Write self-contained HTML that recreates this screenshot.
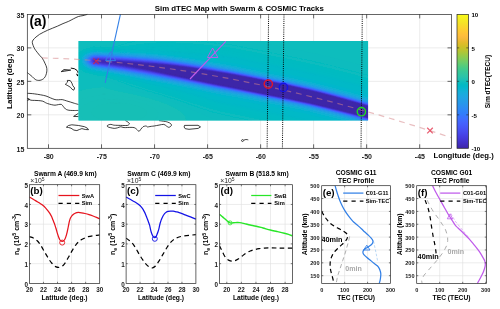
<!DOCTYPE html>
<html><head><meta charset="utf-8"><title>Sim dTEC Map with Swarm &amp; COSMIC Tracks</title>
<style>
html,body{margin:0;padding:0;background:#fff;}
body{width:500px;height:309px;overflow:hidden;}
svg{display:block;will-change:transform;}
text{font-family:"Liberation Sans",sans-serif;fill:#262626;}
.b{font-weight:bold;fill:#000;}
.t{font-weight:bold;fill:#1a1a1a;}
</style></head><body>
<svg width="500" height="309" viewBox="0 0 500 309">
<rect x="0" y="0" width="500" height="309" fill="#fff"/>
<defs><clipPath id="cm"><rect x="27.30" y="14.40" width="424.20" height="133.90"/></clipPath>
<clipPath id="ci"><rect x="78.50" y="40.90" width="289.60" height="79.70"/></clipPath></defs>
<path d="M48.51 14.40V148.30M101.53 14.40V148.30M154.56 14.40V148.30M207.59 14.40V148.30M260.61 14.40V148.30M313.63 14.40V148.30M366.66 14.40V148.30M419.69 14.40V148.30M27.30 114.83H451.50M27.30 81.35H451.50M27.30 47.88H451.50" stroke="#dfdfdf" stroke-width="0.6" fill="none"/>
<path d="M87.30 14.40C86.58 14.60 84.48 15.25 83.00 15.60C81.52 15.95 79.98 15.97 78.40 16.50C76.82 17.03 75.12 18.00 73.50 18.80C71.88 19.60 70.45 20.50 68.70 21.30C66.95 22.10 64.88 22.78 63.00 23.60C61.12 24.42 59.15 25.43 57.40 26.20C55.65 26.97 54.12 27.53 52.50 28.20C50.88 28.87 49.20 29.53 47.70 30.20C46.20 30.87 44.85 31.52 43.50 32.20C42.15 32.88 40.85 33.50 39.60 34.30C38.35 35.10 37.08 36.05 36.00 37.00C34.92 37.95 33.72 39.10 33.10 40.00C32.48 40.90 32.28 41.47 32.30 42.40C32.32 43.33 32.80 44.52 33.20 45.60C33.60 46.68 34.05 47.80 34.70 48.90C35.35 50.00 36.28 51.13 37.10 52.20C37.92 53.27 38.78 54.37 39.60 55.30C40.42 56.23 41.30 56.88 42.00 57.80C42.70 58.72 43.27 59.80 43.80 60.80C44.33 61.80 44.75 62.77 45.20 63.80C45.65 64.83 46.22 65.93 46.50 67.00C46.78 68.07 46.92 69.10 46.90 70.20C46.88 71.30 46.68 72.52 46.40 73.60C46.12 74.68 45.70 75.83 45.20 76.70C44.70 77.57 44.07 78.25 43.40 78.80C42.73 79.35 41.97 79.73 41.20 80.00C40.43 80.27 39.62 80.40 38.80 80.40C37.98 80.40 37.07 80.30 36.30 80.00C35.53 79.70 34.87 79.15 34.20 78.60C33.53 78.05 33.03 77.37 32.30 76.70C31.57 76.03 30.63 75.28 29.80 74.60C28.97 73.92 27.72 72.93 27.30 72.60" stroke="#000" stroke-width="0.75" fill="none" stroke-linejoin="round"/>
<path d="M27.30 93.30C27.92 93.33 29.77 93.40 31.00 93.50C32.23 93.60 33.12 93.68 34.70 93.90C36.28 94.12 38.62 94.45 40.50 94.80C42.38 95.15 44.33 95.48 46.00 96.00C47.67 96.52 49.00 97.30 50.50 97.90C52.00 98.50 53.67 99.28 55.00 99.60C56.33 99.92 57.30 99.80 58.50 99.80C59.70 99.80 60.90 99.43 62.20 99.60C63.50 99.77 64.95 100.40 66.30 100.80C67.65 101.20 68.95 101.58 70.30 102.00C71.65 102.42 73.03 102.88 74.40 103.30C75.77 103.72 77.82 104.30 78.50 104.50" stroke="#000" stroke-width="0.75" fill="none" stroke-linejoin="round"/>
<path d="M27.30 100.60C27.67 100.37 29.47 99.53 29.50 99.20C29.53 98.87 27.25 98.43 27.50 98.60C27.75 98.77 29.80 99.90 31.00 100.20C32.20 100.50 33.40 100.33 34.70 100.40C36.00 100.47 37.45 100.47 38.80 100.60C40.15 100.73 41.70 100.87 42.80 101.20C43.90 101.53 44.58 102.20 45.40 102.60C46.22 103.00 46.72 103.27 47.70 103.60C48.68 103.93 50.08 104.33 51.30 104.60C52.52 104.87 53.82 105.20 55.00 105.20C56.18 105.20 57.33 104.73 58.40 104.60C59.47 104.47 60.57 104.07 61.40 104.40C62.23 104.73 62.72 105.83 63.40 106.60C64.08 107.37 64.77 108.43 65.50 109.00C66.23 109.57 67.00 109.77 67.80 110.00C68.60 110.23 69.20 110.32 70.30 110.40C71.40 110.48 73.03 110.50 74.40 110.50C75.77 110.50 77.82 110.42 78.50 110.40" stroke="#000" stroke-width="0.75" fill="none" stroke-linejoin="round"/>
<path d="M125.40 120.60C125.80 120.83 127.13 121.50 127.80 122.00C128.47 122.50 129.27 123.13 129.40 123.60C129.53 124.07 129.00 124.48 128.60 124.80C128.20 125.12 128.33 125.40 127.00 125.50C125.67 125.60 122.73 125.45 120.60 125.40C118.47 125.35 115.63 125.33 114.20 125.20C112.77 125.07 112.67 124.73 112.00 124.60C111.33 124.47 110.83 124.33 110.20 124.40C109.57 124.47 108.73 124.73 108.20 125.00C107.67 125.27 107.00 125.67 107.00 126.00C107.00 126.33 107.67 126.73 108.20 127.00C108.73 127.27 109.20 127.37 110.20 127.60C111.20 127.83 112.98 128.37 114.20 128.40C115.42 128.43 116.43 128.07 117.50 127.80C118.57 127.53 119.68 126.87 120.60 126.80C121.52 126.73 122.20 127.27 123.00 127.40C123.80 127.53 124.27 127.60 125.40 127.60C126.53 127.60 128.33 127.40 129.80 127.40C131.27 127.40 133.03 127.27 134.20 127.60C135.37 127.93 136.00 128.78 136.80 129.40C137.60 130.02 138.30 131.37 139.00 131.30C139.70 131.23 140.33 129.75 141.00 129.00C141.67 128.25 142.40 127.27 143.00 126.80C143.60 126.33 144.07 126.33 144.60 126.20C145.13 126.07 145.73 125.88 146.20 126.00C146.67 126.12 147.00 126.77 147.40 126.90C147.80 127.03 147.93 126.90 148.60 126.80C149.27 126.70 150.47 126.43 151.40 126.30C152.33 126.17 152.93 126.20 154.20 126.00C155.47 125.80 157.40 125.37 159.00 125.10C160.60 124.83 162.57 124.25 163.80 124.40C165.03 124.55 165.60 125.52 166.40 126.00C167.20 126.48 167.93 127.20 168.60 127.30C169.27 127.40 169.92 126.95 170.40 126.60C170.88 126.25 171.43 125.67 171.50 125.20C171.57 124.73 171.15 124.20 170.80 123.80C170.45 123.40 169.97 123.10 169.40 122.80C168.83 122.50 168.07 122.22 167.40 122.00C166.73 121.78 166.30 121.67 165.40 121.50C164.50 121.33 163.07 121.15 162.00 121.00C160.93 120.85 159.50 120.67 159.00 120.60" stroke="#000" stroke-width="0.75" fill="none" stroke-linejoin="round"/>
<path d="M66.4 127.2L68.5 125.5L71.8 124.8L78.6 125.5L84.5 126.7L87.4 128.2L88.5 129.7L85.3 129.5L81.9 128.6L79.4 129.5L76.9 130.6L73.9 130.1L71 128.2L68.5 127.5ZM78.6 113.2L73.6 116.4L78.6 116.6" stroke="#000" stroke-width="0.75" fill="none" stroke-linejoin="round"/>
<path d="M67.3 80.4L70.2 80.5L71.9 83.1L72.8 85.7L74.7 88L73.7 90.2L72.1 89.3L70.5 87.3L67.9 85.7L65.3 84.3L67.6 82.1Z" stroke="#000" stroke-width="0.75" fill="none" stroke-linejoin="round"/>
<path d="M61.1 71.7L64 69.5L70.8 70.1L64.7 71.2Z" stroke="#000" stroke-width="0.7" fill="#000" fill-opacity="0.35" stroke-linejoin="round"/>
<path d="M71.2 68.1Q75 68.2 77 70.4T78 72.8" stroke="#000" stroke-width="0.95" fill="none" stroke-linecap="round"/>
<path d="M76.9 74.2L77.6 75.5" stroke="#000" stroke-width="1.2" fill="none" stroke-linecap="round"/>
<path d="M184.5 125.4L198 125.3L200.5 126.9L198.2 128.4L189 129.3L185.2 128.7L184.1 127Z" stroke="#000" stroke-width="0.75" fill="none" stroke-linejoin="round"/>
<path d="M241.5 140.6c0-1.2 2-1.4 2.2-0.2c0.2 1.2-2.2 1.6-2.2 0.2zM243.7 140.2c1.5-0.9 3-0.8 4.6-0.3" stroke="#000" stroke-width="0.7" fill="none"/>
<defs><filter id="bl" filterUnits="userSpaceOnUse" x="68.5" y="30.9" width="309.6" height="99.7"><feGaussianBlur stdDeviation="0.55"/></filter></defs>
<g clip-path="url(#ci)">
<rect x="78.50" y="40.90" width="289.60" height="79.70" fill="#12beb9"/>
<g filter="url(#bl)">
<rect x="70.50" y="32.90" width="305.60" height="95.70" fill="#14bfb8"/>
<path d="M101.8 94.4L102.5 94.3L103.5 94.3L104.5 94.3L105.5 94.3L106.5 94.4L107.5 94.4L108.0 94.5L109.0 94.5L110.0 94.5L111.0 94.6L112.0 94.7L113.0 94.8L114.0 94.8L114.5 94.9L115.5 95.0L116.5 95.1L117.5 95.2L118.5 95.3L119.4 95.4L120.0 95.5L121.0 95.6L122.0 95.7L123.0 95.8L123.5 95.9L124.5 96.1L125.5 96.3L126.5 96.4L127.0 96.5L128.0 96.6L129.0 96.8L129.5 96.9L130.5 97.1L131.5 97.2L132.2 97.4L133.0 97.5L134.0 97.7L134.8 97.9L135.5 98.0L136.5 98.3L137.2 98.4L138.0 98.6L139.0 98.8L139.5 98.9L140.5 99.2L141.5 99.4L142.0 99.6L143.0 99.8L143.5 100.0L144.5 100.2L145.2 100.4L146.0 100.6L147.0 100.9L147.5 101.1L148.5 101.4L149.0 101.5L150.0 101.8L150.5 102.0L151.5 102.3L152.0 102.5L153.0 102.9L153.5 103.0L154.4 103.4L155.0 103.6L155.7 103.9L156.5 104.3L157.0 104.4L158.0 104.9L158.5 105.1L159.1 105.4L160.0 105.8L160.5 106.1L161.1 106.4L162.0 106.9L162.5 107.2L163.0 107.4L163.7 107.9L164.5 108.4L165.0 108.7L165.5 109.1L166.0 109.5L166.5 109.9L167.0 110.4L167.5 110.9L168.0 111.4L168.5 112.1L169.0 112.9L169.3 113.4L169.5 114.1L169.7 114.9L169.7 115.9L169.5 116.7L169.2 117.4L169.0 117.9L168.5 118.6L168.0 119.2L167.5 119.8L167.0 120.2L166.5 120.6L166.0 121.0L165.5 121.4L164.7 121.9L164.0 122.3L163.5 122.6L163.0 122.9L162.0 123.4L161.5 123.6L160.9 123.9L160.0 124.3L159.5 124.4L158.5 124.4L157.5 124.4L156.5 124.4L155.5 124.4L154.5 124.4L153.5 124.4L152.5 124.4L151.5 124.4L150.5 124.4L149.5 124.4L148.5 124.4L147.5 124.4L146.5 124.4L145.5 124.4L144.5 124.4L143.5 124.4L142.5 124.4L141.5 124.4L140.5 124.4L139.5 124.4L138.5 124.4L137.5 124.4L136.5 124.4L135.5 124.4L134.5 124.4L133.5 124.4L132.5 124.4L131.5 124.4L130.5 124.4L129.5 124.4L128.5 124.4L127.5 124.4L126.5 124.4L125.5 124.4L124.5 124.4L123.5 124.4L122.5 124.4L121.5 124.4L120.5 124.4L119.5 124.4L118.5 124.4L117.5 124.4L116.5 124.4L115.5 124.4L114.5 124.4L113.5 124.4L112.5 124.4L111.5 124.4L110.5 124.4L109.5 124.4L108.5 124.4L107.5 124.4L106.5 124.4L105.5 124.4L104.5 124.4L103.5 124.4L102.5 124.4L101.5 124.4L100.5 124.4L99.5 124.4L98.5 124.4L97.5 124.4L96.5 124.4L95.5 124.4L94.5 124.4L93.5 124.4L92.5 124.4L91.5 124.4L90.5 124.4L89.5 124.4L88.5 124.4L87.5 124.4L86.5 124.4L85.5 124.4L84.5 124.4L83.5 124.4L82.5 124.4L81.5 124.4L80.5 124.4L79.9 124.4L79.0 124.0L78.5 123.8L77.6 123.4L77.0 123.1L76.5 122.9L75.5 122.4L75.0 122.1L74.5 121.8L74.5 120.9L74.5 119.9L74.5 118.9L74.5 117.9L74.5 116.9L74.5 115.9L74.5 114.9L74.5 113.9L74.5 112.9L74.5 111.9L74.5 110.9L74.5 109.9L74.5 108.9L74.5 107.9L74.5 106.9L74.5 105.9L74.5 104.9L74.5 103.9L74.5 102.9L74.5 102.2L75.0 101.9L75.9 101.4L76.5 101.1L77.0 100.9L78.0 100.4L78.5 100.2L79.2 99.9L80.0 99.6L80.5 99.4L81.5 99.0L82.0 98.8L83.0 98.5L83.5 98.3L84.5 98.0L85.0 97.8L86.0 97.6L86.5 97.4L87.5 97.1L88.4 96.9L89.0 96.7L90.0 96.5L90.5 96.4L91.5 96.2L92.5 95.9L93.0 95.8L94.0 95.6L95.0 95.5L95.5 95.4L96.5 95.2L97.5 95.0L98.2 94.9L99.0 94.8L100.0 94.6L101.0 94.5L101.8 94.4Z" fill="#14bfb8" fill-rule="evenodd" stroke="#14bfb8" stroke-width="0.3"/>
<path d="M103.7 98.9L104.5 98.8L105.5 98.8L106.5 98.7L107.5 98.6L108.5 98.6L109.5 98.6L110.5 98.6L111.5 98.5L112.5 98.6L113.5 98.6L114.5 98.6L115.5 98.6L116.5 98.7L117.5 98.7L118.5 98.8L119.5 98.9L120.0 98.9L121.0 99.0L122.0 99.1L123.0 99.2L124.0 99.3L125.0 99.4L125.5 99.5L126.5 99.6L127.5 99.8L128.5 99.9L129.0 100.0L130.0 100.1L131.0 100.3L131.5 100.4L132.5 100.6L133.5 100.8L134.1 100.9L135.0 101.1L136.0 101.3L136.5 101.4L137.5 101.6L138.5 101.9L139.0 102.0L140.0 102.3L140.5 102.4L141.5 102.7L142.2 102.9L143.0 103.1L143.8 103.4L144.5 103.6L145.3 103.9L146.0 104.1L146.7 104.4L147.5 104.7L148.0 104.9L149.0 105.3L149.5 105.5L150.3 105.9L151.0 106.2L151.5 106.5L152.3 106.9L153.0 107.3L153.5 107.6L154.0 107.9L154.7 108.4L155.4 108.9L156.0 109.4L156.5 109.9L157.0 110.4L157.4 110.9L157.8 111.4L158.1 111.9L158.4 112.9L158.5 113.4L158.5 114.4L158.5 114.9L158.1 115.9L157.8 116.4L157.4 116.9L157.0 117.4L156.5 117.9L155.9 118.4L155.3 118.9L154.5 119.4L154.0 119.7L153.5 120.0L152.8 120.4L152.0 120.8L151.5 121.0L150.7 121.4L150.0 121.7L149.4 121.9L148.5 122.2L148.0 122.4L147.0 122.7L146.5 122.9L145.5 123.2L144.7 123.4L144.0 123.6L143.0 123.8L142.5 124.0L141.5 124.2L140.5 124.4L140.0 124.4L139.0 124.4L138.0 124.4L137.0 124.4L136.0 124.4L135.0 124.4L134.0 124.4L133.0 124.4L132.0 124.4L131.0 124.4L130.0 124.4L129.0 124.4L128.0 124.4L127.0 124.4L126.0 124.4L125.0 124.4L124.0 124.4L123.0 124.4L122.0 124.4L121.0 124.4L120.0 124.4L119.0 124.4L118.0 124.4L117.0 124.4L116.0 124.4L115.0 124.4L114.0 124.4L113.0 124.4L112.0 124.4L111.0 124.4L110.0 124.4L109.0 124.4L108.0 124.4L107.0 124.4L106.0 124.4L105.0 124.4L104.0 124.4L103.0 124.4L102.0 124.4L101.0 124.4L100.0 124.4L99.3 124.4L98.5 124.2L97.5 124.0L97.0 123.9L96.0 123.6L95.0 123.4L94.5 123.2L93.5 123.0L93.0 122.8L92.0 122.5L91.5 122.3L90.5 122.0L90.0 121.8L89.0 121.4L88.5 121.2L87.8 120.9L87.0 120.5L86.5 120.3L85.7 119.9L85.0 119.5L84.5 119.2L84.0 118.9L83.3 118.4L82.6 117.9L82.0 117.4L81.5 117.0L81.0 116.5L80.5 115.9L80.1 115.4L79.8 114.9L79.5 114.3L79.2 113.4L79.0 112.5L79.0 111.9L79.0 111.4L79.2 110.4L79.5 109.7L79.9 108.9L80.3 108.4L80.7 107.9L81.1 107.4L81.6 106.9L82.2 106.4L82.9 105.9L83.5 105.4L84.0 105.1L84.5 104.8L85.2 104.4L86.0 104.0L86.5 103.7L87.1 103.4L88.0 103.0L88.5 102.8L89.5 102.4L90.0 102.2L90.8 101.9L91.5 101.7L92.3 101.4L93.0 101.2L94.0 100.9L94.5 100.8L95.5 100.5L96.0 100.4L97.0 100.1L97.9 99.9L98.5 99.8L99.5 99.6L100.3 99.4L101.0 99.3L102.0 99.1L103.0 99.0L103.7 98.9Z" fill="#16bfb7" fill-rule="evenodd" stroke="#16bfb7" stroke-width="0.3"/>
<path d="M109.7 102.9L110.5 102.8L111.5 102.8L112.5 102.7L113.5 102.7L114.5 102.6L115.5 102.6L116.5 102.6L117.5 102.6L118.5 102.7L119.5 102.7L120.5 102.7L121.5 102.8L122.5 102.9L123.0 102.9L124.0 103.0L125.0 103.1L126.0 103.3L126.9 103.4L127.5 103.5L128.5 103.6L129.5 103.8L130.1 103.9L131.0 104.1L132.0 104.3L132.5 104.4L133.5 104.7L134.5 104.9L135.0 105.0L136.0 105.3L136.5 105.5L137.5 105.8L138.0 106.0L139.0 106.3L139.5 106.5L140.4 106.9L141.0 107.2L141.6 107.4L142.5 107.9L143.0 108.2L143.5 108.5L144.1 108.9L144.8 109.4L145.4 109.9L145.9 110.4L146.3 110.9L146.6 111.4L146.9 112.4L147.0 112.9L147.0 113.4L146.7 114.4L146.4 114.9L146.0 115.5L145.5 116.0L145.0 116.4L144.4 116.9L143.6 117.4L143.0 117.7L142.5 118.0L141.7 118.4L141.0 118.7L140.5 118.9L139.5 119.2L139.0 119.4L138.0 119.7L137.4 119.9L136.5 120.1L135.5 120.4L135.0 120.5L134.0 120.7L133.1 120.9L132.5 121.0L131.5 121.2L130.5 121.3L129.9 121.4L129.0 121.5L128.0 121.6L127.0 121.7L126.0 121.8L125.0 121.9L124.5 121.9L123.5 122.0L122.5 122.0L121.5 122.0L120.5 122.0L119.5 122.0L118.5 122.0L117.5 122.0L116.5 122.0L115.5 121.9L115.0 121.9L114.0 121.8L113.0 121.7L112.0 121.6L111.0 121.5L110.0 121.4L109.5 121.4L108.5 121.2L107.5 121.0L106.7 120.9L106.0 120.8L105.0 120.6L104.2 120.4L103.5 120.2L102.5 120.0L102.0 119.8L101.0 119.5L100.5 119.4L99.5 119.0L99.0 118.9L98.0 118.5L97.5 118.2L96.7 117.9L96.0 117.5L95.5 117.2L94.9 116.9L94.2 116.4L93.5 115.9L93.0 115.4L92.5 114.9L92.1 114.4L91.8 113.9L91.5 113.2L91.3 112.4L91.3 111.4L91.5 110.8L91.9 109.9L92.3 109.4L92.7 108.9L93.2 108.4L93.8 107.9L94.5 107.4L95.0 107.1L95.5 106.8L96.1 106.4L97.0 106.0L97.5 105.8L98.3 105.4L99.0 105.1L99.7 104.9L100.5 104.6L101.2 104.4L102.0 104.2L103.0 103.9L103.5 103.8L104.5 103.6L105.5 103.4L106.0 103.3L107.0 103.2L108.0 103.1L109.0 103.0L109.7 102.9Z" fill="#18bfb6" fill-rule="evenodd" stroke="#18bfb6" stroke-width="0.3"/>
<path d="M74.5 36.9L75.5 36.9L76.5 36.9L77.5 36.9L78.5 36.9L79.5 36.9L80.5 36.9L81.5 36.9L82.5 36.9L83.5 36.9L84.5 36.9L85.5 36.9L86.5 36.9L87.5 36.9L88.5 36.9L89.5 36.9L90.5 36.9L91.5 36.9L92.5 36.9L93.5 36.9L94.5 36.9L95.5 36.9L96.5 36.9L97.5 36.9L98.5 36.9L99.5 36.9L100.5 36.9L101.5 36.9L102.5 36.9L103.5 36.9L104.5 36.9L105.5 36.9L106.5 36.9L107.5 36.9L108.5 36.9L109.5 36.9L110.5 36.9L111.5 36.9L112.5 36.9L113.5 36.9L114.5 36.9L115.5 36.9L116.5 36.9L117.5 36.9L118.5 36.9L119.5 36.9L120.5 36.9L121.5 36.9L122.5 36.9L123.5 36.9L124.5 36.9L125.5 36.9L126.5 36.9L127.5 36.9L128.5 36.9L129.5 36.9L130.5 36.9L131.5 36.9L132.5 36.9L133.5 36.9L134.5 36.9L135.5 36.9L136.5 36.9L137.5 36.9L138.5 36.9L139.5 36.9L140.5 36.9L141.5 36.9L142.5 36.9L143.5 36.9L144.5 36.9L145.5 36.9L146.5 36.9L147.5 36.9L148.5 36.9L149.5 36.9L150.5 36.9L151.5 36.9L152.5 36.9L153.5 36.9L154.5 36.9L155.5 36.9L156.5 36.9L157.5 36.9L158.5 36.9L159.5 36.9L160.5 36.9L161.5 36.9L162.5 36.9L163.5 36.9L164.5 36.9L165.5 36.9L166.5 36.9L167.5 36.9L168.5 36.9L169.5 36.9L170.5 36.9L171.5 36.9L172.5 36.9L173.5 36.9L174.5 36.9L175.5 36.9L176.5 36.9L177.5 36.9L178.5 36.9L179.5 36.9L180.5 36.9L181.5 36.9L182.5 36.9L183.5 36.9L184.5 36.9L185.5 36.9L186.5 36.9L187.5 36.9L188.5 36.9L189.5 36.9L190.5 36.9L191.5 36.9L192.5 36.9L193.5 36.9L194.5 36.9L195.5 36.9L196.5 36.9L197.5 36.9L198.5 36.9L199.5 36.9L200.5 36.9L201.5 36.9L202.5 36.9L203.5 36.9L204.5 36.9L205.5 36.9L206.5 36.9L207.5 36.9L208.5 36.9L209.5 36.9L210.5 36.9L211.5 36.9L212.5 36.9L213.5 36.9L214.5 36.9L215.5 36.9L216.5 36.9L217.5 36.9L218.5 36.9L219.5 36.9L220.5 36.9L221.5 36.9L222.5 36.9L223.5 36.9L224.5 36.9L225.5 36.9L226.5 36.9L227.5 36.9L228.5 36.9L229.5 36.9L230.5 36.9L231.5 36.9L232.5 36.9L233.5 36.9L234.5 36.9L235.5 36.9L236.5 36.9L237.5 36.9L238.5 36.9L239.5 36.9L240.5 36.9L241.5 36.9L242.5 36.9L243.5 36.9L244.5 36.9L245.5 36.9L246.5 36.9L247.5 36.9L248.5 36.9L249.5 36.9L250.5 36.9L251.5 36.9L252.5 36.9L253.5 36.9L254.5 36.9L255.5 36.9L256.5 36.9L257.5 36.9L258.5 36.9L259.5 36.9L260.5 36.9L261.5 36.9L262.5 36.9L263.5 36.9L264.5 36.9L265.5 36.9L266.5 36.9L267.5 36.9L268.5 36.9L269.5 36.9L270.5 36.9L271.5 36.9L272.5 36.9L273.5 36.9L274.5 36.9L275.5 36.9L276.5 36.9L277.5 36.9L278.5 36.9L279.5 36.9L280.5 36.9L281.5 36.9L282.5 36.9L283.5 36.9L284.5 36.9L285.5 36.9L286.5 36.9L287.5 36.9L288.5 36.9L289.5 36.9L290.5 36.9L291.5 36.9L292.5 36.9L293.5 36.9L294.5 36.9L295.5 36.9L296.5 36.9L297.5 36.9L298.5 36.9L299.5 36.9L300.5 36.9L301.5 36.9L302.5 36.9L303.5 36.9L304.5 36.9L305.5 36.9L306.5 36.9L307.5 36.9L308.5 36.9L309.5 36.9L310.5 36.9L311.5 36.9L312.5 36.9L313.5 36.9L314.5 36.9L315.5 36.9L316.5 36.9L317.5 36.9L318.5 36.9L319.5 36.9L320.5 36.9L321.5 36.9L322.5 36.9L323.5 36.9L324.5 36.9L325.5 36.9L326.5 36.9L327.5 36.9L328.5 36.9L329.5 36.9L330.5 36.9L331.5 36.9L332.5 36.9L333.5 36.9L334.5 36.9L335.5 36.9L336.5 36.9L337.5 36.9L338.5 36.9L339.5 36.9L340.5 36.9L341.5 36.9L342.5 36.9L343.5 36.9L344.5 36.9L345.5 36.9L346.5 36.9L347.5 36.9L348.5 36.9L349.5 36.9L350.5 36.9L351.5 36.9L352.5 36.9L353.5 36.9L354.5 36.9L355.5 36.9L356.5 36.9L357.5 36.9L358.5 36.9L359.5 36.9L360.5 36.9L361.5 36.9L362.5 36.9L363.5 36.9L364.5 36.9L365.5 36.9L366.5 36.9L367.5 36.9L368.5 36.9L369.5 36.9L370.5 36.9L371.5 36.9L372.0 37.4L372.0 38.4L372.0 39.4L372.0 40.4L372.0 41.4L372.0 42.4L372.0 43.4L372.0 44.4L372.0 45.4L372.0 46.4L372.0 47.4L372.0 48.4L372.0 49.4L372.0 50.4L372.0 51.4L372.0 52.4L372.0 53.4L372.0 54.4L372.0 55.4L372.0 56.4L372.0 57.4L372.0 58.4L372.0 59.4L372.0 60.4L372.0 61.4L372.0 62.4L372.0 63.4L372.0 64.4L372.0 65.4L372.0 66.4L372.0 67.4L372.0 68.4L372.0 69.4L372.0 70.4L372.0 71.4L372.0 72.4L372.0 73.4L372.0 74.4L372.0 75.4L372.0 76.4L372.0 77.4L372.0 78.4L372.0 79.4L372.0 80.4L372.0 81.4L372.0 82.4L372.0 83.4L372.0 84.4L372.0 85.4L372.0 86.4L372.0 87.4L372.0 88.4L372.0 89.4L372.0 90.4L372.0 91.4L372.0 92.4L372.0 93.4L372.0 94.4L372.0 95.4L372.0 96.4L372.0 97.4L372.0 98.4L372.0 99.4L372.0 100.4L372.0 101.4L372.0 102.4L372.0 103.4L372.0 104.4L372.0 105.4L372.0 106.4L372.0 107.4L372.0 108.4L372.0 109.4L372.0 110.4L372.0 111.4L372.0 112.4L372.0 113.4L372.0 114.4L372.0 115.4L372.0 116.4L372.0 117.4L372.0 118.4L372.0 119.4L372.0 120.4L372.0 121.4L372.0 122.4L372.0 123.4L372.0 124.4L371.0 124.4L370.0 124.4L369.0 124.4L368.0 124.4L367.0 124.4L366.0 124.4L365.0 124.4L364.0 124.4L363.0 124.4L362.0 124.4L361.0 124.4L360.0 124.4L359.0 124.4L358.0 124.4L357.0 124.4L356.0 124.4L355.0 124.4L354.0 124.4L353.0 124.4L352.0 124.4L351.0 124.4L350.0 124.4L349.0 124.4L348.0 124.4L347.0 124.4L346.0 124.4L345.0 124.4L344.0 124.4L343.0 124.4L342.0 124.4L341.0 124.4L340.0 124.4L339.0 124.4L338.0 124.4L337.0 124.4L336.0 124.4L335.0 124.4L334.0 124.4L333.0 124.4L332.0 124.4L331.0 124.4L330.0 124.4L329.0 124.4L328.0 124.4L327.0 124.4L326.0 124.4L325.0 124.4L324.0 124.4L323.0 124.4L322.0 124.4L321.0 124.4L320.0 124.4L319.0 124.4L318.0 124.4L317.0 124.4L316.0 124.4L315.0 124.4L314.0 124.4L313.0 124.4L312.0 124.4L311.0 124.4L310.0 124.4L309.0 124.4L308.0 124.4L307.0 124.4L306.0 124.4L305.0 124.4L304.0 124.4L303.0 124.4L302.0 124.4L301.0 124.4L300.0 124.4L299.0 124.4L298.0 124.4L297.0 124.4L296.0 124.4L295.0 124.4L294.0 124.4L293.0 124.4L292.0 124.4L291.0 124.4L290.0 124.4L289.0 124.4L288.0 124.4L287.0 124.4L286.0 124.4L285.0 124.4L284.0 124.4L283.0 124.4L282.0 124.4L281.0 124.4L280.0 124.4L279.0 124.4L278.0 124.4L277.0 124.4L276.0 124.4L275.0 124.4L274.0 124.4L273.0 124.4L272.0 124.4L271.0 124.4L270.0 124.4L269.0 124.4L268.0 124.4L267.0 124.4L266.0 124.4L265.0 124.4L264.0 124.4L263.0 124.4L262.0 124.4L261.0 124.4L260.0 124.4L259.0 124.4L258.0 124.4L257.0 124.4L256.0 124.4L255.0 124.4L254.0 124.4L253.0 124.4L252.0 124.4L251.0 124.4L250.0 124.4L249.0 124.4L248.0 124.4L247.0 124.4L246.0 124.4L245.0 124.4L244.0 124.4L243.0 124.4L242.0 124.4L241.0 124.4L240.0 124.4L239.0 124.4L238.0 124.4L237.0 124.4L236.0 124.4L235.0 124.4L234.0 124.4L233.0 124.4L232.0 124.4L231.0 124.4L230.0 124.4L229.0 124.4L228.0 124.4L227.0 124.4L226.0 124.4L225.0 124.4L224.0 124.4L223.0 124.4L222.0 124.4L221.0 124.4L220.0 124.4L219.0 124.4L218.0 124.4L217.0 124.4L216.0 124.4L215.0 124.4L214.0 124.4L213.0 124.4L212.0 124.4L211.0 124.4L210.0 124.4L209.0 124.4L208.0 124.4L207.0 124.4L206.0 124.4L205.0 124.4L204.0 124.4L203.0 124.4L202.0 124.4L201.0 124.4L200.0 124.4L199.0 124.4L198.0 124.4L197.0 124.4L196.0 124.4L195.0 124.4L194.0 124.4L193.0 124.4L192.0 124.4L191.0 124.4L190.0 124.4L189.0 124.4L188.0 124.4L187.0 124.4L186.0 124.4L185.0 124.4L184.0 124.4L183.2 124.4L183.8 123.9L184.3 123.4L184.7 122.9L185.1 122.4L185.5 121.8L185.9 120.9L186.1 120.4L186.2 119.4L186.2 118.4L186.0 117.7L185.7 116.9L185.5 116.4L185.0 115.6L184.5 114.9L184.0 114.4L183.6 113.9L183.1 113.4L182.6 112.9L182.0 112.4L181.5 112.0L181.0 111.6L180.5 111.3L180.0 110.9L179.3 110.4L178.5 109.9L178.0 109.6L177.5 109.3L176.9 108.9L176.1 108.4L175.5 108.1L175.0 107.8L174.2 107.4L173.5 107.0L173.0 106.8L172.2 106.4L171.5 106.1L171.0 105.8L170.1 105.4L169.5 105.2L169.0 104.9L168.0 104.5L167.5 104.3L166.6 103.9L166.0 103.7L165.3 103.4L164.5 103.1L164.0 102.9L163.0 102.5L162.5 102.3L161.5 101.9L161.0 101.8L160.0 101.4L159.5 101.2L158.6 100.9L158.0 100.7L157.0 100.4L156.5 100.2L155.5 99.9L155.0 99.8L154.0 99.4L153.5 99.3L152.5 99.0L152.0 98.8L151.0 98.6L150.5 98.4L149.5 98.1L148.8 97.9L148.0 97.7L147.1 97.4L146.5 97.3L145.5 97.0L145.0 96.9L144.0 96.6L143.2 96.4L142.5 96.3L141.5 96.0L141.0 95.9L140.0 95.6L139.1 95.4L138.5 95.3L137.5 95.0L136.9 94.9L136.0 94.6L135.0 94.4L134.5 94.4L133.5 94.1L132.5 93.9L132.0 93.8L131.0 93.6L130.3 93.4L129.5 93.2L128.5 93.0L128.0 92.9L127.0 92.7L126.0 92.5L125.5 92.4L124.5 92.2L123.5 92.0L123.0 91.9L122.0 91.7L121.0 91.4L120.5 91.4L119.5 91.1L118.5 90.9L118.0 90.9L117.0 90.6L116.0 90.4L115.5 90.2L114.5 90.0L114.0 89.9L113.0 89.7L112.0 89.5L111.5 89.3L110.5 89.1L110.0 88.9L109.0 88.7L108.0 88.4L107.5 88.2L106.5 88.0L106.0 87.7L105.0 87.4L104.5 87.0L103.7 86.9L103.0 86.8L102.3 86.9L101.5 87.0L100.5 87.1L99.5 87.2L98.5 87.3L97.5 87.4L97.0 87.4L96.0 87.5L95.0 87.7L94.0 87.8L93.3 87.9L92.5 88.0L91.5 88.1L90.5 88.3L89.9 88.4L89.0 88.5L88.0 88.7L87.0 88.9L86.5 89.0L85.5 89.1L84.5 89.3L84.0 89.4L83.0 89.6L82.0 89.8L81.5 89.9L80.5 90.2L79.5 90.4L79.0 90.5L78.0 90.7L77.3 90.9L76.5 91.1L75.5 91.4L75.0 91.5L74.5 91.4L74.5 90.4L74.5 89.4L74.5 88.4L74.5 87.4L74.5 86.4L74.5 85.4L74.5 84.4L74.5 83.4L74.5 82.4L74.5 81.4L74.5 80.4L74.5 79.4L74.5 78.4L74.5 77.4L74.5 76.4L74.5 75.4L74.5 74.4L74.5 73.4L74.5 72.4L74.5 71.4L74.5 70.4L74.5 69.4L74.5 68.4L74.5 67.4L74.5 66.4L74.5 65.4L74.5 64.4L74.5 63.4L74.5 62.4L74.5 61.4L74.5 60.4L74.5 59.4L74.5 58.4L74.5 57.4L74.5 56.4L74.5 55.4L74.5 54.4L74.5 53.4L74.5 52.4L74.5 51.4L74.5 50.4L74.5 49.4L74.5 48.4L74.5 47.4L74.5 46.4L74.5 45.4L74.5 44.4L74.5 43.4L74.5 42.4L74.5 41.4L74.5 40.4L74.5 39.4L74.5 38.4L74.5 37.4Z" fill="#0bbdbd" fill-rule="evenodd" stroke="#0bbdbd" stroke-width="0.3"/>
<path d="M116.3 37.4L117.0 37.1L117.5 36.9L118.5 36.9L119.5 36.9L120.5 36.9L121.5 36.9L122.5 36.9L123.5 36.9L124.5 36.9L125.5 36.9L126.5 36.9L127.5 36.9L128.5 36.9L129.5 36.9L130.5 36.9L131.5 36.9L132.5 36.9L133.5 36.9L134.5 36.9L135.5 36.9L136.5 36.9L137.5 36.9L138.5 36.9L139.5 36.9L140.5 36.9L141.5 36.9L142.5 36.9L143.5 36.9L144.5 36.9L145.5 36.9L146.5 36.9L147.5 36.9L148.5 36.9L149.5 36.9L150.5 36.9L151.5 36.9L152.5 36.9L153.5 36.9L154.5 36.9L155.5 36.9L156.5 36.9L157.5 36.9L158.5 36.9L159.5 36.9L160.5 36.9L161.5 36.9L162.5 36.9L163.5 36.9L164.5 36.9L165.5 36.9L166.5 36.9L167.5 36.9L168.5 36.9L169.5 36.9L170.5 36.9L171.5 36.9L172.5 36.9L173.5 36.9L174.5 36.9L175.5 36.9L176.5 36.9L177.5 36.9L178.5 36.9L179.5 36.9L180.5 36.9L181.5 36.9L182.5 36.9L183.5 36.9L184.5 36.9L185.5 36.9L186.5 36.9L187.5 36.9L188.5 36.9L189.5 36.9L190.5 36.9L191.5 36.9L192.5 36.9L193.5 36.9L194.5 36.9L195.5 36.9L196.5 36.9L197.5 36.9L198.5 36.9L199.5 36.9L200.5 36.9L201.5 36.9L202.5 36.9L203.5 36.9L204.5 36.9L205.5 36.9L206.5 36.9L207.5 36.9L208.5 36.9L209.5 36.9L210.5 36.9L211.5 36.9L212.5 36.9L213.5 36.9L214.5 36.9L215.5 36.9L216.5 36.9L217.5 36.9L218.5 36.9L219.5 36.9L220.5 36.9L221.5 36.9L222.5 36.9L223.5 36.9L224.5 36.9L225.5 36.9L226.5 36.9L227.5 36.9L228.5 36.9L229.5 36.9L230.5 36.9L231.5 36.9L232.0 36.9L233.0 37.1L234.0 37.2L234.9 37.4L235.5 37.5L236.5 37.7L237.5 37.9L238.0 38.0L239.0 38.2L240.0 38.3L240.5 38.4L241.5 38.6L242.5 38.8L243.0 38.9L244.0 39.1L245.0 39.3L245.6 39.4L246.5 39.6L247.5 39.8L248.2 39.9L249.0 40.0L250.0 40.2L250.8 40.4L251.5 40.5L252.5 40.7L253.4 40.9L254.0 41.0L255.0 41.2L255.9 41.4L256.5 41.5L257.5 41.7L258.4 41.9L259.0 42.0L260.0 42.2L260.9 42.4L261.5 42.5L262.5 42.7L263.4 42.9L264.0 43.0L265.0 43.2L265.8 43.4L266.5 43.5L267.5 43.7L268.3 43.9L269.0 44.0L270.0 44.3L270.7 44.4L271.5 44.6L272.5 44.8L273.1 44.9L274.0 45.1L275.0 45.3L275.6 45.4L276.5 45.6L277.5 45.8L278.2 45.9L279.0 46.0L280.0 46.2L280.8 46.4L281.5 46.5L282.5 46.7L283.3 46.9L284.0 47.0L285.0 47.2L285.9 47.4L286.5 47.5L287.5 47.7L288.4 47.9L289.0 48.0L290.0 48.2L290.8 48.4L291.5 48.5L292.5 48.7L293.3 48.9L294.0 49.0L295.0 49.2L295.7 49.4L296.5 49.6L297.5 49.8L298.2 49.9L299.0 50.1L300.0 50.3L300.6 50.4L301.5 50.6L302.5 50.8L303.0 50.9L304.0 51.1L305.0 51.3L305.5 51.4L306.5 51.7L307.5 51.9L308.0 52.0L309.0 52.2L310.0 52.4L310.5 52.5L311.5 52.7L312.3 52.9L313.0 53.1L314.0 53.3L314.6 53.4L315.5 53.6L316.5 53.8L317.0 53.9L318.0 54.1L319.0 54.4L319.5 54.5L320.5 54.7L321.2 54.9L322.0 55.1L323.0 55.3L323.5 55.4L324.5 55.7L325.3 55.9L326.0 56.1L327.0 56.3L327.5 56.4L328.5 56.7L329.4 56.9L330.0 57.0L331.0 57.3L331.5 57.4L332.5 57.7L333.4 57.9L334.0 58.0L335.0 58.3L335.5 58.4L336.5 58.7L337.4 58.9L338.0 59.0L339.0 59.3L339.5 59.4L340.5 59.7L341.3 59.9L342.0 60.1L343.0 60.3L343.5 60.4L344.5 60.7L345.2 60.9L346.0 61.1L347.0 61.4L347.5 61.5L348.5 61.7L349.1 61.9L350.0 62.1L351.0 62.4L351.5 62.5L352.5 62.8L353.0 62.9L354.0 63.2L354.8 63.4L355.5 63.6L356.5 63.8L357.0 64.0L358.0 64.2L358.6 64.4L359.5 64.6L360.5 64.9L361.0 65.0L362.0 65.3L362.5 65.4L363.5 65.7L364.2 65.9L365.0 66.1L366.0 66.4L366.5 66.5L367.5 66.8L368.0 66.9L369.0 67.2L369.7 67.4L370.5 67.6L371.5 67.9L372.0 68.0L372.0 68.9L372.0 69.9L372.0 70.9L372.0 71.9L372.0 72.9L372.0 73.9L372.0 74.9L372.0 75.9L372.0 76.9L372.0 77.9L372.0 78.9L372.0 79.9L372.0 80.9L372.0 81.9L372.0 82.9L372.0 83.9L372.0 84.9L372.0 85.9L372.0 86.9L372.0 87.9L372.0 88.9L372.0 89.9L372.0 90.9L372.0 91.9L372.0 92.9L372.0 93.9L372.0 94.9L372.0 95.9L372.0 96.9L372.0 97.9L372.0 98.9L372.0 99.9L372.0 100.9L372.0 101.9L372.0 102.9L372.0 103.9L372.0 104.9L372.0 105.9L372.0 106.9L372.0 107.9L372.0 108.9L372.0 109.9L372.0 110.9L372.0 111.9L372.0 112.9L372.0 113.9L372.0 114.9L372.0 115.9L372.0 116.9L372.0 117.9L372.0 118.9L372.0 119.9L372.0 120.9L372.0 121.9L372.0 122.9L372.0 123.9L371.5 124.4L370.5 124.4L369.5 124.4L368.5 124.4L367.5 124.4L366.5 124.4L365.5 124.4L364.5 124.4L363.5 124.4L362.5 124.4L361.5 124.4L360.5 124.4L359.5 124.4L358.5 124.4L357.5 124.4L356.5 124.4L355.5 124.4L354.5 124.4L353.5 124.4L352.5 124.4L351.5 124.4L350.5 124.4L349.5 124.4L348.5 124.4L347.5 124.4L346.5 124.4L345.5 124.4L344.5 124.4L343.5 124.4L342.5 124.4L341.5 124.4L340.5 124.4L339.5 124.4L338.5 124.4L337.5 124.4L336.5 124.4L335.5 124.4L334.5 124.4L333.5 124.4L332.5 124.4L331.5 124.4L330.5 124.4L329.5 124.4L328.5 124.4L327.5 124.4L326.5 124.4L325.5 124.4L324.5 124.4L323.5 124.4L322.5 124.4L321.5 124.4L320.5 124.4L319.5 124.4L318.5 124.4L317.5 124.4L316.5 124.4L315.5 124.4L314.5 124.4L313.5 124.4L312.5 124.4L311.5 124.4L310.5 124.4L309.5 124.4L308.5 124.4L307.5 124.4L306.5 124.4L305.5 124.4L304.5 124.4L303.5 124.4L302.5 124.4L301.5 124.4L300.5 124.4L299.5 124.4L298.5 124.4L297.5 124.4L296.5 124.4L295.5 124.4L294.5 124.4L293.5 124.4L292.5 124.4L291.5 124.4L290.5 124.4L289.5 124.4L288.5 124.4L287.5 124.4L286.5 124.4L285.5 124.4L284.5 124.4L283.5 124.4L282.5 124.4L281.5 124.4L280.5 124.4L279.5 124.4L278.5 124.4L277.5 124.4L276.5 124.4L275.5 124.4L274.5 124.4L273.5 124.4L272.5 124.4L271.5 124.4L270.5 124.4L269.5 124.4L268.5 124.4L267.5 124.4L266.5 124.4L265.5 124.4L264.5 124.4L263.5 124.4L262.5 124.4L261.5 124.4L260.5 124.4L259.5 124.4L258.5 124.4L257.5 124.4L256.5 124.4L255.5 124.4L254.5 124.4L253.5 124.4L252.5 124.4L251.5 124.4L250.5 124.4L249.5 124.4L248.5 124.4L247.5 124.4L246.5 124.4L245.5 124.4L244.5 124.4L243.5 124.4L242.5 124.4L241.5 124.4L240.5 124.4L239.5 124.4L238.5 124.4L237.5 124.4L236.5 124.4L235.5 124.4L234.5 124.4L233.5 124.4L232.5 124.4L232.0 124.3L231.0 124.1L230.4 123.9L229.5 123.7L228.5 123.4L228.0 123.3L227.0 123.0L226.5 122.9L225.5 122.6L224.8 122.4L224.0 122.2L223.0 121.9L222.5 121.8L221.5 121.5L221.0 121.3L220.0 121.0L219.5 120.9L218.5 120.6L218.0 120.4L217.0 120.1L216.5 119.9L215.5 119.5L215.0 119.3L214.0 118.9L213.5 118.8L212.6 118.4L212.0 118.2L211.3 117.9L210.5 117.6L210.0 117.4L209.0 117.0L208.5 116.8L207.6 116.4L207.0 116.2L206.4 115.9L205.5 115.5L205.0 115.3L204.1 114.9L203.5 114.6L203.0 114.4L202.0 113.9L201.5 113.7L200.8 113.4L200.0 113.1L199.5 112.8L198.5 112.4L198.0 112.2L197.4 111.9L196.5 111.5L196.0 111.3L195.2 110.9L194.5 110.6L194.0 110.4L193.0 110.0L192.5 109.7L191.7 109.4L191.0 109.1L190.5 108.9L189.5 108.5L189.0 108.2L188.2 107.9L187.5 107.6L187.0 107.4L186.0 107.0L185.5 106.8L184.6 106.4L184.0 106.2L183.3 105.9L182.5 105.6L182.0 105.4L181.0 105.0L180.5 104.8L179.5 104.4L179.0 104.2L178.2 103.9L177.5 103.6L176.8 103.4L176.0 103.1L175.5 102.9L174.5 102.5L174.0 102.4L173.0 102.0L172.5 101.8L171.5 101.5L171.0 101.3L170.0 101.0L169.5 100.8L168.5 100.4L168.0 100.3L167.0 99.9L166.5 99.7L165.5 99.4L165.0 99.2L164.0 98.9L163.5 98.8L162.5 98.5L162.0 98.3L161.0 98.0L160.5 97.8L159.5 97.5L159.0 97.3L158.0 97.0L157.4 96.9L156.5 96.6L155.8 96.4L155.0 96.1L154.2 95.9L153.5 95.7L152.5 95.4L152.0 95.3L151.0 95.0L150.5 94.8L149.5 94.6L149.0 94.4L148.0 94.1L147.1 93.9L146.5 93.7L145.5 93.5L145.0 93.3L144.0 93.1L143.5 92.9L142.5 92.6L141.6 92.4L141.0 92.2L140.0 92.0L139.5 91.8L138.5 91.6L138.0 91.4L137.0 91.1L136.0 90.9L135.5 90.7L134.5 90.5L134.0 90.3L133.0 90.1L132.5 89.9L131.5 89.6L130.7 89.4L130.0 89.2L129.0 88.9L128.5 88.7L127.5 88.5L127.0 88.3L126.0 88.0L125.5 87.8L124.5 87.5L123.9 87.4L123.0 87.0L122.4 86.9L121.5 86.4L121.0 86.4L120.1 85.9L119.5 85.8L118.8 85.4L118.0 85.2L117.5 84.8L116.5 84.5L116.0 84.1L115.3 83.9L114.6 83.4L114.0 83.3L113.5 82.8L113.0 82.4L112.0 81.9L111.5 81.4L111.0 81.4L110.5 80.9L109.5 80.4L109.0 80.0L108.5 79.5L107.9 79.4L107.3 78.9L106.5 78.7L106.0 78.3L105.3 77.9L104.5 77.6L103.5 77.5L103.0 77.3L102.0 77.2L101.0 77.0L100.2 76.9L99.5 76.8L98.5 76.6L97.5 76.4L97.0 76.4L96.0 76.2L95.0 76.0L94.3 75.9L93.5 75.8L92.5 75.7L91.5 75.5L91.0 75.4L90.0 75.2L89.0 75.0L88.5 74.8L87.5 74.5L87.0 74.3L86.0 74.0L85.5 73.8L84.5 73.4L84.0 73.1L83.2 72.9L82.6 72.4L82.0 72.3L81.5 71.9L80.5 71.5L80.0 71.0L79.4 70.9L78.9 70.4L78.0 69.9L77.6 69.4L77.2 68.9L76.5 68.6L76.0 67.9L75.7 67.4L75.0 67.0L74.6 66.4L74.5 65.9L74.5 64.9L74.5 63.9L74.5 62.9L74.5 61.9L74.5 60.9L74.5 59.9L74.5 58.9L74.5 57.9L74.5 56.9L74.5 55.9L74.5 54.9L74.5 54.0L74.7 53.4L75.5 52.9L75.8 52.4L76.5 52.1L76.9 51.4L77.3 50.9L78.0 50.6L78.5 50.0L79.1 49.9L79.6 49.4L80.5 49.0L81.0 48.6L81.8 48.4L82.5 48.2L83.0 47.9L84.0 47.5L84.5 47.2L85.5 47.0L86.0 46.7L87.0 46.5L87.8 46.4L88.5 46.2L89.5 46.0L90.4 45.9L91.0 45.8L92.0 45.7L93.0 45.6L94.0 45.6L95.0 45.5L96.0 45.5L97.0 45.5L98.0 45.5L99.0 45.5L100.0 45.6L101.0 45.6L102.0 45.6L103.0 45.5L104.0 45.5L105.0 45.6L106.0 45.6L107.0 45.6L107.8 45.4L108.5 45.3L109.0 44.9L109.5 44.9L110.0 44.4L110.5 44.1L111.0 43.7L111.4 42.9L112.0 42.7L112.3 41.9L113.0 41.5L113.2 40.9L113.5 40.1L114.1 39.9L114.5 38.9L115.0 38.9L115.5 37.9L116.0 37.9Z" fill="#09bcbe" fill-rule="evenodd" stroke="#09bcbe" stroke-width="0.3"/>
<path d="M152.2 38.9L152.9 38.9L153.1 38.9L154.0 38.9L155.0 38.9L156.0 38.7L157.0 38.7L158.0 38.7L159.0 38.7L160.0 38.8L161.0 38.7L162.0 38.7L163.0 38.7L164.0 38.7L165.0 38.8L166.0 38.8L167.0 38.8L168.0 38.8L169.0 38.8L170.0 38.9L170.5 38.9L171.5 38.9L172.5 39.0L173.5 39.0L174.5 39.1L175.5 39.1L176.5 39.2L177.5 39.2L178.5 39.3L179.5 39.3L180.4 39.4L181.0 39.4L182.0 39.5L183.0 39.6L184.0 39.7L185.0 39.7L186.0 39.8L187.0 39.9L187.5 39.9L188.5 40.0L189.5 40.0L190.5 40.1L191.5 40.2L192.5 40.3L193.2 40.4L194.0 40.5L195.0 40.6L196.0 40.7L197.0 40.7L198.0 40.8L198.5 40.9L199.5 41.0L200.5 41.1L201.5 41.2L202.5 41.3L203.3 41.4L204.0 41.5L205.0 41.6L206.0 41.7L207.0 41.8L207.9 41.9L208.5 42.0L209.5 42.1L210.5 42.2L211.5 42.3L212.0 42.4L213.0 42.5L214.0 42.6L215.0 42.8L215.8 42.9L216.5 43.0L217.5 43.1L218.5 43.2L219.5 43.4L220.0 43.4L221.0 43.6L222.0 43.6L223.0 43.8L224.0 43.9L224.5 43.9L225.5 44.1L226.5 44.2L227.5 44.3L228.3 44.4L229.0 44.5L230.0 44.6L231.0 44.7L231.8 44.9L232.5 45.0L233.5 45.2L234.5 45.4L235.0 45.5L236.0 45.7L237.0 45.8L237.5 45.9L238.5 46.1L239.5 46.3L240.0 46.4L241.0 46.6L242.0 46.8L242.6 46.9L243.5 47.1L244.5 47.3L245.3 47.4L246.0 47.5L247.0 47.7L247.9 47.9L248.5 48.0L249.5 48.2L250.4 48.4L251.0 48.5L252.0 48.7L253.0 48.9L253.5 49.0L254.5 49.2L255.5 49.4L256.0 49.5L257.0 49.7L258.0 49.9L258.5 50.0L259.5 50.2L260.5 50.4L261.0 50.5L262.0 50.7L263.0 50.9L263.5 51.0L264.5 51.2L265.4 51.4L266.0 51.5L267.0 51.7L267.8 51.9L268.5 52.0L269.5 52.2L270.2 52.4L271.0 52.6L272.0 52.8L272.7 52.9L273.5 53.1L274.5 53.2L275.3 53.4L276.0 53.5L277.0 53.7L277.9 53.9L278.5 54.0L279.5 54.2L280.4 54.4L281.0 54.5L282.0 54.7L283.0 54.9L283.5 55.0L284.5 55.2L285.5 55.4L286.0 55.5L287.0 55.7L288.0 55.9L288.5 56.0L289.5 56.2L290.4 56.4L291.0 56.5L292.0 56.7L292.9 56.9L293.5 57.0L294.5 57.2L295.3 57.4L296.0 57.5L297.0 57.7L297.7 57.9L298.5 58.1L299.5 58.3L300.1 58.4L301.0 58.6L302.0 58.8L302.5 58.9L303.5 59.1L304.5 59.3L305.0 59.4L306.0 59.6L307.0 59.9L307.5 60.0L308.5 60.2L309.5 60.4L310.0 60.5L311.0 60.7L311.8 60.9L312.5 61.0L313.5 61.3L314.1 61.4L315.0 61.6L316.0 61.8L316.5 61.9L317.5 62.1L318.5 62.4L319.0 62.5L320.0 62.7L320.6 62.9L321.5 63.1L322.5 63.4L323.0 63.5L324.0 63.7L324.7 63.9L325.5 64.1L326.5 64.3L327.0 64.5L328.0 64.7L328.8 64.9L329.5 65.1L330.5 65.3L331.0 65.5L332.0 65.7L332.8 65.9L333.5 66.1L334.5 66.3L335.0 66.5L336.0 66.7L336.7 66.9L337.5 67.1L338.5 67.3L339.0 67.5L340.0 67.7L340.7 67.9L341.5 68.1L342.5 68.4L343.0 68.5L344.0 68.8L344.5 68.9L345.5 69.1L346.5 69.4L347.0 69.5L348.0 69.8L348.5 69.9L349.5 70.2L350.3 70.4L351.0 70.6L352.0 70.8L352.5 71.0L353.5 71.2L354.1 71.4L355.0 71.6L356.0 71.9L356.5 72.0L357.5 72.3L358.0 72.4L359.0 72.7L359.7 72.9L360.5 73.1L361.5 73.4L362.0 73.5L363.0 73.8L363.5 73.9L364.5 74.2L365.3 74.4L366.0 74.6L367.0 74.9L367.5 75.0L368.5 75.3L369.0 75.4L370.0 75.7L370.8 75.9L371.5 76.1L372.0 76.4L372.0 77.4L372.0 78.4L372.0 79.4L372.0 80.4L372.0 81.4L372.0 82.4L372.0 83.4L372.0 84.4L372.0 85.4L372.0 86.4L372.0 87.4L372.0 88.4L372.0 89.4L372.0 90.4L372.0 91.4L372.0 92.4L372.0 93.4L372.0 94.4L372.0 95.4L372.0 96.4L372.0 97.4L372.0 98.4L372.0 99.4L372.0 100.4L372.0 101.4L372.0 102.4L372.0 103.4L372.0 104.4L372.0 105.4L372.0 106.4L372.0 107.4L372.0 108.4L372.0 109.4L372.0 110.4L372.0 111.4L372.0 112.4L372.0 113.4L372.0 114.4L372.0 115.4L372.0 116.4L372.0 117.4L372.0 118.4L372.0 119.4L372.0 120.4L372.0 121.4L372.0 122.4L372.0 123.4L372.0 124.4L371.0 124.4L370.0 124.4L369.0 124.4L368.0 124.4L367.0 124.4L366.0 124.4L365.0 124.4L364.0 124.4L363.0 124.4L362.0 124.4L361.0 124.4L360.0 124.4L359.0 124.4L358.0 124.4L357.0 124.4L356.0 124.4L355.0 124.4L354.0 124.4L353.0 124.4L352.0 124.4L351.0 124.4L350.0 124.4L349.0 124.4L348.0 124.4L347.0 124.4L346.0 124.4L345.0 124.4L344.0 124.4L343.0 124.4L342.0 124.4L341.0 124.4L340.0 124.4L339.0 124.4L338.0 124.4L337.0 124.4L336.0 124.4L335.0 124.4L334.0 124.4L333.0 124.4L332.0 124.4L331.0 124.4L330.0 124.4L329.0 124.4L328.0 124.4L327.0 124.4L326.0 124.4L325.0 124.4L324.0 124.4L323.0 124.4L322.0 124.4L321.0 124.4L320.0 124.4L319.0 124.4L318.0 124.4L317.0 124.4L316.0 124.4L315.0 124.4L314.0 124.4L313.0 124.4L312.0 124.4L311.0 124.4L310.0 124.4L309.0 124.4L308.0 124.4L307.0 124.4L306.0 124.4L305.0 124.4L304.0 124.4L303.0 124.4L302.0 124.4L301.0 124.4L300.0 124.4L299.0 124.4L298.0 124.4L297.0 124.4L296.0 124.4L295.0 124.4L294.0 124.4L293.0 124.4L292.0 124.4L291.0 124.4L290.0 124.4L289.0 124.4L288.0 124.4L287.0 124.4L286.0 124.4L285.0 124.4L284.0 124.4L283.0 124.4L282.0 124.4L281.0 124.4L280.0 124.4L279.0 124.4L278.0 124.4L277.0 124.4L276.0 124.4L275.0 124.4L274.0 124.4L273.0 124.4L272.0 124.4L271.0 124.4L270.0 124.4L269.3 124.4L268.5 124.2L267.5 124.0L266.8 123.9L266.0 123.7L265.0 123.6L264.2 123.4L263.5 123.3L262.5 123.1L261.7 122.9L261.0 122.8L260.0 122.6L259.1 122.4L258.5 122.3L257.5 122.1L256.7 121.9L256.0 121.8L255.0 121.5L254.3 121.4L253.5 121.2L252.5 121.0L252.0 120.9L251.0 120.7L250.0 120.5L249.5 120.4L248.5 120.2L247.5 120.0L247.0 119.8L246.0 119.6L245.0 119.4L244.5 119.3L243.5 119.1L242.5 118.9L242.0 118.8L241.0 118.6L240.2 118.4L239.5 118.3L238.5 118.1L237.8 117.9L237.0 117.7L236.0 117.5L235.4 117.4L234.5 117.2L233.5 117.0L233.0 116.9L232.0 116.7L231.0 116.4L230.5 116.3L229.5 116.1L228.5 115.9L228.0 115.8L227.0 115.6L226.2 115.4L225.5 115.2L224.5 115.0L223.9 114.9L223.0 114.7L222.0 114.5L221.5 114.4L220.5 114.1L219.5 113.9L219.0 113.8L218.0 113.5L217.5 113.4L216.5 113.1L215.9 112.9L215.0 112.7L214.2 112.4L213.5 112.2L212.5 111.9L212.0 111.7L211.0 111.5L210.5 111.3L209.5 111.0L209.0 110.9L208.0 110.6L207.5 110.4L206.5 110.1L206.0 109.9L205.0 109.6L204.5 109.4L203.5 109.0L203.0 108.9L202.0 108.5L201.5 108.4L200.5 108.0L200.0 107.9L199.0 107.5L198.5 107.4L197.5 107.0L197.0 106.8L196.0 106.5L195.5 106.3L194.5 106.0L194.0 105.8L193.0 105.5L192.5 105.3L191.5 104.9L191.0 104.7L190.0 104.4L189.5 104.2L188.5 103.9L188.0 103.7L187.1 103.4L186.5 103.2L185.6 102.9L185.0 102.7L184.1 102.4L183.5 102.2L182.7 101.9L182.0 101.6L181.2 101.4L180.5 101.2L179.7 100.9L179.0 100.7L178.2 100.4L177.5 100.2L176.7 99.9L176.0 99.7L175.2 99.4L174.5 99.2L173.7 98.9L173.0 98.7L172.0 98.4L171.5 98.2L170.5 97.9L170.0 97.7L169.0 97.4L168.5 97.3L167.5 97.0L167.0 96.8L166.0 96.5L165.5 96.3L164.5 96.0L164.0 95.8L163.0 95.5L162.5 95.4L161.5 95.1L161.0 94.9L160.0 94.6L159.4 94.4L158.5 94.2L157.6 93.9L157.0 93.7L156.0 93.4L155.5 93.2L154.5 93.0L154.0 92.8L153.0 92.5L152.5 92.3L151.5 92.1L151.0 91.9L150.0 91.6L149.1 91.4L148.5 91.2L147.5 90.9L147.0 90.7L146.0 90.5L145.5 90.3L144.5 90.0L143.9 89.9L143.0 89.5L142.3 89.4L141.5 89.1L140.7 88.9L140.0 88.6L139.2 88.4L138.5 88.2L137.6 87.9L137.0 87.8L136.1 87.4L135.5 87.3L134.7 86.9L134.0 86.8L133.2 86.4L132.5 86.3L131.5 86.0L131.0 85.7L130.0 85.4L129.5 85.2L128.9 84.9L128.0 84.6L127.5 84.3L126.5 84.0L126.0 83.7L125.0 83.4L124.5 83.3L123.7 82.9L123.0 82.8L122.4 82.4L121.5 82.2L121.0 81.9L120.0 81.5L119.5 81.3L118.5 80.9L118.0 80.7L117.1 80.4L116.5 80.1L115.8 79.9L115.0 79.5L114.5 79.4L113.5 78.9L113.0 78.8L112.0 78.5L111.5 78.3L110.5 78.0L110.0 77.8L109.0 77.5L108.5 77.3L107.5 77.0L107.0 76.8L106.0 76.5L105.5 76.3L104.5 76.1L103.6 75.9L103.0 75.8L102.0 75.6L101.0 75.5L100.5 75.4L99.5 75.2L98.5 75.0L97.8 74.9L97.0 74.8L96.0 74.6L95.0 74.4L94.5 74.3L93.5 74.2L92.5 74.1L91.7 73.9L91.0 73.8L90.0 73.5L89.5 73.3L88.5 73.1L88.0 72.8L87.0 72.6L86.5 72.3L85.5 71.9L85.0 71.6L84.3 71.4L83.7 70.9L83.0 70.7L82.5 70.3L81.6 69.9L81.1 69.4L80.5 69.2L80.0 68.6L79.5 68.0L79.0 67.9L78.5 67.2L78.0 66.4L77.5 66.4L77.0 65.4L76.8 64.9L76.5 64.2L75.9 63.9L75.6 62.9L75.5 62.4L75.3 61.4L75.2 60.4L75.2 59.4L75.2 58.4L75.3 57.4L75.5 56.7L76.1 56.4L76.4 55.4L77.0 55.1L77.3 54.4L78.0 54.0L78.3 53.4L78.6 52.9L79.0 52.3L79.8 51.9L80.5 51.7L81.0 51.1L81.7 50.9L82.2 50.4L83.0 50.2L83.5 49.7L84.5 49.4L85.0 49.0L85.8 48.9L86.5 48.8L87.5 48.5L88.0 48.3L89.0 48.1L90.0 47.9L90.5 47.8L91.5 47.7L92.5 47.6L93.5 47.4L94.3 47.4L94.8 47.4L95.2 47.4L96.0 47.4L97.0 47.4L97.5 47.4L98.5 47.4L99.5 47.4L100.5 47.4L101.5 47.4L102.5 47.5L103.5 47.5L104.5 47.4L105.5 47.5L106.5 47.5L107.5 47.5L108.5 47.5L109.0 47.4L110.0 47.3L111.0 47.2L111.9 46.9L112.2 46.9L112.6 46.9L113.5 46.8L114.5 46.5L115.3 46.4L116.0 46.4L117.0 46.1L117.7 45.9L118.5 45.8L119.5 45.6L120.0 45.4L121.0 45.1L121.5 44.8L122.0 44.9L122.5 44.6L123.4 44.4L124.0 44.0L124.8 43.9L125.5 43.8L126.5 43.5L127.0 43.2L127.5 42.8L128.0 42.9L128.5 42.6L129.4 42.4L130.0 42.4L130.8 41.9L131.5 41.9L132.5 41.6L133.0 41.4L133.5 41.4L134.0 41.2L135.0 41.0L135.5 40.8L136.5 40.6L137.5 40.5L138.0 40.3L139.0 40.2L140.0 40.0L140.5 39.9L141.0 39.9L141.5 39.8L142.5 39.7L143.5 39.6L144.5 39.5L145.0 39.4L145.5 39.5L146.0 39.3L147.0 39.3L148.0 39.2L149.0 39.2L150.0 39.0L151.0 39.0L152.0 38.9Z" fill="#07bcbf" fill-rule="evenodd" stroke="#07bcbf" stroke-width="0.3"/>
<path d="M156.5 43.4L157.0 43.3L158.0 43.3L159.0 43.3L160.0 43.3L161.0 43.3L162.0 43.3L163.0 43.2L164.0 43.2L165.0 43.2L166.0 43.2L167.0 43.2L168.0 43.3L169.0 43.3L170.0 43.2L171.0 43.3L172.0 43.3L173.0 43.3L174.0 43.4L175.0 43.4L175.5 43.4L176.0 43.4L176.5 43.5L177.5 43.5L178.5 43.5L179.5 43.6L180.5 43.6L181.5 43.7L182.5 43.8L183.5 43.8L184.5 43.8L185.0 43.9L185.5 43.9L186.0 44.0L187.0 44.0L188.0 44.1L189.0 44.1L190.0 44.2L191.0 44.3L192.0 44.3L192.5 44.4L193.5 44.5L194.5 44.6L195.5 44.6L196.5 44.7L197.5 44.8L198.3 44.9L199.0 44.9L200.0 45.1L201.0 45.2L202.0 45.3L203.0 45.3L203.5 45.4L204.5 45.5L205.5 45.6L206.5 45.7L207.5 45.8L208.0 45.9L209.0 46.0L210.0 46.1L211.0 46.2L212.0 46.3L212.7 46.4L213.5 46.5L214.5 46.6L215.5 46.7L216.5 46.9L217.0 46.9L218.0 47.1L219.0 47.2L220.0 47.3L221.0 47.4L221.5 47.4L222.5 47.6L223.5 47.6L224.5 47.7L225.5 47.9L226.0 48.0L227.0 48.0L228.0 48.2L229.0 48.3L229.9 48.4L230.5 48.5L231.5 48.7L232.5 48.8L233.0 48.9L234.0 49.1L235.0 49.3L235.6 49.4L236.5 49.6L237.5 49.8L238.3 49.9L239.0 50.0L240.0 50.2L240.9 50.4L241.5 50.5L242.5 50.7L243.5 50.9L244.0 51.0L245.0 51.2L246.0 51.4L246.5 51.5L247.5 51.6L248.5 51.8L249.0 51.9L250.0 52.1L251.0 52.3L251.5 52.4L252.5 52.6L253.5 52.8L254.0 52.9L255.0 53.1L256.0 53.3L256.5 53.4L257.5 53.6L258.5 53.8L259.0 53.9L260.0 54.1L261.0 54.3L261.5 54.4L262.5 54.6L263.5 54.8L264.0 54.9L265.0 55.1L266.0 55.4L266.5 55.5L267.5 55.7L268.5 55.9L269.0 56.0L270.0 56.2L271.0 56.4L271.5 56.5L272.5 56.7L273.5 56.9L274.0 57.0L275.0 57.2L276.0 57.4L276.5 57.5L277.5 57.6L278.5 57.8L279.0 57.9L280.0 58.1L281.0 58.3L281.5 58.4L282.5 58.6L283.5 58.8L284.0 58.9L285.0 59.1L286.0 59.3L286.5 59.4L287.5 59.6L288.5 59.8L289.0 59.9L290.0 60.1L291.0 60.3L291.5 60.4L292.5 60.6L293.5 60.9L294.0 61.0L295.0 61.2L296.0 61.4L296.5 61.5L297.5 61.7L298.5 61.9L299.0 62.0L300.0 62.2L300.9 62.4L301.5 62.5L302.5 62.7L303.2 62.9L304.0 63.1L305.0 63.3L305.6 63.4L306.5 63.6L307.5 63.8L308.0 63.9L309.0 64.1L310.0 64.3L310.5 64.5L311.5 64.7L312.5 64.9L313.0 65.0L314.0 65.2L314.8 65.4L315.5 65.6L316.5 65.8L317.1 65.9L318.0 66.1L319.0 66.4L319.5 66.5L320.5 66.7L321.2 66.9L322.0 67.1L323.0 67.3L323.5 67.5L324.5 67.7L325.3 67.9L326.0 68.1L327.0 68.3L327.5 68.5L328.5 68.7L329.3 68.9L330.0 69.1L331.0 69.3L331.5 69.4L332.5 69.7L333.3 69.9L334.0 70.1L335.0 70.3L335.5 70.5L336.5 70.7L337.2 70.9L338.0 71.1L339.0 71.3L339.5 71.5L340.5 71.7L341.1 71.9L342.0 72.1L343.0 72.4L343.5 72.5L344.5 72.8L345.0 72.9L346.0 73.2L346.9 73.4L347.5 73.5L348.5 73.8L349.0 73.9L350.0 74.2L350.8 74.4L351.5 74.6L352.5 74.9L353.0 75.0L354.0 75.3L354.5 75.4L355.5 75.6L356.4 75.9L357.0 76.0L358.0 76.3L358.5 76.5L359.5 76.7L360.2 76.9L361.0 77.1L362.0 77.4L362.5 77.5L363.5 77.8L364.0 77.9L365.0 78.2L365.7 78.4L366.5 78.6L367.5 78.9L368.0 79.0L369.0 79.3L369.5 79.4L370.5 79.7L371.2 79.9L372.0 80.1L372.0 80.9L372.0 81.9L372.0 82.9L372.0 83.9L372.0 84.9L372.0 85.9L372.0 86.9L372.0 87.9L372.0 88.9L372.0 89.9L372.0 90.9L372.0 91.9L372.0 92.9L372.0 93.9L372.0 94.9L372.0 95.9L372.0 96.9L372.0 97.9L372.0 98.9L372.0 99.9L372.0 100.9L372.0 101.9L372.0 102.9L372.0 103.9L372.0 104.9L372.0 105.9L372.0 106.9L372.0 107.9L372.0 108.9L372.0 109.9L372.0 110.9L372.0 111.9L372.0 112.9L372.0 113.9L372.0 114.9L372.0 115.9L372.0 116.9L372.0 117.9L372.0 118.9L372.0 119.9L372.0 120.9L372.0 121.9L372.0 122.9L372.0 123.9L371.5 124.4L370.5 124.4L369.5 124.4L368.5 124.4L367.5 124.4L366.5 124.4L365.5 124.4L364.5 124.4L363.5 124.4L362.5 124.4L361.5 124.4L360.5 124.4L359.5 124.4L358.5 124.4L357.5 124.4L356.5 124.4L355.5 124.4L354.5 124.4L353.5 124.4L352.5 124.4L351.5 124.4L350.5 124.4L349.5 124.4L348.5 124.4L347.5 124.4L346.5 124.4L345.5 124.4L344.5 124.4L343.5 124.4L342.5 124.4L341.5 124.4L340.5 124.4L339.5 124.4L338.5 124.4L337.5 124.4L336.5 124.4L335.5 124.4L334.5 124.4L333.5 124.4L332.5 124.4L331.5 124.4L330.5 124.4L329.5 124.4L328.5 124.4L327.5 124.4L326.5 124.4L325.5 124.4L324.5 124.4L323.5 124.4L322.5 124.4L321.5 124.4L320.5 124.4L319.5 124.4L318.5 124.4L317.5 124.4L316.5 124.4L315.5 124.4L314.5 124.4L313.5 124.4L312.5 124.4L311.5 124.4L310.5 124.4L309.5 124.4L308.5 124.4L307.5 124.4L306.5 124.4L305.5 124.4L304.5 124.4L303.5 124.4L302.5 124.4L301.5 124.4L300.5 124.4L299.5 124.4L298.5 124.4L297.5 124.4L296.5 124.4L295.5 124.4L294.5 124.4L293.5 124.4L292.5 124.4L291.5 124.4L290.5 124.4L289.5 124.4L288.5 124.4L288.0 124.4L287.0 124.2L286.0 124.0L285.5 123.9L284.5 123.7L283.5 123.5L283.0 123.4L282.0 123.2L281.0 122.9L280.5 122.8L279.5 122.6L278.5 122.4L278.0 122.3L277.0 122.1L276.0 121.9L275.5 121.8L274.5 121.6L273.5 121.4L273.0 121.3L272.0 121.1L271.0 120.9L270.5 120.8L269.5 120.6L268.5 120.4L268.0 120.3L267.0 120.1L266.0 119.9L265.5 119.8L264.5 119.6L263.5 119.4L263.0 119.3L262.0 119.1L261.0 118.9L260.5 118.9L259.5 118.7L258.5 118.5L258.0 118.4L257.0 118.1L256.0 117.9L255.5 117.8L254.5 117.6L253.5 117.4L253.0 117.3L252.0 117.1L251.1 116.9L250.5 116.8L249.5 116.6L248.7 116.4L248.0 116.3L247.0 116.0L246.3 115.9L245.5 115.7L244.5 115.5L243.9 115.4L243.0 115.2L242.0 115.0L241.5 114.9L240.5 114.7L239.5 114.5L239.0 114.4L238.0 114.2L237.0 114.0L236.5 113.9L235.5 113.7L234.5 113.5L234.0 113.4L233.0 113.2L232.0 112.9L231.5 112.8L230.5 112.6L229.5 112.4L229.0 112.3L228.0 112.1L227.0 111.9L226.5 111.8L225.5 111.6L224.5 111.4L224.0 111.3L223.0 111.1L222.1 110.9L221.5 110.8L220.5 110.6L219.7 110.4L219.0 110.2L218.0 110.0L217.5 109.8L216.5 109.5L215.9 109.4L215.0 109.1L214.2 108.9L213.5 108.7L212.5 108.4L212.0 108.3L211.0 108.0L210.5 107.9L209.5 107.6L208.9 107.4L208.0 107.1L207.2 106.9L206.5 106.7L205.6 106.4L205.0 106.2L204.0 105.9L203.5 105.7L202.5 105.4L202.0 105.3L201.0 104.9L200.5 104.8L199.5 104.5L199.0 104.3L198.0 104.0L197.5 103.9L196.5 103.5L196.0 103.4L195.0 103.0L194.5 102.9L193.5 102.6L193.0 102.4L192.0 102.1L191.5 101.9L190.5 101.6L189.9 101.4L189.0 101.1L188.3 100.9L187.5 100.6L186.8 100.4L186.0 100.2L185.2 99.9L184.5 99.7L183.6 99.4L183.0 99.2L182.1 98.9L181.5 98.7L180.5 98.4L180.0 98.2L179.0 97.9L178.5 97.7L177.5 97.4L177.0 97.3L176.0 97.0L175.5 96.8L174.5 96.5L174.0 96.4L173.0 96.0L172.5 95.9L171.5 95.5L170.9 95.4L170.0 95.1L169.4 94.9L168.5 94.6L167.8 94.4L167.0 94.2L166.2 93.9L165.5 93.7L164.6 93.4L164.0 93.3L163.1 92.9L162.5 92.8L161.5 92.5L161.0 92.3L160.0 92.1L159.5 91.9L158.5 91.6L158.0 91.4L157.0 91.1L156.4 90.9L155.5 90.7L154.8 90.4L154.0 90.2L153.0 89.9L152.5 89.8L151.5 89.5L151.0 89.3L150.0 89.0L149.5 88.9L148.5 88.6L148.0 88.4L147.0 88.1L146.3 87.9L145.5 87.7L144.6 87.4L144.0 87.2L143.0 86.9L142.5 86.7L141.5 86.4L141.0 86.2L140.0 85.9L139.5 85.7L138.5 85.4L138.0 85.2L137.0 84.9L136.5 84.9L135.5 84.4L135.0 84.4L134.0 83.9L133.5 83.9L132.5 83.4L132.0 83.4L131.0 82.9L130.5 82.9L129.5 82.6L129.0 82.4L128.0 82.1L127.5 81.9L126.5 81.6L126.0 81.4L125.0 81.1L124.5 80.9L123.5 80.6L123.0 80.4L122.0 80.2L121.2 79.9L120.5 79.7L119.5 79.4L119.0 79.2L118.0 79.0L117.5 78.8L116.5 78.5L116.0 78.3L115.0 78.1L114.3 77.9L113.5 77.6L112.6 77.4L112.0 77.2L111.0 76.9L110.5 76.7L109.5 76.5L108.9 76.4L108.0 76.1L107.1 75.9L106.5 75.7L105.5 75.5L105.0 75.4L104.0 75.2L103.0 75.0L102.5 74.9L101.5 74.7L100.5 74.6L99.5 74.4L99.0 74.3L98.0 74.2L97.0 74.0L96.5 73.9L95.5 73.7L94.5 73.6L93.5 73.4L93.0 73.3L92.0 73.1L91.0 72.9L90.5 72.8L89.5 72.5L89.0 72.3L88.0 72.0L87.5 71.7L86.5 71.4L86.0 71.3L85.3 70.9L84.5 70.6L84.0 70.2L83.5 69.8L82.6 69.4L82.2 68.9L81.5 68.7L81.0 68.1L80.4 67.9L80.0 67.4L79.5 66.7L78.8 66.4L78.5 65.8L78.1 64.9L77.5 64.7L77.2 63.9L77.5 63.4L77.0 63.3L76.7 62.4L76.6 61.4L76.5 60.7L76.4 59.9L76.5 58.9L76.5 58.4L77.1 57.9L77.3 56.9L77.5 56.0L77.7 55.4L78.4 54.9L78.7 54.4L79.0 53.8L79.7 53.4L80.5 53.0L80.9 52.4L81.3 51.9L82.0 51.7L82.5 51.2L83.4 50.9L84.0 50.8L84.5 50.4L85.5 50.0L86.0 49.7L87.0 49.4L87.5 49.2L88.5 49.0L89.3 48.9L90.0 48.6L91.0 48.5L92.0 48.4L92.5 48.3L93.5 48.2L94.5 48.2L95.5 48.2L96.5 48.2L97.5 48.3L98.5 48.2L99.5 48.2L100.5 48.3L101.5 48.3L102.5 48.3L103.5 48.3L104.5 48.3L105.5 48.3L106.5 48.4L107.4 48.4L107.6 48.4L108.5 48.2L109.5 48.2L110.5 48.2L111.5 48.1L112.5 48.1L113.5 47.9L114.3 47.9L114.8 47.9L115.1 47.9L116.0 47.7L117.0 47.6L118.0 47.6L119.0 47.5L120.0 47.5L120.5 47.4L121.0 47.4L121.5 47.3L122.5 47.2L123.5 47.2L124.5 46.9L125.3 46.9L126.0 46.9L126.0 46.9L127.0 46.7L128.0 46.5L129.0 46.5L129.9 46.4L130.5 46.2L131.5 46.1L132.5 46.0L133.0 45.9L133.5 45.9L134.0 45.7L135.0 45.6L136.0 45.5L136.5 45.4L137.0 45.4L137.5 45.2L138.5 45.1L139.5 45.0L140.0 44.9L140.5 44.9L141.0 44.8L142.0 44.7L143.0 44.6L144.0 44.5L144.5 44.3L145.5 44.3L146.5 44.2L147.5 44.1L148.4 43.9L148.8 43.9L149.1 43.9L150.0 43.9L151.0 43.7L152.0 43.6L153.0 43.6L154.0 43.5L155.0 43.5L156.0 43.5Z" fill="#05bbc1" fill-rule="evenodd" stroke="#05bbc1" stroke-width="0.3"/>
<path d="M159.8 46.4L160.2 46.4L160.9 46.4L161.1 46.4L161.9 46.4L162.5 46.3L163.5 46.3L164.0 46.4L164.5 46.4L165.0 46.4L165.5 46.4L166.5 46.4L167.4 46.4L167.7 46.4L168.2 46.4L168.9 46.4L169.5 46.3L170.0 46.4L170.5 46.4L171.0 46.5L171.6 46.4L172.2 46.4L173.0 46.4L174.0 46.4L175.0 46.5L176.0 46.5L177.0 46.5L178.0 46.5L179.0 46.6L180.0 46.6L181.0 46.7L182.0 46.8L183.0 46.7L184.0 46.8L185.0 46.8L185.5 46.9L186.5 46.9L187.5 47.0L188.5 47.1L189.5 47.1L190.5 47.2L191.5 47.2L192.5 47.3L193.5 47.4L194.0 47.5L195.0 47.5L196.0 47.6L197.0 47.7L198.0 47.8L199.0 47.9L200.0 47.9L200.5 48.0L201.5 48.1L202.5 48.1L203.5 48.2L204.5 48.3L205.0 48.4L206.0 48.4L207.0 48.6L208.0 48.7L209.0 48.8L210.0 48.9L210.5 48.9L211.5 49.0L212.5 49.2L213.5 49.2L214.5 49.3L215.0 49.4L216.0 49.5L217.0 49.6L218.0 49.8L219.0 49.9L219.5 49.9L220.5 50.0L221.5 50.1L222.5 50.2L223.5 50.3L224.2 50.4L225.0 50.5L226.0 50.6L227.0 50.7L228.0 50.9L228.6 50.9L229.5 51.0L230.5 51.2L231.5 51.3L232.0 51.4L233.0 51.6L234.0 51.8L234.5 51.9L235.5 52.1L236.5 52.3L237.2 52.4L238.0 52.5L239.0 52.7L239.9 52.9L240.5 53.0L241.5 53.2L242.5 53.4L243.0 53.5L244.0 53.7L245.0 53.9L245.5 54.0L246.5 54.2L247.5 54.3L248.0 54.4L249.0 54.6L250.0 54.8L250.5 54.9L251.5 55.1L252.5 55.3L253.0 55.4L254.0 55.6L255.0 55.8L255.5 55.9L256.5 56.1L257.5 56.3L258.0 56.4L259.0 56.6L260.0 56.8L260.5 56.9L261.5 57.1L262.5 57.3L263.0 57.4L264.0 57.6L265.0 57.8L265.5 58.0L266.5 58.2L267.5 58.4L268.0 58.5L269.0 58.7L270.0 58.9L270.5 59.0L271.5 59.2L272.5 59.4L273.0 59.5L274.0 59.7L275.0 59.9L275.5 60.0L276.5 60.2L277.5 60.3L278.0 60.4L279.0 60.6L280.0 60.8L280.5 60.9L281.5 61.1L282.5 61.3L283.0 61.4L284.0 61.6L285.0 61.8L285.5 61.9L286.5 62.1L287.5 62.3L288.0 62.4L289.0 62.6L290.0 62.8L290.5 62.9L291.5 63.1L292.5 63.4L293.0 63.5L294.0 63.7L295.0 63.9L295.5 64.0L296.5 64.2L297.5 64.4L298.0 64.5L299.0 64.7L299.9 64.9L300.5 65.0L301.5 65.2L302.3 65.4L303.0 65.5L304.0 65.8L304.6 65.9L305.5 66.1L306.5 66.3L307.0 66.4L308.0 66.6L309.0 66.8L309.5 66.9L310.5 67.2L311.5 67.4L312.0 67.5L313.0 67.7L313.9 67.9L314.5 68.0L315.5 68.3L316.1 68.4L317.0 68.6L318.0 68.8L318.5 69.0L319.5 69.2L320.3 69.4L321.0 69.6L322.0 69.8L322.5 69.9L323.5 70.2L324.4 70.4L325.0 70.6L326.0 70.8L326.5 70.9L327.5 71.2L328.4 71.4L329.0 71.5L330.0 71.8L330.5 71.9L331.5 72.2L332.4 72.4L333.0 72.6L334.0 72.8L334.5 72.9L335.5 73.2L336.3 73.4L337.0 73.6L338.0 73.8L338.5 74.0L339.5 74.2L340.3 74.4L341.0 74.6L342.0 74.9L342.5 75.0L343.5 75.2L344.1 75.4L345.0 75.6L346.0 75.9L346.5 76.0L347.5 76.3L348.0 76.4L349.0 76.7L349.9 76.9L350.5 77.1L351.5 77.3L352.0 77.5L353.0 77.7L353.7 77.9L354.5 78.1L355.5 78.4L356.0 78.5L357.0 78.8L357.5 78.9L358.5 79.2L359.3 79.4L360.0 79.6L361.0 79.9L361.5 80.0L362.5 80.3L363.0 80.4L364.0 80.7L364.8 80.9L365.5 81.1L366.5 81.4L367.0 81.5L368.0 81.8L368.5 81.9L369.5 82.2L370.3 82.4L371.0 82.6L372.0 82.9L372.0 83.4L372.0 84.4L372.0 85.4L372.0 86.4L372.0 87.4L372.0 88.4L372.0 89.4L372.0 90.4L372.0 91.4L372.0 92.4L372.0 93.4L372.0 94.4L372.0 95.4L372.0 96.4L372.0 97.4L372.0 98.4L372.0 99.4L372.0 100.4L372.0 101.4L372.0 102.4L372.0 103.4L372.0 104.4L372.0 105.4L372.0 106.4L372.0 107.4L372.0 108.4L372.0 109.4L372.0 110.4L372.0 111.4L372.0 112.4L372.0 113.4L372.0 114.4L372.0 115.4L372.0 116.4L372.0 117.4L372.0 118.4L372.0 119.4L372.0 120.4L372.0 121.4L372.0 122.4L372.0 123.4L372.0 124.4L371.0 124.4L370.0 124.4L369.0 124.4L368.0 124.4L367.0 124.4L366.0 124.4L365.0 124.4L364.0 124.4L363.0 124.4L362.0 124.4L361.0 124.4L360.0 124.4L359.0 124.4L358.0 124.4L357.0 124.4L356.0 124.4L355.0 124.4L354.0 124.4L353.0 124.4L352.0 124.4L351.0 124.4L350.0 124.4L349.0 124.4L348.0 124.4L347.0 124.4L346.0 124.4L345.0 124.4L344.0 124.4L343.0 124.4L342.0 124.4L341.0 124.4L340.0 124.4L339.0 124.4L338.0 124.4L337.0 124.4L336.0 124.4L335.0 124.4L334.0 124.4L333.0 124.4L332.0 124.4L331.0 124.4L330.0 124.4L329.0 124.4L328.0 124.4L327.0 124.4L326.0 124.4L325.0 124.4L324.0 124.4L323.0 124.4L322.0 124.4L321.0 124.4L320.0 124.4L319.0 124.4L318.0 124.4L317.0 124.4L316.0 124.4L315.0 124.4L314.0 124.4L313.0 124.4L312.0 124.4L311.0 124.4L310.0 124.4L309.0 124.4L308.0 124.4L307.0 124.4L306.0 124.4L305.0 124.4L304.0 124.4L303.0 124.4L302.0 124.4L301.0 124.4L300.5 124.4L299.5 124.2L298.5 124.0L298.0 123.8L297.0 123.6L296.0 123.4L295.5 123.3L294.5 123.1L293.6 122.9L293.0 122.8L292.0 122.6L291.3 122.4L290.5 122.2L289.5 122.0L288.9 121.9L288.0 121.7L287.0 121.5L286.5 121.4L285.5 121.2L284.5 121.0L284.0 120.9L283.0 120.7L282.0 120.5L281.5 120.3L280.5 120.1L279.5 119.9L279.0 119.8L278.0 119.6L277.0 119.4L276.5 119.3L275.5 119.1L274.5 118.9L274.0 118.8L273.0 118.6L272.0 118.4L271.5 118.3L270.5 118.1L269.5 117.9L269.0 117.8L268.0 117.6L267.0 117.4L266.5 117.3L265.5 117.1L264.5 116.9L264.0 116.8L263.0 116.6L262.0 116.5L261.5 116.4L260.5 116.2L259.5 116.0L259.0 115.9L258.0 115.7L257.0 115.4L256.5 115.3L255.5 115.1L254.5 114.9L254.0 114.8L253.0 114.6L252.0 114.4L251.5 114.3L250.5 114.1L249.6 113.9L249.0 113.8L248.0 113.6L247.2 113.4L246.5 113.3L245.5 113.1L244.8 112.9L244.0 112.7L243.0 112.5L242.3 112.4L241.5 112.2L240.5 112.0L239.9 111.9L239.0 111.7L238.0 111.5L237.4 111.4L236.5 111.2L235.5 111.0L234.9 110.9L234.0 110.7L233.0 110.5L232.5 110.4L231.5 110.2L230.5 110.0L230.0 109.9L229.0 109.7L228.0 109.5L227.5 109.4L226.5 109.2L225.5 109.0L225.0 108.9L224.0 108.7L223.0 108.5L222.5 108.4L221.5 108.2L220.5 108.0L220.0 107.9L219.0 107.7L218.0 107.4L217.5 107.2L216.5 107.0L216.0 106.8L215.0 106.6L214.5 106.4L213.5 106.2L212.5 105.9L212.0 105.7L211.0 105.5L210.5 105.3L209.5 105.0L208.9 104.9L208.0 104.6L207.3 104.4L206.5 104.2L205.7 103.9L205.0 103.7L204.1 103.4L203.5 103.3L202.5 103.0L202.0 102.8L201.0 102.5L200.5 102.3L199.5 102.0L199.0 101.8L198.0 101.6L197.5 101.4L196.5 101.1L196.0 100.9L195.0 100.6L194.4 100.4L193.5 100.1L192.7 99.9L192.0 99.7L191.1 99.4L190.5 99.2L189.5 98.9L189.0 98.7L188.0 98.4L187.5 98.2L186.5 97.9L186.0 97.8L185.0 97.5L184.5 97.4L183.5 97.0L183.0 96.9L182.0 96.5L181.5 96.4L180.5 96.0L179.9 95.9L179.0 95.6L178.3 95.4L177.5 95.2L176.7 94.9L176.0 94.7L175.2 94.4L174.5 94.2L173.6 93.9L173.0 93.8L172.0 93.5L171.5 93.3L170.5 93.0L170.0 92.8L169.0 92.5L168.5 92.4L167.5 92.1L167.0 91.9L166.0 91.6L165.3 91.4L164.5 91.2L163.6 90.9L163.0 90.7L162.0 90.4L161.5 90.2L160.5 90.0L160.0 89.8L159.0 89.5L158.5 89.3L157.5 89.1L157.0 88.9L156.0 88.6L155.1 88.4L154.5 88.2L153.5 88.0L153.0 87.8L152.0 87.5L151.5 87.4L150.5 87.1L149.7 86.9L149.0 86.7L148.0 86.5L147.5 86.3L146.5 86.0L146.0 85.8L145.0 85.6L144.5 85.4L143.5 85.1L143.0 84.9L142.0 84.6L141.1 84.4L140.5 84.2L139.5 83.9L139.0 83.7L138.0 83.5L137.5 83.4L136.5 83.0L135.8 82.9L135.0 82.6L134.2 82.4L133.5 82.1L132.5 81.9L132.0 81.8L131.0 81.5L130.5 81.4L129.5 81.0L128.8 80.9L128.0 80.6L127.1 80.4L126.5 80.3L125.5 79.9L125.0 79.9L124.0 79.5L123.3 79.4L122.5 79.2L121.6 78.9L121.0 78.8L120.0 78.5L119.4 78.4L118.5 78.1L117.7 77.9L117.0 77.8L116.0 77.4L115.5 77.4L114.5 77.0L113.7 76.9L113.0 76.7L112.0 76.4L111.5 76.4L110.5 76.1L109.7 75.9L109.0 75.7L108.0 75.5L107.5 75.4L106.5 75.1L105.6 74.9L105.0 74.7L104.0 74.6L103.0 74.4L102.5 74.3L101.5 74.2L100.5 74.0L99.9 73.9L99.0 73.8L98.0 73.6L97.1 73.4L96.5 73.3L95.5 73.2L94.5 73.0L93.6 72.9L93.0 72.8L92.0 72.6L91.2 72.4L90.5 72.2L89.5 72.0L89.0 71.7L88.0 71.4L87.5 71.1L86.7 70.9L86.0 70.4L85.5 70.4L84.5 70.0L84.0 69.6L83.5 69.1L82.8 68.9L82.4 68.4L81.5 67.9L81.1 67.4L80.7 66.9L80.0 66.5L79.6 65.9L79.4 65.4L79.0 64.6L78.4 64.4L78.1 63.4L77.9 62.9L77.7 61.9L77.5 60.9L77.2 60.4L77.0 59.9L77.0 59.0L77.5 58.9L77.6 57.9L77.8 56.9L78.0 56.2L78.6 55.9L79.0 54.9L79.5 54.9L80.0 54.0L80.6 53.9L81.0 53.2L81.5 52.6L82.1 52.4L83.0 52.0L83.5 51.5L84.0 51.2L84.7 50.9L85.5 50.7L86.0 50.4L86.5 50.4L87.0 50.1L87.5 49.8L88.5 49.6L89.5 49.4L90.0 49.2L91.0 49.1L92.0 49.0L92.5 48.8L93.5 48.8L94.5 48.7L95.5 48.7L96.5 48.8L97.5 48.8L98.5 48.8L99.5 48.8L100.5 48.8L101.5 48.9L102.5 48.9L103.5 48.9L104.0 48.9L104.5 48.9L105.0 48.9L106.0 48.9L107.0 48.9L108.0 48.9L108.5 48.9L109.0 48.9L109.5 48.9L110.0 48.9L110.5 48.8L111.5 48.8L112.5 48.8L113.5 48.7L114.5 48.6L115.5 48.6L116.5 48.6L117.5 48.6L118.5 48.4L119.5 48.4L120.5 48.4L121.0 48.3L122.0 48.3L123.0 48.3L124.0 48.3L125.0 48.2L126.0 48.2L127.0 48.1L128.0 48.0L129.0 48.0L130.0 48.0L131.0 48.0L131.5 47.9L132.5 47.9L133.5 47.8L134.5 47.7L135.5 47.6L136.5 47.6L137.5 47.6L138.5 47.5L139.5 47.5L140.0 47.4L141.0 47.4L142.0 47.3L143.0 47.1L144.0 47.1L145.0 47.1L146.0 47.0L147.0 47.0L147.5 46.9L148.0 46.9L148.5 46.9L149.5 46.8L150.5 46.8L151.5 46.6L152.5 46.6L153.5 46.6L154.5 46.6L155.5 46.6L156.5 46.5L157.5 46.4L158.5 46.4L159.5 46.4Z" fill="#04bbc2" fill-rule="evenodd" stroke="#04bbc2" stroke-width="0.3"/>
<path d="M152.9 48.4L153.1 48.4L154.0 48.4L155.0 48.5L156.0 48.5L157.0 48.5L158.0 48.5L159.0 48.5L160.0 48.5L161.0 48.6L162.0 48.6L163.0 48.7L164.0 48.6L165.0 48.6L166.0 48.7L167.0 48.7L168.0 48.7L169.0 48.8L170.0 48.7L171.0 48.8L172.0 48.8L173.0 48.8L174.0 48.9L175.0 48.8L175.5 48.9L176.0 48.9L176.5 49.0L177.5 49.0L178.5 49.0L179.5 49.0L180.5 49.1L181.5 49.1L182.5 49.2L183.5 49.1L184.5 49.2L185.5 49.3L186.5 49.3L187.5 49.4L187.6 49.4L188.1 49.4L189.0 49.5L190.0 49.5L191.0 49.6L192.0 49.6L193.0 49.7L194.0 49.8L195.0 49.8L195.8 49.9L196.5 49.9L197.5 50.0L198.5 50.1L199.5 50.2L200.5 50.2L201.5 50.3L202.0 50.4L203.0 50.4L204.0 50.5L205.0 50.6L206.0 50.7L207.0 50.8L208.0 50.9L208.5 51.0L209.5 51.1L210.5 51.1L211.5 51.2L212.5 51.3L213.0 51.4L214.0 51.5L215.0 51.6L216.0 51.7L217.0 51.9L217.6 51.9L218.5 52.0L219.5 52.1L220.5 52.2L221.5 52.3L222.5 52.4L223.0 52.4L224.0 52.5L225.0 52.7L226.0 52.7L227.0 52.8L227.5 52.9L228.5 53.0L229.5 53.1L230.5 53.3L231.0 53.4L232.0 53.6L233.0 53.8L233.7 53.9L234.5 54.0L235.5 54.2L236.5 54.4L237.0 54.5L238.0 54.7L239.0 54.9L239.5 55.0L240.5 55.2L241.5 55.3L242.0 55.4L243.0 55.6L244.0 55.8L244.5 55.9L245.5 56.1L246.5 56.3L247.0 56.4L248.0 56.6L249.0 56.8L249.6 56.9L250.5 57.1L251.5 57.3L252.1 57.4L253.0 57.6L254.0 57.8L254.6 57.9L255.5 58.1L256.5 58.3L257.1 58.4L258.0 58.6L259.0 58.8L259.6 58.9L260.5 59.1L261.5 59.3L262.1 59.4L263.0 59.6L264.0 59.8L264.5 59.9L265.5 60.1L266.5 60.3L267.0 60.4L268.0 60.6L269.0 60.8L269.5 60.9L270.5 61.1L271.5 61.3L272.0 61.4L273.0 61.6L274.0 61.8L274.5 61.9L275.5 62.1L276.5 62.3L277.0 62.4L278.0 62.6L279.0 62.8L279.5 62.9L280.5 63.1L281.5 63.3L282.1 63.4L283.0 63.6L284.0 63.8L284.6 63.9L285.5 64.1L286.5 64.3L287.1 64.4L288.0 64.6L289.0 64.8L289.5 64.9L290.5 65.1L291.5 65.3L292.0 65.4L293.0 65.6L294.0 65.8L294.5 65.9L295.5 66.1L296.5 66.3L297.0 66.4L298.0 66.6L299.0 66.9L299.5 67.0L300.5 67.2L301.5 67.4L302.0 67.5L303.0 67.7L303.9 67.9L304.5 68.0L305.5 68.2L306.2 68.4L307.0 68.6L308.0 68.8L308.5 68.9L309.5 69.1L310.5 69.3L311.0 69.4L312.0 69.7L313.0 69.9L313.5 70.0L314.5 70.2L315.4 70.4L316.0 70.5L317.0 70.8L317.5 70.9L318.5 71.1L319.5 71.4L320.0 71.5L321.0 71.7L321.6 71.9L322.5 72.1L323.5 72.4L324.0 72.5L325.0 72.7L325.7 72.9L326.5 73.1L327.5 73.4L328.0 73.5L329.0 73.7L329.7 73.9L330.5 74.1L331.5 74.4L332.0 74.5L333.0 74.7L333.7 74.9L334.5 75.1L335.5 75.4L336.0 75.5L337.0 75.7L337.6 75.9L338.5 76.1L339.5 76.4L340.0 76.5L341.0 76.8L341.5 76.9L342.5 77.2L343.4 77.4L344.0 77.5L345.0 77.8L345.5 77.9L346.5 78.2L347.3 78.4L348.0 78.6L349.0 78.9L349.5 79.0L350.5 79.2L351.1 79.4L352.0 79.6L353.0 79.9L353.5 80.0L354.5 80.3L355.0 80.4L356.0 80.7L356.7 80.9L357.5 81.1L358.5 81.4L359.0 81.5L360.0 81.8L360.5 81.9L361.5 82.2L362.3 82.4L363.0 82.6L364.0 82.9L364.5 83.0L365.5 83.3L366.0 83.4L367.0 83.7L367.8 83.9L368.5 84.1L369.5 84.4L370.0 84.5L371.0 84.8L371.5 84.9L372.0 85.4L372.0 86.4L372.0 87.4L372.0 88.4L372.0 89.4L372.0 90.4L372.0 91.4L372.0 92.4L372.0 93.4L372.0 94.4L372.0 95.4L372.0 96.4L372.0 97.4L372.0 98.4L372.0 99.4L372.0 100.4L372.0 101.4L372.0 102.4L372.0 103.4L372.0 104.4L372.0 105.4L372.0 106.4L372.0 107.4L372.0 108.4L372.0 109.4L372.0 110.4L372.0 111.4L372.0 112.4L372.0 113.4L372.0 114.4L372.0 115.4L372.0 116.4L372.0 117.4L372.0 118.4L372.0 119.4L372.0 120.4L372.0 121.4L372.0 122.4L372.0 123.4L372.0 124.4L371.0 124.4L370.0 124.4L369.0 124.4L368.0 124.4L367.0 124.4L366.0 124.4L365.0 124.4L364.0 124.4L363.0 124.4L362.0 124.4L361.0 124.4L360.0 124.4L359.0 124.4L358.0 124.4L357.0 124.4L356.0 124.4L355.0 124.4L354.0 124.4L353.0 124.4L352.0 124.4L351.0 124.4L350.0 124.4L349.0 124.4L348.0 124.4L347.0 124.4L346.0 124.4L345.0 124.4L344.0 124.4L343.0 124.4L342.0 124.4L341.0 124.4L340.0 124.4L339.0 124.4L338.0 124.4L337.0 124.4L336.0 124.4L335.0 124.4L334.0 124.4L333.0 124.4L332.0 124.4L331.0 124.4L330.0 124.4L329.0 124.4L328.0 124.4L327.0 124.4L326.0 124.4L325.0 124.4L324.0 124.4L323.0 124.4L322.0 124.4L321.0 124.4L320.0 124.4L319.0 124.4L318.0 124.4L317.0 124.4L316.0 124.4L315.0 124.4L314.0 124.4L313.0 124.4L312.0 124.4L311.0 124.4L310.0 124.4L309.5 124.3L308.5 124.1L307.7 123.9L307.0 123.7L306.0 123.5L305.5 123.4L304.5 123.1L303.5 122.9L303.0 122.8L302.0 122.6L301.3 122.4L300.5 122.2L299.5 122.0L299.0 121.9L298.0 121.7L297.0 121.5L296.5 121.4L295.5 121.1L294.5 120.9L294.0 120.8L293.0 120.6L292.0 120.4L291.5 120.3L290.5 120.1L289.7 119.9L289.0 119.8L288.0 119.5L287.3 119.4L286.5 119.2L285.5 119.0L284.9 118.9L284.0 118.7L283.0 118.5L282.5 118.4L281.5 118.2L280.5 118.0L280.0 117.9L279.0 117.7L278.0 117.5L277.5 117.4L276.5 117.2L275.5 117.0L275.0 116.9L274.0 116.7L273.0 116.5L272.5 116.4L271.5 116.2L270.5 116.0L270.0 115.9L269.0 115.7L268.0 115.5L267.5 115.4L266.5 115.2L265.5 115.0L265.0 114.9L264.0 114.7L263.0 114.5L262.5 114.4L261.5 114.2L260.5 114.0L259.9 113.9L259.0 113.7L258.0 113.5L257.5 113.4L256.5 113.2L255.5 113.0L255.0 112.9L254.0 112.7L253.0 112.5L252.5 112.4L251.5 112.1L250.5 111.9L250.0 111.8L249.0 111.6L248.0 111.4L247.5 111.3L246.5 111.1L245.5 110.9L245.0 110.8L244.0 110.6L243.0 110.4L242.5 110.3L241.5 110.1L240.5 109.9L240.0 109.8L239.0 109.6L238.1 109.4L237.5 109.3L236.5 109.1L235.6 108.9L235.0 108.8L234.0 108.6L233.1 108.4L232.5 108.3L231.5 108.1L230.5 107.9L230.0 107.8L229.0 107.6L228.0 107.4L227.5 107.3L226.5 107.1L225.5 106.9L225.0 106.8L224.0 106.6L223.0 106.4L222.5 106.3L221.5 106.1L220.5 105.9L220.0 105.8L219.0 105.5L218.4 105.4L217.5 105.1L216.6 104.9L216.0 104.7L215.0 104.4L214.5 104.3L213.5 104.0L212.9 103.9L212.0 103.6L211.2 103.4L210.5 103.2L209.5 103.0L209.0 102.8L208.0 102.5L207.5 102.3L206.5 102.1L205.9 101.9L205.0 101.6L204.3 101.4L203.5 101.1L202.7 100.9L202.0 100.7L201.1 100.4L200.5 100.3L199.5 99.9L199.0 99.8L198.0 99.4L197.5 99.3L196.5 99.0L196.0 98.9L195.0 98.5L194.5 98.4L193.5 98.1L192.9 97.9L192.0 97.7L191.3 97.4L190.5 97.2L189.7 96.9L189.0 96.7L188.0 96.4L187.5 96.2L186.5 96.0L186.0 95.8L185.0 95.5L184.5 95.3L183.5 95.0L183.0 94.8L182.0 94.6L181.5 94.4L180.5 94.1L180.0 93.9L179.0 93.6L178.3 93.4L177.5 93.2L176.6 92.9L176.0 92.7L175.0 92.4L174.5 92.2L173.5 92.0L173.0 91.8L172.0 91.5L171.5 91.4L170.5 91.1L169.8 90.9L169.0 90.6L168.2 90.4L167.5 90.2L166.5 89.9L166.0 89.8L165.0 89.5L164.5 89.4L163.5 89.0L162.9 88.9L162.0 88.7L161.1 88.4L160.5 88.3L159.5 87.9L159.0 87.9L158.0 87.5L157.3 87.4L156.5 87.1L155.5 86.9L155.0 86.8L154.0 86.5L153.3 86.4L152.5 86.2L151.5 85.9L151.0 85.8L150.0 85.6L149.2 85.4L148.5 85.2L147.5 84.9L147.0 84.8L146.0 84.5L145.5 84.3L144.5 84.1L143.6 83.9L143.0 83.7L142.0 83.4L141.5 83.3L140.5 83.0L140.0 82.8L139.0 82.6L138.1 82.4L137.5 82.2L136.5 82.0L136.0 81.8L135.0 81.6L134.3 81.4L133.5 81.2L132.5 80.9L132.0 80.8L131.0 80.5L130.5 80.3L129.5 80.1L128.5 79.9L128.0 79.7L127.0 79.5L126.5 79.3L125.5 79.1L124.5 78.9L124.0 78.8L123.0 78.5L122.5 78.4L121.5 78.2L120.5 78.0L120.0 77.8L119.0 77.6L118.2 77.4L117.5 77.2L116.5 77.0L116.0 76.8L115.0 76.6L114.0 76.4L113.5 76.3L112.5 76.1L112.0 75.9L111.0 75.7L110.0 75.5L109.5 75.3L108.5 75.1L107.5 74.9L107.0 74.8L106.0 74.6L105.4 74.4L104.5 74.3L103.5 74.1L102.6 73.9L102.0 73.8L101.0 73.6L100.0 73.5L99.4 73.4L98.5 73.2L97.5 73.1L96.5 72.9L96.0 72.8L95.0 72.7L94.0 72.6L93.2 72.4L92.5 72.3L91.5 72.0L90.8 71.9L90.0 71.6L89.3 71.4L88.5 71.2L87.9 70.9L87.0 70.6L86.5 70.3L85.5 69.9L85.0 69.5L84.4 69.4L83.9 68.9L83.0 68.5L82.5 68.0L82.0 67.4L81.5 67.3L81.0 66.6L80.6 65.9L80.0 65.8L79.5 64.9L79.3 64.4L79.0 63.5L78.5 63.4L78.2 62.4L78.0 61.4L77.9 60.9L77.9 59.9L77.9 58.9L78.0 58.1L78.5 57.9L78.7 56.9L79.0 56.0L79.6 55.9L80.0 54.9L80.5 54.5L81.0 54.0L81.4 53.4L82.0 53.3L82.5 52.6L83.2 52.4L83.7 51.9L84.5 51.6L85.0 51.2L86.0 50.9L86.3 50.9L86.5 50.9L87.3 50.4L88.0 50.3L89.0 50.1L89.5 49.8L90.5 49.7L91.5 49.5L92.0 49.4L93.0 49.3L94.0 49.2L95.0 49.1L96.0 49.1L97.0 49.2L98.0 49.2L99.0 49.2L100.0 49.3L101.0 49.2L102.0 49.3L103.0 49.3L104.0 49.3L105.0 49.3L106.0 49.4L106.5 49.4L107.0 49.4L108.0 49.4L109.0 49.4L110.0 49.3L111.0 49.3L112.0 49.3L113.0 49.3L114.0 49.3L115.0 49.2L116.0 49.1L117.0 49.1L118.0 49.1L119.0 49.1L120.0 49.1L121.0 49.0L122.0 49.0L123.0 49.0L124.0 49.0L125.0 49.0L126.0 48.9L127.0 48.9L128.0 48.9L128.5 48.9L129.0 48.9L129.5 48.9L130.0 49.0L130.5 48.9L131.5 48.9L131.5 48.9L132.4 48.9L132.6 48.9L133.5 48.8L134.5 48.8L135.5 48.8L136.5 48.8L137.5 48.8L138.5 48.8L139.5 48.7L140.5 48.7L141.5 48.7L142.5 48.7L143.5 48.7L144.5 48.5L145.5 48.5L146.5 48.5L147.5 48.5L148.5 48.6L149.5 48.5L150.5 48.4L151.5 48.4L152.5 48.4Z" fill="#02bbc3" fill-rule="evenodd" stroke="#02bbc3" stroke-width="0.3"/>
<path d="M90.9 49.9L91.4 49.9L91.5 49.9L92.5 49.6L93.5 49.6L94.5 49.5L95.5 49.5L96.5 49.5L97.5 49.6L98.5 49.5L99.5 49.6L100.5 49.6L101.5 49.6L102.5 49.6L103.5 49.6L104.5 49.7L105.5 49.7L106.5 49.8L107.5 49.7L108.5 49.7L109.5 49.7L110.5 49.7L111.5 49.7L112.5 49.6L113.5 49.6L114.5 49.6L115.5 49.7L116.5 49.7L117.5 49.6L118.5 49.6L119.5 49.6L120.5 49.6L121.5 49.6L122.5 49.6L123.5 49.5L124.5 49.6L125.5 49.6L126.5 49.6L127.5 49.6L128.5 49.5L129.5 49.5L130.5 49.6L131.5 49.6L132.5 49.6L133.5 49.5L134.5 49.5L135.5 49.6L136.5 49.6L137.5 49.6L138.5 49.5L139.5 49.5L140.5 49.5L141.5 49.6L142.5 49.6L143.5 49.5L144.5 49.5L145.5 49.5L146.5 49.6L147.5 49.6L148.5 49.6L149.5 49.5L150.5 49.6L151.5 49.6L152.5 49.6L153.5 49.6L154.5 49.6L155.5 49.7L156.5 49.8L157.5 49.8L158.5 49.9L159.5 49.9L160.0 49.9L161.0 50.0L162.0 50.0L163.0 50.1L164.0 50.1L165.0 50.2L166.0 50.3L167.0 50.3L168.0 50.3L169.0 50.4L169.5 50.5L170.5 50.4L171.5 50.5L172.5 50.6L173.5 50.6L174.5 50.7L175.5 50.7L176.5 50.7L177.5 50.8L178.5 50.9L179.4 50.9L180.0 50.9L181.0 51.0L182.0 51.0L183.0 51.1L184.0 51.1L185.0 51.2L186.0 51.2L187.0 51.3L188.0 51.4L188.7 51.4L189.5 51.4L190.5 51.5L191.5 51.6L192.5 51.6L193.5 51.7L194.5 51.7L195.5 51.8L196.4 51.9L197.0 51.9L198.0 52.0L199.0 52.1L200.0 52.1L201.0 52.2L202.0 52.3L203.0 52.4L203.6 52.4L204.5 52.5L205.5 52.6L206.5 52.7L207.5 52.8L208.5 52.8L209.0 52.9L210.0 53.0L211.0 53.1L212.0 53.2L213.0 53.3L214.0 53.4L214.5 53.4L215.5 53.5L216.5 53.7L217.5 53.8L218.5 53.9L219.0 53.9L220.0 54.0L221.0 54.1L222.0 54.2L223.0 54.3L224.0 54.4L224.5 54.4L225.5 54.5L226.5 54.6L227.5 54.7L228.5 54.8L229.0 54.9L230.0 55.0L231.0 55.2L232.0 55.4L232.5 55.5L233.5 55.7L234.5 55.9L235.0 56.0L236.0 56.1L237.0 56.3L237.5 56.4L238.5 56.6L239.5 56.8L240.1 56.9L241.0 57.1L242.0 57.3L242.7 57.4L243.5 57.6L244.5 57.7L245.3 57.9L246.0 58.0L247.0 58.2L247.9 58.4L248.5 58.5L249.5 58.7L250.4 58.9L251.0 59.0L252.0 59.2L253.0 59.4L253.5 59.5L254.5 59.7L255.5 59.9L256.0 60.0L257.0 60.2L258.0 60.4L258.5 60.5L259.5 60.7L260.4 60.9L261.0 61.0L262.0 61.2L262.9 61.4L263.5 61.5L264.5 61.7L265.3 61.9L266.0 62.0L267.0 62.3L267.7 62.4L268.5 62.6L269.5 62.8L270.1 62.9L271.0 63.1L272.0 63.3L272.7 63.4L273.5 63.6L274.5 63.7L275.3 63.9L276.0 64.0L277.0 64.2L277.9 64.4L278.5 64.5L279.5 64.7L280.4 64.9L281.0 65.0L282.0 65.2L282.9 65.4L283.5 65.5L284.5 65.7L285.4 65.9L286.0 66.0L287.0 66.2L287.9 66.4L288.5 66.5L289.5 66.7L290.3 66.9L291.0 67.0L292.0 67.2L292.8 67.4L293.5 67.5L294.5 67.8L295.2 67.9L296.0 68.1L297.0 68.3L297.6 68.4L298.5 68.6L299.5 68.8L300.0 68.9L301.0 69.1L302.0 69.3L302.5 69.4L303.5 69.6L304.5 69.9L305.0 70.0L306.0 70.2L307.0 70.4L307.5 70.5L308.5 70.7L309.3 70.9L310.0 71.1L311.0 71.3L311.6 71.4L312.5 71.6L313.5 71.8L314.0 71.9L315.0 72.2L316.0 72.4L316.5 72.5L317.5 72.7L318.1 72.9L319.0 73.1L320.0 73.4L320.5 73.5L321.5 73.7L322.2 73.9L323.0 74.1L324.0 74.3L324.5 74.5L325.5 74.7L326.3 74.9L327.0 75.1L328.0 75.3L328.5 75.5L329.5 75.7L330.3 75.9L331.0 76.1L332.0 76.3L332.5 76.5L333.5 76.7L334.2 76.9L335.0 77.1L336.0 77.3L336.5 77.5L337.5 77.7L338.2 77.9L339.0 78.1L340.0 78.4L340.5 78.5L341.5 78.8L342.1 78.9L343.0 79.1L344.0 79.4L344.5 79.5L345.5 79.8L346.0 79.9L347.0 80.2L347.8 80.4L348.5 80.6L349.5 80.8L350.0 81.0L351.0 81.2L351.6 81.4L352.5 81.6L353.5 81.9L354.0 82.0L355.0 82.3L355.5 82.4L356.5 82.7L357.2 82.9L358.0 83.1L359.0 83.4L359.5 83.5L360.5 83.8L361.0 83.9L362.0 84.2L362.8 84.4L363.5 84.6L364.5 84.9L365.0 85.0L366.0 85.3L366.5 85.4L367.5 85.7L368.3 85.9L369.0 86.1L370.0 86.4L370.5 86.5L371.5 86.8L372.0 86.9L372.0 87.9L372.0 88.9L372.0 89.9L372.0 90.9L372.0 91.9L372.0 92.9L372.0 93.9L372.0 94.9L372.0 95.9L372.0 96.9L372.0 97.9L372.0 98.9L372.0 99.9L372.0 100.9L372.0 101.9L372.0 102.9L372.0 103.9L372.0 104.9L372.0 105.9L372.0 106.9L372.0 107.9L372.0 108.9L372.0 109.9L372.0 110.9L372.0 111.9L372.0 112.9L372.0 113.9L372.0 114.9L372.0 115.9L372.0 116.9L372.0 117.9L372.0 118.9L372.0 119.9L372.0 120.9L372.0 121.9L372.0 122.9L372.0 123.9L371.5 124.4L370.5 124.4L369.5 124.4L368.5 124.4L367.5 124.4L366.5 124.4L365.5 124.4L364.5 124.4L363.5 124.4L362.5 124.4L361.5 124.4L360.5 124.4L359.5 124.4L358.5 124.4L357.5 124.4L356.5 124.4L355.5 124.4L354.5 124.4L353.5 124.4L352.5 124.4L351.5 124.4L350.5 124.4L349.5 124.4L348.5 124.4L347.5 124.4L346.5 124.4L345.5 124.4L344.5 124.4L343.5 124.4L342.5 124.4L341.5 124.4L340.5 124.4L339.5 124.4L338.5 124.4L337.5 124.4L336.5 124.4L335.5 124.4L334.5 124.4L333.5 124.4L332.5 124.4L331.5 124.4L330.5 124.4L329.5 124.4L328.5 124.4L327.5 124.4L326.5 124.4L325.5 124.4L324.5 124.4L323.5 124.4L322.5 124.4L321.5 124.4L320.5 124.4L319.5 124.4L318.5 124.4L317.5 124.4L317.0 124.4L316.0 124.1L315.2 123.9L314.5 123.7L313.5 123.5L313.0 123.4L312.0 123.1L311.1 122.9L310.5 122.7L309.5 122.5L309.0 122.4L308.0 122.1L307.1 121.9L306.5 121.8L305.5 121.5L305.0 121.4L304.0 121.2L303.0 120.9L302.5 120.8L301.5 120.6L300.5 120.4L300.0 120.3L299.0 120.1L298.2 119.9L297.5 119.7L296.5 119.5L295.9 119.4L295.0 119.2L294.0 119.0L293.5 118.9L292.5 118.7L291.5 118.5L291.0 118.3L290.0 118.1L289.0 117.9L288.5 117.8L287.5 117.6L286.5 117.4L286.0 117.3L285.0 117.1L284.1 116.9L283.5 116.8L282.5 116.6L281.7 116.4L281.0 116.3L280.0 116.1L279.3 115.9L278.5 115.7L277.5 115.5L276.8 115.4L276.0 115.2L275.0 115.0L274.3 114.9L273.5 114.7L272.5 114.5L271.8 114.4L271.0 114.2L270.0 114.0L269.3 113.9L268.5 113.7L267.5 113.6L266.7 113.4L266.0 113.3L265.0 113.1L264.2 112.9L263.5 112.8L262.5 112.6L261.6 112.4L261.0 112.3L260.0 112.1L259.1 111.9L258.5 111.8L257.5 111.6L256.7 111.4L256.0 111.3L255.0 111.0L254.3 110.9L253.5 110.7L252.5 110.5L251.9 110.4L251.0 110.2L250.0 110.0L249.5 109.9L248.5 109.7L247.5 109.5L247.0 109.4L246.0 109.2L245.0 109.0L244.5 108.9L243.5 108.7L242.5 108.5L242.0 108.4L241.0 108.2L240.0 108.0L239.5 107.9L238.5 107.7L237.5 107.5L237.0 107.4L236.0 107.2L235.0 107.0L234.5 106.9L233.5 106.7L232.5 106.5L232.0 106.4L231.0 106.2L230.0 106.0L229.5 105.9L228.5 105.7L227.5 105.5L227.0 105.4L226.0 105.2L225.0 105.0L224.4 104.9L223.5 104.7L222.5 104.5L221.8 104.4L221.0 104.2L220.0 104.0L219.5 103.9L218.5 103.6L217.7 103.4L217.0 103.2L216.0 102.9L215.5 102.8L214.5 102.5L214.0 102.4L213.0 102.1L212.2 101.9L211.5 101.7L210.5 101.5L210.0 101.3L209.0 101.0L208.5 100.8L207.5 100.6L207.0 100.4L206.0 100.1L205.4 99.9L204.5 99.6L203.6 99.4L203.0 99.2L202.0 98.9L201.5 98.7L200.5 98.4L200.0 98.3L199.0 98.0L198.5 97.8L197.5 97.5L197.0 97.4L196.0 97.0L195.4 96.9L194.5 96.6L193.8 96.4L193.0 96.2L192.2 95.9L191.5 95.7L190.6 95.4L190.0 95.3L189.0 94.9L188.5 94.8L187.5 94.5L187.0 94.3L186.0 94.1L185.5 93.9L184.5 93.6L183.9 93.4L183.0 93.2L182.1 92.9L181.5 92.7L180.5 92.4L180.0 92.3L179.0 92.0L178.5 91.8L177.5 91.5L177.0 91.4L176.0 91.1L175.3 90.9L174.5 90.7L173.5 90.4L173.0 90.3L172.0 90.0L171.5 89.8L170.5 89.6L170.0 89.4L169.0 89.2L168.0 88.9L167.5 88.8L166.5 88.5L166.0 88.4L165.0 88.1L164.1 87.9L163.5 87.7L162.5 87.5L162.0 87.3L161.0 87.1L160.1 86.9L159.5 86.7L158.5 86.5L158.0 86.4L157.0 86.2L156.0 85.9L155.5 85.8L154.5 85.6L153.8 85.4L153.0 85.3L152.0 85.0L151.5 84.9L150.5 84.7L149.5 84.4L149.0 84.4L148.0 84.1L147.2 83.9L146.5 83.8L145.5 83.4L145.0 83.4L144.0 83.0L143.3 82.9L142.5 82.7L141.5 82.4L141.0 82.4L140.0 82.0L139.3 81.9L138.5 81.7L137.5 81.4L137.0 81.4L136.0 81.0L135.3 80.9L134.5 80.7L133.5 80.4L133.0 80.4L132.0 80.1L131.2 79.9L130.5 79.7L129.5 79.5L129.0 79.4L128.0 79.1L127.0 78.9L126.5 78.8L125.5 78.5L125.0 78.4L124.0 78.2L123.0 78.0L122.5 77.8L121.5 77.6L120.5 77.4L120.0 77.3L119.0 77.1L118.2 76.9L117.5 76.7L116.5 76.5L116.0 76.4L115.0 76.2L114.0 76.0L113.5 75.8L112.5 75.6L111.5 75.4L111.0 75.3L110.0 75.1L109.4 74.9L108.5 74.7L107.5 74.5L107.0 74.4L106.0 74.2L105.0 73.9L104.5 73.9L103.5 73.7L102.5 73.5L101.6 73.4L101.0 73.3L100.0 73.1L99.0 73.0L98.5 72.9L97.5 72.7L96.5 72.6L95.5 72.4L95.0 72.3L94.0 72.2L93.0 72.0L92.3 71.9L91.5 71.7L90.5 71.4L90.0 71.2L89.0 70.9L88.5 70.9L87.7 70.4L87.0 70.3L86.5 69.9L85.5 69.5L85.0 69.1L84.3 68.9L83.8 68.4L83.0 68.0L82.5 67.5L82.1 66.9L81.5 66.8L81.0 66.0L80.6 65.4L80.0 65.1L79.7 64.4L79.5 63.9L79.1 62.9L79.0 62.3L78.4 61.9L78.2 60.9L78.7 60.4L78.7 59.4L78.8 58.4L79.0 57.4L79.5 57.3L79.7 56.4L80.0 55.7L80.3 54.9L81.0 54.6L81.4 53.9L82.0 53.8L82.5 53.1L83.2 52.9L83.7 52.4L84.5 52.1L85.0 51.7L85.9 51.4L86.5 51.1L87.1 50.9L88.0 50.7L89.0 50.4L89.5 50.2L90.5 50.0Z" fill="#02bac4" fill-rule="evenodd" stroke="#02bac4" stroke-width="0.3"/>
<path d="M93.3 49.9L93.9 49.9L94.1 49.9L95.0 49.8L96.0 49.8L97.0 49.8L98.0 49.9L98.9 49.9L99.1 49.9L100.0 49.9L100.5 49.9L101.5 49.9L102.5 49.9L103.5 50.0L104.5 50.0L105.5 50.0L106.5 50.1L107.5 50.0L108.5 50.0L109.5 50.0L110.5 50.1L111.5 50.1L112.5 50.0L113.5 50.0L114.5 50.0L115.5 50.0L116.5 50.0L117.5 50.0L118.5 50.0L119.5 50.0L120.5 50.0L121.5 50.0L122.5 50.0L123.5 50.0L124.5 50.0L125.5 50.0L126.5 50.1L127.5 50.0L128.5 50.0L129.5 50.1L130.5 50.1L131.5 50.1L132.5 50.1L133.5 50.1L134.5 50.1L135.5 50.1L136.5 50.2L137.5 50.2L138.5 50.1L139.5 50.2L140.5 50.2L141.5 50.2L142.5 50.3L143.5 50.2L144.5 50.2L145.5 50.3L146.5 50.3L147.5 50.3L148.5 50.3L149.5 50.3L150.5 50.4L151.5 50.4L151.5 50.4L152.2 50.4L153.0 50.4L154.0 50.5L155.0 50.6L156.0 50.6L157.0 50.7L158.0 50.7L159.0 50.8L159.9 50.9L160.5 50.9L161.5 51.0L162.5 51.1L163.5 51.2L164.5 51.2L165.5 51.3L166.5 51.4L167.1 51.4L168.0 51.5L169.0 51.5L170.0 51.6L171.0 51.7L172.0 51.8L173.0 51.8L173.5 51.9L174.5 51.9L175.5 52.0L176.5 52.1L177.5 52.2L178.5 52.3L179.5 52.3L180.5 52.3L181.0 52.4L182.0 52.5L183.0 52.5L184.0 52.6L185.0 52.7L186.0 52.8L187.0 52.9L188.0 52.9L188.5 52.9L189.5 53.0L190.5 53.0L191.5 53.1L192.5 53.2L193.5 53.3L194.5 53.4L195.0 53.4L196.0 53.5L197.0 53.6L198.0 53.7L199.0 53.7L200.0 53.8L201.0 53.9L201.6 53.9L202.5 54.0L203.5 54.1L204.5 54.2L205.5 54.3L206.5 54.3L207.5 54.4L208.0 54.5L209.0 54.6L210.0 54.6L211.0 54.7L212.0 54.8L212.7 54.9L213.5 55.0L214.5 55.1L215.5 55.2L216.5 55.3L217.5 55.4L218.0 55.5L219.0 55.6L220.0 55.6L221.0 55.7L222.0 55.8L223.0 55.8L223.5 55.9L224.5 56.0L225.5 56.1L226.5 56.2L227.5 56.3L228.4 56.4L229.0 56.5L230.0 56.6L231.0 56.8L231.5 56.9L232.5 57.1L233.5 57.3L234.1 57.4L235.0 57.6L236.0 57.7L236.8 57.9L237.5 58.0L238.5 58.2L239.5 58.4L240.0 58.5L241.0 58.7L242.0 58.9L242.5 59.0L243.5 59.2L244.5 59.4L245.0 59.5L246.0 59.6L247.0 59.8L247.5 59.9L248.5 60.1L249.5 60.3L250.0 60.4L251.0 60.6L252.0 60.8L252.5 60.9L253.5 61.1L254.5 61.3L255.0 61.4L256.0 61.6L257.0 61.8L257.5 61.9L258.5 62.1L259.5 62.3L260.0 62.4L261.0 62.6L262.0 62.8L262.5 62.9L263.5 63.1L264.5 63.4L265.0 63.5L266.0 63.7L267.0 63.9L267.5 64.0L268.5 64.2L269.5 64.4L270.0 64.5L271.0 64.7L272.0 64.9L272.5 65.0L273.5 65.2L274.5 65.4L275.0 65.5L276.0 65.7L277.0 65.8L277.5 65.9L278.5 66.1L279.5 66.3L280.0 66.4L281.0 66.6L282.0 66.8L282.5 66.9L283.5 67.1L284.5 67.3L285.0 67.4L286.0 67.6L287.0 67.8L287.5 67.9L288.5 68.1L289.5 68.3L290.0 68.4L291.0 68.7L292.0 68.9L292.5 69.0L293.5 69.2L294.5 69.4L295.0 69.5L296.0 69.7L297.0 69.9L297.5 70.0L298.5 70.2L299.4 70.4L300.0 70.5L301.0 70.7L301.7 70.9L302.5 71.1L303.5 71.3L304.1 71.4L305.0 71.6L306.0 71.8L306.5 71.9L307.5 72.1L308.5 72.4L309.0 72.5L310.0 72.7L311.0 72.9L311.5 73.0L312.5 73.2L313.3 73.4L314.0 73.6L315.0 73.8L315.5 73.9L316.5 74.1L317.5 74.4L318.0 74.5L319.0 74.7L319.6 74.9L320.5 75.1L321.5 75.4L322.0 75.5L323.0 75.7L323.7 75.9L324.5 76.1L325.5 76.3L326.0 76.5L327.0 76.7L327.7 76.9L328.5 77.1L329.5 77.3L330.0 77.5L331.0 77.7L331.7 77.9L332.5 78.1L333.5 78.3L334.0 78.5L335.0 78.7L335.7 78.9L336.5 79.1L337.5 79.4L338.0 79.5L339.0 79.8L339.6 79.9L340.5 80.1L341.5 80.4L342.0 80.5L343.0 80.8L343.5 80.9L344.5 81.2L345.4 81.4L346.0 81.6L347.0 81.8L347.5 82.0L348.5 82.2L349.2 82.4L350.0 82.6L351.0 82.9L351.5 83.0L352.5 83.3L353.0 83.4L354.0 83.7L354.8 83.9L355.5 84.1L356.5 84.3L357.0 84.5L358.0 84.7L358.6 84.9L359.5 85.2L360.4 85.4L361.0 85.6L362.0 85.8L362.5 86.0L363.5 86.2L364.1 86.4L365.0 86.6L365.9 86.9L366.5 87.1L367.5 87.3L368.0 87.5L369.0 87.7L369.6 87.9L370.5 88.2L371.4 88.4L372.0 88.6L372.0 89.4L372.0 90.4L372.0 91.4L372.0 92.4L372.0 93.4L372.0 94.4L372.0 95.4L372.0 96.4L372.0 97.4L372.0 98.4L372.0 99.4L372.0 100.4L372.0 101.4L372.0 102.4L372.0 103.4L372.0 104.4L372.0 105.4L372.0 106.4L372.0 107.4L372.0 108.4L372.0 109.4L372.0 110.4L372.0 111.4L372.0 112.4L372.0 113.4L372.0 114.4L372.0 115.4L372.0 116.4L372.0 117.4L372.0 118.4L372.0 119.4L372.0 120.4L372.0 121.4L372.0 122.4L372.0 123.4L372.0 124.4L371.0 124.4L370.0 124.4L369.0 124.4L368.0 124.4L367.0 124.4L366.0 124.4L365.0 124.4L364.0 124.4L363.0 124.4L362.0 124.4L361.0 124.4L360.0 124.4L359.0 124.4L358.0 124.4L357.0 124.4L356.0 124.4L355.0 124.4L354.0 124.4L353.0 124.4L352.0 124.4L351.0 124.4L350.0 124.4L349.0 124.4L348.0 124.4L347.0 124.4L346.0 124.4L345.0 124.4L344.0 124.4L343.0 124.4L342.0 124.4L341.0 124.4L340.0 124.4L339.0 124.4L338.0 124.4L337.0 124.4L336.0 124.4L335.0 124.4L334.0 124.4L333.0 124.4L332.0 124.4L331.0 124.4L330.0 124.4L329.0 124.4L328.0 124.4L327.0 124.4L326.0 124.4L325.0 124.4L324.0 124.4L323.5 124.4L322.5 124.1L321.7 123.9L321.0 123.7L320.0 123.5L319.5 123.3L318.5 123.1L317.7 122.9L317.0 122.7L316.0 122.5L315.5 122.3L314.5 122.1L313.7 121.9L313.0 121.7L312.0 121.5L311.5 121.4L310.5 121.1L309.7 120.9L309.0 120.7L308.0 120.5L307.5 120.4L306.5 120.1L305.6 119.9L305.0 119.8L304.0 119.5L303.4 119.4L302.5 119.2L301.5 119.0L301.0 118.9L300.0 118.7L299.0 118.4L298.5 118.3L297.5 118.1L296.5 117.9L296.0 117.8L295.0 117.6L294.2 117.4L293.5 117.3L292.5 117.0L291.8 116.9L291.0 116.7L290.0 116.5L289.5 116.4L288.5 116.2L287.5 116.0L287.0 115.9L286.0 115.7L285.0 115.5L284.5 115.4L283.5 115.2L282.5 114.9L282.0 114.8L281.0 114.6L280.0 114.4L279.5 114.3L278.5 114.1L277.5 113.9L277.0 113.8L276.0 113.6L275.0 113.4L274.5 113.3L273.5 113.1L272.5 112.9L272.0 112.8L271.0 112.6L270.0 112.4L269.5 112.3L268.5 112.1L267.5 111.9L267.0 111.8L266.0 111.6L265.0 111.4L264.5 111.3L263.5 111.2L262.5 111.0L262.0 110.9L261.0 110.7L260.0 110.5L259.5 110.4L258.5 110.2L257.5 109.9L257.0 109.8L256.0 109.6L255.0 109.4L254.5 109.3L253.5 109.1L252.5 108.9L252.0 108.8L251.0 108.6L250.1 108.4L249.5 108.3L248.5 108.1L247.6 107.9L247.0 107.8L246.0 107.6L245.1 107.4L244.5 107.3L243.5 107.1L242.7 106.9L242.0 106.8L241.0 106.6L240.2 106.4L239.5 106.3L238.5 106.1L237.6 105.9L237.0 105.8L236.0 105.6L235.1 105.4L234.5 105.3L233.5 105.1L232.6 104.9L232.0 104.8L231.0 104.6L230.0 104.4L229.5 104.3L228.5 104.1L227.5 103.9L227.0 103.8L226.0 103.6L225.0 103.4L224.5 103.3L223.5 103.1L222.5 103.0L222.0 102.9L221.0 102.7L220.0 102.4L219.5 102.3L218.5 102.0L218.0 101.9L217.0 101.6L216.3 101.4L215.5 101.2L214.5 100.9L214.0 100.8L213.0 100.5L212.5 100.3L211.5 100.1L210.8 99.9L210.0 99.7L209.0 99.4L208.5 99.3L207.5 99.0L207.0 98.8L206.0 98.5L205.5 98.3L204.5 98.1L204.0 97.9L203.0 97.6L202.4 97.4L201.5 97.1L200.7 96.9L200.0 96.7L199.0 96.4L198.5 96.2L197.5 96.0L197.0 95.8L196.0 95.5L195.5 95.3L194.5 95.0L194.0 94.9L193.0 94.6L192.2 94.4L191.5 94.1L190.6 93.9L190.0 93.7L189.0 93.4L188.5 93.3L187.5 93.0L187.0 92.9L186.0 92.6L185.3 92.4L184.5 92.1L183.6 91.9L183.0 91.8L182.0 91.4L181.5 91.3L180.5 91.0L179.9 90.9L179.0 90.6L178.1 90.4L177.5 90.3L176.5 90.0L176.0 89.9L175.0 89.6L174.3 89.4L173.5 89.2L172.5 88.9L172.0 88.8L171.0 88.5L170.3 88.4L169.5 88.2L168.5 87.9L168.0 87.9L167.0 87.6L166.2 87.4L165.5 87.2L164.5 87.0L164.0 86.9L163.0 86.6L162.0 86.4L161.5 86.3L160.5 86.1L159.7 85.9L159.0 85.7L158.0 85.5L157.5 85.4L156.5 85.2L155.5 85.0L155.0 84.8L154.0 84.7L153.0 84.5L152.5 84.3L151.5 84.1L150.5 83.9L150.0 83.8L149.0 83.6L148.1 83.4L147.5 83.3L146.5 83.0L146.0 82.9L145.0 82.7L144.1 82.4L143.5 82.3L142.5 82.0L141.9 81.9L141.0 81.7L140.0 81.4L139.5 81.3L138.5 81.0L137.8 80.9L137.0 80.7L136.0 80.5L135.5 80.4L134.5 80.1L133.6 79.9L133.0 79.7L132.0 79.5L131.3 79.4L130.5 79.2L129.5 79.0L129.0 78.8L128.0 78.6L127.0 78.4L126.5 78.3L125.5 78.1L124.9 77.9L124.0 77.7L123.0 77.5L122.5 77.4L121.5 77.2L120.5 77.0L120.0 76.9L119.0 76.7L118.0 76.5L117.5 76.3L116.5 76.1L115.7 75.9L115.0 75.8L114.0 75.6L113.3 75.4L112.5 75.3L111.5 75.0L110.9 74.9L110.0 74.7L109.0 74.5L108.5 74.4L107.5 74.1L106.5 73.9L106.0 73.9L105.0 73.6L104.0 73.5L103.5 73.4L102.5 73.2L101.5 73.1L100.5 72.9L100.0 72.8L99.0 72.7L98.0 72.5L97.4 72.4L96.5 72.3L95.5 72.1L94.5 72.0L94.0 71.9L93.0 71.7L92.0 71.5L91.5 71.4L90.5 71.1L90.0 70.9L89.0 70.6L88.2 70.4L87.5 70.0L87.0 69.9L86.3 69.4L85.5 69.2L85.0 68.7L84.5 68.2L83.7 67.9L83.0 67.6L82.5 67.0L82.0 66.4L81.5 66.3L81.0 65.5L80.7 64.9L80.0 64.5L79.8 63.9L79.5 63.1L79.3 62.4L79.1 61.4L79.0 60.4L79.0 59.9L79.0 59.2L79.1 58.4L79.5 57.6L79.9 56.9L80.0 56.4L80.4 55.4L81.0 55.3L81.5 54.4L82.0 54.4L82.5 53.6L83.2 53.4L83.6 52.9L84.5 52.5L85.0 52.0L85.7 51.9L86.4 51.4L87.0 51.3L88.0 51.0L88.5 50.7L89.5 50.5L90.0 50.3L91.0 50.2L92.0 50.0L93.0 50.0Z" fill="#01b9c6" fill-rule="evenodd" stroke="#01b9c6" stroke-width="0.3"/>
<path d="M91.8 50.4L92.5 50.2L93.5 50.1L94.5 50.1L95.5 50.1L96.5 50.1L97.5 50.1L98.5 50.1L99.5 50.1L100.5 50.2L101.5 50.2L102.5 50.2L103.5 50.2L104.5 50.3L105.5 50.3L106.5 50.3L107.5 50.3L108.5 50.3L109.5 50.3L110.5 50.4L111.5 50.4L112.5 50.3L113.5 50.3L114.5 50.3L115.5 50.4L116.5 50.4L117.5 50.3L118.5 50.3L119.5 50.3L120.5 50.4L121.5 50.4L122.5 50.3L123.5 50.4L124.0 50.4L124.6 50.4L125.2 50.4L126.0 50.4L127.0 50.4L128.0 50.5L129.0 50.5L130.0 50.5L131.0 50.5L132.0 50.5L133.0 50.6L134.0 50.6L135.0 50.5L136.0 50.6L137.0 50.6L138.0 50.7L139.0 50.7L140.0 50.7L141.0 50.7L142.0 50.7L143.0 50.8L144.0 50.8L145.0 50.8L146.0 50.8L147.0 50.9L147.9 50.9L148.2 50.9L148.6 50.9L149.5 50.9L150.5 51.0L151.5 51.0L152.5 51.0L153.5 51.1L154.5 51.1L155.5 51.2L156.5 51.3L157.3 51.4L158.0 51.4L159.0 51.5L160.0 51.6L161.0 51.7L162.0 51.8L163.0 51.9L163.5 51.9L164.5 52.0L165.5 52.1L166.5 52.2L167.5 52.3L168.5 52.3L169.0 52.4L170.0 52.5L171.0 52.6L172.0 52.6L173.0 52.7L174.0 52.9L174.6 52.9L175.5 53.0L176.5 53.1L177.5 53.2L178.5 53.2L179.5 53.3L180.0 53.4L181.0 53.5L182.0 53.5L183.0 53.6L184.0 53.7L185.0 53.8L185.7 53.9L186.5 54.0L187.5 54.1L188.5 54.2L189.5 54.2L190.5 54.3L191.5 54.4L192.0 54.4L193.0 54.5L194.0 54.6L195.0 54.7L196.0 54.8L197.0 54.9L197.5 54.9L198.5 55.0L199.5 55.1L200.5 55.2L201.5 55.3L202.5 55.4L203.0 55.4L204.0 55.5L205.0 55.6L206.0 55.7L207.0 55.8L208.0 55.9L208.5 56.0L209.5 56.1L210.5 56.1L211.5 56.2L212.5 56.3L213.3 56.4L214.0 56.5L215.0 56.6L216.0 56.7L217.0 56.8L217.8 56.9L218.5 57.0L219.5 57.0L220.5 57.1L221.5 57.2L222.5 57.3L223.5 57.3L224.0 57.4L225.0 57.5L226.0 57.6L227.0 57.7L228.0 57.8L228.9 57.9L229.5 58.0L230.5 58.2L231.5 58.4L232.0 58.5L233.0 58.6L234.0 58.8L234.5 58.9L235.5 59.1L236.5 59.3L237.0 59.4L238.0 59.6L239.0 59.8L239.7 59.9L240.5 60.0L241.5 60.2L242.3 60.4L243.0 60.5L244.0 60.7L244.9 60.9L245.5 61.0L246.5 61.2L247.5 61.4L248.0 61.5L249.0 61.7L250.0 61.9L250.5 62.0L251.5 62.2L252.5 62.4L253.0 62.5L254.0 62.7L255.0 62.9L255.5 63.0L256.5 63.2L257.5 63.4L258.0 63.5L259.0 63.7L260.0 63.9L260.5 64.0L261.5 64.2L262.4 64.4L263.0 64.5L264.0 64.7L264.9 64.9L265.5 65.0L266.5 65.2L267.3 65.4L268.0 65.6L269.0 65.8L269.7 65.9L270.5 66.1L271.5 66.2L272.3 66.4L273.0 66.5L274.0 66.7L274.9 66.9L275.5 67.0L276.5 67.2L277.4 67.4L278.0 67.5L279.0 67.7L280.0 67.9L280.5 68.0L281.5 68.2L282.5 68.4L283.0 68.5L284.0 68.7L285.0 68.9L285.5 69.0L286.5 69.2L287.4 69.4L288.0 69.5L289.0 69.7L289.9 69.9L290.5 70.0L291.5 70.2L292.3 70.4L293.0 70.5L294.0 70.7L294.7 70.9L295.5 71.1L296.5 71.3L297.1 71.4L298.0 71.6L299.0 71.8L299.5 71.9L300.5 72.1L301.5 72.3L302.0 72.4L303.0 72.6L304.0 72.9L304.5 73.0L305.5 73.2L306.5 73.4L307.0 73.5L308.0 73.7L308.8 73.9L309.5 74.0L310.5 74.3L311.1 74.4L312.0 74.6L313.0 74.8L313.5 74.9L314.5 75.1L315.5 75.4L316.0 75.5L317.0 75.7L317.6 75.9L318.5 76.1L319.5 76.4L320.0 76.5L321.0 76.7L321.7 76.9L322.5 77.1L323.5 77.3L324.0 77.5L325.0 77.7L325.8 77.9L326.5 78.1L327.5 78.3L328.0 78.5L329.0 78.7L329.8 78.9L330.5 79.1L331.5 79.3L332.0 79.5L333.0 79.7L333.7 79.9L334.5 80.1L335.5 80.3L336.0 80.5L337.0 80.7L337.7 80.9L338.5 81.1L339.5 81.4L340.0 81.5L341.0 81.8L341.5 81.9L342.5 82.1L343.5 82.4L344.0 82.5L345.0 82.8L345.5 82.9L346.5 83.2L347.3 83.4L348.0 83.6L349.0 83.8L349.5 84.0L350.5 84.2L351.1 84.4L352.0 84.6L353.0 84.9L353.5 85.0L354.5 85.3L355.0 85.4L356.0 85.7L356.7 85.9L357.5 86.1L358.5 86.4L359.0 86.5L360.0 86.8L360.5 86.9L361.5 87.2L362.3 87.4L363.0 87.6L364.0 87.9L364.5 88.0L365.5 88.3L366.0 88.4L367.0 88.7L367.8 88.9L368.5 89.1L369.5 89.4L370.0 89.5L371.0 89.8L371.5 89.9L372.0 90.4L372.0 91.4L372.0 92.4L372.0 93.4L372.0 94.4L372.0 95.4L372.0 96.4L372.0 97.4L372.0 98.4L372.0 99.4L372.0 100.4L372.0 101.4L372.0 102.4L372.0 103.4L372.0 104.4L372.0 105.4L372.0 106.4L372.0 107.4L372.0 108.4L372.0 109.4L372.0 110.4L372.0 111.4L372.0 112.4L372.0 113.4L372.0 114.4L372.0 115.4L372.0 116.4L372.0 117.4L372.0 118.4L372.0 119.4L372.0 120.4L372.0 121.4L372.0 122.4L372.0 123.4L372.0 124.4L371.0 124.4L370.0 124.4L369.0 124.4L368.0 124.4L367.0 124.4L366.0 124.4L365.0 124.4L364.0 124.4L363.0 124.4L362.0 124.4L361.0 124.4L360.0 124.4L359.0 124.4L358.0 124.4L357.0 124.4L356.0 124.4L355.0 124.4L354.0 124.4L353.0 124.4L352.0 124.4L351.0 124.4L350.0 124.4L349.0 124.4L348.0 124.4L347.0 124.4L346.0 124.4L345.0 124.4L344.0 124.4L343.0 124.4L342.0 124.4L341.0 124.4L340.0 124.4L339.0 124.4L338.0 124.4L337.0 124.4L336.0 124.4L335.0 124.4L334.0 124.4L333.0 124.4L332.0 124.4L331.0 124.4L330.0 124.4L329.5 124.4L328.5 124.1L327.5 123.9L327.0 123.8L326.0 123.5L325.5 123.4L324.5 123.1L323.6 122.9L323.0 122.7L322.0 122.5L321.5 122.4L320.5 122.1L319.7 121.9L319.0 121.7L318.0 121.5L317.5 121.4L316.5 121.1L315.7 120.9L315.0 120.7L314.0 120.5L313.5 120.4L312.5 120.1L311.6 119.9L311.0 119.7L310.0 119.5L309.5 119.4L308.5 119.1L307.6 118.9L307.0 118.8L306.0 118.5L305.5 118.4L304.5 118.2L303.5 118.0L303.0 117.8L302.0 117.6L301.0 117.4L300.5 117.3L299.5 117.1L298.7 116.9L298.0 116.7L297.0 116.5L296.4 116.4L295.5 116.2L294.5 116.0L294.0 115.9L293.0 115.7L292.0 115.5L291.5 115.4L290.5 115.1L289.5 114.9L289.0 114.8L288.0 114.6L287.0 114.4L286.5 114.3L285.5 114.1L284.6 113.9L284.0 113.8L283.0 113.6L282.1 113.4L281.5 113.3L280.5 113.1L279.7 112.9L279.0 112.8L278.0 112.6L277.2 112.4L276.5 112.2L275.5 112.1L274.8 111.9L274.0 111.7L273.0 111.6L272.3 111.4L271.5 111.3L270.5 111.1L269.7 110.9L269.0 110.8L268.0 110.6L267.2 110.4L266.5 110.3L265.5 110.1L264.6 109.9L264.0 109.8L263.0 109.6L262.0 109.4L261.5 109.3L260.5 109.1L259.5 108.9L259.0 108.8L258.0 108.6L257.1 108.4L256.5 108.3L255.5 108.1L254.7 107.9L254.0 107.8L253.0 107.5L252.3 107.4L251.5 107.2L250.5 107.0L249.9 106.9L249.0 106.7L248.0 106.5L247.4 106.4L246.5 106.2L245.5 106.0L244.9 105.9L244.0 105.7L243.0 105.5L242.4 105.4L241.5 105.2L240.5 105.0L239.9 104.9L239.0 104.7L238.0 104.5L237.4 104.4L236.5 104.2L235.5 104.0L234.8 103.9L234.0 103.7L233.0 103.5L232.3 103.4L231.5 103.3L230.5 103.1L229.7 102.9L229.0 102.8L228.0 102.6L227.1 102.4L226.5 102.3L225.5 102.1L224.5 101.9L224.0 101.8L223.0 101.6L222.0 101.4L221.5 101.3L220.5 101.1L219.6 100.9L219.0 100.7L218.0 100.4L217.5 100.3L216.5 100.0L215.9 99.9L215.0 99.6L214.2 99.4L213.5 99.2L212.5 98.9L212.0 98.8L211.0 98.6L210.5 98.4L209.5 98.1L208.8 97.9L208.0 97.7L207.0 97.4L206.5 97.2L205.5 96.9L205.0 96.8L204.0 96.5L203.5 96.3L202.5 96.1L202.0 95.9L201.0 95.6L200.3 95.4L199.5 95.2L198.5 94.9L198.0 94.7L197.0 94.5L196.5 94.3L195.5 94.0L195.0 93.9L194.0 93.6L193.2 93.4L192.5 93.2L191.5 92.9L191.0 92.8L190.0 92.5L189.5 92.4L188.5 92.1L187.7 91.9L187.0 91.7L186.0 91.4L185.5 91.3L184.5 91.0L183.9 90.9L183.0 90.6L182.1 90.4L181.5 90.2L180.5 90.0L180.0 89.9L179.0 89.6L178.1 89.4L177.5 89.2L176.5 89.0L176.0 88.9L175.0 88.6L174.0 88.4L173.5 88.3L172.5 88.1L172.0 87.9L171.0 87.7L170.0 87.5L169.5 87.3L168.5 87.1L167.5 86.9L167.0 86.8L166.0 86.6L165.3 86.4L164.5 86.2L163.5 86.0L163.0 85.9L162.0 85.7L161.0 85.5L160.5 85.4L159.5 85.2L158.5 85.0L158.0 84.8L157.0 84.6L156.0 84.4L155.5 84.3L154.5 84.1L153.5 83.9L153.0 83.8L152.0 83.6L151.0 83.4L150.5 83.3L149.5 83.1L148.5 82.9L148.0 82.8L147.0 82.6L146.3 82.4L145.5 82.2L144.5 82.0L144.0 81.8L143.0 81.6L142.0 81.4L141.5 81.3L140.5 81.1L140.0 80.9L139.0 80.7L138.0 80.5L137.5 80.3L136.5 80.1L135.5 79.9L135.0 79.8L134.0 79.6L133.4 79.4L132.5 79.2L131.5 78.9L131.0 78.9L130.0 78.7L129.0 78.4L128.5 78.3L127.5 78.1L126.6 77.9L126.0 77.8L125.0 77.5L124.2 77.4L123.5 77.2L122.5 77.0L121.8 76.9L121.0 76.7L120.0 76.5L119.5 76.4L118.5 76.2L117.5 76.0L117.0 75.8L116.0 75.7L115.0 75.5L114.5 75.3L113.5 75.1L112.5 74.9L112.0 74.8L111.0 74.6L110.0 74.4L109.5 74.3L108.5 74.1L107.7 73.9L107.0 73.8L106.0 73.6L105.1 73.4L104.5 73.3L103.5 73.1L102.5 73.0L101.9 72.9L101.0 72.7L100.0 72.6L99.0 72.4L98.5 72.3L97.5 72.2L96.5 72.0L95.9 71.9L95.0 71.8L94.0 71.6L93.0 71.5L92.5 71.4L91.5 71.1L90.6 70.9L90.0 70.6L89.1 70.4L88.5 70.3L87.8 69.9L87.0 69.6L86.5 69.3L86.0 68.9L85.0 68.4L84.5 67.9L84.0 67.9L83.5 67.3L82.7 66.9L82.3 66.4L82.0 65.9L81.2 65.4L81.0 64.9L80.5 63.9L80.0 63.8L79.7 62.9L80.0 62.4L79.5 62.2L79.3 61.4L79.2 60.4L79.2 59.4L79.3 58.4L79.5 57.8L80.0 57.4L80.3 56.4L80.5 55.9L81.2 55.4L81.5 54.9L82.3 54.4L83.0 54.0L83.5 53.4L84.0 52.9L84.5 52.9L85.0 52.4L85.5 52.4L86.0 52.0L86.5 51.6L87.3 51.4L88.0 51.3L88.8 50.9L89.5 50.8L90.5 50.6L91.5 50.5Z" fill="#01b9c7" fill-rule="evenodd" stroke="#01b9c7" stroke-width="0.3"/>
<path d="M94.8 50.9L95.2 50.9L95.9 50.9L96.3 50.9L97.0 50.9L98.0 51.0L99.0 51.0L100.0 51.0L101.0 51.0L102.0 51.0L103.0 51.1L104.0 51.1L105.0 51.1L106.0 51.2L107.0 51.2L108.0 51.2L109.0 51.2L110.0 51.2L111.0 51.2L112.0 51.3L113.0 51.3L114.0 51.3L115.0 51.3L116.0 51.3L117.0 51.4L117.9 51.4L118.1 51.4L119.0 51.4L119.5 51.4L120.0 51.4L120.5 51.4L121.5 51.4L122.5 51.5L123.5 51.5L124.5 51.5L125.5 51.6L126.5 51.6L127.5 51.6L128.5 51.7L129.5 51.7L130.5 51.8L131.5 51.7L132.5 51.8L133.5 51.9L134.4 51.9L135.0 51.9L136.0 51.9L137.0 52.0L138.0 52.1L139.0 52.0L140.0 52.1L141.0 52.1L142.0 52.2L143.0 52.3L144.0 52.3L145.0 52.3L146.0 52.4L146.6 52.4L147.5 52.4L148.5 52.5L149.5 52.6L150.5 52.6L151.5 52.7L152.5 52.7L153.5 52.8L154.5 52.9L155.0 52.9L156.0 53.0L157.0 53.1L158.0 53.3L159.0 53.3L159.5 53.4L160.5 53.5L161.5 53.6L162.5 53.7L163.5 53.8L164.0 53.9L165.0 54.0L166.0 54.1L167.0 54.2L168.0 54.4L168.5 54.4L169.5 54.5L170.5 54.7L171.5 54.8L172.5 54.9L173.0 55.0L174.0 55.1L175.0 55.2L176.0 55.3L176.7 55.4L177.5 55.5L178.5 55.6L179.5 55.8L180.5 55.9L181.0 55.9L182.0 56.1L183.0 56.2L184.0 56.3L184.5 56.4L185.5 56.5L186.5 56.6L187.5 56.8L188.4 56.9L189.0 57.0L190.0 57.1L191.0 57.2L192.0 57.4L192.5 57.4L193.5 57.6L194.5 57.7L195.5 57.9L196.0 57.9L197.0 58.0L198.0 58.2L199.0 58.3L199.6 58.4L200.5 58.5L201.5 58.6L202.5 58.8L203.3 58.9L204.0 59.0L205.0 59.1L206.0 59.3L206.8 59.4L207.5 59.5L208.5 59.6L209.5 59.8L210.3 59.9L211.0 60.0L212.0 60.1L213.0 60.3L213.8 60.4L214.5 60.5L215.5 60.7L216.5 60.8L217.3 60.9L218.0 61.0L219.0 61.1L220.0 61.2L221.0 61.4L221.5 61.4L222.5 61.5L223.5 61.7L224.5 61.8L225.5 61.9L226.0 62.0L227.0 62.1L228.0 62.2L229.0 62.4L229.5 62.5L230.5 62.7L231.5 62.9L232.0 63.0L233.0 63.2L234.0 63.4L234.5 63.5L235.5 63.6L236.5 63.8L237.0 63.9L238.0 64.1L239.0 64.3L239.5 64.4L240.5 64.6L241.5 64.8L242.0 64.9L243.0 65.1L244.0 65.3L244.5 65.4L245.5 65.6L246.5 65.8L247.0 65.9L248.0 66.1L249.0 66.3L249.5 66.4L250.5 66.6L251.5 66.9L252.0 67.0L253.0 67.2L254.0 67.4L254.5 67.5L255.5 67.7L256.5 67.9L257.0 68.0L258.0 68.2L258.9 68.4L259.5 68.5L260.5 68.7L261.2 68.9L262.0 69.1L263.0 69.3L263.6 69.4L264.5 69.6L265.5 69.8L266.0 69.9L267.0 70.1L268.0 70.4L268.5 70.5L269.5 70.7L270.5 70.9L271.0 71.0L272.0 71.2L273.0 71.4L273.5 71.5L274.5 71.7L275.5 71.9L276.0 72.0L277.0 72.1L278.0 72.4L278.5 72.5L279.5 72.6L280.5 72.9L281.0 73.0L282.0 73.2L283.0 73.4L283.5 73.5L284.5 73.7L285.5 73.9L286.0 74.0L287.0 74.2L288.0 74.4L288.5 74.5L289.5 74.7L290.5 74.9L291.0 75.0L292.0 75.2L292.9 75.4L293.5 75.5L294.5 75.7L295.3 75.9L296.0 76.1L297.0 76.3L297.6 76.4L298.5 76.6L299.5 76.8L300.0 76.9L301.0 77.1L302.0 77.3L302.5 77.4L303.5 77.7L304.5 77.9L305.0 78.0L306.0 78.2L306.9 78.4L307.5 78.5L308.5 78.8L309.2 78.9L310.0 79.1L311.0 79.3L311.5 79.4L312.5 79.6L313.5 79.9L314.0 80.0L315.0 80.2L315.7 80.4L316.5 80.6L317.5 80.8L318.0 81.0L319.0 81.2L319.8 81.4L320.5 81.6L321.5 81.8L322.0 81.9L323.0 82.2L323.8 82.4L324.5 82.6L325.5 82.8L326.0 82.9L327.0 83.2L327.8 83.4L328.5 83.6L329.5 83.8L330.0 84.0L331.0 84.2L331.7 84.4L332.5 84.6L333.5 84.9L334.0 85.0L335.0 85.2L335.6 85.4L336.5 85.6L337.5 85.9L338.0 86.0L339.0 86.3L339.5 86.4L340.5 86.7L341.4 86.9L342.0 87.0L343.0 87.3L343.5 87.4L344.5 87.7L345.2 87.9L346.0 88.1L347.0 88.4L347.5 88.5L348.5 88.8L349.0 88.9L350.0 89.2L350.9 89.4L351.5 89.6L352.5 89.8L353.0 90.0L354.0 90.2L354.6 90.4L355.5 90.6L356.4 90.9L357.0 91.0L358.0 91.3L358.5 91.5L359.5 91.7L360.1 91.9L361.0 92.1L361.9 92.4L362.5 92.5L363.5 92.8L364.0 93.0L365.0 93.2L365.6 93.4L366.5 93.6L367.4 93.9L368.0 94.1L369.0 94.3L369.5 94.5L370.5 94.8L371.0 94.9L372.0 95.2L372.0 95.9L372.0 96.9L372.0 97.9L372.0 98.9L372.0 99.9L372.0 100.9L372.0 101.9L372.0 102.9L372.0 103.9L372.0 104.9L372.0 105.9L372.0 106.9L372.0 107.9L372.0 108.9L372.0 109.9L372.0 110.9L372.0 111.9L372.0 112.9L372.0 113.9L372.0 114.9L372.0 115.9L372.0 116.9L372.0 117.9L372.0 118.9L372.0 119.9L372.0 120.9L372.0 121.9L372.0 122.9L372.0 123.9L371.5 124.4L370.5 124.4L369.5 124.4L368.5 124.4L367.5 124.4L366.5 124.4L365.5 124.4L364.5 124.4L363.5 124.4L362.5 124.4L361.5 124.4L360.5 124.4L359.5 124.4L358.5 124.4L357.5 124.4L356.5 124.4L355.5 124.4L354.5 124.4L353.5 124.4L352.5 124.4L351.5 124.4L350.5 124.4L349.5 124.4L348.7 124.4L348.0 124.2L347.0 123.9L346.5 123.8L345.5 123.5L345.0 123.4L344.0 123.2L343.1 122.9L342.5 122.8L341.5 122.5L341.0 122.4L340.0 122.1L339.3 121.9L338.5 121.7L337.5 121.4L337.0 121.3L336.0 121.1L335.4 120.9L334.5 120.7L333.5 120.4L333.0 120.3L332.0 120.0L331.5 119.9L330.5 119.6L329.6 119.4L329.0 119.3L328.0 119.0L327.5 118.9L326.5 118.6L325.7 118.4L325.0 118.2L324.0 118.0L323.5 117.9L322.5 117.6L321.7 117.4L321.0 117.2L320.0 117.0L319.5 116.9L318.5 116.6L317.7 116.4L317.0 116.2L316.0 116.0L315.5 115.9L314.5 115.6L313.6 115.4L313.0 115.3L312.0 115.0L311.5 114.9L310.5 114.7L309.5 114.4L309.0 114.3L308.0 114.0L307.4 113.9L306.5 113.7L305.5 113.5L305.0 113.3L304.0 113.1L303.0 112.9L302.5 112.8L301.5 112.6L300.6 112.4L300.0 112.3L299.0 112.1L298.3 111.9L297.5 111.7L296.5 111.5L296.0 111.4L295.0 111.2L294.0 111.0L293.5 110.9L292.5 110.7L291.5 110.5L291.0 110.4L290.0 110.1L289.0 109.9L288.5 109.8L287.5 109.6L286.5 109.4L286.0 109.3L285.0 109.1L284.0 108.9L283.5 108.8L282.5 108.6L281.5 108.4L281.0 108.3L280.0 108.1L279.0 107.9L278.5 107.8L277.5 107.6L276.5 107.4L276.0 107.3L275.0 107.1L274.0 106.9L273.5 106.8L272.5 106.6L271.5 106.4L271.0 106.3L270.0 106.1L269.0 105.9L268.5 105.8L267.5 105.6L266.5 105.4L266.0 105.4L265.0 105.2L264.0 105.0L263.5 104.9L262.5 104.7L261.5 104.5L261.0 104.4L260.0 104.2L259.0 104.0L258.5 103.9L257.5 103.7L256.5 103.5L256.0 103.4L255.0 103.2L254.0 103.0L253.5 102.9L252.5 102.7L251.5 102.5L250.9 102.4L250.0 102.2L249.0 102.0L248.3 101.9L247.5 101.7L246.5 101.5L245.7 101.4L245.0 101.3L244.0 101.1L243.1 100.9L242.5 100.8L241.5 100.6L240.5 100.4L240.0 100.3L239.0 100.1L238.0 99.9L237.5 99.8L236.5 99.7L235.5 99.5L235.0 99.4L234.0 99.2L233.0 99.0L232.4 98.9L231.5 98.7L230.5 98.6L229.6 98.4L229.0 98.3L228.0 98.1L227.0 97.9L226.5 97.8L225.5 97.7L224.5 97.5L224.0 97.4L223.0 97.2L222.0 97.1L221.3 96.9L220.5 96.7L219.5 96.5L219.0 96.3L218.0 96.1L217.1 95.9L216.5 95.7L215.5 95.5L215.0 95.4L214.0 95.2L213.0 94.9L212.5 94.8L211.5 94.6L210.7 94.4L210.0 94.2L209.0 94.0L208.5 93.9L207.5 93.6L206.6 93.4L206.0 93.3L205.0 93.0L204.5 92.9L203.5 92.7L202.5 92.4L202.0 92.3L201.0 92.1L200.2 91.9L199.5 91.7L198.5 91.5L198.0 91.4L197.0 91.2L196.0 90.9L195.5 90.8L194.5 90.6L193.7 90.4L193.0 90.2L192.0 90.0L191.5 89.9L190.5 89.7L189.5 89.5L189.0 89.3L188.0 89.1L187.0 88.9L186.5 88.8L185.5 88.6L184.7 88.4L184.0 88.3L183.0 88.0L182.4 87.9L181.5 87.7L180.5 87.5L180.0 87.4L179.0 87.2L178.0 87.0L177.5 86.9L176.5 86.7L175.5 86.4L175.0 86.4L174.0 86.2L173.0 85.9L172.5 85.9L171.5 85.6L170.5 85.4L170.0 85.4L169.0 85.1L168.0 85.0L167.5 84.8L166.5 84.7L165.5 84.5L165.0 84.4L164.0 84.2L163.0 84.0L162.5 83.9L161.5 83.7L160.5 83.5L160.0 83.4L159.0 83.2L158.0 83.0L157.3 82.9L156.5 82.8L155.5 82.6L154.6 82.4L154.0 82.3L153.0 82.1L152.0 81.9L151.5 81.8L150.5 81.7L149.5 81.5L148.9 81.4L148.0 81.2L147.0 81.0L146.5 80.9L145.5 80.7L144.5 80.5L144.0 80.3L143.0 80.1L142.2 79.9L141.5 79.8L140.5 79.6L139.8 79.4L139.0 79.3L138.0 79.0L137.4 78.9L136.5 78.7L135.5 78.5L134.9 78.4L134.0 78.2L133.0 78.0L132.5 77.9L131.5 77.7L130.5 77.5L130.0 77.3L129.0 77.2L128.0 77.0L127.5 76.8L126.5 76.7L125.5 76.5L125.0 76.4L124.0 76.2L123.0 76.0L122.5 75.9L121.5 75.7L120.5 75.5L120.0 75.4L119.0 75.2L118.0 75.0L117.4 74.9L116.5 74.7L115.5 74.5L114.9 74.4L114.0 74.2L113.0 74.0L112.3 73.9L111.5 73.7L110.5 73.5L109.9 73.4L109.0 73.3L108.0 73.1L107.0 72.9L106.5 72.8L105.5 72.6L104.5 72.5L104.0 72.4L103.0 72.2L102.0 72.0L101.2 71.9L100.5 71.8L99.5 71.6L98.5 71.5L98.0 71.4L97.0 71.2L96.0 71.1L95.0 70.9L94.5 70.9L93.5 70.7L92.5 70.5L91.9 70.4L91.0 70.2L90.3 69.9L89.5 69.7L89.0 69.4L88.0 69.1L87.5 68.7L86.6 68.4L86.0 67.9L85.5 67.8L85.0 67.3L84.5 66.7L83.7 66.4L83.4 65.9L83.0 65.3L82.3 64.9L82.0 64.3L81.6 63.4L81.0 63.0L80.8 62.4L80.6 61.4L80.5 60.4L81.0 59.4L81.1 58.9L81.2 57.9L81.5 56.9L82.0 56.5L82.4 55.9L82.6 55.4L83.0 54.8L83.8 54.4L84.5 54.1L85.0 53.5L85.7 53.4L86.2 52.9L87.0 52.7L87.5 52.3L88.5 52.0L89.0 51.7L90.0 51.5L90.8 51.4L91.5 51.1L92.5 51.0L93.5 51.0L94.5 50.9Z" fill="#03b7cc" fill-rule="evenodd" stroke="#03b7cc" stroke-width="0.3"/>
<path d="M91.2 51.9L92.0 51.8L93.0 51.7L94.0 51.5L95.0 51.5L96.0 51.5L97.0 51.5L98.0 51.6L99.0 51.6L100.0 51.6L101.0 51.6L102.0 51.7L103.0 51.7L104.0 51.7L105.0 51.8L106.0 51.8L107.0 51.9L108.0 51.9L108.1 51.9L109.0 51.9L109.5 51.9L110.5 52.0L111.5 51.9L112.5 52.0L113.5 52.0L114.5 52.0L115.5 52.1L116.5 52.0L117.5 52.1L118.5 52.1L119.5 52.2L120.5 52.2L121.5 52.2L122.5 52.2L123.5 52.3L124.5 52.3L125.5 52.4L125.8 52.4L126.5 52.4L127.0 52.4L128.0 52.5L129.0 52.5L130.0 52.5L131.0 52.6L132.0 52.7L133.0 52.7L134.0 52.7L135.0 52.8L136.0 52.8L136.9 52.9L137.5 52.9L138.5 53.0L139.5 53.0L140.5 53.1L141.5 53.1L142.5 53.2L143.5 53.2L144.5 53.3L145.5 53.3L146.5 53.4L147.0 53.4L148.0 53.5L149.0 53.5L150.0 53.6L151.0 53.7L152.0 53.7L153.0 53.8L154.0 53.9L154.5 54.0L155.5 54.1L156.5 54.2L157.5 54.3L158.5 54.4L159.0 54.4L160.0 54.6L161.0 54.7L162.0 54.8L162.8 54.9L163.5 55.0L164.5 55.1L165.5 55.2L166.5 55.3L167.0 55.4L168.0 55.5L169.0 55.6L170.0 55.8L170.9 55.9L171.5 56.0L172.5 56.1L173.5 56.2L174.5 56.4L175.0 56.4L176.0 56.6L177.0 56.7L178.0 56.8L178.5 56.9L179.5 57.0L180.5 57.2L181.5 57.3L182.0 57.4L183.0 57.5L184.0 57.6L185.0 57.8L185.7 57.9L186.5 58.0L187.5 58.1L188.5 58.3L189.2 58.4L190.0 58.5L191.0 58.7L192.0 58.8L192.6 58.9L193.5 59.0L194.5 59.2L195.5 59.3L196.0 59.4L197.0 59.6L198.0 59.7L199.0 59.9L199.5 59.9L200.5 60.1L201.5 60.2L202.5 60.4L203.0 60.5L204.0 60.6L205.0 60.8L205.6 60.9L206.5 61.0L207.5 61.2L208.5 61.4L209.0 61.5L210.0 61.6L211.0 61.8L211.7 61.9L212.5 62.0L213.5 62.2L214.5 62.4L215.0 62.5L216.0 62.6L217.0 62.8L217.6 62.9L218.5 63.0L219.5 63.2L220.5 63.3L221.0 63.4L222.0 63.5L223.0 63.7L224.0 63.9L224.5 63.9L225.5 64.1L226.5 64.2L227.5 64.4L228.0 64.5L229.0 64.7L230.0 64.9L230.5 65.0L231.5 65.2L232.5 65.4L233.0 65.5L234.0 65.7L235.0 65.9L235.5 65.9L236.5 66.1L237.5 66.4L238.0 66.5L239.0 66.7L240.0 66.9L240.5 67.0L241.5 67.2L242.5 67.4L243.0 67.5L244.0 67.7L245.0 67.9L245.5 68.0L246.5 68.2L247.5 68.4L248.0 68.5L249.0 68.7L249.9 68.9L250.5 69.0L251.5 69.2L252.2 69.4L253.0 69.6L254.0 69.8L254.6 69.9L255.5 70.1L256.5 70.3L257.0 70.4L258.0 70.6L259.0 70.9L259.5 71.0L260.5 71.2L261.5 71.4L262.0 71.5L263.0 71.7L263.7 71.9L264.5 72.1L265.5 72.3L266.0 72.4L267.0 72.6L268.0 72.9L268.5 73.0L269.5 73.2L270.5 73.4L271.0 73.5L272.0 73.7L273.0 73.9L273.5 74.0L274.5 74.2L275.5 74.4L276.0 74.5L277.0 74.7L278.0 74.9L278.5 75.0L279.5 75.2L280.5 75.4L281.0 75.5L282.0 75.7L283.0 75.9L283.5 76.0L284.5 76.2L285.4 76.4L286.0 76.5L287.0 76.7L287.8 76.9L288.5 77.0L289.5 77.3L290.2 77.4L291.0 77.6L292.0 77.8L292.5 77.9L293.5 78.1L294.5 78.3L295.0 78.4L296.0 78.6L297.0 78.9L297.5 79.0L298.5 79.2L299.5 79.4L300.0 79.5L301.0 79.7L301.8 79.9L302.5 80.0L303.5 80.3L304.1 80.4L305.0 80.6L306.0 80.8L306.5 80.9L307.5 81.2L308.5 81.4L309.0 81.5L310.0 81.7L310.8 81.9L311.5 82.1L312.5 82.3L313.0 82.4L314.0 82.6L315.0 82.9L315.5 83.0L316.5 83.3L317.0 83.4L318.0 83.6L319.0 83.9L319.5 84.0L320.5 84.3L321.0 84.4L322.0 84.6L323.0 84.9L323.5 85.0L324.5 85.3L325.0 85.4L326.0 85.6L326.9 85.9L327.5 86.0L328.5 86.3L329.0 86.4L330.0 86.7L330.8 86.9L331.5 87.1L332.5 87.3L333.0 87.5L334.0 87.7L334.7 87.9L335.5 88.1L336.5 88.4L337.0 88.5L338.0 88.8L338.5 88.9L339.5 89.2L340.4 89.4L341.0 89.6L342.0 89.8L342.5 90.0L343.5 90.2L344.2 90.4L345.0 90.6L346.0 90.9L346.5 91.0L347.5 91.3L348.0 91.4L349.0 91.7L349.7 91.9L350.5 92.1L351.5 92.4L352.0 92.5L353.0 92.8L353.5 92.9L354.5 93.2L355.2 93.4L356.0 93.6L357.0 93.9L357.5 94.0L358.5 94.3L359.0 94.4L360.0 94.7L360.7 94.9L361.5 95.1L362.5 95.4L363.0 95.5L364.0 95.8L364.5 96.0L365.5 96.2L366.0 96.4L367.0 96.7L367.8 96.9L368.5 97.1L369.5 97.4L370.0 97.5L371.0 97.8L371.5 97.9L372.0 98.4L372.0 99.4L372.0 100.4L372.0 101.4L372.0 102.4L372.0 103.4L372.0 104.4L372.0 105.4L372.0 106.4L372.0 107.4L372.0 108.4L372.0 109.4L372.0 110.4L372.0 111.4L372.0 112.4L372.0 113.4L372.0 114.4L372.0 115.4L372.0 116.4L372.0 117.4L372.0 118.4L372.0 119.4L372.0 120.4L372.0 121.4L372.0 122.4L372.0 123.4L372.0 124.4L371.0 124.4L370.0 124.4L369.0 124.4L368.0 124.4L367.0 124.4L366.0 124.4L365.0 124.4L364.0 124.4L363.0 124.4L362.0 124.4L361.0 124.4L360.0 124.4L359.3 124.4L358.5 124.2L357.5 123.9L357.0 123.8L356.0 123.5L355.5 123.4L354.5 123.1L353.7 122.9L353.0 122.7L352.0 122.4L351.5 122.3L350.5 122.1L350.0 121.9L349.0 121.7L348.1 121.4L347.5 121.3L346.5 121.0L346.0 120.9L345.0 120.6L344.2 120.4L343.5 120.2L342.5 119.9L342.0 119.8L341.0 119.6L340.4 119.4L339.5 119.2L338.5 118.9L338.0 118.8L337.0 118.5L336.5 118.4L335.5 118.2L334.5 117.9L334.0 117.8L333.0 117.5L332.5 117.4L331.5 117.1L330.6 116.9L330.0 116.8L329.0 116.5L328.5 116.4L327.5 116.1L326.6 115.9L326.0 115.8L325.0 115.5L324.5 115.4L323.5 115.1L322.6 114.9L322.0 114.8L321.0 114.5L320.5 114.4L319.5 114.2L318.5 113.9L318.0 113.8L317.0 113.5L316.4 113.4L315.5 113.2L314.5 112.9L314.0 112.8L313.0 112.6L312.3 112.4L311.5 112.2L310.5 112.0L310.0 111.9L309.0 111.6L308.1 111.4L307.5 111.3L306.5 111.0L305.9 110.9L305.0 110.7L304.0 110.5L303.5 110.4L302.5 110.2L301.5 110.0L301.0 109.9L300.0 109.6L299.0 109.4L298.5 109.3L297.5 109.1L296.5 108.9L296.0 108.8L295.0 108.6L294.1 108.4L293.5 108.3L292.5 108.1L291.7 107.9L291.0 107.8L290.0 107.6L289.2 107.4L288.5 107.3L287.5 107.1L286.8 106.9L286.0 106.7L285.0 106.5L284.3 106.4L283.5 106.2L282.5 106.0L281.8 105.9L281.0 105.8L280.0 105.6L279.3 105.4L278.5 105.3L277.5 105.1L276.7 104.9L276.0 104.8L275.0 104.6L274.2 104.4L273.5 104.3L272.5 104.1L271.6 103.9L271.0 103.8L270.0 103.6L269.0 103.4L268.5 103.3L267.5 103.1L266.5 102.9L266.0 102.8L265.0 102.7L264.0 102.5L263.5 102.4L262.5 102.2L261.5 102.0L260.8 101.9L260.0 101.7L259.0 101.6L258.3 101.4L257.5 101.3L256.5 101.1L255.7 100.9L255.0 100.8L254.0 100.6L253.1 100.4L252.5 100.3L251.5 100.1L250.5 99.9L250.0 99.8L249.0 99.6L248.0 99.4L247.5 99.4L246.5 99.2L245.5 99.0L245.0 98.9L244.0 98.7L243.0 98.5L242.3 98.4L241.5 98.3L240.5 98.1L239.6 97.9L239.0 97.8L238.0 97.6L237.0 97.4L236.5 97.3L235.5 97.2L234.5 97.0L234.0 96.9L233.0 96.7L232.0 96.6L231.2 96.4L230.5 96.3L229.5 96.1L228.5 95.9L228.0 95.9L227.0 95.7L226.0 95.5L225.4 95.4L224.5 95.3L223.5 95.1L222.5 94.9L222.0 94.8L221.0 94.6L220.0 94.4L219.5 94.3L218.5 94.1L217.6 93.9L217.0 93.8L216.0 93.6L215.1 93.4L214.5 93.3L213.5 93.1L212.6 92.9L212.0 92.8L211.0 92.6L210.3 92.4L209.5 92.2L208.5 92.0L208.0 91.9L207.0 91.7L206.0 91.5L205.5 91.4L204.5 91.2L203.5 90.9L203.0 90.8L202.0 90.6L201.0 90.4L200.5 90.3L199.5 90.1L198.6 89.9L198.0 89.8L197.0 89.6L196.2 89.4L195.5 89.3L194.5 89.1L193.8 88.9L193.0 88.7L192.0 88.5L191.4 88.4L190.5 88.2L189.5 88.0L189.0 87.9L188.0 87.7L187.0 87.5L186.5 87.4L185.5 87.2L184.5 87.0L184.0 86.9L183.0 86.7L182.0 86.5L181.5 86.4L180.5 86.2L179.5 86.0L179.0 85.9L178.0 85.7L177.0 85.5L176.5 85.4L175.5 85.2L174.5 85.0L174.0 84.9L173.0 84.7L172.0 84.5L171.3 84.4L170.5 84.3L169.5 84.1L168.7 83.9L168.0 83.8L167.0 83.6L166.1 83.4L165.5 83.3L164.5 83.1L163.5 82.9L163.0 82.9L162.0 82.7L161.0 82.5L160.5 82.4L159.5 82.2L158.5 82.0L157.9 81.9L157.0 81.8L156.0 81.6L155.0 81.4L154.5 81.3L153.5 81.2L152.5 81.0L152.0 80.9L151.0 80.7L150.0 80.5L149.1 80.4L148.5 80.3L147.5 80.1L146.7 79.9L146.0 79.7L145.0 79.5L144.5 79.4L143.5 79.2L142.5 79.0L142.0 78.9L141.0 78.7L140.0 78.5L139.5 78.4L138.5 78.2L137.5 78.0L137.0 77.9L136.0 77.7L135.0 77.5L134.5 77.4L133.5 77.2L132.5 77.0L132.0 76.9L131.0 76.7L130.0 76.5L129.4 76.4L128.5 76.2L127.5 76.0L126.8 75.9L126.0 75.7L125.0 75.6L124.3 75.4L123.5 75.3L122.5 75.1L121.5 74.9L121.0 74.8L120.0 74.6L119.0 74.5L118.5 74.3L117.5 74.2L116.5 73.9L116.0 73.9L115.0 73.7L114.0 73.5L113.4 73.4L112.5 73.2L111.5 73.0L110.7 72.9L110.0 72.7L109.0 72.6L108.0 72.4L107.5 72.3L106.5 72.1L105.5 72.0L105.0 71.9L104.0 71.7L103.0 71.6L102.1 71.4L101.5 71.3L100.5 71.2L99.5 71.0L98.8 70.9L98.0 70.8L97.0 70.6L96.0 70.5L95.5 70.4L94.5 70.3L93.5 70.1L92.7 69.9L92.0 69.8L91.0 69.6L90.5 69.3L89.5 69.1L89.0 68.8L88.2 68.4L87.5 68.0L86.9 67.9L86.3 67.4L85.5 67.0L85.0 66.5L84.6 65.9L84.0 65.8L83.5 65.0L83.2 64.4L82.5 64.0L82.2 63.4L82.0 62.7L81.8 61.9L81.6 60.9L81.6 59.9L81.6 58.9L81.8 57.9L82.0 57.3L82.6 56.9L83.0 56.0L83.6 55.9L84.0 55.1L84.7 54.9L85.0 54.4L85.5 53.9L86.0 53.9L86.5 53.4L87.1 53.4L88.0 53.0L88.5 52.7L89.5 52.4L90.0 52.2L91.0 52.0Z" fill="#09b4d1" fill-rule="evenodd" stroke="#09b4d1" stroke-width="0.3"/>
<path d="M91.3 52.4L92.0 52.4L93.0 52.2L94.0 52.0L95.0 52.0L96.0 52.0L97.0 52.0L98.0 52.1L99.0 52.1L100.0 52.1L101.0 52.1L102.0 52.2L103.0 52.2L104.0 52.2L105.0 52.3L106.0 52.3L107.0 52.4L107.7 52.4L108.5 52.4L109.5 52.5L110.5 52.5L111.5 52.5L112.5 52.5L113.5 52.5L114.5 52.6L115.5 52.6L116.5 52.6L117.5 52.7L118.5 52.7L119.5 52.8L120.5 52.8L121.5 52.8L122.5 52.9L123.4 52.9L124.0 52.9L125.0 53.0L126.0 53.0L127.0 53.1L128.0 53.1L129.0 53.1L130.0 53.2L131.0 53.3L132.0 53.3L133.0 53.3L133.5 53.4L134.5 53.5L135.5 53.5L136.5 53.5L137.5 53.6L138.5 53.7L139.5 53.7L140.5 53.8L141.5 53.8L142.5 53.9L143.0 53.9L144.0 54.0L145.0 54.0L146.0 54.1L147.0 54.2L148.0 54.2L149.0 54.3L150.0 54.4L150.6 54.4L151.5 54.5L152.5 54.5L153.5 54.6L154.5 54.8L155.5 54.9L156.0 54.9L157.0 55.0L158.0 55.1L159.0 55.2L160.0 55.4L160.5 55.4L161.5 55.5L162.5 55.7L163.5 55.8L164.3 55.9L165.0 56.0L166.0 56.1L167.0 56.2L168.0 56.4L168.5 56.4L169.5 56.6L170.5 56.7L171.5 56.8L172.1 56.9L173.0 57.0L174.0 57.1L175.0 57.3L175.7 57.4L176.5 57.5L177.5 57.6L178.5 57.8L179.4 57.9L180.0 58.0L181.0 58.1L182.0 58.3L182.9 58.4L183.5 58.5L184.5 58.6L185.5 58.8L186.3 58.9L187.0 59.0L188.0 59.1L189.0 59.3L189.7 59.4L190.5 59.5L191.5 59.7L192.5 59.8L193.0 59.9L194.0 60.1L195.0 60.2L196.0 60.4L196.5 60.5L197.5 60.6L198.5 60.8L199.3 60.9L200.0 61.0L201.0 61.2L202.0 61.3L202.5 61.4L203.5 61.6L204.5 61.7L205.4 61.9L206.0 62.0L207.0 62.2L208.0 62.3L208.5 62.4L209.5 62.6L210.5 62.8L211.2 62.9L212.0 63.0L213.0 63.2L214.0 63.4L214.5 63.5L215.5 63.7L216.5 63.9L217.0 63.9L218.0 64.1L219.0 64.3L219.8 64.4L220.5 64.5L221.5 64.7L222.5 64.8L223.0 64.9L224.0 65.1L225.0 65.2L226.0 65.4L226.5 65.5L227.5 65.6L228.5 65.8L229.0 65.9L230.0 66.1L231.0 66.3L231.5 66.4L232.5 66.6L233.5 66.8L234.0 66.9L235.0 67.1L236.0 67.3L236.5 67.4L237.5 67.6L238.5 67.8L239.0 67.9L240.0 68.1L241.0 68.3L241.5 68.4L242.5 68.6L243.5 68.8L244.0 68.9L245.0 69.1L246.0 69.4L246.5 69.5L247.5 69.7L248.5 69.9L249.0 70.0L250.0 70.2L250.9 70.4L251.5 70.5L252.5 70.7L253.2 70.9L254.0 71.0L255.0 71.3L255.6 71.4L256.5 71.6L257.5 71.8L258.0 71.9L259.0 72.1L260.0 72.4L260.5 72.5L261.5 72.7L262.4 72.9L263.0 73.0L264.0 73.2L264.7 73.4L265.5 73.6L266.5 73.8L267.0 73.9L268.0 74.1L269.0 74.4L269.5 74.4L270.5 74.7L271.5 74.9L272.0 75.0L273.0 75.2L274.0 75.4L274.5 75.5L275.5 75.7L276.5 75.9L277.0 76.0L278.0 76.2L279.0 76.4L279.5 76.5L280.5 76.7L281.5 76.9L282.0 77.0L283.0 77.2L283.9 77.4L284.5 77.5L285.5 77.7L286.3 77.9L287.0 78.0L288.0 78.2L288.7 78.4L289.5 78.6L290.5 78.8L291.0 78.9L292.0 79.1L293.0 79.3L293.5 79.4L294.5 79.6L295.5 79.8L296.0 80.0L297.0 80.2L298.0 80.4L298.5 80.5L299.5 80.7L300.3 80.9L301.0 81.0L302.0 81.3L302.5 81.4L303.5 81.6L304.5 81.8L305.0 81.9L306.0 82.2L307.0 82.4L307.5 82.5L308.5 82.7L309.3 82.9L310.0 83.1L311.0 83.3L311.5 83.4L312.5 83.6L313.5 83.9L314.0 84.0L315.0 84.2L315.6 84.4L316.5 84.6L317.5 84.9L318.0 85.0L319.0 85.2L319.6 85.4L320.5 85.6L321.5 85.9L322.0 86.0L323.0 86.2L323.6 86.4L324.5 86.6L325.5 86.9L326.0 87.0L327.0 87.3L327.5 87.4L328.5 87.7L329.4 87.9L330.0 88.0L331.0 88.3L331.5 88.4L332.5 88.7L333.3 88.9L334.0 89.1L335.0 89.4L335.5 89.5L336.5 89.7L337.1 89.9L338.0 90.1L338.9 90.4L339.5 90.5L340.5 90.8L341.0 90.9L342.0 91.2L342.7 91.4L343.5 91.6L344.5 91.9L345.0 92.0L346.0 92.3L346.5 92.4L347.5 92.7L348.3 92.9L349.0 93.1L350.0 93.4L350.5 93.5L351.5 93.8L352.0 93.9L353.0 94.2L353.8 94.4L354.5 94.6L355.5 94.9L356.0 95.0L357.0 95.3L357.5 95.4L358.5 95.7L359.2 95.9L360.0 96.1L361.0 96.4L361.5 96.5L362.5 96.8L363.0 97.0L364.0 97.2L364.5 97.4L365.5 97.7L366.3 97.9L367.0 98.1L368.0 98.4L368.5 98.5L369.5 98.8L370.0 99.0L371.0 99.2L371.6 99.4L372.0 99.9L372.0 100.9L372.0 101.9L372.0 102.9L372.0 103.9L372.0 104.9L372.0 105.9L372.0 106.9L372.0 107.9L372.0 108.9L372.0 109.9L372.0 110.9L372.0 111.9L372.0 112.9L372.0 113.9L372.0 114.9L372.0 115.9L372.0 116.9L372.0 117.9L372.0 118.9L372.0 119.9L372.0 120.9L372.0 121.9L372.0 122.9L372.0 123.9L371.5 124.4L370.5 124.4L369.5 124.4L368.5 124.4L367.5 124.4L366.5 124.4L365.5 124.4L364.6 124.4L364.0 124.2L363.0 124.0L362.5 123.8L361.5 123.6L360.9 123.4L360.0 123.2L359.0 122.9L358.5 122.8L357.5 122.5L357.0 122.4L356.0 122.1L355.3 121.9L354.5 121.7L353.5 121.4L353.0 121.3L352.0 121.0L351.5 120.9L350.5 120.6L349.6 120.4L349.0 120.3L348.0 120.0L347.5 119.9L346.5 119.6L345.8 119.4L345.0 119.2L344.0 118.9L343.5 118.8L342.5 118.6L341.9 118.4L341.0 118.2L340.0 117.9L339.5 117.8L338.5 117.5L338.0 117.4L337.0 117.2L336.0 116.9L335.5 116.8L334.5 116.5L334.0 116.4L333.0 116.1L332.1 115.9L331.5 115.8L330.5 115.5L330.0 115.4L329.0 115.1L328.1 114.9L327.5 114.8L326.5 114.5L326.0 114.4L325.0 114.1L324.0 113.9L323.5 113.8L322.5 113.5L322.0 113.4L321.0 113.2L320.0 112.9L319.5 112.8L318.5 112.6L317.9 112.4L317.0 112.2L316.0 111.9L315.5 111.8L314.5 111.6L313.8 111.4L313.0 111.2L312.0 111.0L311.5 110.9L310.5 110.6L309.6 110.4L309.0 110.3L308.0 110.0L307.4 109.9L306.5 109.7L305.5 109.5L305.0 109.4L304.0 109.2L303.0 108.9L302.5 108.8L301.5 108.6L300.5 108.4L300.0 108.3L299.0 108.1L298.1 107.9L297.5 107.8L296.5 107.6L295.7 107.4L295.0 107.3L294.0 107.1L293.2 106.9L292.5 106.8L291.5 106.6L290.8 106.4L290.0 106.3L289.0 106.0L288.3 105.9L287.5 105.7L286.5 105.5L285.8 105.4L285.0 105.2L284.0 105.0L283.3 104.9L282.5 104.7L281.5 104.5L280.8 104.4L280.0 104.2L279.0 104.1L278.3 103.9L277.5 103.8L276.5 103.6L275.7 103.4L275.0 103.3L274.0 103.1L273.1 102.9L272.5 102.8L271.5 102.6L270.5 102.4L270.0 102.3L269.0 102.1L268.0 101.9L267.5 101.8L266.5 101.7L265.5 101.5L265.0 101.4L264.0 101.2L263.0 101.0L262.3 100.9L261.5 100.8L260.5 100.6L259.7 100.4L259.0 100.3L258.0 100.1L257.1 99.9L256.5 99.8L255.5 99.6L254.6 99.4L254.0 99.3L253.0 99.1L252.0 98.9L251.5 98.8L250.5 98.6L249.5 98.5L249.0 98.4L248.0 98.2L247.0 98.0L246.5 97.9L245.5 97.7L244.5 97.5L243.8 97.4L243.0 97.3L242.0 97.1L241.1 96.9L240.5 96.8L239.5 96.6L238.5 96.4L238.0 96.4L237.0 96.2L236.0 96.0L235.5 95.9L234.5 95.7L233.5 95.6L232.6 95.4L232.0 95.3L231.0 95.1L230.0 94.9L229.5 94.8L228.5 94.7L227.5 94.5L226.9 94.4L226.0 94.3L225.0 94.1L224.0 93.9L223.5 93.8L222.5 93.7L221.5 93.5L221.0 93.4L220.0 93.2L219.0 93.0L218.5 92.9L217.5 92.7L216.5 92.5L216.0 92.4L215.0 92.2L214.0 92.0L213.4 91.9L212.5 91.7L211.5 91.5L210.9 91.4L210.0 91.2L209.0 91.0L208.5 90.9L207.5 90.7L206.5 90.5L206.0 90.4L205.0 90.2L204.0 90.0L203.5 89.9L202.5 89.7L201.5 89.5L201.0 89.4L200.0 89.2L199.0 89.0L198.5 88.9L197.5 88.7L196.5 88.5L196.0 88.4L195.0 88.2L194.0 88.0L193.5 87.9L192.5 87.7L191.5 87.5L191.0 87.4L190.0 87.2L189.0 87.0L188.5 86.9L187.5 86.7L186.5 86.5L186.0 86.4L185.0 86.2L184.0 86.0L183.5 85.9L182.5 85.7L181.5 85.5L181.0 85.4L180.0 85.2L179.0 85.0L178.5 84.9L177.5 84.7L176.5 84.5L175.8 84.4L175.0 84.2L174.0 84.1L173.2 83.9L172.5 83.8L171.5 83.6L170.5 83.4L170.0 83.3L169.0 83.1L168.0 82.9L167.5 82.8L166.5 82.7L165.5 82.5L165.0 82.4L164.0 82.2L163.0 82.0L162.3 81.9L161.5 81.8L160.5 81.6L159.5 81.4L159.0 81.3L158.0 81.1L157.0 81.0L156.5 80.9L155.5 80.7L154.5 80.5L153.7 80.4L153.0 80.3L152.0 80.1L151.0 79.9L150.5 79.9L149.5 79.7L148.5 79.5L147.9 79.4L147.0 79.2L146.0 79.0L145.5 78.9L144.5 78.7L143.5 78.5L143.0 78.4L142.0 78.2L141.0 78.0L140.5 77.9L139.5 77.7L138.5 77.5L138.0 77.4L137.0 77.2L136.0 77.0L135.5 76.9L134.5 76.7L133.5 76.5L132.9 76.4L132.0 76.2L131.0 76.0L130.3 75.9L129.5 75.8L128.5 75.5L127.7 75.4L127.0 75.3L126.0 75.1L125.0 74.9L124.5 74.8L123.5 74.6L122.5 74.5L122.0 74.4L121.0 74.2L120.0 74.0L119.4 73.9L118.5 73.8L117.5 73.6L116.8 73.4L116.0 73.3L115.0 73.1L114.0 72.9L113.5 72.8L112.5 72.6L111.5 72.5L111.0 72.4L110.0 72.2L109.0 72.0L108.4 71.9L107.5 71.8L106.5 71.6L105.5 71.4L105.0 71.3L104.0 71.2L103.0 71.1L102.2 70.9L101.5 70.8L100.5 70.6L99.5 70.5L98.8 70.4L98.0 70.3L97.0 70.1L96.0 70.0L95.5 69.9L94.5 69.8L93.5 69.6L92.7 69.4L92.0 69.3L91.0 69.1L90.5 68.8L89.5 68.5L89.0 68.2L88.5 67.8L87.5 67.4L87.0 66.9L86.5 66.9L86.0 66.4L85.5 65.8L84.8 65.4L84.0 65.0L83.7 64.4L83.4 63.9L83.0 62.9L82.5 62.7L82.3 61.9L82.7 61.4L82.6 60.4L82.6 59.4L82.7 58.4L83.0 57.4L83.5 57.3L83.8 56.4L84.5 56.0L84.9 55.4L85.3 54.9L86.0 54.6L86.5 54.1L87.2 53.9L87.8 53.4L88.5 53.3L89.5 53.0L90.0 52.7L91.0 52.5Z" fill="#11b1d6" fill-rule="evenodd" stroke="#11b1d6" stroke-width="0.3"/>
<path d="M91.2 52.9L92.0 52.8L93.0 52.6L94.0 52.4L95.0 52.4L96.0 52.4L97.0 52.5L98.0 52.5L99.0 52.5L100.0 52.5L101.0 52.6L102.0 52.6L103.0 52.7L104.0 52.7L105.0 52.7L106.0 52.8L107.0 52.8L108.0 52.8L109.0 52.9L109.5 52.9L110.5 52.9L111.5 52.9L112.5 53.0L113.5 53.0L114.5 53.1L115.5 53.1L116.5 53.1L117.5 53.2L118.5 53.2L119.5 53.3L120.5 53.3L121.5 53.3L122.5 53.4L123.2 53.4L124.0 53.4L125.0 53.5L126.0 53.5L127.0 53.6L128.0 53.6L129.0 53.7L130.0 53.7L131.0 53.8L132.0 53.9L133.0 53.9L133.5 54.0L134.5 54.0L135.5 54.0L136.5 54.1L137.5 54.2L138.5 54.2L139.5 54.3L140.5 54.3L141.0 54.4L142.0 54.5L143.0 54.5L144.0 54.6L145.0 54.6L146.0 54.7L147.0 54.8L148.0 54.8L148.5 54.9L149.5 54.9L150.5 55.0L151.5 55.1L152.5 55.2L153.5 55.3L154.5 55.4L155.0 55.4L156.0 55.6L157.0 55.6L158.0 55.8L159.0 55.9L159.5 55.9L160.5 56.1L161.5 56.2L162.5 56.3L163.2 56.4L164.0 56.5L165.0 56.6L166.0 56.8L167.0 56.9L167.5 57.0L168.5 57.1L169.5 57.2L170.5 57.3L171.0 57.4L172.0 57.5L173.0 57.7L174.0 57.8L174.6 57.9L175.5 58.0L176.5 58.2L177.5 58.3L178.1 58.4L179.0 58.5L180.0 58.7L181.0 58.8L181.6 58.9L182.5 59.0L183.5 59.2L184.5 59.3L185.0 59.4L186.0 59.5L187.0 59.7L188.0 59.8L188.5 59.9L189.5 60.1L190.5 60.2L191.5 60.4L192.0 60.5L193.0 60.6L194.0 60.8L194.7 60.9L195.5 61.0L196.5 61.2L197.5 61.3L198.0 61.4L199.0 61.6L200.0 61.7L201.0 61.9L201.5 62.0L202.5 62.1L203.5 62.3L204.0 62.4L205.0 62.6L206.0 62.8L206.8 62.9L207.5 63.0L208.5 63.2L209.5 63.4L210.0 63.5L211.0 63.6L212.0 63.8L212.5 63.9L213.5 64.1L214.5 64.3L215.1 64.4L216.0 64.5L217.0 64.7L217.9 64.9L218.5 65.0L219.5 65.2L220.5 65.3L221.0 65.4L222.0 65.6L223.0 65.7L223.9 65.9L224.5 66.0L225.5 66.2L226.5 66.3L227.0 66.4L228.0 66.6L229.0 66.8L229.5 66.9L230.5 67.1L231.5 67.3L232.0 67.4L233.0 67.6L234.0 67.8L234.6 67.9L235.5 68.1L236.5 68.3L237.1 68.4L238.0 68.6L239.0 68.8L239.6 68.9L240.5 69.1L241.5 69.3L242.0 69.4L243.0 69.6L244.0 69.8L244.5 69.9L245.5 70.1L246.5 70.3L247.0 70.4L248.0 70.6L249.0 70.8L249.5 70.9L250.5 71.1L251.5 71.4L252.0 71.5L253.0 71.7L254.0 71.9L254.5 72.0L255.5 72.2L256.3 72.4L257.0 72.5L258.0 72.8L258.6 72.9L259.5 73.1L260.5 73.3L261.0 73.4L262.0 73.6L263.0 73.9L263.5 74.0L264.5 74.2L265.4 74.4L266.0 74.5L267.0 74.7L267.6 74.9L268.5 75.1L269.5 75.3L270.0 75.4L271.0 75.6L272.0 75.8L272.5 75.9L273.5 76.1L274.5 76.3L275.0 76.4L276.0 76.6L277.0 76.8L277.5 76.9L278.5 77.1L279.5 77.3L280.0 77.4L281.0 77.6L282.0 77.8L282.5 77.9L283.5 78.1L284.5 78.4L285.0 78.5L286.0 78.7L287.0 78.9L287.5 79.0L288.5 79.2L289.4 79.4L290.0 79.5L291.0 79.7L291.8 79.9L292.5 80.1L293.5 80.3L294.1 80.4L295.0 80.6L296.0 80.8L296.5 80.9L297.5 81.1L298.5 81.4L299.0 81.5L300.0 81.7L301.0 81.9L301.5 82.0L302.5 82.2L303.2 82.4L304.0 82.6L305.0 82.8L305.5 82.9L306.5 83.1L307.5 83.3L308.0 83.5L309.0 83.7L309.9 83.9L310.5 84.0L311.5 84.3L312.1 84.4L313.0 84.6L314.0 84.8L314.5 85.0L315.5 85.2L316.2 85.4L317.0 85.6L318.0 85.8L318.5 86.0L319.5 86.2L320.2 86.4L321.0 86.6L322.0 86.9L322.5 87.0L323.5 87.2L324.1 87.4L325.0 87.6L326.0 87.9L326.5 88.0L327.5 88.3L328.0 88.4L329.0 88.7L329.9 88.9L330.5 89.0L331.5 89.3L332.0 89.4L333.0 89.7L333.7 89.9L334.5 90.1L335.5 90.4L336.0 90.5L337.0 90.8L337.5 90.9L338.5 91.1L339.4 91.4L340.0 91.5L341.0 91.8L341.5 92.0L342.5 92.2L343.2 92.4L344.0 92.6L345.0 92.9L345.5 93.0L346.5 93.3L347.0 93.4L348.0 93.7L348.7 93.9L349.5 94.1L350.5 94.4L351.0 94.5L352.0 94.8L352.5 94.9L353.5 95.2L354.2 95.4L355.0 95.6L355.9 95.9L356.5 96.0L357.5 96.3L358.0 96.5L359.0 96.7L359.6 96.9L360.5 97.2L361.3 97.4L362.0 97.6L363.0 97.9L363.5 98.0L364.5 98.3L365.0 98.4L366.0 98.7L366.6 98.9L367.5 99.1L368.4 99.4L369.0 99.6L370.0 99.9L370.5 100.0L371.5 100.3L372.0 100.4L372.0 101.4L372.0 102.4L372.0 103.4L372.0 104.4L372.0 105.4L372.0 106.4L372.0 107.4L372.0 108.4L372.0 109.4L372.0 110.4L372.0 111.4L372.0 112.4L372.0 113.4L372.0 114.4L372.0 115.4L372.0 116.4L372.0 117.4L372.0 118.4L372.0 119.4L372.0 120.4L372.0 121.4L372.0 122.4L372.0 123.4L372.0 124.4L371.0 124.4L370.0 124.4L369.0 124.4L368.0 124.4L367.5 124.3L366.5 124.0L366.0 123.9L365.0 123.6L364.2 123.4L363.5 123.2L362.5 122.9L362.0 122.8L361.0 122.5L360.5 122.4L359.5 122.1L358.7 121.9L358.0 121.7L357.0 121.5L356.5 121.3L355.5 121.1L354.9 120.9L354.0 120.7L353.0 120.4L352.5 120.3L351.5 120.0L351.0 119.9L350.0 119.6L349.2 119.4L348.5 119.2L347.5 119.0L347.0 118.8L346.0 118.6L345.3 118.4L344.5 118.2L343.5 117.9L343.0 117.8L342.0 117.6L341.5 117.4L340.5 117.2L339.5 116.9L339.0 116.8L338.0 116.5L337.5 116.4L336.5 116.2L335.5 115.9L335.0 115.8L334.0 115.5L333.5 115.4L332.5 115.1L331.6 114.9L331.0 114.8L330.0 114.5L329.5 114.4L328.5 114.1L327.6 113.9L327.0 113.8L326.0 113.5L325.5 113.4L324.5 113.2L323.5 112.9L323.0 112.8L322.0 112.5L321.5 112.4L320.5 112.2L319.5 111.9L319.0 111.8L318.0 111.6L317.3 111.4L316.5 111.2L315.5 111.0L315.0 110.8L314.0 110.6L313.2 110.4L312.5 110.2L311.5 110.0L311.0 109.9L310.0 109.7L309.0 109.4L308.5 109.3L307.5 109.1L306.8 108.9L306.0 108.7L305.0 108.5L304.5 108.4L303.5 108.2L302.5 108.0L302.0 107.9L301.0 107.7L300.0 107.5L299.5 107.4L298.5 107.2L297.5 106.9L297.0 106.8L296.0 106.6L295.0 106.4L294.5 106.3L293.5 106.1L292.5 105.9L292.0 105.8L291.0 105.6L290.0 105.4L289.5 105.3L288.5 105.1L287.6 104.9L287.0 104.8L286.0 104.6L285.1 104.4L284.5 104.3L283.5 104.1L282.6 103.9L282.0 103.8L281.0 103.6L280.0 103.4L279.5 103.3L278.5 103.1L277.5 102.9L277.0 102.8L276.0 102.6L275.0 102.4L274.5 102.3L273.5 102.2L272.5 102.0L272.0 101.9L271.0 101.7L270.0 101.5L269.5 101.4L268.5 101.2L267.5 101.0L266.9 100.9L266.0 100.7L265.0 100.6L264.1 100.4L263.5 100.3L262.5 100.1L261.5 99.9L261.0 99.8L260.0 99.6L259.0 99.4L258.5 99.3L257.5 99.2L256.5 98.9L256.0 98.9L255.0 98.7L254.0 98.5L253.5 98.4L252.5 98.2L251.5 98.0L251.0 97.9L250.0 97.7L249.0 97.5L248.3 97.4L247.5 97.2L246.5 97.1L245.6 96.9L245.0 96.8L244.0 96.6L243.0 96.4L242.5 96.3L241.5 96.2L240.5 96.0L240.0 95.9L239.0 95.7L238.0 95.5L237.4 95.4L236.5 95.2L235.5 95.1L234.6 94.9L234.0 94.8L233.0 94.6L232.0 94.4L231.5 94.4L230.5 94.2L229.5 94.0L228.9 93.9L228.0 93.7L227.0 93.6L226.0 93.4L225.5 93.3L224.5 93.2L223.5 93.0L223.0 92.9L222.0 92.7L221.0 92.5L220.4 92.4L219.5 92.2L218.5 92.1L217.7 91.9L217.0 91.8L216.0 91.6L215.0 91.4L214.5 91.3L213.5 91.1L212.5 90.9L212.0 90.8L211.0 90.6L210.0 90.4L209.5 90.3L208.5 90.1L207.5 89.9L207.0 89.8L206.0 89.6L205.0 89.4L204.5 89.3L203.5 89.1L202.5 88.9L202.0 88.8L201.0 88.6L200.0 88.4L199.5 88.3L198.5 88.1L197.5 87.9L197.0 87.8L196.0 87.6L195.0 87.4L194.5 87.3L193.5 87.1L192.5 86.9L192.0 86.8L191.0 86.6L190.0 86.4L189.5 86.3L188.5 86.2L187.5 86.0L187.0 85.9L186.0 85.7L185.0 85.5L184.5 85.4L183.5 85.2L182.5 85.0L182.0 84.9L181.0 84.7L180.0 84.5L179.4 84.4L178.5 84.2L177.5 84.0L176.8 83.9L176.0 83.7L175.0 83.6L174.1 83.4L173.5 83.3L172.5 83.1L171.5 82.9L171.0 82.8L170.0 82.7L169.0 82.5L168.5 82.4L167.5 82.2L166.5 82.0L165.9 81.9L165.0 81.7L164.0 81.6L163.2 81.4L162.5 81.3L161.5 81.1L160.5 80.9L160.0 80.9L159.0 80.7L158.0 80.5L157.5 80.4L156.5 80.2L155.5 80.1L154.5 79.9L154.0 79.8L153.0 79.7L152.0 79.5L151.5 79.4L150.5 79.2L149.5 79.1L148.7 78.9L148.0 78.8L147.0 78.6L146.1 78.4L145.5 78.2L144.5 78.1L143.6 77.9L143.0 77.8L142.0 77.6L141.1 77.4L140.5 77.3L139.5 77.1L138.5 76.9L138.0 76.8L137.0 76.6L136.0 76.4L135.5 76.3L134.5 76.2L133.5 75.9L133.0 75.9L132.0 75.7L131.0 75.5L130.5 75.4L129.5 75.2L128.5 75.0L127.8 74.9L127.0 74.7L126.0 74.6L125.1 74.4L124.5 74.3L123.5 74.1L122.5 73.9L122.0 73.8L121.0 73.7L120.0 73.5L119.5 73.4L118.5 73.2L117.5 73.1L116.7 72.9L116.0 72.8L115.0 72.6L114.0 72.4L113.5 72.4L112.5 72.2L111.5 72.0L111.0 71.9L110.0 71.7L109.0 71.6L108.0 71.4L107.5 71.3L106.5 71.2L105.5 71.0L105.0 70.9L104.0 70.8L103.0 70.6L102.0 70.4L101.5 70.4L100.5 70.2L99.5 70.1L98.5 69.9L98.0 69.8L97.0 69.7L96.0 69.6L95.2 69.4L94.5 69.3L93.5 69.2L92.5 68.9L92.0 68.9L91.0 68.4L90.5 68.4L89.5 68.1L89.0 67.7L88.5 67.4L87.5 66.9L87.0 66.4L86.5 66.4L86.0 65.8L85.5 65.1L84.9 64.9L84.5 64.2L84.1 63.4L83.5 63.0L83.3 62.4L83.1 61.4L83.0 60.9L83.0 59.9L83.0 59.2L83.5 58.9L83.7 57.9L84.0 57.1L84.3 56.4L85.0 56.1L85.4 55.4L86.0 55.3L86.5 54.7L87.3 54.4L87.9 53.9L88.5 53.8L89.5 53.5L90.0 53.2L91.0 53.0Z" fill="#16afda" fill-rule="evenodd" stroke="#16afda" stroke-width="0.3"/>
<path d="M93.0 52.9L93.0 52.9L93.6 52.9L94.5 52.9L95.5 52.8L96.5 52.8L97.5 52.8L98.5 52.9L99.2 52.9L100.0 52.9L101.0 53.0L102.0 53.0L103.0 53.0L104.0 53.1L105.0 53.1L106.0 53.2L107.0 53.2L108.0 53.2L109.0 53.3L110.0 53.3L111.0 53.3L112.0 53.4L112.1 53.4L113.0 53.4L113.5 53.4L114.5 53.5L115.5 53.5L116.5 53.5L117.5 53.6L118.5 53.6L119.5 53.7L120.5 53.7L121.5 53.7L122.5 53.8L123.5 53.9L124.2 53.9L125.0 53.9L126.0 54.0L127.0 54.1L128.0 54.1L129.0 54.1L130.0 54.2L131.0 54.3L132.0 54.3L133.0 54.4L133.5 54.4L134.5 54.5L135.5 54.5L136.5 54.6L137.5 54.7L138.5 54.7L139.5 54.8L140.5 54.8L141.0 54.9L142.0 54.9L143.0 55.0L144.0 55.1L145.0 55.2L146.0 55.2L147.0 55.3L148.0 55.4L148.5 55.4L149.5 55.5L150.5 55.5L151.5 55.6L152.5 55.7L153.5 55.8L154.4 55.9L155.0 56.0L156.0 56.1L157.0 56.2L158.0 56.3L158.6 56.4L159.5 56.5L160.5 56.6L161.5 56.7L162.5 56.9L163.0 56.9L164.0 57.0L165.0 57.2L166.0 57.3L166.8 57.4L167.5 57.5L168.5 57.6L169.5 57.8L170.5 57.9L171.0 58.0L172.0 58.1L173.0 58.2L174.0 58.4L174.5 58.4L175.5 58.6L176.5 58.7L177.5 58.9L178.0 58.9L179.0 59.1L180.0 59.2L181.0 59.4L181.5 59.4L182.5 59.6L183.5 59.7L184.5 59.9L185.0 60.0L186.0 60.1L187.0 60.3L187.8 60.4L188.5 60.5L189.5 60.6L190.5 60.8L191.1 60.9L192.0 61.0L193.0 61.2L194.0 61.4L194.5 61.4L195.5 61.6L196.5 61.8L197.4 61.9L198.0 62.0L199.0 62.2L200.0 62.3L200.5 62.4L201.5 62.6L202.5 62.7L203.4 62.9L204.0 63.0L205.0 63.2L206.0 63.4L206.5 63.5L207.5 63.6L208.5 63.8L209.0 63.9L210.0 64.1L211.0 64.3L211.8 64.4L212.5 64.5L213.5 64.7L214.5 64.9L215.0 65.0L216.0 65.2L217.0 65.4L217.5 65.5L218.5 65.6L219.5 65.8L220.2 65.9L221.0 66.0L222.0 66.2L223.0 66.4L223.5 66.5L224.5 66.6L225.5 66.8L226.0 66.9L227.0 67.1L228.0 67.3L228.7 67.4L229.5 67.5L230.5 67.7L231.3 67.9L232.0 68.0L233.0 68.2L233.9 68.4L234.5 68.5L235.5 68.7L236.4 68.9L237.0 69.0L238.0 69.2L238.9 69.4L239.5 69.5L240.5 69.7L241.3 69.9L242.0 70.0L243.0 70.2L243.8 70.4L244.5 70.5L245.5 70.7L246.2 70.9L247.0 71.1L248.0 71.3L248.6 71.4L249.5 71.6L250.5 71.8L251.0 71.9L252.0 72.1L253.0 72.3L253.5 72.4L254.5 72.6L255.5 72.9L256.0 73.0L257.0 73.2L258.0 73.4L258.5 73.5L259.5 73.7L260.3 73.9L261.0 74.0L262.0 74.3L262.6 74.4L263.5 74.6L264.5 74.8L265.0 74.9L266.0 75.1L267.0 75.4L267.5 75.5L268.5 75.7L269.4 75.9L270.0 76.0L271.0 76.2L271.9 76.4L272.5 76.5L273.5 76.7L274.4 76.9L275.0 77.0L276.0 77.2L276.9 77.4L277.5 77.5L278.5 77.7L279.3 77.9L280.0 78.0L281.0 78.2L281.7 78.4L282.5 78.6L283.5 78.8L284.1 78.9L285.0 79.1L286.0 79.3L286.5 79.4L287.5 79.6L288.5 79.8L289.0 79.9L290.0 80.1L291.0 80.4L291.5 80.5L292.5 80.7L293.5 80.9L294.0 81.0L295.0 81.2L295.8 81.4L296.5 81.5L297.5 81.8L298.1 81.9L299.0 82.1L300.0 82.3L300.5 82.4L301.5 82.6L302.5 82.9L303.0 83.0L304.0 83.2L304.9 83.4L305.5 83.5L306.5 83.7L307.1 83.9L308.0 84.1L309.0 84.3L309.5 84.4L310.5 84.7L311.5 84.9L312.0 85.0L313.0 85.2L313.7 85.4L314.5 85.6L315.5 85.9L316.0 86.0L317.0 86.2L317.7 86.4L318.5 86.6L319.5 86.9L320.0 87.0L321.0 87.2L321.6 87.4L322.5 87.6L323.5 87.9L324.0 88.0L325.0 88.3L325.5 88.4L326.5 88.6L327.5 88.9L328.0 89.0L329.0 89.3L329.5 89.4L330.5 89.7L331.3 89.9L332.0 90.1L333.0 90.3L333.5 90.5L334.5 90.7L335.1 90.9L336.0 91.1L337.0 91.4L337.5 91.5L338.5 91.8L339.0 91.9L340.0 92.2L340.7 92.4L341.5 92.6L342.5 92.9L343.0 93.0L344.0 93.3L344.5 93.4L345.5 93.7L346.3 93.9L347.0 94.1L348.0 94.3L348.5 94.5L349.5 94.8L350.0 94.9L351.0 95.2L351.8 95.4L352.5 95.6L353.5 95.9L354.0 96.0L355.0 96.3L355.5 96.4L356.5 96.7L357.2 96.9L358.0 97.1L359.0 97.4L359.5 97.5L360.5 97.8L361.0 98.0L362.0 98.2L362.6 98.4L363.5 98.6L364.3 98.9L365.0 99.1L366.0 99.4L366.5 99.5L367.5 99.8L368.0 99.9L369.0 100.2L369.6 100.4L370.5 100.6L371.3 100.9L372.0 101.1L372.0 101.9L372.0 102.9L372.0 103.9L372.0 104.9L372.0 105.9L372.0 106.9L372.0 107.9L372.0 108.9L372.0 109.9L372.0 110.9L372.0 111.9L372.0 112.9L372.0 113.9L372.0 114.9L372.0 115.9L372.0 116.9L372.0 117.9L372.0 118.9L372.0 119.9L372.0 120.9L372.0 121.9L372.0 122.9L372.0 123.9L371.5 124.4L370.5 124.4L370.0 124.3L369.0 124.1L368.4 123.9L367.5 123.7L366.6 123.4L366.0 123.2L365.0 123.0L364.5 122.8L363.5 122.6L362.9 122.4L362.0 122.2L361.1 121.9L360.5 121.8L359.5 121.5L359.0 121.3L358.0 121.1L357.3 120.9L356.5 120.7L355.5 120.4L355.0 120.3L354.0 120.0L353.5 119.9L352.5 119.6L351.6 119.4L351.0 119.2L350.0 119.0L349.5 118.8L348.5 118.6L347.8 118.4L347.0 118.2L346.0 117.9L345.5 117.8L344.5 117.6L343.9 117.4L343.0 117.2L342.0 116.9L341.5 116.8L340.5 116.5L340.0 116.4L339.0 116.2L338.1 115.9L337.5 115.8L336.5 115.5L336.0 115.4L335.0 115.1L334.1 114.9L333.5 114.8L332.5 114.5L332.0 114.4L331.0 114.1L330.1 113.9L329.5 113.7L328.5 113.5L328.0 113.4L327.0 113.1L326.1 112.9L325.5 112.8L324.5 112.5L324.0 112.4L323.0 112.1L322.0 111.9L321.5 111.8L320.5 111.5L320.0 111.4L319.0 111.2L318.0 110.9L317.5 110.8L316.5 110.6L315.8 110.4L315.0 110.2L314.0 110.0L313.5 109.8L312.5 109.6L311.6 109.4L311.0 109.3L310.0 109.0L309.5 108.9L308.5 108.7L307.5 108.4L307.0 108.3L306.0 108.1L305.0 107.9L304.5 107.8L303.5 107.6L302.7 107.4L302.0 107.3L301.0 107.1L300.3 106.9L299.5 106.7L298.5 106.5L298.0 106.4L297.0 106.2L296.0 106.0L295.5 105.9L294.5 105.7L293.5 105.5L293.0 105.4L292.0 105.2L291.0 105.0L290.5 104.9L289.5 104.7L288.5 104.5L288.0 104.4L287.0 104.2L286.0 104.0L285.5 103.9L284.5 103.7L283.5 103.5L283.0 103.4L282.0 103.2L281.0 103.0L280.5 102.9L279.5 102.7L278.5 102.5L278.0 102.4L277.0 102.2L276.0 102.0L275.5 101.9L274.5 101.7L273.5 101.5L272.9 101.4L272.0 101.2L271.0 101.1L270.2 100.9L269.5 100.8L268.5 100.6L267.5 100.4L267.0 100.3L266.0 100.1L265.0 99.9L264.5 99.9L263.5 99.7L262.5 99.5L262.0 99.4L261.0 99.2L260.0 99.0L259.5 98.9L258.5 98.7L257.5 98.5L256.9 98.4L256.0 98.2L255.0 98.0L254.3 97.9L253.5 97.8L252.5 97.6L251.7 97.4L251.0 97.3L250.0 97.1L249.0 96.9L248.5 96.8L247.5 96.6L246.5 96.4L246.0 96.3L245.0 96.2L244.0 96.0L243.5 95.9L242.5 95.7L241.5 95.5L241.0 95.4L240.0 95.2L239.0 95.1L238.2 94.9L237.5 94.8L236.5 94.6L235.5 94.4L235.0 94.3L234.0 94.2L233.0 94.0L232.5 93.9L231.5 93.7L230.5 93.5L229.7 93.4L229.0 93.3L228.0 93.1L227.0 92.9L226.5 92.8L225.5 92.7L224.5 92.5L224.0 92.4L223.0 92.3L222.0 92.1L221.1 91.9L220.5 91.8L219.5 91.6L218.5 91.4L218.0 91.3L217.0 91.1L216.0 91.0L215.5 90.9L214.5 90.7L213.5 90.5L213.0 90.4L212.0 90.2L211.0 90.0L210.5 89.9L209.5 89.7L208.5 89.5L208.0 89.4L207.0 89.2L206.0 89.0L205.5 88.9L204.5 88.7L203.5 88.5L202.9 88.4L202.0 88.2L201.0 88.0L200.4 87.9L199.5 87.7L198.5 87.5L197.8 87.4L197.0 87.2L196.0 87.1L195.3 86.9L194.5 86.8L193.5 86.6L192.8 86.4L192.0 86.3L191.0 86.1L190.2 85.9L189.5 85.8L188.5 85.6L187.6 85.4L187.0 85.3L186.0 85.1L185.0 84.9L184.5 84.8L183.5 84.6L182.5 84.4L182.0 84.3L181.0 84.1L180.0 83.9L179.5 83.9L178.5 83.7L177.5 83.5L177.0 83.4L176.0 83.2L175.0 83.0L174.5 82.9L173.5 82.7L172.5 82.6L171.7 82.4L171.0 82.3L170.0 82.1L169.0 81.9L168.5 81.8L167.5 81.7L166.5 81.5L166.0 81.4L165.0 81.2L164.0 81.0L163.4 80.9L162.5 80.8L161.5 80.6L160.5 80.4L160.0 80.3L159.0 80.1L158.0 80.0L157.5 79.9L156.5 79.7L155.5 79.5L154.7 79.4L154.0 79.3L153.0 79.1L152.0 78.9L151.5 78.9L150.5 78.7L149.5 78.5L148.8 78.4L148.0 78.3L147.0 78.0L146.2 77.9L145.5 77.7L144.5 77.6L143.8 77.4L143.0 77.2L142.0 77.1L141.2 76.9L140.5 76.8L139.5 76.6L138.5 76.4L138.0 76.3L137.0 76.1L136.0 75.9L135.5 75.8L134.5 75.7L133.5 75.4L133.0 75.4L132.0 75.2L131.0 75.0L130.4 74.9L129.5 74.7L128.5 74.5L127.7 74.4L127.0 74.3L126.0 74.1L125.0 73.9L124.5 73.8L123.5 73.7L122.5 73.5L122.0 73.4L121.0 73.2L120.0 73.1L119.2 72.9L118.5 72.8L117.5 72.6L116.5 72.4L116.0 72.4L115.0 72.2L114.0 72.0L113.3 71.9L112.5 71.7L111.5 71.6L110.5 71.4L110.0 71.3L109.0 71.2L108.0 71.0L107.5 70.9L106.5 70.8L105.5 70.6L104.5 70.4L104.0 70.4L103.0 70.2L102.0 70.1L101.0 69.9L100.5 69.8L99.5 69.7L98.5 69.5L97.5 69.4L97.0 69.3L96.0 69.2L95.0 69.0L94.2 68.9L93.5 68.8L92.5 68.5L91.8 68.4L91.0 68.0L90.4 67.9L89.5 67.6L89.0 67.3L88.4 66.9L87.5 66.4L87.0 65.9L86.5 65.8L86.0 65.2L85.5 64.4L85.0 64.4L84.5 63.4L84.3 62.9L84.0 61.9L83.5 61.8L83.3 60.9L83.3 59.9L83.5 59.3L84.0 58.4L84.1 57.9L84.5 56.9L85.0 56.9L85.5 55.9L86.0 55.9L86.5 55.3L87.3 54.9L87.9 54.4L88.5 54.3L89.5 54.0L90.0 53.6L90.5 53.4L91.5 53.2L92.5 53.0Z" fill="#1aabdd" fill-rule="evenodd" stroke="#1aabdd" stroke-width="0.3"/>
<path d="M92.4 53.4L93.0 53.2L94.0 53.2L95.0 53.1L96.0 53.1L97.0 53.2L98.0 53.2L99.0 53.2L100.0 53.3L101.0 53.3L102.0 53.4L103.0 53.4L103.5 53.4L104.5 53.5L105.5 53.5L106.5 53.5L107.5 53.6L108.5 53.6L109.5 53.7L110.5 53.7L111.5 53.7L112.5 53.8L113.5 53.8L114.5 53.9L115.5 53.9L116.0 53.9L117.0 54.0L118.0 54.0L119.0 54.0L120.0 54.1L121.0 54.1L122.0 54.2L123.0 54.2L124.0 54.3L125.0 54.3L125.9 54.4L126.5 54.4L127.5 54.5L128.5 54.5L129.5 54.6L130.5 54.6L131.5 54.7L132.5 54.8L133.5 54.9L134.5 54.9L135.0 54.9L136.0 55.0L137.0 55.0L138.0 55.1L139.0 55.2L140.0 55.3L141.0 55.3L142.0 55.4L142.5 55.4L143.5 55.5L144.5 55.5L145.5 55.6L146.5 55.7L147.5 55.8L148.5 55.9L149.1 55.9L150.0 56.0L151.0 56.1L152.0 56.1L153.0 56.2L154.0 56.3L154.6 56.4L155.5 56.5L156.5 56.6L157.5 56.7L158.5 56.8L159.0 56.9L160.0 57.0L161.0 57.1L162.0 57.2L163.0 57.4L163.5 57.4L164.5 57.6L165.5 57.7L166.5 57.8L167.0 57.9L168.0 58.0L169.0 58.2L170.0 58.3L170.8 58.4L171.5 58.5L172.5 58.6L173.5 58.8L174.4 58.9L175.0 59.0L176.0 59.1L177.0 59.3L177.9 59.4L178.5 59.5L179.5 59.6L180.5 59.8L181.3 59.9L182.0 60.0L183.0 60.1L184.0 60.3L184.7 60.4L185.5 60.5L186.5 60.7L187.5 60.8L188.0 60.9L189.0 61.1L190.0 61.2L191.0 61.4L191.5 61.5L192.5 61.6L193.5 61.8L194.3 61.9L195.0 62.0L196.0 62.2L197.0 62.3L197.5 62.4L198.5 62.6L199.5 62.7L200.4 62.9L201.0 63.0L202.0 63.1L203.0 63.3L203.5 63.4L204.5 63.6L205.5 63.8L206.2 63.9L207.0 64.0L208.0 64.2L209.0 64.4L209.5 64.5L210.5 64.7L211.5 64.9L212.0 64.9L213.0 65.1L214.0 65.3L214.5 65.4L215.5 65.6L216.5 65.8L217.1 65.9L218.0 66.0L219.0 66.2L220.0 66.4L220.5 66.5L221.5 66.6L222.5 66.8L223.0 66.9L224.0 67.1L225.0 67.2L225.9 67.4L226.5 67.5L227.5 67.7L228.5 67.9L229.0 68.0L230.0 68.2L231.0 68.4L231.5 68.5L232.5 68.7L233.5 68.9L234.0 68.9L235.0 69.1L236.0 69.3L236.5 69.4L237.5 69.6L238.5 69.8L239.0 69.9L240.0 70.1L241.0 70.3L241.5 70.4L242.5 70.6L243.5 70.9L244.0 71.0L245.0 71.2L246.0 71.4L246.5 71.5L247.5 71.7L248.5 71.9L249.0 72.0L250.0 72.2L251.0 72.4L251.5 72.5L252.5 72.7L253.3 72.9L254.0 73.0L255.0 73.3L255.7 73.4L256.5 73.6L257.5 73.8L258.0 73.9L259.0 74.1L260.0 74.3L260.5 74.5L261.5 74.7L262.5 74.9L263.0 75.0L264.0 75.2L264.8 75.4L265.5 75.5L266.5 75.8L267.1 75.9L268.0 76.1L269.0 76.3L269.5 76.4L270.5 76.6L271.5 76.8L272.0 76.9L273.0 77.1L274.0 77.3L274.5 77.4L275.5 77.6L276.5 77.8L277.0 77.9L278.0 78.1L279.0 78.3L279.5 78.4L280.5 78.6L281.5 78.8L282.0 78.9L283.0 79.1L284.0 79.4L284.5 79.5L285.5 79.7L286.5 79.9L287.0 80.0L288.0 80.2L288.9 80.4L289.5 80.5L290.5 80.7L291.2 80.9L292.0 81.1L293.0 81.3L293.6 81.4L294.5 81.6L295.5 81.8L296.0 81.9L297.0 82.1L298.0 82.4L298.5 82.5L299.5 82.7L300.4 82.9L301.0 83.0L302.0 83.2L302.7 83.4L303.5 83.6L304.5 83.8L305.0 83.9L306.0 84.1L307.0 84.4L307.5 84.5L308.5 84.7L309.3 84.9L310.0 85.0L311.0 85.3L311.6 85.4L312.5 85.6L313.5 85.9L314.0 86.0L315.0 86.2L315.6 86.4L316.5 86.6L317.5 86.9L318.0 87.0L319.0 87.2L319.6 87.4L320.5 87.6L321.5 87.9L322.0 88.0L323.0 88.3L323.5 88.4L324.5 88.6L325.5 88.9L326.0 89.0L327.0 89.3L327.5 89.4L328.5 89.7L329.3 89.9L330.0 90.1L331.0 90.3L331.5 90.5L332.5 90.7L333.2 90.9L334.0 91.1L335.0 91.4L335.5 91.5L336.5 91.8L337.0 91.9L338.0 92.2L338.8 92.4L339.5 92.6L340.5 92.8L341.0 93.0L342.0 93.2L342.6 93.4L343.5 93.6L344.4 93.9L345.0 94.0L346.0 94.3L346.5 94.5L347.5 94.7L348.1 94.9L349.0 95.1L349.9 95.4L350.5 95.5L351.5 95.8L352.0 96.0L353.0 96.2L353.6 96.4L354.5 96.6L355.4 96.9L356.0 97.1L357.0 97.3L357.5 97.5L358.5 97.8L359.0 97.9L360.0 98.2L360.7 98.4L361.5 98.6L362.5 98.9L363.0 99.0L364.0 99.3L364.5 99.5L365.5 99.7L366.0 99.9L367.0 100.2L367.8 100.4L368.5 100.6L369.5 100.9L370.0 101.0L371.0 101.3L371.5 101.5L372.0 101.9L372.0 102.9L372.0 103.9L372.0 104.9L372.0 105.9L372.0 106.9L372.0 107.9L372.0 108.9L372.0 109.9L372.0 110.9L372.0 111.9L372.0 112.9L372.0 113.9L372.0 114.9L372.0 115.9L372.0 116.9L372.0 117.9L372.0 118.9L372.0 119.9L372.0 120.9L372.0 121.9L372.0 122.9L372.0 123.9L371.5 124.3L370.5 124.0L370.0 123.8L369.0 123.6L368.5 123.4L367.5 123.1L366.7 122.9L366.0 122.7L365.0 122.4L364.5 122.3L363.5 122.0L363.0 121.9L362.0 121.6L361.1 121.4L360.5 121.2L359.5 121.0L359.0 120.8L358.0 120.6L357.4 120.4L356.5 120.2L355.5 119.9L355.0 119.8L354.0 119.5L353.5 119.4L352.5 119.1L351.7 118.9L351.0 118.7L350.0 118.5L349.5 118.3L348.5 118.1L347.9 117.9L347.0 117.7L346.0 117.4L345.5 117.3L344.5 117.0L344.0 116.9L343.0 116.7L342.0 116.4L341.5 116.3L340.5 116.0L340.0 115.9L339.0 115.6L338.1 115.4L337.5 115.3L336.5 115.0L336.0 114.9L335.0 114.6L334.1 114.4L333.5 114.2L332.5 114.0L332.0 113.9L331.0 113.6L330.2 113.4L329.5 113.2L328.5 113.0L328.0 112.9L327.0 112.6L326.1 112.4L325.5 112.3L324.5 112.0L324.0 111.9L323.0 111.6L322.0 111.4L321.5 111.3L320.5 111.0L320.0 110.9L319.0 110.7L318.0 110.4L317.5 110.3L316.5 110.1L315.8 109.9L315.0 109.7L314.0 109.5L313.5 109.3L312.5 109.1L311.6 108.9L311.0 108.8L310.0 108.5L309.5 108.4L308.5 108.2L307.5 107.9L307.0 107.8L306.0 107.6L305.0 107.4L304.5 107.3L303.5 107.1L302.7 106.9L302.0 106.8L301.0 106.6L300.3 106.4L299.5 106.2L298.5 106.0L297.9 105.9L297.0 105.7L296.0 105.5L295.5 105.4L294.5 105.2L293.5 105.0L293.0 104.9L292.0 104.7L291.0 104.5L290.5 104.4L289.5 104.2L288.5 104.0L288.0 103.9L287.0 103.7L286.0 103.5L285.5 103.4L284.5 103.2L283.5 103.0L283.0 102.9L282.0 102.7L281.0 102.5L280.5 102.4L279.5 102.2L278.5 102.0L278.0 101.9L277.0 101.7L276.0 101.5L275.4 101.4L274.5 101.2L273.5 101.0L272.8 100.9L272.0 100.8L271.0 100.6L270.2 100.4L269.5 100.3L268.5 100.1L267.5 99.9L267.0 99.8L266.0 99.6L265.0 99.4L264.5 99.4L263.5 99.2L262.5 99.0L262.0 98.9L261.0 98.7L260.0 98.5L259.5 98.4L258.5 98.2L257.5 98.0L256.9 97.9L256.0 97.7L255.0 97.5L254.3 97.4L253.5 97.3L252.5 97.1L251.7 96.9L251.0 96.8L250.0 96.6L249.0 96.4L248.5 96.3L247.5 96.1L246.5 95.9L246.0 95.8L245.0 95.7L244.0 95.5L243.5 95.4L242.5 95.2L241.5 95.0L241.0 94.9L240.0 94.7L239.0 94.5L238.2 94.4L237.5 94.3L236.5 94.1L235.5 93.9L235.0 93.8L234.0 93.6L233.0 93.5L232.5 93.4L231.5 93.2L230.5 93.0L229.8 92.9L229.0 92.8L228.0 92.6L227.0 92.4L226.5 92.3L225.5 92.2L224.5 92.0L224.0 91.9L223.0 91.7L222.0 91.5L221.3 91.4L220.5 91.3L219.5 91.1L218.6 90.9L218.0 90.8L217.0 90.6L216.0 90.4L215.5 90.3L214.5 90.2L213.5 90.0L213.0 89.9L212.0 89.7L211.0 89.5L210.5 89.4L209.5 89.2L208.5 89.0L208.0 88.9L207.0 88.7L206.0 88.5L205.5 88.4L204.5 88.2L203.5 88.0L202.9 87.9L202.0 87.7L201.0 87.5L200.3 87.4L199.5 87.2L198.5 87.1L197.7 86.9L197.0 86.8L196.0 86.6L195.2 86.4L194.5 86.3L193.5 86.1L192.7 85.9L192.0 85.8L191.0 85.6L190.1 85.4L189.5 85.3L188.5 85.1L187.5 84.9L187.0 84.8L186.0 84.6L185.0 84.4L184.5 84.3L183.5 84.1L182.5 83.9L182.0 83.9L181.0 83.7L180.0 83.5L179.5 83.4L178.5 83.2L177.5 83.0L176.9 82.9L176.0 82.7L175.0 82.5L174.3 82.4L173.5 82.3L172.5 82.1L171.5 81.9L171.0 81.8L170.0 81.6L169.0 81.4L168.5 81.4L167.5 81.2L166.5 81.0L166.0 80.9L165.0 80.7L164.0 80.5L163.2 80.4L162.5 80.3L161.5 80.1L160.5 79.9L160.0 79.8L159.0 79.7L158.0 79.5L157.5 79.4L156.5 79.2L155.5 79.1L154.5 78.9L154.0 78.8L153.0 78.7L152.0 78.5L151.5 78.4L150.5 78.2L149.5 78.1L148.6 77.9L148.0 77.8L147.0 77.6L146.1 77.4L145.5 77.3L144.5 77.1L143.5 76.9L143.0 76.8L142.0 76.6L141.0 76.4L140.5 76.3L139.5 76.2L138.5 76.0L138.0 75.9L137.0 75.7L136.0 75.5L135.5 75.4L134.5 75.2L133.5 75.0L132.8 74.9L132.0 74.8L131.0 74.6L130.0 74.4L129.5 74.3L128.5 74.1L127.5 74.0L127.0 73.8L126.0 73.7L125.0 73.5L124.4 73.4L123.5 73.3L122.5 73.1L121.6 72.9L121.0 72.8L120.0 72.7L119.0 72.5L118.5 72.4L117.5 72.2L116.5 72.0L115.6 71.9L115.0 71.8L114.0 71.6L113.0 71.5L112.5 71.4L111.5 71.2L110.5 71.1L109.6 70.9L109.0 70.8L108.0 70.7L107.0 70.4L106.5 70.4L105.5 70.2L104.5 70.1L103.5 69.9L103.0 69.8L102.0 69.7L101.0 69.6L100.0 69.4L99.5 69.3L98.5 69.2L97.5 69.1L96.6 68.9L96.0 68.8L95.0 68.7L94.0 68.5L93.2 68.4L92.5 68.2L91.5 67.9L91.0 67.6L90.1 67.4L89.5 67.0L89.0 66.9L88.0 66.5L87.5 66.0L87.0 65.4L86.5 65.4L86.0 64.7L85.6 63.9L85.0 63.8L84.6 62.9L84.5 62.4L84.2 61.4L84.1 60.4L84.2 59.4L84.3 58.4L84.5 57.8L85.1 57.4L85.5 56.6L86.1 56.4L86.5 55.8L87.3 55.4L87.8 54.9L88.5 54.7L89.0 54.3L90.0 54.0L90.5 53.7L91.5 53.5L92.4 53.4Z" fill="#1da8e0" fill-rule="evenodd" stroke="#1da8e0" stroke-width="0.3"/>
<path d="M91.4 53.9L91.9 53.9L92.0 53.9L93.0 53.6L94.0 53.5L95.0 53.4L96.0 53.4L97.0 53.5L98.0 53.5L99.0 53.5L100.0 53.6L101.0 53.6L102.0 53.7L103.0 53.7L104.0 53.7L105.0 53.8L106.0 53.8L107.0 53.9L108.0 53.9L108.5 53.9L109.5 54.0L110.5 54.0L111.5 54.0L112.5 54.1L113.5 54.1L114.5 54.2L115.5 54.2L116.5 54.3L117.5 54.3L118.5 54.4L119.5 54.4L120.0 54.4L121.0 54.5L122.0 54.5L123.0 54.6L124.0 54.6L125.0 54.7L126.0 54.8L127.0 54.8L128.0 54.9L128.5 54.9L129.5 54.9L130.5 55.0L131.5 55.1L132.5 55.2L133.5 55.2L134.5 55.3L135.5 55.3L136.0 55.4L137.0 55.4L138.0 55.5L139.0 55.6L140.0 55.7L141.0 55.7L142.0 55.8L143.0 55.9L143.7 55.9L144.5 56.0L145.5 56.0L146.5 56.1L147.5 56.2L148.5 56.3L149.5 56.3L150.0 56.4L151.0 56.4L152.0 56.5L153.0 56.6L154.0 56.7L155.0 56.9L155.5 56.9L156.5 57.0L157.5 57.1L158.5 57.2L159.5 57.4L160.0 57.4L161.0 57.5L162.0 57.7L163.0 57.8L163.8 57.9L164.5 58.0L165.5 58.1L166.5 58.3L167.5 58.4L168.0 58.4L169.0 58.6L170.0 58.7L171.0 58.8L171.5 58.9L172.5 59.1L173.5 59.2L174.5 59.3L175.0 59.4L176.0 59.5L177.0 59.7L178.0 59.8L178.5 59.9L179.5 60.0L180.5 60.2L181.5 60.3L182.0 60.4L183.0 60.6L184.0 60.7L185.0 60.9L185.5 60.9L186.5 61.1L187.5 61.2L188.5 61.4L189.0 61.5L190.0 61.6L191.0 61.8L191.7 61.9L192.5 62.0L193.5 62.2L194.5 62.3L195.0 62.4L196.0 62.6L197.0 62.7L197.9 62.9L198.5 63.0L199.5 63.2L200.5 63.3L201.0 63.4L202.0 63.6L203.0 63.8L203.8 63.9L204.5 64.0L205.5 64.2L206.5 64.4L207.0 64.5L208.0 64.6L209.0 64.8L209.5 64.9L210.5 65.1L211.5 65.3L212.1 65.4L213.0 65.6L214.0 65.7L214.8 65.9L215.5 66.0L216.5 66.2L217.4 66.4L218.0 66.5L219.0 66.7L220.0 66.8L220.5 66.9L221.5 67.1L222.5 67.3L223.3 67.4L224.0 67.5L225.0 67.7L226.0 67.9L226.5 68.0L227.5 68.1L228.5 68.3L229.0 68.4L230.0 68.6L231.0 68.8L231.5 68.9L232.5 69.1L233.5 69.3L234.0 69.4L235.0 69.6L236.0 69.8L236.6 69.9L237.5 70.1L238.5 70.3L239.1 70.4L240.0 70.6L241.0 70.8L241.5 70.9L242.5 71.1L243.5 71.3L244.0 71.4L245.0 71.6L246.0 71.8L246.5 71.9L247.5 72.1L248.5 72.3L249.0 72.4L250.0 72.6L251.0 72.8L251.5 72.9L252.5 73.1L253.5 73.4L254.0 73.5L255.0 73.7L256.0 73.9L256.5 74.0L257.5 74.2L258.3 74.4L259.0 74.5L260.0 74.7L260.6 74.9L261.5 75.1L262.5 75.3L263.0 75.4L264.0 75.6L265.0 75.9L265.5 76.0L266.5 76.2L267.5 76.4L268.0 76.5L269.0 76.7L269.9 76.9L270.5 77.0L271.5 77.2L272.4 77.4L273.0 77.5L274.0 77.7L274.8 77.9L275.5 78.0L276.5 78.2L277.3 78.4L278.0 78.5L279.0 78.7L279.7 78.9L280.5 79.0L281.5 79.3L282.2 79.4L283.0 79.6L284.0 79.8L284.6 79.9L285.5 80.1L286.5 80.3L287.0 80.4L288.0 80.6L289.0 80.8L289.5 80.9L290.5 81.2L291.5 81.4L292.0 81.5L293.0 81.7L293.9 81.9L294.5 82.0L295.5 82.2L296.2 82.4L297.0 82.6L298.0 82.8L298.5 82.9L299.5 83.1L300.5 83.3L301.0 83.4L302.0 83.7L303.0 83.9L303.5 84.0L304.5 84.2L305.3 84.4L306.0 84.6L307.0 84.8L307.5 84.9L308.5 85.1L309.5 85.4L310.0 85.5L311.0 85.7L311.9 85.9L312.5 86.0L313.5 86.3L314.0 86.4L315.0 86.6L316.0 86.9L316.5 87.0L317.5 87.3L318.0 87.4L319.0 87.7L319.9 87.9L320.5 88.0L321.5 88.3L322.0 88.4L323.0 88.7L323.8 88.9L324.5 89.1L325.5 89.3L326.0 89.5L327.0 89.7L327.7 89.9L328.5 90.1L329.5 90.4L330.0 90.5L331.0 90.7L331.6 90.9L332.5 91.1L333.4 91.4L334.0 91.5L335.0 91.8L335.5 91.9L336.5 92.2L337.2 92.4L338.0 92.6L339.0 92.9L339.5 93.0L340.5 93.3L341.0 93.4L342.0 93.7L342.9 93.9L343.5 94.1L344.5 94.3L345.0 94.5L346.0 94.7L346.5 94.9L347.5 95.1L348.4 95.4L349.0 95.6L350.0 95.8L350.5 96.0L351.5 96.3L352.0 96.4L353.0 96.7L353.8 96.9L354.5 97.1L355.5 97.4L356.0 97.5L357.0 97.8L357.5 97.9L358.5 98.2L359.2 98.4L360.0 98.6L361.0 98.9L361.5 99.0L362.5 99.3L363.0 99.5L364.0 99.7L364.5 99.9L365.5 100.2L366.3 100.4L367.0 100.6L368.0 100.9L368.5 101.0L369.5 101.3L370.0 101.5L371.0 101.7L371.5 101.9L372.0 102.4L372.0 103.4L372.0 104.4L372.0 105.4L372.0 106.4L372.0 107.4L372.0 108.4L372.0 109.4L372.0 110.4L372.0 111.4L372.0 112.4L372.0 113.4L372.0 114.4L372.0 115.4L372.0 116.4L372.0 117.4L372.0 118.4L372.0 119.4L372.0 120.4L372.0 121.4L372.0 122.4L372.0 123.4L372.0 124.0L371.5 123.8L370.5 123.5L370.0 123.4L369.0 123.1L368.2 122.9L367.5 122.7L366.5 122.4L366.0 122.3L365.0 122.0L364.5 121.9L363.5 121.6L362.8 121.4L362.0 121.2L361.0 120.9L360.5 120.8L359.5 120.5L359.0 120.4L358.0 120.1L357.1 119.9L356.5 119.7L355.5 119.5L355.0 119.3L354.0 119.1L353.3 118.9L352.5 118.7L351.5 118.4L351.0 118.3L350.0 118.0L349.5 117.9L348.5 117.6L347.6 117.4L347.0 117.3L346.0 117.0L345.5 116.9L344.5 116.6L343.7 116.4L343.0 116.2L342.0 116.0L341.5 115.8L340.5 115.6L339.8 115.4L339.0 115.2L338.0 115.0L337.5 114.8L336.5 114.6L335.8 114.4L335.0 114.2L334.0 113.9L333.5 113.8L332.5 113.6L331.9 113.4L331.0 113.2L330.0 112.9L329.5 112.8L328.5 112.6L327.8 112.4L327.0 112.2L326.0 112.0L325.5 111.8L324.5 111.6L323.8 111.4L323.0 111.2L322.0 111.0L321.5 110.8L320.5 110.6L319.7 110.4L319.0 110.2L318.0 110.0L317.5 109.9L316.5 109.7L315.5 109.4L315.0 109.3L314.0 109.1L313.4 108.9L312.5 108.7L311.5 108.5L311.0 108.3L310.0 108.1L309.2 107.9L308.5 107.7L307.5 107.5L307.0 107.4L306.0 107.2L305.0 107.0L304.5 106.9L303.5 106.7L302.5 106.4L302.0 106.3L301.0 106.1L300.0 105.9L299.5 105.8L298.5 105.6L297.5 105.4L297.0 105.3L296.0 105.1L295.1 104.9L294.5 104.8L293.5 104.6L292.7 104.4L292.0 104.3L291.0 104.1L290.2 103.9L289.5 103.8L288.5 103.6L287.7 103.4L287.0 103.3L286.0 103.1L285.2 102.9L284.5 102.8L283.5 102.6L282.7 102.4L282.0 102.3L281.0 102.1L280.1 101.9L279.5 101.8L278.5 101.6L277.6 101.4L277.0 101.3L276.0 101.1L275.0 100.9L274.5 100.8L273.5 100.6L272.5 100.4L272.0 100.3L271.0 100.2L270.0 100.0L269.5 99.9L268.5 99.7L267.5 99.5L267.0 99.4L266.0 99.2L265.0 99.0L264.2 98.9L263.5 98.8L262.5 98.6L261.6 98.4L261.0 98.3L260.0 98.1L259.0 97.9L258.5 97.8L257.5 97.6L256.5 97.4L256.0 97.3L255.0 97.1L254.0 96.9L253.5 96.8L252.5 96.6L251.5 96.4L251.0 96.3L250.0 96.2L249.0 96.0L248.5 95.9L247.5 95.7L246.5 95.5L246.0 95.4L245.0 95.2L244.0 95.0L243.3 94.9L242.5 94.8L241.5 94.6L240.6 94.4L240.0 94.3L239.0 94.1L238.0 93.9L237.5 93.8L236.5 93.7L235.5 93.5L235.0 93.4L234.0 93.2L233.0 93.0L232.3 92.9L231.5 92.8L230.5 92.6L229.5 92.4L229.0 92.3L228.0 92.1L227.0 92.0L226.5 91.9L225.5 91.7L224.5 91.5L223.8 91.4L223.0 91.3L222.0 91.1L221.0 90.9L220.5 90.8L219.5 90.6L218.5 90.4L218.0 90.4L217.0 90.2L216.0 90.0L215.5 89.9L214.5 89.7L213.5 89.6L212.7 89.4L212.0 89.3L211.0 89.1L210.2 88.9L209.5 88.8L208.5 88.6L207.7 88.4L207.0 88.3L206.0 88.1L205.1 87.9L204.5 87.8L203.5 87.6L202.6 87.4L202.0 87.3L201.0 87.1L200.0 86.9L199.5 86.8L198.5 86.6L197.5 86.4L197.0 86.3L196.0 86.1L195.0 85.9L194.5 85.8L193.5 85.6L192.5 85.4L192.0 85.3L191.0 85.2L190.0 85.0L189.5 84.9L188.5 84.7L187.5 84.5L187.0 84.4L186.0 84.2L185.0 84.0L184.5 83.9L183.5 83.7L182.5 83.5L181.9 83.4L181.0 83.2L180.0 83.1L179.2 82.9L178.5 82.8L177.5 82.6L176.5 82.4L176.0 82.3L175.0 82.1L174.0 81.9L173.5 81.8L172.5 81.7L171.5 81.5L171.0 81.4L170.0 81.2L169.0 81.0L168.3 80.9L167.5 80.8L166.5 80.6L165.5 80.4L165.0 80.3L164.0 80.1L163.0 80.0L162.5 79.9L161.5 79.7L160.5 79.5L159.9 79.4L159.0 79.2L158.0 79.1L157.0 78.9L156.5 78.8L155.5 78.7L154.5 78.5L154.0 78.4L153.0 78.2L152.0 78.1L151.0 77.9L150.5 77.8L149.5 77.6L148.5 77.5L148.0 77.3L147.0 77.2L146.0 77.0L145.5 76.9L144.5 76.7L143.5 76.5L143.0 76.4L142.0 76.2L141.0 76.0L140.4 75.9L139.5 75.8L138.5 75.5L137.7 75.4L137.0 75.3L136.0 75.1L135.0 74.9L134.5 74.8L133.5 74.6L132.5 74.5L132.0 74.3L131.0 74.2L130.0 74.0L129.4 73.9L128.5 73.8L127.5 73.6L126.5 73.4L126.0 73.3L125.0 73.2L124.0 72.9L123.5 72.9L122.5 72.7L121.5 72.5L120.6 72.4L120.0 72.3L119.0 72.1L118.0 72.0L117.5 71.8L116.5 71.7L115.5 71.5L114.7 71.4L114.0 71.3L113.0 71.1L112.0 71.0L111.5 70.9L110.5 70.7L109.5 70.5L108.7 70.4L108.0 70.3L107.0 70.1L106.0 70.0L105.5 69.9L104.5 69.8L103.5 69.6L102.5 69.5L102.0 69.4L101.0 69.3L100.0 69.1L99.0 68.9L98.5 68.9L97.5 68.8L96.5 68.6L95.5 68.4L95.0 68.4L94.0 68.2L93.0 68.0L92.5 67.8L91.5 67.6L91.0 67.3L90.0 67.0L89.5 66.6L88.8 66.4L88.0 66.1L87.5 65.6L87.0 64.9L86.5 64.9L86.0 64.1L85.6 63.4L85.0 63.1L84.8 62.4L84.5 61.4L84.5 60.9L84.4 59.9L84.5 59.0L85.0 58.9L85.3 57.9L85.5 57.3L86.2 56.9L86.5 56.4L87.0 55.8L87.7 55.4L88.5 55.2L89.0 54.7L90.0 54.4L90.5 54.1L91.4 53.9Z" fill="#20a4e3" fill-rule="evenodd" stroke="#20a4e3" stroke-width="0.3"/>
<path d="M92.8 53.9L93.5 53.9L94.5 53.8L95.5 53.7L96.5 53.7L97.5 53.8L98.5 53.8L99.5 53.9L100.5 53.9L101.0 53.9L102.0 54.0L103.0 54.0L104.0 54.0L105.0 54.1L106.0 54.1L107.0 54.2L108.0 54.2L109.0 54.2L110.0 54.3L111.0 54.3L112.0 54.4L112.5 54.4L113.5 54.5L114.5 54.5L115.5 54.5L116.5 54.6L117.5 54.6L118.5 54.7L119.5 54.7L120.5 54.8L121.5 54.8L122.5 54.9L123.0 54.9L124.0 55.0L125.0 55.0L126.0 55.1L127.0 55.1L128.0 55.2L129.0 55.3L130.0 55.3L130.8 55.4L131.5 55.4L132.5 55.5L133.5 55.6L134.5 55.6L135.5 55.7L136.5 55.8L137.5 55.8L138.5 55.9L139.0 55.9L140.0 56.0L141.0 56.1L142.0 56.1L143.0 56.2L144.0 56.3L145.0 56.4L145.5 56.4L146.5 56.5L147.5 56.6L148.5 56.6L149.5 56.7L150.5 56.8L151.5 56.9L152.0 56.9L153.0 57.0L154.0 57.1L155.0 57.2L156.0 57.3L156.5 57.4L157.5 57.5L158.5 57.6L159.5 57.7L160.5 57.9L161.0 57.9L162.0 58.0L163.0 58.2L164.0 58.3L164.7 58.4L165.5 58.5L166.5 58.6L167.5 58.8L168.5 58.9L169.0 59.0L170.0 59.1L171.0 59.2L172.0 59.4L172.5 59.4L173.5 59.6L174.5 59.7L175.5 59.9L176.0 59.9L177.0 60.1L178.0 60.2L179.0 60.4L179.5 60.4L180.5 60.6L181.5 60.7L182.5 60.9L183.0 60.9L184.0 61.1L185.0 61.2L186.0 61.4L186.5 61.5L187.5 61.6L188.5 61.8L189.3 61.9L190.0 62.0L191.0 62.2L192.0 62.3L192.5 62.4L193.5 62.6L194.5 62.7L195.5 62.9L196.0 63.0L197.0 63.1L198.0 63.3L198.6 63.4L199.5 63.5L200.5 63.7L201.5 63.9L202.0 64.0L203.0 64.1L204.0 64.3L204.5 64.4L205.5 64.6L206.5 64.8L207.3 64.9L208.0 65.0L209.0 65.2L210.0 65.4L210.5 65.5L211.5 65.7L212.5 65.9L213.0 66.0L214.0 66.1L215.0 66.3L215.5 66.4L216.5 66.6L217.5 66.8L218.1 66.9L219.0 67.0L220.0 67.2L221.0 67.4L221.5 67.5L222.5 67.6L223.5 67.8L224.0 67.9L225.0 68.1L226.0 68.2L226.8 68.4L227.5 68.5L228.5 68.7L229.5 68.9L230.0 69.0L231.0 69.2L232.0 69.4L232.5 69.5L233.5 69.7L234.5 69.9L235.0 70.0L236.0 70.2L237.0 70.4L237.5 70.5L238.5 70.7L239.5 70.9L240.0 71.0L241.0 71.1L242.0 71.4L242.5 71.5L243.5 71.7L244.5 71.9L245.0 72.0L246.0 72.2L247.0 72.4L247.5 72.5L248.5 72.7L249.5 72.9L250.0 73.0L251.0 73.2L251.9 73.4L252.5 73.5L253.5 73.7L254.3 73.9L255.0 74.0L256.0 74.3L256.6 74.4L257.5 74.6L258.5 74.8L259.0 74.9L260.0 75.1L261.0 75.3L261.5 75.4L262.5 75.7L263.5 75.9L264.0 76.0L265.0 76.2L265.8 76.4L266.5 76.5L267.5 76.8L268.2 76.9L269.0 77.1L270.0 77.3L270.6 77.4L271.5 77.6L272.5 77.8L273.1 77.9L274.0 78.1L275.0 78.3L275.6 78.4L276.5 78.6L277.5 78.8L278.0 78.9L279.0 79.1L280.0 79.3L280.5 79.4L281.5 79.6L282.5 79.8L283.0 79.9L284.0 80.1L285.0 80.3L285.5 80.5L286.5 80.7L287.5 80.9L288.0 81.0L289.0 81.2L290.0 81.4L290.5 81.5L291.5 81.7L292.3 81.9L293.0 82.1L294.0 82.3L294.6 82.4L295.5 82.6L296.5 82.8L297.0 82.9L298.0 83.1L299.0 83.4L299.5 83.5L300.5 83.7L301.4 83.9L302.0 84.0L303.0 84.2L303.7 84.4L304.5 84.6L305.5 84.8L306.0 84.9L307.0 85.1L308.0 85.4L308.5 85.5L309.5 85.7L310.3 85.9L311.0 86.1L312.0 86.3L312.5 86.4L313.5 86.6L314.5 86.9L315.0 87.0L316.0 87.3L316.5 87.4L317.5 87.6L318.5 87.9L319.0 88.0L320.0 88.3L320.5 88.4L321.5 88.7L322.4 88.9L323.0 89.0L324.0 89.3L324.5 89.4L325.5 89.7L326.3 89.9L327.0 90.1L328.0 90.3L328.5 90.5L329.5 90.7L330.2 90.9L331.0 91.1L332.0 91.4L332.5 91.5L333.5 91.8L334.0 91.9L335.0 92.2L335.9 92.4L336.5 92.6L337.5 92.8L338.0 93.0L339.0 93.2L339.6 93.4L340.5 93.6L341.5 93.9L342.0 94.0L343.0 94.3L343.5 94.4L344.5 94.7L345.2 94.9L346.0 95.1L347.0 95.4L347.5 95.5L348.5 95.8L349.0 95.9L350.0 96.2L350.7 96.4L351.5 96.6L352.5 96.9L353.0 97.0L354.0 97.3L354.5 97.5L355.5 97.7L356.1 97.9L357.0 98.1L357.9 98.4L358.5 98.6L359.5 98.9L360.0 99.0L361.0 99.3L361.5 99.4L362.5 99.7L363.2 99.9L364.0 100.1L365.0 100.4L365.5 100.5L366.5 100.8L367.0 101.0L368.0 101.3L368.5 101.4L369.5 101.7L370.2 101.9L371.0 102.1L371.9 102.4L372.0 102.9L372.0 103.9L372.0 104.9L372.0 105.9L372.0 106.9L372.0 107.9L372.0 108.9L372.0 109.9L372.0 110.9L372.0 111.9L372.0 112.9L372.0 113.9L372.0 114.9L372.0 115.9L372.0 116.9L372.0 117.9L372.0 118.9L372.0 119.9L372.0 120.9L372.0 121.9L372.0 122.9L372.0 123.6L371.4 123.4L370.5 123.2L369.6 122.9L369.0 122.7L368.0 122.5L367.5 122.3L366.5 122.1L366.0 121.9L365.0 121.6L364.1 121.4L363.5 121.2L362.5 121.0L362.0 120.8L361.0 120.6L360.4 120.4L359.5 120.2L358.5 119.9L358.0 119.8L357.0 119.5L356.5 119.4L355.5 119.1L354.7 118.9L354.0 118.7L353.0 118.5L352.5 118.3L351.5 118.1L350.9 117.9L350.0 117.7L349.0 117.4L348.5 117.3L347.5 117.0L347.0 116.9L346.0 116.6L345.1 116.4L344.5 116.2L343.5 116.0L343.0 115.9L342.0 115.6L341.2 115.4L340.5 115.2L339.5 115.0L339.0 114.8L338.0 114.6L337.3 114.4L336.5 114.2L335.5 113.9L335.0 113.8L334.0 113.6L333.3 113.4L332.5 113.2L331.5 112.9L331.0 112.8L330.0 112.6L329.3 112.4L328.5 112.2L327.5 112.0L327.0 111.8L326.0 111.6L325.3 111.4L324.5 111.2L323.5 111.0L323.0 110.9L322.0 110.6L321.2 110.4L320.5 110.3L319.5 110.0L319.0 109.9L318.0 109.6L317.0 109.4L316.5 109.3L315.5 109.0L314.9 108.9L314.0 108.7L313.0 108.4L312.5 108.3L311.5 108.1L310.7 107.9L310.0 107.7L309.0 107.5L308.5 107.4L307.5 107.2L306.5 106.9L306.0 106.8L305.0 106.6L304.0 106.4L303.5 106.3L302.5 106.1L301.6 105.9L301.0 105.8L300.0 105.6L299.2 105.4L298.5 105.3L297.5 105.0L296.8 104.9L296.0 104.7L295.0 104.5L294.4 104.4L293.5 104.2L292.5 104.0L291.9 103.9L291.0 103.7L290.0 103.5L289.5 103.4L288.5 103.2L287.5 103.0L287.0 102.9L286.0 102.7L285.0 102.5L284.5 102.4L283.5 102.2L282.5 102.0L282.0 101.9L281.0 101.7L280.0 101.5L279.4 101.4L278.5 101.2L277.5 101.0L276.8 100.9L276.0 100.8L275.0 100.6L274.2 100.4L273.5 100.3L272.5 100.1L271.6 99.9L271.0 99.8L270.0 99.6L269.0 99.4L268.5 99.3L267.5 99.1L266.5 99.0L266.0 98.9L265.0 98.7L264.0 98.5L263.5 98.4L262.5 98.2L261.5 98.0L260.9 97.9L260.0 97.7L259.0 97.5L258.3 97.4L257.5 97.2L256.5 97.1L255.8 96.9L255.0 96.8L254.0 96.6L253.2 96.4L252.5 96.3L251.5 96.1L250.6 95.9L250.0 95.8L249.0 95.6L248.0 95.4L247.5 95.3L246.5 95.1L245.5 94.9L245.0 94.8L244.0 94.7L243.0 94.5L242.5 94.4L241.5 94.2L240.5 94.0L239.9 93.9L239.0 93.7L238.0 93.6L237.2 93.4L236.5 93.3L235.5 93.1L234.5 92.9L234.0 92.8L233.0 92.7L232.0 92.5L231.5 92.4L230.5 92.2L229.5 92.0L228.8 91.9L228.0 91.8L227.0 91.6L226.0 91.4L225.5 91.3L224.5 91.2L223.5 91.0L223.0 90.9L222.0 90.7L221.0 90.5L220.3 90.4L219.5 90.3L218.5 90.1L217.6 89.9L217.0 89.8L216.0 89.6L215.0 89.4L214.5 89.3L213.5 89.2L212.5 89.0L212.0 88.9L211.0 88.7L210.0 88.5L209.5 88.4L208.5 88.2L207.5 88.0L207.0 87.9L206.0 87.7L205.0 87.5L204.5 87.4L203.5 87.2L202.5 87.0L202.0 86.9L201.0 86.7L200.0 86.5L199.4 86.4L198.5 86.2L197.5 86.1L196.8 85.9L196.0 85.8L195.0 85.6L194.3 85.4L193.5 85.3L192.5 85.1L191.7 84.9L191.0 84.8L190.0 84.6L189.1 84.4L188.5 84.3L187.5 84.1L186.5 83.9L186.0 83.8L185.0 83.6L184.0 83.4L183.5 83.3L182.5 83.2L181.5 83.0L181.0 82.9L180.0 82.7L179.0 82.5L178.5 82.4L177.5 82.2L176.5 82.0L175.9 81.9L175.0 81.8L174.0 81.6L173.2 81.4L172.5 81.3L171.5 81.1L170.5 80.9L170.0 80.8L169.0 80.6L168.0 80.5L167.5 80.4L166.5 80.2L165.5 80.0L164.9 79.9L164.0 79.8L163.0 79.6L162.0 79.4L161.5 79.3L160.5 79.1L159.5 79.0L159.0 78.9L158.0 78.7L157.0 78.5L156.3 78.4L155.5 78.3L154.5 78.1L153.5 77.9L153.0 77.9L152.0 77.7L151.0 77.5L150.4 77.4L149.5 77.3L148.5 77.1L147.5 76.9L147.0 76.8L146.0 76.6L145.0 76.4L144.5 76.3L143.5 76.1L142.5 75.9L142.0 75.8L141.0 75.7L140.0 75.5L139.5 75.4L138.5 75.2L137.5 75.0L136.9 74.9L136.0 74.7L135.0 74.6L134.2 74.4L133.5 74.3L132.5 74.1L131.5 73.9L131.0 73.8L130.0 73.7L129.0 73.5L128.5 73.4L127.5 73.2L126.5 73.1L125.6 72.9L125.0 72.8L124.0 72.6L123.0 72.5L122.5 72.4L121.5 72.2L120.5 72.0L119.6 71.9L119.0 71.8L118.0 71.6L117.0 71.5L116.5 71.4L115.5 71.2L114.5 71.1L113.7 70.9L113.0 70.8L112.0 70.6L111.0 70.5L110.5 70.4L109.5 70.2L108.5 70.1L107.5 69.9L107.0 69.8L106.0 69.7L105.0 69.5L104.0 69.4L103.5 69.3L102.5 69.2L101.5 69.0L100.7 68.9L100.0 68.8L99.0 68.6L98.0 68.5L97.2 68.4L96.5 68.3L95.5 68.2L94.5 68.0L93.9 67.9L93.0 67.7L92.0 67.5L91.5 67.3L90.5 67.0L90.0 66.6L89.5 66.2L88.7 65.9L88.0 65.7L87.5 65.2L87.0 64.5L86.5 64.4L86.0 63.6L85.7 62.9L85.5 62.3L84.9 61.9L85.0 61.2L85.2 60.4L85.2 59.4L85.4 58.4L86.0 58.1L86.3 57.4L86.5 56.9L87.0 56.1L87.7 55.9L88.5 55.6L89.0 55.1L89.8 54.9L90.5 54.4L91.1 54.4L92.0 54.2L92.8 53.9Z" fill="#23a1e4" fill-rule="evenodd" stroke="#23a1e4" stroke-width="0.3"/>
<path d="M92.3 54.4L93.0 54.1L94.0 54.0L95.0 54.0L96.0 54.0L97.0 54.0L98.0 54.0L99.0 54.1L100.0 54.1L101.0 54.2L102.0 54.2L103.0 54.2L104.0 54.3L105.0 54.3L105.9 54.4L106.5 54.4L107.5 54.5L108.5 54.5L109.5 54.5L110.5 54.6L111.5 54.6L112.5 54.7L113.5 54.7L114.5 54.8L115.5 54.8L116.5 54.9L117.1 54.9L118.0 54.9L119.0 55.0L120.0 55.1L121.0 55.1L122.0 55.1L123.0 55.2L124.0 55.3L125.0 55.4L125.8 55.4L126.5 55.4L127.5 55.5L128.5 55.6L129.5 55.6L130.5 55.7L131.5 55.7L132.5 55.8L133.5 55.9L134.0 55.9L135.0 56.0L136.0 56.0L137.0 56.1L138.0 56.2L139.0 56.3L140.0 56.4L141.0 56.4L141.5 56.5L142.5 56.5L143.5 56.6L144.5 56.7L145.5 56.7L146.5 56.8L147.3 56.9L148.0 56.9L149.0 57.0L150.0 57.1L151.0 57.2L152.0 57.3L153.0 57.4L153.5 57.4L154.5 57.5L155.5 57.6L156.5 57.8L157.5 57.9L158.0 57.9L159.0 58.0L160.0 58.1L161.0 58.3L162.0 58.4L162.5 58.5L163.5 58.6L164.5 58.7L165.5 58.8L166.0 58.9L167.0 59.0L168.0 59.2L169.0 59.3L169.7 59.4L170.5 59.5L171.5 59.6L172.5 59.8L173.4 59.9L174.0 60.0L175.0 60.1L176.0 60.3L176.9 60.4L177.5 60.5L178.5 60.6L179.5 60.8L180.4 60.9L181.0 61.0L182.0 61.1L183.0 61.3L183.8 61.4L184.5 61.5L185.5 61.7L186.5 61.8L187.1 61.9L188.0 62.0L189.0 62.2L190.0 62.3L190.5 62.4L191.5 62.6L192.5 62.7L193.5 62.9L194.0 63.0L195.0 63.1L196.0 63.3L196.6 63.4L197.5 63.5L198.5 63.7L199.5 63.9L200.0 64.0L201.0 64.1L202.0 64.3L202.6 64.4L203.5 64.6L204.5 64.7L205.4 64.9L206.0 65.0L207.0 65.2L208.0 65.4L208.5 65.5L209.5 65.6L210.5 65.8L211.0 65.9L212.0 66.1L213.0 66.3L213.5 66.4L214.5 66.6L215.5 66.8L216.2 66.9L217.0 67.0L218.0 67.2L219.0 67.4L219.5 67.5L220.5 67.6L221.5 67.8L222.0 67.9L223.0 68.1L224.0 68.2L224.9 68.4L225.5 68.5L226.5 68.7L227.5 68.9L228.0 69.0L229.0 69.2L230.0 69.3L230.5 69.4L231.5 69.6L232.5 69.8L233.0 69.9L234.0 70.1L235.0 70.3L235.5 70.4L236.5 70.6L237.5 70.8L238.0 70.9L239.0 71.1L240.0 71.3L240.5 71.4L241.5 71.6L242.5 71.8L243.0 71.9L244.0 72.1L245.0 72.3L245.5 72.4L246.5 72.6L247.5 72.8L248.0 72.9L249.0 73.1L250.0 73.3L250.5 73.4L251.5 73.6L252.5 73.8L253.0 74.0L254.0 74.2L255.0 74.4L255.5 74.5L256.5 74.7L257.5 74.9L258.0 75.0L259.0 75.2L259.8 75.4L260.5 75.5L261.5 75.8L262.1 75.9L263.0 76.1L264.0 76.3L264.5 76.4L265.5 76.6L266.5 76.9L267.0 77.0L268.0 77.2L269.0 77.4L269.5 77.5L270.5 77.7L271.5 77.9L272.0 78.0L273.0 78.2L274.0 78.4L274.5 78.5L275.5 78.7L276.4 78.9L277.0 79.0L278.0 79.2L278.9 79.4L279.5 79.5L280.5 79.7L281.3 79.9L282.0 80.0L283.0 80.2L283.7 80.4L284.5 80.6L285.5 80.8L286.1 80.9L287.0 81.1L288.0 81.3L288.5 81.4L289.5 81.6L290.5 81.8L291.0 81.9L292.0 82.2L293.0 82.4L293.5 82.5L294.5 82.7L295.4 82.9L296.0 83.0L297.0 83.2L297.7 83.4L298.5 83.6L299.5 83.8L300.0 83.9L301.0 84.1L302.0 84.3L302.5 84.4L303.5 84.7L304.5 84.9L305.0 85.0L306.0 85.2L306.7 85.4L307.5 85.6L308.5 85.8L309.0 85.9L310.0 86.1L311.0 86.4L311.5 86.5L312.5 86.7L313.2 86.9L314.0 87.1L315.0 87.3L315.5 87.5L316.5 87.7L317.2 87.9L318.0 88.1L319.0 88.3L319.5 88.5L320.5 88.7L321.1 88.9L322.0 89.1L323.0 89.4L323.5 89.5L324.5 89.7L325.0 89.9L326.0 90.1L327.0 90.4L327.5 90.5L328.5 90.8L329.0 90.9L330.0 91.2L330.8 91.4L331.5 91.6L332.5 91.8L333.0 92.0L334.0 92.2L334.6 92.4L335.5 92.6L336.5 92.9L337.0 93.0L338.0 93.3L338.5 93.4L339.5 93.7L340.3 93.9L341.0 94.1L342.0 94.4L342.5 94.5L343.5 94.8L344.0 94.9L345.0 95.2L345.8 95.4L346.5 95.6L347.5 95.8L348.0 96.0L349.0 96.3L349.5 96.4L350.5 96.7L351.3 96.9L352.0 97.1L353.0 97.4L353.5 97.5L354.5 97.8L355.0 97.9L356.0 98.2L356.7 98.4L357.5 98.6L358.5 98.9L359.0 99.0L360.0 99.3L360.5 99.5L361.5 99.7L362.0 99.9L363.0 100.2L363.8 100.4L364.5 100.6L365.5 100.9L366.0 101.0L367.0 101.3L367.5 101.4L368.5 101.7L369.1 101.9L370.0 102.2L370.8 102.4L371.5 102.6L372.0 102.9L372.0 103.9L372.0 104.9L372.0 105.9L372.0 106.9L372.0 107.9L372.0 108.9L372.0 109.9L372.0 110.9L372.0 111.9L372.0 112.9L372.0 113.9L372.0 114.9L372.0 115.9L372.0 116.9L372.0 117.9L372.0 118.9L372.0 119.9L372.0 120.9L372.0 121.9L372.0 122.9L371.5 123.1L370.8 122.9L370.0 122.7L369.0 122.4L368.5 122.3L367.5 122.0L367.0 121.9L366.0 121.6L365.4 121.4L364.5 121.2L363.5 120.9L363.0 120.8L362.0 120.5L361.5 120.4L360.5 120.1L359.8 119.9L359.0 119.7L358.0 119.4L357.5 119.3L356.5 119.0L356.0 118.9L355.0 118.7L354.1 118.4L353.5 118.3L352.5 118.0L352.0 117.9L351.0 117.6L350.2 117.4L349.5 117.2L348.5 116.9L348.0 116.8L347.0 116.6L346.4 116.4L345.5 116.2L344.5 115.9L344.0 115.8L343.0 115.5L342.5 115.4L341.5 115.2L340.5 114.9L340.0 114.8L339.0 114.5L338.5 114.4L337.5 114.1L336.6 113.9L336.0 113.8L335.0 113.5L334.5 113.4L333.5 113.1L332.6 112.9L332.0 112.8L331.0 112.5L330.5 112.4L329.5 112.1L328.6 111.9L328.0 111.8L327.0 111.5L326.5 111.4L325.5 111.2L324.5 110.9L324.0 110.8L323.0 110.5L322.5 110.4L321.5 110.2L320.5 109.9L320.0 109.8L319.0 109.6L318.4 109.4L317.5 109.2L316.5 109.0L316.0 108.8L315.0 108.6L314.2 108.4L313.5 108.2L312.5 108.0L312.0 107.9L311.0 107.7L310.0 107.4L309.5 107.3L308.5 107.1L307.8 106.9L307.0 106.7L306.0 106.5L305.5 106.4L304.5 106.2L303.5 106.0L303.0 105.9L302.0 105.7L301.0 105.5L300.5 105.4L299.5 105.2L298.5 104.9L298.0 104.8L297.0 104.6L296.0 104.4L295.5 104.3L294.5 104.1L293.5 103.9L293.0 103.8L292.0 103.6L291.1 103.4L290.5 103.3L289.5 103.1L288.6 102.9L288.0 102.8L287.0 102.6L286.1 102.4L285.5 102.3L284.5 102.1L283.5 101.9L283.0 101.8L282.0 101.6L281.0 101.4L280.5 101.3L279.5 101.1L278.5 100.9L278.0 100.8L277.0 100.6L276.0 100.4L275.5 100.3L274.5 100.2L273.5 100.0L273.0 99.9L272.0 99.7L271.0 99.5L270.5 99.4L269.5 99.2L268.5 99.0L267.9 98.9L267.0 98.7L266.0 98.6L265.2 98.4L264.5 98.3L263.5 98.1L262.5 97.9L262.0 97.8L261.0 97.6L260.0 97.4L259.5 97.3L258.5 97.1L257.5 96.9L257.0 96.8L256.0 96.6L255.0 96.4L254.5 96.3L253.5 96.1L252.5 95.9L252.0 95.8L251.0 95.7L250.0 95.5L249.5 95.4L248.5 95.2L247.5 95.0L247.0 94.9L246.0 94.7L245.0 94.5L244.4 94.4L243.5 94.2L242.5 94.1L241.7 93.9L241.0 93.8L240.0 93.6L239.0 93.4L238.5 93.3L237.5 93.1L236.5 92.9L236.0 92.9L235.0 92.7L234.0 92.5L233.5 92.4L232.5 92.2L231.5 92.0L230.7 91.9L230.0 91.8L229.0 91.6L228.0 91.4L227.5 91.3L226.5 91.2L225.5 91.0L225.0 90.9L224.0 90.7L223.0 90.5L222.2 90.4L221.5 90.3L220.5 90.1L219.5 89.9L219.0 89.8L218.0 89.6L217.0 89.4L216.5 89.4L215.5 89.2L214.5 89.0L213.9 88.9L213.0 88.7L212.0 88.5L211.3 88.4L210.5 88.2L209.5 88.0L208.8 87.9L208.0 87.7L207.0 87.5L206.3 87.4L205.5 87.3L204.5 87.1L203.7 86.9L203.0 86.8L202.0 86.6L201.1 86.4L200.5 86.3L199.5 86.1L198.5 85.9L198.0 85.8L197.0 85.6L196.0 85.4L195.5 85.3L194.5 85.1L193.5 84.9L193.0 84.8L192.0 84.6L191.0 84.4L190.5 84.3L189.5 84.1L188.5 83.9L188.0 83.9L187.0 83.7L186.0 83.5L185.5 83.4L184.5 83.2L183.5 83.0L183.0 82.9L182.0 82.7L181.0 82.5L180.3 82.4L179.5 82.2L178.5 82.1L177.7 81.9L177.0 81.8L176.0 81.6L175.0 81.4L174.5 81.3L173.5 81.1L172.5 80.9L172.0 80.9L171.0 80.7L170.0 80.5L169.5 80.4L168.5 80.2L167.5 80.0L166.8 79.9L166.0 79.8L165.0 79.6L164.0 79.4L163.5 79.3L162.5 79.1L161.5 79.0L161.0 78.9L160.0 78.7L159.0 78.5L158.3 78.4L157.5 78.3L156.5 78.1L155.5 77.9L155.0 77.8L154.0 77.7L153.0 77.5L152.4 77.4L151.5 77.3L150.5 77.1L149.5 76.9L149.0 76.8L148.0 76.6L147.0 76.4L146.5 76.3L145.5 76.2L144.5 76.0L144.0 75.9L143.0 75.7L142.0 75.5L141.5 75.4L140.5 75.2L139.5 75.1L138.8 74.9L138.0 74.8L137.0 74.6L136.1 74.4L135.5 74.3L134.5 74.1L133.5 73.9L133.0 73.9L132.0 73.7L131.0 73.5L130.5 73.4L129.5 73.2L128.5 73.1L127.5 72.9L127.0 72.8L126.0 72.7L125.0 72.5L124.5 72.4L123.5 72.2L122.5 72.1L121.6 71.9L121.0 71.8L120.0 71.6L119.0 71.5L118.4 71.4L117.5 71.2L116.5 71.1L115.5 70.9L115.0 70.8L114.0 70.7L113.0 70.5L112.4 70.4L111.5 70.3L110.5 70.1L109.5 69.9L109.0 69.9L108.0 69.7L107.0 69.5L106.0 69.4L105.5 69.3L104.5 69.2L103.5 69.0L102.5 68.9L102.0 68.8L101.0 68.7L100.0 68.6L99.2 68.4L98.5 68.3L97.5 68.2L96.5 68.0L95.6 67.9L95.0 67.8L94.0 67.7L93.0 67.5L92.5 67.3L91.5 67.0L91.0 66.7L90.1 66.4L89.5 65.9L89.0 65.9L88.5 65.4L88.0 64.8L87.2 64.4L86.5 64.0L86.2 63.4L86.0 62.9L85.6 61.9L85.5 61.1L85.4 60.4L85.5 59.4L85.6 58.9L86.2 58.4L86.5 57.5L86.8 56.9L87.5 56.6L88.0 55.9L88.6 55.9L89.5 55.4L90.0 55.1L90.5 54.7L91.5 54.5L92.3 54.4Z" fill="#249de7" fill-rule="evenodd" stroke="#249de7" stroke-width="0.3"/>
<path d="M93.0 54.4L93.1 54.4L93.6 54.4L94.5 54.3L95.5 54.2L96.5 54.3L97.5 54.3L98.5 54.3L99.5 54.4L100.5 54.4L101.0 54.4L102.0 54.5L103.0 54.5L104.0 54.5L105.0 54.6L106.0 54.7L107.0 54.7L108.0 54.7L109.0 54.8L110.0 54.8L110.9 54.9L111.5 54.9L112.5 55.0L113.5 55.0L114.5 55.0L115.5 55.1L116.5 55.1L117.5 55.2L118.5 55.3L119.5 55.3L120.5 55.4L121.0 55.4L122.0 55.4L123.0 55.5L124.0 55.6L125.0 55.6L126.0 55.7L127.0 55.7L128.0 55.8L129.0 55.9L129.5 55.9L130.5 56.0L131.5 56.1L132.5 56.1L133.5 56.2L134.5 56.2L135.5 56.3L136.5 56.4L137.0 56.4L138.0 56.5L139.0 56.6L140.0 56.7L141.0 56.7L142.0 56.8L143.0 56.9L143.5 56.9L144.5 57.0L145.5 57.1L146.5 57.2L147.5 57.2L148.5 57.3L149.5 57.4L150.0 57.4L151.0 57.5L152.0 57.6L153.0 57.7L154.0 57.8L154.9 57.9L155.5 58.0L156.5 58.1L157.5 58.2L158.5 58.3L159.3 58.4L160.0 58.5L161.0 58.6L162.0 58.7L163.0 58.8L163.5 58.9L164.5 59.0L165.5 59.2L166.5 59.3L167.4 59.4L168.0 59.5L169.0 59.6L170.0 59.7L171.0 59.9L171.5 60.0L172.5 60.1L173.5 60.2L174.5 60.4L175.0 60.4L176.0 60.6L177.0 60.7L178.0 60.9L178.5 60.9L179.5 61.1L180.5 61.2L181.5 61.4L182.0 61.4L183.0 61.6L184.0 61.7L185.0 61.9L185.5 62.0L186.5 62.1L187.5 62.3L188.3 62.4L189.0 62.5L190.0 62.7L191.0 62.8L191.5 62.9L192.5 63.0L193.5 63.2L194.5 63.4L195.0 63.5L196.0 63.6L197.0 63.8L197.7 63.9L198.5 64.0L199.5 64.2L200.5 64.4L201.0 64.4L202.0 64.6L203.0 64.8L203.6 64.9L204.5 65.1L205.5 65.2L206.4 65.4L207.0 65.5L208.0 65.7L209.0 65.9L209.5 66.0L210.5 66.1L211.5 66.3L212.0 66.4L213.0 66.6L214.0 66.8L214.5 66.9L215.5 67.1L216.5 67.3L217.2 67.4L218.0 67.5L219.0 67.7L220.0 67.9L220.5 68.0L221.5 68.1L222.5 68.3L223.1 68.4L224.0 68.6L225.0 68.7L225.9 68.9L226.5 69.0L227.5 69.2L228.5 69.4L229.0 69.5L230.0 69.7L231.0 69.8L231.5 69.9L232.5 70.1L233.5 70.3L234.0 70.4L235.0 70.6L236.0 70.8L236.5 70.9L237.5 71.1L238.5 71.3L239.0 71.4L240.0 71.6L241.0 71.8L241.5 71.9L242.5 72.1L243.5 72.3L244.0 72.4L245.0 72.6L246.0 72.8L246.5 72.9L247.5 73.1L248.5 73.3L249.0 73.4L250.0 73.6L251.0 73.8L251.5 73.9L252.5 74.1L253.5 74.4L254.0 74.5L255.0 74.7L256.0 74.9L256.5 75.0L257.5 75.2L258.4 75.4L259.0 75.5L260.0 75.7L260.7 75.9L261.5 76.1L262.5 76.3L263.1 76.4L264.0 76.6L265.0 76.8L265.5 76.9L266.5 77.1L267.5 77.4L268.0 77.5L269.0 77.7L270.0 77.9L270.5 78.0L271.5 78.2L272.5 78.4L273.0 78.5L274.0 78.7L275.0 78.9L275.5 79.0L276.5 79.2L277.5 79.4L278.0 79.5L279.0 79.7L280.0 79.9L280.5 80.0L281.5 80.2L282.4 80.4L283.0 80.5L284.0 80.7L284.8 80.9L285.5 81.1L286.5 81.3L287.1 81.4L288.0 81.6L289.0 81.8L289.5 81.9L290.5 82.1L291.5 82.3L292.0 82.4L293.0 82.6L294.0 82.9L294.5 83.0L295.5 83.2L296.4 83.4L297.0 83.5L298.0 83.7L298.7 83.9L299.5 84.1L300.5 84.3L301.0 84.4L302.0 84.6L303.0 84.8L303.5 85.0L304.5 85.2L305.5 85.4L306.0 85.5L307.0 85.7L307.7 85.9L308.5 86.1L309.5 86.3L310.0 86.4L311.0 86.7L312.0 86.9L312.5 87.0L313.5 87.3L314.1 87.4L315.0 87.6L316.0 87.9L316.5 88.0L317.5 88.3L318.1 88.4L319.0 88.6L320.0 88.9L320.5 89.0L321.5 89.3L322.0 89.4L323.0 89.6L323.9 89.9L324.5 90.0L325.5 90.3L326.0 90.4L327.0 90.7L327.8 90.9L328.5 91.1L329.5 91.3L330.0 91.5L331.0 91.7L331.6 91.9L332.5 92.1L333.5 92.4L334.0 92.5L335.0 92.8L335.5 92.9L336.5 93.2L337.3 93.4L338.0 93.6L339.0 93.8L339.5 94.0L340.5 94.2L341.1 94.4L342.0 94.6L342.9 94.9L343.5 95.0L344.5 95.3L345.0 95.5L346.0 95.7L346.6 95.9L347.5 96.1L348.4 96.4L349.0 96.5L350.0 96.8L350.5 97.0L351.5 97.2L352.0 97.4L353.0 97.7L353.9 97.9L354.5 98.1L355.5 98.4L356.0 98.5L357.0 98.8L357.5 98.9L358.5 99.2L359.2 99.4L360.0 99.6L361.0 99.9L361.5 100.0L362.5 100.3L363.0 100.5L364.0 100.7L364.5 100.9L365.5 101.2L366.3 101.4L367.0 101.6L368.0 101.9L368.5 102.0L369.5 102.3L370.0 102.5L371.0 102.8L371.5 102.9L372.0 103.4L372.0 104.4L372.0 105.4L372.0 106.4L372.0 107.4L372.0 108.4L372.0 109.4L372.0 110.4L372.0 111.4L372.0 112.4L372.0 113.4L372.0 114.4L372.0 115.4L372.0 116.4L372.0 117.4L372.0 118.4L372.0 119.4L372.0 120.4L372.0 121.4L372.0 122.4L372.0 123.0L371.5 122.8L370.5 122.5L370.0 122.4L369.0 122.1L368.2 121.9L367.5 121.7L366.5 121.4L366.0 121.3L365.0 121.0L364.5 120.9L363.5 120.6L362.7 120.4L362.0 120.2L361.0 119.9L360.5 119.8L359.5 119.6L359.0 119.4L358.0 119.2L357.1 118.9L356.5 118.8L355.5 118.5L355.0 118.4L354.0 118.1L353.3 117.9L352.5 117.7L351.5 117.4L351.0 117.3L350.0 117.1L349.5 116.9L348.5 116.7L347.5 116.4L347.0 116.3L346.0 116.0L345.5 115.9L344.5 115.6L343.6 115.4L343.0 115.2L342.0 115.0L341.5 114.9L340.5 114.6L339.7 114.4L339.0 114.2L338.0 114.0L337.5 113.8L336.5 113.6L335.7 113.4L335.0 113.2L334.0 113.0L333.5 112.8L332.5 112.6L331.8 112.4L331.0 112.2L330.0 112.0L329.5 111.8L328.5 111.6L327.7 111.4L327.0 111.2L326.0 111.0L325.5 110.9L324.5 110.6L323.7 110.4L323.0 110.3L322.0 110.0L321.5 109.9L320.5 109.6L319.5 109.4L319.0 109.3L318.0 109.0L317.5 108.9L316.5 108.7L315.5 108.4L315.0 108.3L314.0 108.1L313.3 107.9L312.5 107.7L311.5 107.5L311.0 107.4L310.0 107.1L309.0 106.9L308.5 106.8L307.5 106.6L306.8 106.4L306.0 106.2L305.0 106.0L304.5 105.9L303.5 105.7L302.5 105.5L302.0 105.4L301.0 105.2L300.0 105.0L299.5 104.9L298.5 104.7L297.5 104.4L297.0 104.3L296.0 104.1L295.0 103.9L294.5 103.8L293.5 103.6L292.5 103.4L292.0 103.3L291.0 103.1L290.0 102.9L289.5 102.8L288.5 102.6L287.5 102.4L287.0 102.3L286.0 102.1L285.0 101.9L284.5 101.8L283.5 101.6L282.5 101.4L282.0 101.3L281.0 101.1L280.0 100.9L279.5 100.8L278.5 100.6L277.5 100.4L277.0 100.3L276.0 100.2L275.0 100.0L274.5 99.9L273.5 99.7L272.5 99.5L272.0 99.4L271.0 99.2L270.0 99.0L269.4 98.9L268.5 98.7L267.5 98.5L266.7 98.4L266.0 98.3L265.0 98.1L264.0 97.9L263.5 97.8L262.5 97.6L261.5 97.4L261.0 97.3L260.0 97.1L259.0 96.9L258.5 96.8L257.5 96.6L256.5 96.4L256.0 96.3L255.0 96.1L254.0 95.9L253.5 95.8L252.5 95.7L251.5 95.5L251.0 95.4L250.0 95.2L249.0 95.0L248.5 94.9L247.5 94.7L246.5 94.5L246.0 94.4L245.0 94.2L244.0 94.0L243.3 93.9L242.5 93.8L241.5 93.6L240.6 93.4L240.0 93.3L239.0 93.1L238.0 92.9L237.5 92.8L236.5 92.6L235.5 92.5L235.0 92.4L234.0 92.2L233.0 92.0L232.5 91.9L231.5 91.7L230.5 91.6L229.7 91.4L229.0 91.3L228.0 91.1L227.0 90.9L226.5 90.8L225.5 90.7L224.5 90.5L224.0 90.4L223.0 90.2L222.0 90.1L221.2 89.9L220.5 89.8L219.5 89.6L218.5 89.4L218.0 89.3L217.0 89.1L216.0 89.0L215.5 88.9L214.5 88.7L213.5 88.5L212.9 88.4L212.0 88.2L211.0 88.0L210.4 87.9L209.5 87.7L208.5 87.5L207.9 87.4L207.0 87.2L206.0 87.0L205.3 86.9L204.5 86.7L203.5 86.6L202.8 86.4L202.0 86.3L201.0 86.1L200.2 85.9L199.5 85.8L198.5 85.6L197.6 85.4L197.0 85.3L196.0 85.1L195.0 84.9L194.5 84.8L193.5 84.6L192.5 84.4L192.0 84.3L191.0 84.1L190.0 83.9L189.5 83.8L188.5 83.6L187.5 83.4L187.0 83.3L186.0 83.2L185.0 83.0L184.5 82.9L183.5 82.7L182.5 82.5L182.0 82.4L181.0 82.2L180.0 82.0L179.4 81.9L178.5 81.7L177.5 81.6L176.7 81.4L176.0 81.3L175.0 81.1L174.1 80.9L173.5 80.8L172.5 80.6L171.5 80.4L171.0 80.4L170.0 80.2L169.0 80.0L168.5 79.9L167.5 79.7L166.5 79.5L165.7 79.4L165.0 79.3L164.0 79.1L163.0 78.9L162.5 78.8L161.5 78.6L160.5 78.5L160.0 78.4L159.0 78.2L158.0 78.0L157.3 77.9L156.5 77.8L155.5 77.6L154.5 77.4L154.0 77.3L153.0 77.2L152.0 77.0L151.4 76.9L150.5 76.7L149.5 76.6L148.5 76.4L148.0 76.3L147.0 76.1L146.0 75.9L145.5 75.8L144.5 75.7L143.5 75.5L143.0 75.4L142.0 75.2L141.0 75.0L140.5 74.9L139.5 74.7L138.5 74.5L137.7 74.4L137.0 74.3L136.0 74.1L135.0 73.9L134.5 73.8L133.5 73.6L132.5 73.5L132.0 73.4L131.0 73.2L130.0 73.1L129.2 72.9L128.5 72.8L127.5 72.6L126.5 72.4L126.0 72.4L125.0 72.2L124.0 72.0L123.3 71.9L122.5 71.8L121.5 71.6L120.5 71.4L120.0 71.3L119.0 71.2L118.0 71.0L117.2 70.9L116.5 70.8L115.5 70.6L114.5 70.5L114.0 70.4L113.0 70.2L112.0 70.0L111.0 69.9L110.5 69.8L109.5 69.7L108.5 69.5L107.9 69.4L107.0 69.3L106.0 69.1L105.0 69.0L104.4 68.9L103.5 68.8L102.5 68.7L101.5 68.5L100.8 68.4L100.0 68.3L99.0 68.1L98.0 68.0L97.5 67.9L96.5 67.8L95.5 67.6L94.5 67.5L94.0 67.4L93.0 67.2L92.0 67.0L91.5 66.7L90.7 66.4L90.0 66.0L89.5 65.6L88.8 65.4L88.4 64.9L88.0 64.4L87.2 63.9L86.5 63.5L86.5 63.3L86.5 62.4L86.0 62.3L85.8 61.4L85.7 60.4L85.7 59.4L86.0 58.7L86.5 58.2L86.8 57.4L87.5 57.1L87.9 56.4L88.5 56.4L89.0 55.8L90.0 55.4L90.5 55.0L91.2 54.9L92.0 54.8L93.0 54.4Z" fill="#2699e9" fill-rule="evenodd" stroke="#2699e9" stroke-width="0.3"/>
<path d="M93.0 54.9L93.2 54.9L93.6 54.9L94.5 54.7L95.5 54.7L96.5 54.7L97.5 54.8L98.5 54.8L99.5 54.9L100.5 54.9L101.0 54.9L102.0 54.9L103.0 55.0L104.0 55.0L105.0 55.1L106.0 55.2L107.0 55.2L108.0 55.2L109.0 55.3L110.0 55.3L110.9 55.4L111.5 55.4L112.5 55.5L113.5 55.5L114.5 55.6L115.5 55.6L116.5 55.7L117.5 55.7L118.5 55.8L119.5 55.8L120.5 55.9L121.0 55.9L122.0 56.0L123.0 56.0L124.0 56.1L125.0 56.2L126.0 56.2L127.0 56.3L128.0 56.4L128.6 56.4L129.5 56.5L130.5 56.5L131.5 56.6L132.5 56.7L133.5 56.7L134.5 56.8L135.5 56.9L136.0 56.9L137.0 57.0L138.0 57.1L139.0 57.2L140.0 57.2L141.0 57.3L142.0 57.4L142.5 57.4L143.5 57.5L144.5 57.6L145.5 57.6L146.5 57.7L147.5 57.8L148.5 57.9L149.0 58.0L150.0 58.0L151.0 58.1L152.0 58.2L153.0 58.3L153.9 58.4L154.5 58.5L155.5 58.6L156.5 58.7L157.5 58.8L158.5 58.9L159.0 58.9L160.0 59.1L161.0 59.2L162.0 59.3L162.8 59.4L163.5 59.5L164.5 59.6L165.5 59.7L166.5 59.9L167.0 59.9L168.0 60.1L169.0 60.2L170.0 60.3L170.5 60.4L171.5 60.5L172.5 60.7L173.5 60.8L174.2 60.9L175.0 61.0L176.0 61.1L177.0 61.3L177.7 61.4L178.5 61.5L179.5 61.6L180.5 61.8L181.2 61.9L182.0 62.0L183.0 62.2L184.0 62.3L184.6 62.4L185.5 62.5L186.5 62.7L187.5 62.8L188.0 62.9L189.0 63.1L190.0 63.2L191.0 63.4L191.5 63.5L192.5 63.6L193.5 63.8L194.2 63.9L195.0 64.0L196.0 64.2L197.0 64.3L197.5 64.4L198.5 64.6L199.5 64.8L200.4 64.9L201.0 65.0L202.0 65.2L203.0 65.3L203.5 65.4L204.5 65.6L205.5 65.8L206.1 65.9L207.0 66.1L208.0 66.2L208.9 66.4L209.5 66.5L210.5 66.7L211.5 66.9L212.0 67.0L213.0 67.2L214.0 67.3L214.5 67.4L215.5 67.6L216.5 67.8L217.0 67.9L218.0 68.1L219.0 68.2L219.9 68.4L220.5 68.5L221.5 68.7L222.5 68.8L223.0 68.9L224.0 69.1L225.0 69.3L225.6 69.4L226.5 69.5L227.5 69.7L228.4 69.9L229.0 70.0L230.0 70.2L231.0 70.4L231.5 70.5L232.5 70.7L233.5 70.9L234.0 71.0L235.0 71.1L236.0 71.3L236.5 71.4L237.5 71.6L238.5 71.8L239.0 71.9L240.0 72.1L241.0 72.3L241.5 72.4L242.5 72.6L243.5 72.8L244.0 72.9L245.0 73.1L246.0 73.3L246.5 73.4L247.5 73.6L248.5 73.8L249.0 73.9L250.0 74.1L251.0 74.4L251.5 74.5L252.5 74.7L253.5 74.9L254.0 75.0L255.0 75.2L256.0 75.4L256.5 75.5L257.5 75.7L258.4 75.9L259.0 76.0L260.0 76.2L260.7 76.4L261.5 76.6L262.5 76.8L263.0 76.9L264.0 77.1L265.0 77.3L265.5 77.4L266.5 77.6L267.5 77.9L268.0 78.0L269.0 78.2L270.0 78.4L270.5 78.5L271.5 78.7L272.5 78.9L273.0 79.0L274.0 79.2L275.0 79.4L275.5 79.5L276.5 79.7L277.5 79.9L278.0 80.0L279.0 80.2L280.0 80.4L280.5 80.5L281.5 80.7L282.4 80.9L283.0 81.0L284.0 81.2L284.8 81.4L285.5 81.5L286.5 81.8L287.1 81.9L288.0 82.1L289.0 82.3L289.5 82.4L290.5 82.6L291.5 82.8L292.0 82.9L293.0 83.1L294.0 83.4L294.5 83.5L295.5 83.7L296.4 83.9L297.0 84.0L298.0 84.2L298.7 84.4L299.5 84.6L300.5 84.8L301.0 84.9L302.0 85.1L303.0 85.3L303.5 85.5L304.5 85.7L305.5 85.9L306.0 86.0L307.0 86.2L307.6 86.4L308.5 86.6L309.5 86.8L310.0 86.9L311.0 87.1L312.0 87.4L312.5 87.5L313.5 87.8L314.1 87.9L315.0 88.1L316.0 88.4L316.5 88.5L317.5 88.8L318.0 88.9L319.0 89.1L320.0 89.4L320.5 89.5L321.5 89.8L322.0 89.9L323.0 90.2L323.9 90.4L324.5 90.5L325.5 90.8L326.0 90.9L327.0 91.2L327.8 91.4L328.5 91.6L329.5 91.8L330.0 92.0L331.0 92.2L331.6 92.4L332.5 92.6L333.5 92.9L334.0 93.0L335.0 93.3L335.5 93.4L336.5 93.7L337.3 93.9L338.0 94.1L339.0 94.4L339.5 94.5L340.5 94.8L341.0 94.9L342.0 95.2L342.9 95.4L343.5 95.6L344.5 95.8L345.0 96.0L346.0 96.2L346.6 96.4L347.5 96.6L348.4 96.9L349.0 97.1L350.0 97.3L350.5 97.5L351.5 97.7L352.0 97.9L353.0 98.2L353.8 98.4L354.5 98.6L355.5 98.9L356.0 99.0L357.0 99.3L357.5 99.4L358.5 99.7L359.2 99.9L360.0 100.1L360.9 100.4L361.5 100.5L362.5 100.8L363.0 101.0L364.0 101.3L364.5 101.4L365.5 101.7L366.2 101.9L367.0 102.1L368.0 102.4L368.5 102.5L369.5 102.8L370.0 103.0L371.0 103.3L371.5 103.4L372.0 103.9L372.0 104.9L372.0 105.9L372.0 106.9L372.0 107.9L372.0 108.9L372.0 109.9L372.0 110.9L372.0 111.9L372.0 112.9L372.0 113.9L372.0 114.9L372.0 115.9L372.0 116.9L372.0 117.9L372.0 118.9L372.0 119.9L372.0 120.9L372.0 121.9L372.0 122.4L371.5 122.3L370.5 122.0L370.0 121.9L369.0 121.6L368.3 121.4L367.5 121.2L366.5 120.9L366.0 120.8L365.0 120.5L364.5 120.4L363.5 120.1L362.8 119.9L362.0 119.7L361.0 119.4L360.5 119.3L359.5 119.0L359.0 118.9L358.0 118.6L357.1 118.4L356.5 118.2L355.5 118.0L355.0 117.8L354.0 117.6L353.3 117.4L352.5 117.2L351.5 116.9L351.0 116.8L350.0 116.5L349.5 116.4L348.5 116.2L347.5 115.9L347.0 115.8L346.0 115.5L345.5 115.4L344.5 115.1L343.7 114.9L343.0 114.7L342.0 114.5L341.5 114.3L340.5 114.1L339.7 113.9L339.0 113.7L338.0 113.5L337.5 113.3L336.5 113.1L335.8 112.9L335.0 112.7L334.0 112.5L333.5 112.3L332.5 112.1L331.8 111.9L331.0 111.7L330.0 111.4L329.5 111.3L328.5 111.1L327.8 110.9L327.0 110.7L326.0 110.5L325.5 110.4L324.5 110.1L323.7 109.9L323.0 109.7L322.0 109.5L321.5 109.4L320.5 109.1L319.6 108.9L319.0 108.8L318.0 108.5L317.5 108.4L316.5 108.2L315.5 107.9L315.0 107.8L314.0 107.6L313.3 107.4L312.5 107.2L311.5 107.0L311.0 106.9L310.0 106.6L309.1 106.4L308.5 106.3L307.5 106.0L306.8 105.9L306.0 105.7L305.0 105.5L304.5 105.4L303.5 105.2L302.5 105.0L302.0 104.9L301.0 104.7L300.0 104.5L299.5 104.4L298.5 104.2L297.5 103.9L297.0 103.8L296.0 103.6L295.0 103.4L294.5 103.3L293.5 103.1L292.5 102.9L292.0 102.8L291.0 102.6L290.0 102.4L289.5 102.3L288.5 102.1L287.5 101.9L287.0 101.8L286.0 101.6L285.0 101.4L284.5 101.3L283.5 101.1L282.5 100.9L282.0 100.8L281.0 100.6L280.0 100.4L279.5 100.3L278.5 100.1L277.5 99.9L277.0 99.9L276.0 99.7L275.0 99.5L274.5 99.4L273.5 99.2L272.5 99.0L272.0 98.9L271.0 98.7L270.0 98.5L269.4 98.4L268.5 98.2L267.5 98.1L266.7 97.9L266.0 97.8L265.0 97.6L264.0 97.4L263.5 97.3L262.5 97.1L261.5 96.9L261.0 96.8L260.0 96.6L259.0 96.4L258.5 96.3L257.5 96.1L256.5 95.9L256.0 95.8L255.0 95.6L254.0 95.4L253.5 95.3L252.5 95.2L251.5 95.0L251.0 94.9L250.0 94.7L249.0 94.5L248.5 94.4L247.5 94.2L246.5 94.0L246.0 93.9L245.0 93.7L244.0 93.5L243.4 93.4L242.5 93.2L241.5 93.0L240.8 92.9L240.0 92.8L239.0 92.6L238.1 92.4L237.5 92.3L236.5 92.1L235.5 91.9L235.0 91.8L234.0 91.7L233.0 91.5L232.5 91.4L231.5 91.2L230.5 91.0L229.9 90.9L229.0 90.8L228.0 90.6L227.1 90.4L226.5 90.3L225.5 90.1L224.5 89.9L224.0 89.9L223.0 89.7L222.0 89.5L221.5 89.4L220.5 89.2L219.5 89.0L218.7 88.9L218.0 88.8L217.0 88.6L216.0 88.4L215.5 88.3L214.5 88.1L213.5 88.0L213.0 87.9L212.0 87.7L211.0 87.5L210.5 87.4L209.5 87.2L208.5 87.0L208.0 86.9L207.0 86.7L206.0 86.5L205.5 86.4L204.5 86.2L203.5 86.0L203.0 85.9L202.0 85.7L201.0 85.5L200.4 85.4L199.5 85.2L198.5 85.0L197.9 84.9L197.0 84.7L196.0 84.5L195.3 84.4L194.5 84.2L193.5 84.0L192.8 83.9L192.0 83.8L191.0 83.6L190.2 83.4L189.5 83.3L188.5 83.1L187.6 82.9L187.0 82.8L186.0 82.6L185.0 82.4L184.5 82.3L183.5 82.1L182.5 81.9L182.0 81.8L181.0 81.6L180.0 81.5L179.5 81.4L178.5 81.2L177.5 81.0L177.0 80.9L176.0 80.7L175.0 80.5L174.4 80.4L173.5 80.2L172.5 80.0L171.7 79.9L171.0 79.8L170.0 79.6L169.0 79.4L168.5 79.3L167.5 79.1L166.5 79.0L166.0 78.9L165.0 78.7L164.0 78.5L163.5 78.4L162.5 78.2L161.5 78.1L160.6 77.9L160.0 77.8L159.0 77.6L158.0 77.4L157.5 77.4L156.5 77.2L155.5 77.0L154.9 76.9L154.0 76.7L153.0 76.6L152.0 76.4L151.5 76.3L150.5 76.2L149.5 76.0L149.0 75.9L148.0 75.7L147.0 75.5L146.4 75.4L145.5 75.2L144.5 75.1L143.8 74.9L143.0 74.8L142.0 74.6L141.0 74.4L140.5 74.3L139.5 74.1L138.5 73.9L138.0 73.9L137.0 73.7L136.0 73.5L135.3 73.4L134.5 73.2L133.5 73.1L132.5 72.9L132.0 72.8L131.0 72.7L130.0 72.5L129.5 72.4L128.5 72.2L127.5 72.1L126.6 71.9L126.0 71.8L125.0 71.6L124.0 71.5L123.5 71.4L122.5 71.2L121.5 71.1L120.5 70.9L120.0 70.8L119.0 70.7L118.0 70.5L117.4 70.4L116.5 70.3L115.5 70.1L114.5 69.9L114.0 69.9L113.0 69.7L112.0 69.5L111.0 69.4L110.5 69.3L109.5 69.2L108.5 69.0L107.8 68.9L107.0 68.8L106.0 68.6L105.0 68.5L104.4 68.4L103.5 68.3L102.5 68.2L101.5 68.0L100.7 67.9L100.0 67.8L99.0 67.6L98.0 67.5L97.3 67.4L96.5 67.3L95.5 67.2L94.5 67.0L93.9 66.9L93.0 66.7L92.0 66.5L91.5 66.2L91.0 65.9L90.0 65.5L89.5 65.0L89.0 64.9L88.5 64.4L88.0 63.6L87.4 63.4L87.0 62.5L86.8 61.9L86.6 60.9L86.6 59.9L86.8 58.9L87.0 58.1L87.6 57.9L88.0 57.1L88.7 56.9L89.1 56.4L90.0 56.0L90.5 55.6L91.3 55.4L92.0 55.2L93.0 54.9Z" fill="#2b91ef" fill-rule="evenodd" stroke="#2b91ef" stroke-width="0.3"/>
<path d="M92.9 55.4L93.5 55.4L94.5 55.1L95.5 55.1L96.5 55.2L97.5 55.2L98.5 55.3L99.5 55.3L100.5 55.3L101.5 55.4L102.3 55.4L103.0 55.4L104.0 55.5L105.0 55.5L106.0 55.6L107.0 55.6L108.0 55.7L109.0 55.7L110.0 55.8L111.0 55.9L112.0 55.9L112.5 55.9L113.5 56.0L114.5 56.0L115.5 56.1L116.5 56.2L117.5 56.2L118.5 56.2L119.5 56.3L120.5 56.4L121.0 56.4L122.0 56.5L123.0 56.5L124.0 56.6L125.0 56.7L126.0 56.7L127.0 56.8L128.0 56.9L128.6 56.9L129.5 57.0L130.5 57.0L131.5 57.1L132.5 57.2L133.5 57.2L134.5 57.3L135.5 57.4L136.0 57.4L137.0 57.5L138.0 57.6L139.0 57.7L140.0 57.7L141.0 57.8L142.0 57.9L142.5 57.9L143.5 58.0L144.5 58.1L145.5 58.2L146.5 58.3L147.5 58.3L148.0 58.4L149.0 58.5L150.0 58.5L151.0 58.6L152.0 58.7L153.0 58.8L153.7 58.9L154.5 59.0L155.5 59.1L156.5 59.2L157.5 59.3L158.2 59.4L159.0 59.5L160.0 59.6L161.0 59.7L162.0 59.8L162.6 59.9L163.5 60.0L164.5 60.1L165.5 60.3L166.5 60.4L167.0 60.5L168.0 60.6L169.0 60.7L170.0 60.8L170.5 60.9L171.5 61.0L172.5 61.2L173.5 61.3L174.1 61.4L175.0 61.5L176.0 61.7L177.0 61.8L177.7 61.9L178.5 62.0L179.5 62.2L180.5 62.3L181.2 62.4L182.0 62.5L183.0 62.7L184.0 62.8L184.5 62.9L185.5 63.0L186.5 63.2L187.5 63.3L188.0 63.4L189.0 63.6L190.0 63.7L191.0 63.9L191.5 64.0L192.5 64.1L193.5 64.3L194.3 64.4L195.0 64.5L196.0 64.7L197.0 64.8L197.5 64.9L198.5 65.1L199.5 65.2L200.5 65.4L201.0 65.5L202.0 65.7L203.0 65.8L203.5 65.9L204.5 66.1L205.5 66.3L206.2 66.4L207.0 66.5L208.0 66.7L208.9 66.9L209.5 67.0L210.5 67.2L211.5 67.4L212.0 67.5L213.0 67.6L214.0 67.8L214.5 67.9L215.5 68.1L216.5 68.3L217.1 68.4L218.0 68.6L219.0 68.7L220.0 68.9L220.5 69.0L221.5 69.1L222.5 69.3L223.0 69.4L224.0 69.6L225.0 69.8L225.8 69.9L226.5 70.0L227.5 70.2L228.5 70.4L229.0 70.5L230.0 70.7L231.0 70.9L231.5 71.0L232.5 71.1L233.5 71.3L234.0 71.4L235.0 71.6L236.0 71.8L236.5 71.9L237.5 72.1L238.5 72.3L239.0 72.4L240.0 72.6L241.0 72.8L241.6 72.9L242.5 73.1L243.5 73.3L244.1 73.4L245.0 73.6L246.0 73.8L246.6 73.9L247.5 74.1L248.5 74.3L249.0 74.4L250.0 74.6L251.0 74.8L251.5 74.9L252.5 75.1L253.5 75.3L254.0 75.4L255.0 75.6L256.0 75.8L256.5 75.9L257.5 76.2L258.5 76.4L259.0 76.5L260.0 76.7L261.0 76.9L261.5 77.0L262.5 77.2L263.3 77.4L264.0 77.5L265.0 77.8L265.6 77.9L266.5 78.1L267.5 78.3L268.0 78.4L269.0 78.6L270.0 78.8L270.5 78.9L271.5 79.1L272.5 79.3L273.0 79.4L274.0 79.6L275.0 79.8L275.5 79.9L276.5 80.1L277.5 80.3L278.0 80.4L279.0 80.6L280.0 80.8L280.5 80.9L281.5 81.1L282.5 81.3L283.0 81.5L284.0 81.7L285.0 81.9L285.5 82.0L286.5 82.2L287.5 82.4L288.0 82.5L289.0 82.7L289.8 82.9L290.5 83.0L291.5 83.2L292.1 83.4L293.0 83.6L294.0 83.8L294.5 83.9L295.5 84.1L296.5 84.3L297.0 84.5L298.0 84.7L299.0 84.9L299.5 85.0L300.5 85.2L301.3 85.4L302.0 85.5L303.0 85.8L303.5 85.9L304.5 86.1L305.5 86.3L306.0 86.5L307.0 86.7L308.0 86.9L308.5 87.0L309.5 87.2L310.2 87.4L311.0 87.6L312.0 87.8L312.5 87.9L313.5 88.2L314.3 88.4L315.0 88.6L316.0 88.8L316.5 88.9L317.5 89.2L318.3 89.4L319.0 89.6L320.0 89.8L320.5 90.0L321.5 90.2L322.2 90.4L323.0 90.6L324.0 90.9L324.5 91.0L325.5 91.2L326.1 91.4L327.0 91.6L328.0 91.9L328.5 92.0L329.5 92.3L330.0 92.4L331.0 92.7L331.8 92.9L332.5 93.1L333.5 93.3L334.0 93.5L335.0 93.7L335.6 93.9L336.5 94.1L337.5 94.4L338.0 94.5L339.0 94.8L339.5 94.9L340.5 95.2L341.3 95.4L342.0 95.6L343.0 95.9L343.5 96.0L344.5 96.3L345.0 96.4L346.0 96.7L346.8 96.9L347.5 97.1L348.5 97.4L349.0 97.5L350.0 97.8L350.5 97.9L351.5 98.2L352.2 98.4L353.0 98.6L354.0 98.9L354.5 99.0L355.5 99.3L356.0 99.5L357.0 99.7L357.6 99.9L358.5 100.1L359.4 100.4L360.0 100.6L361.0 100.9L361.5 101.0L362.5 101.3L363.0 101.4L364.0 101.7L364.7 101.9L365.5 102.1L366.4 102.4L367.0 102.6L368.0 102.9L368.5 103.0L369.5 103.3L370.0 103.4L371.0 103.7L371.6 103.9L372.0 104.4L372.0 105.4L372.0 106.4L372.0 107.4L372.0 108.4L372.0 109.4L372.0 110.4L372.0 111.4L372.0 112.4L372.0 113.4L372.0 114.4L372.0 115.4L372.0 116.4L372.0 117.4L372.0 118.4L372.0 119.4L372.0 120.4L372.0 121.4L372.0 122.0L371.5 121.8L370.5 121.6L369.9 121.4L369.0 121.2L368.1 120.9L367.5 120.7L366.5 120.5L366.0 120.3L365.0 120.1L364.4 119.9L363.5 119.7L362.6 119.4L362.0 119.3L361.0 119.0L360.5 118.9L359.5 118.6L358.8 118.4L358.0 118.2L357.0 117.9L356.5 117.8L355.5 117.5L355.0 117.4L354.0 117.1L353.1 116.9L352.5 116.8L351.5 116.5L351.0 116.4L350.0 116.1L349.3 115.9L348.5 115.7L347.5 115.5L347.0 115.3L346.0 115.1L345.4 114.9L344.5 114.7L343.5 114.4L343.0 114.3L342.0 114.0L341.5 113.9L340.5 113.7L339.5 113.4L339.0 113.3L338.0 113.0L337.5 112.9L336.5 112.7L335.5 112.4L335.0 112.3L334.0 112.0L333.5 111.9L332.5 111.6L331.5 111.4L331.0 111.3L330.0 111.0L329.5 110.9L328.5 110.7L327.5 110.4L327.0 110.3L326.0 110.0L325.5 109.9L324.5 109.7L323.5 109.4L323.0 109.3L322.0 109.1L321.4 108.9L320.5 108.7L319.5 108.5L319.0 108.3L318.0 108.1L317.2 107.9L316.5 107.7L315.5 107.5L315.0 107.4L314.0 107.1L313.0 106.9L312.5 106.8L311.5 106.5L310.9 106.4L310.0 106.2L309.0 105.9L308.5 105.8L307.5 105.6L306.5 105.4L306.0 105.3L305.0 105.1L304.1 104.9L303.5 104.8L302.5 104.6L301.8 104.4L301.0 104.2L300.0 104.0L299.4 103.9L298.5 103.7L297.5 103.5L297.0 103.4L296.0 103.2L295.0 103.0L294.5 102.9L293.5 102.7L292.5 102.5L292.0 102.4L291.0 102.2L290.0 102.0L289.5 101.9L288.5 101.7L287.5 101.5L287.0 101.4L286.0 101.2L285.0 101.0L284.5 100.9L283.5 100.7L282.5 100.5L282.0 100.4L281.0 100.2L280.0 100.0L279.5 99.9L278.5 99.7L277.5 99.5L276.9 99.4L276.0 99.2L275.0 99.0L274.3 98.9L273.5 98.8L272.5 98.6L271.6 98.4L271.0 98.3L270.0 98.1L269.0 97.9L268.5 97.8L267.5 97.6L266.5 97.4L266.0 97.3L265.0 97.2L264.0 97.0L263.5 96.9L262.5 96.7L261.5 96.5L261.0 96.4L260.0 96.2L259.0 96.0L258.5 95.9L257.5 95.7L256.5 95.5L256.0 95.4L255.0 95.2L254.0 95.0L253.5 94.9L252.5 94.7L251.5 94.5L251.0 94.4L250.0 94.2L249.0 94.0L248.4 93.9L247.5 93.7L246.5 93.5L245.8 93.4L245.0 93.3L244.0 93.1L243.2 92.9L242.5 92.8L241.5 92.6L240.5 92.4L240.0 92.3L239.0 92.1L238.0 91.9L237.5 91.8L236.5 91.7L235.5 91.5L235.0 91.4L234.0 91.2L233.0 91.0L232.4 90.9L231.5 90.7L230.5 90.6L229.7 90.4L229.0 90.3L228.0 90.1L227.0 89.9L226.5 89.8L225.5 89.7L224.5 89.5L224.0 89.4L223.0 89.2L222.0 89.0L221.3 88.9L220.5 88.7L219.5 88.6L218.6 88.4L218.0 88.3L217.0 88.1L216.0 87.9L215.5 87.8L214.5 87.7L213.5 87.5L213.0 87.4L212.0 87.2L211.0 87.0L210.5 86.9L209.5 86.7L208.5 86.5L208.0 86.4L207.0 86.2L206.0 86.0L205.5 85.9L204.5 85.7L203.5 85.5L203.0 85.4L202.0 85.2L201.0 85.0L200.4 84.9L199.5 84.7L198.5 84.5L197.8 84.4L197.0 84.2L196.0 84.0L195.3 83.9L194.5 83.8L193.5 83.5L192.7 83.4L192.0 83.3L191.0 83.1L190.2 82.9L189.5 82.8L188.5 82.6L187.6 82.4L187.0 82.3L186.0 82.1L185.0 81.9L184.5 81.8L183.5 81.6L182.5 81.4L182.0 81.3L181.0 81.1L180.0 81.0L179.5 80.9L178.5 80.7L177.5 80.5L177.0 80.4L176.0 80.2L175.0 80.0L174.4 79.9L173.5 79.7L172.5 79.5L171.7 79.4L171.0 79.3L170.0 79.1L169.0 78.9L168.5 78.8L167.5 78.6L166.5 78.4L166.0 78.3L165.0 78.2L164.0 78.0L163.5 77.9L162.5 77.7L161.5 77.5L160.8 77.4L160.0 77.3L159.0 77.1L158.1 76.9L157.5 76.8L156.5 76.6L155.5 76.5L155.0 76.4L154.0 76.2L153.0 76.0L152.2 75.9L151.5 75.8L150.5 75.6L149.5 75.4L149.0 75.3L148.0 75.2L147.0 75.0L146.5 74.9L145.5 74.7L144.5 74.5L143.9 74.4L143.0 74.2L142.0 74.1L141.2 73.9L140.5 73.8L139.5 73.6L138.5 73.4L138.0 73.4L137.0 73.2L136.0 73.0L135.5 72.9L134.5 72.7L133.5 72.6L132.5 72.4L132.0 72.3L131.0 72.1L130.0 72.0L129.5 71.9L128.5 71.7L127.5 71.6L126.7 71.4L126.0 71.3L125.0 71.1L124.0 71.0L123.5 70.9L122.5 70.7L121.5 70.6L120.5 70.4L120.0 70.3L119.0 70.2L118.0 70.0L117.3 69.9L116.5 69.8L115.5 69.6L114.5 69.4L114.0 69.4L113.0 69.2L112.0 69.1L111.0 68.9L110.5 68.8L109.5 68.7L108.5 68.6L107.5 68.4L107.0 68.3L106.0 68.2L105.0 68.1L104.1 67.9L103.5 67.8L102.5 67.7L101.5 67.6L100.5 67.4L100.0 67.3L99.0 67.2L98.0 67.1L97.0 66.9L96.5 66.9L95.5 66.7L94.5 66.6L93.7 66.4L93.0 66.3L92.2 65.9L91.5 65.7L91.0 65.4L90.0 64.9L89.5 64.4L89.0 64.3L88.5 63.6L88.1 62.9L87.5 62.6L87.2 61.9L87.1 60.9L87.5 60.4L87.6 59.4L87.9 58.4L88.5 58.0L88.9 57.4L89.2 56.9L90.0 56.6L90.5 56.1L91.4 55.9L92.0 55.5L92.9 55.4Z" fill="#2d89f5" fill-rule="evenodd" stroke="#2d89f5" stroke-width="0.3"/>
<path d="M92.8 55.9L93.5 55.8L94.5 55.6L95.5 55.5L96.5 55.6L97.5 55.6L98.5 55.7L99.5 55.7L100.5 55.7L101.5 55.8L102.5 55.8L103.5 55.9L104.0 55.9L105.0 56.0L106.0 56.0L107.0 56.1L108.0 56.1L109.0 56.2L110.0 56.2L111.0 56.3L112.0 56.3L113.0 56.4L113.5 56.4L114.5 56.5L115.5 56.5L116.5 56.6L117.5 56.7L118.5 56.7L119.5 56.8L120.5 56.8L121.4 56.9L122.0 56.9L123.0 57.0L124.0 57.1L125.0 57.1L126.0 57.2L127.0 57.3L128.0 57.3L128.8 57.4L129.5 57.4L130.5 57.5L131.5 57.6L132.5 57.6L133.5 57.7L134.5 57.8L135.5 57.9L136.0 57.9L137.0 58.0L138.0 58.1L139.0 58.1L140.0 58.2L141.0 58.3L142.0 58.4L142.5 58.4L143.5 58.5L144.5 58.6L145.5 58.7L146.5 58.8L147.5 58.8L148.0 58.9L149.0 59.0L150.0 59.0L151.0 59.1L152.0 59.2L153.0 59.3L153.7 59.4L154.5 59.5L155.5 59.6L156.5 59.7L157.5 59.8L158.3 59.9L159.0 60.0L160.0 60.1L161.0 60.2L162.0 60.3L162.7 60.4L163.5 60.5L164.5 60.6L165.5 60.7L166.5 60.9L167.0 60.9L168.0 61.1L169.0 61.2L170.0 61.3L170.6 61.4L171.5 61.5L172.5 61.6L173.5 61.8L174.3 61.9L175.0 62.0L176.0 62.1L177.0 62.3L178.0 62.4L178.5 62.5L179.5 62.6L180.5 62.7L181.5 62.9L182.0 63.0L183.0 63.1L184.0 63.3L184.9 63.4L185.5 63.5L186.5 63.6L187.5 63.8L188.2 63.9L189.0 64.0L190.0 64.2L191.0 64.3L191.5 64.4L192.5 64.6L193.5 64.7L194.5 64.9L195.0 65.0L196.0 65.1L197.0 65.3L197.7 65.4L198.5 65.5L199.5 65.7L200.5 65.8L201.0 65.9L202.0 66.1L203.0 66.3L203.7 66.4L204.5 66.5L205.5 66.7L206.5 66.9L207.0 67.0L208.0 67.2L209.0 67.3L209.5 67.4L210.5 67.6L211.5 67.8L212.0 67.9L213.0 68.1L214.0 68.3L214.7 68.4L215.5 68.5L216.5 68.7L217.5 68.9L218.0 69.0L219.0 69.2L220.0 69.3L220.5 69.4L221.5 69.6L222.5 69.7L223.3 69.9L224.0 70.0L225.0 70.2L226.0 70.4L226.5 70.4L227.5 70.6L228.5 70.8L229.0 70.9L230.0 71.1L231.0 71.3L231.6 71.4L232.5 71.6L233.5 71.7L234.3 71.9L235.0 72.0L236.0 72.2L236.9 72.4L237.5 72.5L238.5 72.7L239.4 72.9L240.0 73.0L241.0 73.2L242.0 73.4L242.5 73.5L243.5 73.7L244.5 73.9L245.0 74.0L246.0 74.2L247.0 74.4L247.5 74.5L248.5 74.7L249.5 74.9L250.0 75.0L251.0 75.2L252.0 75.4L252.5 75.5L253.5 75.7L254.4 75.9L255.0 76.0L256.0 76.2L256.8 76.4L257.5 76.5L258.5 76.8L259.2 76.9L260.0 77.1L261.0 77.3L261.5 77.4L262.5 77.6L263.5 77.8L264.0 77.9L265.0 78.1L266.0 78.4L266.5 78.5L267.5 78.7L268.5 78.9L269.0 79.0L270.0 79.2L271.0 79.4L271.5 79.5L272.5 79.7L273.5 79.9L274.0 80.0L275.0 80.2L276.0 80.4L276.5 80.5L277.5 80.7L278.5 80.9L279.0 81.0L280.0 81.2L280.9 81.4L281.5 81.5L282.5 81.7L283.3 81.9L284.0 82.0L285.0 82.2L285.7 82.4L286.5 82.6L287.5 82.8L288.1 82.9L289.0 83.1L290.0 83.3L290.5 83.4L291.5 83.6L292.5 83.9L293.0 84.0L294.0 84.2L295.0 84.4L295.5 84.5L296.5 84.7L297.3 84.9L298.0 85.0L299.0 85.3L299.6 85.4L300.5 85.6L301.5 85.8L302.0 85.9L303.0 86.2L304.0 86.4L304.5 86.5L305.5 86.7L306.3 86.9L307.0 87.1L308.0 87.3L308.5 87.4L309.5 87.6L310.5 87.9L311.0 88.0L312.0 88.2L312.8 88.4L313.5 88.6L314.5 88.8L315.0 89.0L316.0 89.2L316.8 89.4L317.5 89.6L318.5 89.8L319.0 90.0L320.0 90.2L320.7 90.4L321.5 90.6L322.5 90.9L323.0 91.0L324.0 91.2L324.6 91.4L325.5 91.6L326.5 91.9L327.0 92.0L328.0 92.3L328.5 92.4L329.5 92.7L330.4 92.9L331.0 93.1L332.0 93.3L332.5 93.5L333.5 93.7L334.2 93.9L335.0 94.1L336.0 94.4L336.5 94.5L337.5 94.8L338.0 94.9L339.0 95.2L339.8 95.4L340.5 95.6L341.5 95.9L342.0 96.0L343.0 96.3L343.5 96.4L344.5 96.7L345.4 96.9L346.0 97.1L347.0 97.3L347.5 97.5L348.5 97.8L349.0 97.9L350.0 98.2L350.8 98.4L351.5 98.6L352.5 98.9L353.0 99.0L354.0 99.3L354.5 99.4L355.5 99.7L356.2 99.9L357.0 100.1L358.0 100.4L358.5 100.5L359.5 100.8L360.0 101.0L361.0 101.2L361.5 101.4L362.5 101.7L363.3 101.9L364.0 102.1L365.0 102.4L365.5 102.5L366.5 102.8L367.0 103.0L368.0 103.3L368.5 103.4L369.5 103.7L370.2 103.9L371.0 104.1L371.9 104.4L372.0 104.9L372.0 105.9L372.0 106.9L372.0 107.9L372.0 108.9L372.0 109.9L372.0 110.9L372.0 111.9L372.0 112.9L372.0 113.9L372.0 114.9L372.0 115.9L372.0 116.9L372.0 117.9L372.0 118.9L372.0 119.9L372.0 120.9L372.0 121.6L371.3 121.4L370.5 121.2L369.5 120.9L369.0 120.8L368.0 120.5L367.5 120.3L366.5 120.1L366.0 119.9L365.0 119.7L364.0 119.4L363.5 119.3L362.5 119.0L362.0 118.8L361.0 118.6L360.3 118.4L359.5 118.2L358.5 117.9L358.0 117.8L357.0 117.5L356.5 117.4L355.5 117.1L354.6 116.9L354.0 116.7L353.0 116.5L352.5 116.4L351.5 116.1L350.8 115.9L350.0 115.7L349.0 115.4L348.5 115.3L347.5 115.1L346.9 114.9L346.0 114.7L345.0 114.4L344.5 114.3L343.5 114.0L343.0 113.9L342.0 113.7L341.0 113.4L340.5 113.3L339.5 113.0L339.0 112.9L338.0 112.6L337.1 112.4L336.5 112.3L335.5 112.0L335.0 111.9L334.0 111.6L333.1 111.4L332.5 111.3L331.5 111.0L331.0 110.9L330.0 110.6L329.1 110.4L328.5 110.3L327.5 110.0L327.0 109.9L326.0 109.7L325.0 109.4L324.5 109.3L323.5 109.0L323.0 108.9L322.0 108.7L321.0 108.4L320.5 108.3L319.5 108.1L318.8 107.9L318.0 107.7L317.0 107.5L316.5 107.3L315.5 107.1L314.6 106.9L314.0 106.8L313.0 106.5L312.5 106.4L311.5 106.2L310.5 105.9L310.0 105.8L309.0 105.6L308.3 105.4L307.5 105.2L306.5 105.0L306.0 104.9L305.0 104.7L304.0 104.5L303.5 104.4L302.5 104.2L301.5 104.0L301.0 103.9L300.0 103.7L299.0 103.4L298.5 103.3L297.5 103.1L296.5 102.9L296.0 102.8L295.0 102.6L294.0 102.4L293.5 102.3L292.5 102.1L291.5 101.9L291.0 101.8L290.0 101.6L289.0 101.4L288.5 101.3L287.5 101.1L286.5 100.9L286.0 100.8L285.0 100.6L284.0 100.4L283.5 100.3L282.5 100.1L281.5 99.9L281.0 99.8L280.0 99.6L279.0 99.4L278.5 99.3L277.5 99.1L276.5 99.0L276.0 98.8L275.0 98.7L274.0 98.5L273.5 98.4L272.5 98.2L271.5 98.0L271.0 97.9L270.0 97.7L269.0 97.5L268.3 97.4L267.5 97.3L266.5 97.1L265.6 96.9L265.0 96.8L264.0 96.6L263.0 96.4L262.5 96.3L261.5 96.1L260.5 95.9L260.0 95.8L259.0 95.6L258.0 95.4L257.5 95.3L256.5 95.1L255.5 94.9L255.0 94.8L254.0 94.6L253.0 94.4L252.5 94.3L251.5 94.1L250.5 93.9L250.0 93.8L249.0 93.6L248.0 93.4L247.5 93.3L246.5 93.1L245.5 92.9L245.0 92.8L244.0 92.7L243.0 92.5L242.5 92.4L241.5 92.2L240.5 92.0L240.0 91.9L239.0 91.7L238.0 91.5L237.4 91.4L236.5 91.2L235.5 91.1L234.7 90.9L234.0 90.8L233.0 90.6L232.0 90.4L231.5 90.3L230.5 90.1L229.5 89.9L229.0 89.9L228.0 89.7L227.0 89.5L226.5 89.4L225.5 89.2L224.5 89.0L223.7 88.9L223.0 88.8L222.0 88.6L221.0 88.4L220.5 88.3L219.5 88.1L218.5 88.0L218.0 87.9L217.0 87.7L216.0 87.5L215.5 87.4L214.5 87.2L213.5 87.1L212.8 86.9L212.0 86.8L211.0 86.6L210.3 86.4L209.5 86.3L208.5 86.1L207.7 85.9L207.0 85.8L206.0 85.6L205.2 85.4L204.5 85.3L203.5 85.1L202.7 84.9L202.0 84.8L201.0 84.6L200.1 84.4L199.5 84.3L198.5 84.1L197.5 83.9L197.0 83.8L196.0 83.6L195.0 83.4L194.5 83.3L193.5 83.1L192.5 82.9L192.0 82.8L191.0 82.6L190.0 82.4L189.5 82.3L188.5 82.1L187.5 81.9L187.0 81.8L186.0 81.6L185.0 81.4L184.5 81.3L183.5 81.2L182.5 81.0L182.0 80.9L181.0 80.7L180.0 80.5L179.5 80.4L178.5 80.2L177.5 80.0L176.9 79.9L176.0 79.7L175.0 79.5L174.2 79.4L173.5 79.3L172.5 79.1L171.6 78.9L171.0 78.8L170.0 78.6L169.0 78.4L168.5 78.3L167.5 78.1L166.5 78.0L166.0 77.9L165.0 77.7L164.0 77.5L163.5 77.4L162.5 77.2L161.5 77.1L160.8 76.9L160.0 76.8L159.0 76.6L158.0 76.4L157.5 76.3L156.5 76.1L155.5 76.0L155.0 75.9L154.0 75.7L153.0 75.5L152.3 75.4L151.5 75.3L150.5 75.1L149.5 74.9L149.0 74.8L148.0 74.7L147.0 74.5L146.5 74.4L145.5 74.2L144.5 74.0L143.9 73.9L143.0 73.8L142.0 73.6L141.1 73.4L140.5 73.3L139.5 73.1L138.5 72.9L138.0 72.9L137.0 72.7L136.0 72.5L135.5 72.4L134.5 72.2L133.5 72.1L132.5 71.9L132.0 71.8L131.0 71.7L130.0 71.5L129.5 71.4L128.5 71.3L127.5 71.1L126.5 70.9L126.0 70.8L125.0 70.7L124.0 70.5L123.3 70.4L122.5 70.3L121.5 70.1L120.5 70.0L120.0 69.9L119.0 69.7L118.0 69.6L117.1 69.4L116.5 69.3L115.5 69.2L114.5 69.0L113.7 68.9L113.0 68.8L112.0 68.6L111.0 68.5L110.5 68.4L109.5 68.3L108.5 68.1L107.5 68.0L107.0 67.9L106.0 67.8L105.0 67.6L104.0 67.5L103.4 67.4L102.5 67.3L101.5 67.1L100.5 67.0L99.9 66.9L99.0 66.8L98.0 66.7L97.0 66.5L96.3 66.4L95.5 66.3L94.5 66.2L93.5 65.9L93.0 65.8L92.2 65.4L91.5 65.3L91.0 64.9L90.5 64.4L89.6 63.9L89.0 63.7L88.5 62.9L88.3 62.4L88.0 61.4L87.5 61.2L87.5 60.9L87.9 59.9L88.0 59.4L88.3 58.4L89.0 58.0L89.4 57.4L90.0 57.2L90.5 56.7L91.4 56.4L92.0 56.0L92.8 55.9Z" fill="#2f81fa" fill-rule="evenodd" stroke="#2f81fa" stroke-width="0.3"/>
<path d="M92.7 56.4L93.5 56.3L94.5 56.0L95.5 55.9L96.5 56.0L97.5 56.0L98.5 56.1L99.5 56.1L100.5 56.1L101.5 56.2L102.5 56.2L103.5 56.3L104.5 56.3L105.5 56.4L106.0 56.4L107.0 56.5L108.0 56.5L109.0 56.6L110.0 56.7L111.0 56.7L112.0 56.8L113.0 56.8L114.0 56.9L114.5 56.9L115.5 57.0L116.5 57.0L117.5 57.1L118.5 57.1L119.5 57.2L120.5 57.3L121.5 57.4L122.5 57.4L123.0 57.4L124.0 57.5L125.0 57.6L126.0 57.6L127.0 57.7L128.0 57.8L129.0 57.9L129.8 57.9L130.5 58.0L131.5 58.0L132.5 58.1L133.5 58.2L134.5 58.3L135.5 58.3L136.5 58.4L137.0 58.4L138.0 58.5L139.0 58.6L140.0 58.7L141.0 58.8L142.0 58.8L142.7 58.9L143.5 59.0L144.5 59.1L145.5 59.2L146.5 59.2L147.5 59.3L148.5 59.4L149.0 59.4L150.0 59.5L151.0 59.6L152.0 59.7L153.0 59.8L154.0 59.9L154.5 60.0L155.5 60.1L156.5 60.2L157.5 60.3L158.5 60.4L159.0 60.4L160.0 60.5L161.0 60.6L162.0 60.8L163.0 60.9L163.5 60.9L164.5 61.1L165.5 61.2L166.5 61.3L167.1 61.4L168.0 61.5L169.0 61.6L170.0 61.8L171.0 61.9L171.5 61.9L172.5 62.1L173.5 62.2L174.5 62.3L175.0 62.4L176.0 62.6L177.0 62.7L178.0 62.8L178.5 62.9L179.5 63.0L180.5 63.2L181.5 63.3L182.0 63.4L183.0 63.5L184.0 63.7L185.0 63.8L185.5 63.9L186.5 64.1L187.5 64.2L188.5 64.4L189.0 64.4L190.0 64.6L191.0 64.7L192.0 64.9L192.5 65.0L193.5 65.1L194.5 65.3L195.2 65.4L196.0 65.5L197.0 65.7L198.0 65.8L198.5 65.9L199.5 66.1L200.5 66.3L201.4 66.4L202.0 66.5L203.0 66.7L204.0 66.9L204.5 66.9L205.5 67.1L206.5 67.3L207.1 67.4L208.0 67.6L209.0 67.7L209.8 67.9L210.5 68.0L211.5 68.2L212.5 68.4L213.0 68.5L214.0 68.7L215.0 68.8L215.5 68.9L216.5 69.1L217.5 69.3L218.1 69.4L219.0 69.5L220.0 69.7L221.0 69.9L221.5 70.0L222.5 70.1L223.5 70.3L224.0 70.4L225.0 70.6L226.0 70.7L226.8 70.9L227.5 71.0L228.5 71.2L229.5 71.4L230.0 71.5L231.0 71.7L232.0 71.9L232.5 71.9L233.5 72.1L234.5 72.3L235.0 72.4L236.0 72.6L237.0 72.8L237.5 72.9L238.5 73.1L239.5 73.3L240.1 73.4L241.0 73.6L242.0 73.8L242.7 73.9L243.5 74.1L244.5 74.3L245.2 74.4L246.0 74.6L247.0 74.7L247.7 74.9L248.5 75.1L249.5 75.2L250.2 75.4L251.0 75.6L252.0 75.8L252.6 75.9L253.5 76.1L254.5 76.3L255.1 76.4L256.0 76.6L257.0 76.8L257.5 76.9L258.5 77.1L259.5 77.3L260.0 77.4L261.0 77.6L262.0 77.8L262.5 78.0L263.5 78.2L264.5 78.4L265.0 78.5L266.0 78.7L266.9 78.9L267.5 79.0L268.5 79.2L269.4 79.4L270.0 79.5L271.0 79.7L271.9 79.9L272.5 80.0L273.5 80.2L274.4 80.4L275.0 80.5L276.0 80.7L276.8 80.9L277.5 81.0L278.5 81.2L279.3 81.4L280.0 81.5L281.0 81.8L281.7 81.9L282.5 82.1L283.5 82.3L284.1 82.4L285.0 82.6L286.0 82.8L286.5 82.9L287.5 83.1L288.5 83.3L289.0 83.4L290.0 83.7L291.0 83.9L291.5 84.0L292.5 84.2L293.4 84.4L294.0 84.5L295.0 84.7L295.7 84.9L296.5 85.1L297.5 85.3L298.0 85.4L299.0 85.6L300.0 85.8L300.5 85.9L301.5 86.2L302.5 86.4L303.0 86.5L304.0 86.7L304.8 86.9L305.5 87.1L306.5 87.3L307.0 87.4L308.0 87.6L309.0 87.9L309.5 88.0L310.5 88.2L311.3 88.4L312.0 88.5L313.0 88.8L313.5 88.9L314.5 89.2L315.4 89.4L316.0 89.5L317.0 89.8L317.5 89.9L318.5 90.2L319.3 90.4L320.0 90.6L321.0 90.8L321.5 91.0L322.5 91.2L323.2 91.4L324.0 91.6L325.0 91.8L325.5 92.0L326.5 92.2L327.1 92.4L328.0 92.6L329.0 92.9L329.5 93.0L330.5 93.3L331.0 93.4L332.0 93.7L332.8 93.9L333.5 94.1L334.5 94.3L335.0 94.5L336.0 94.7L336.6 94.9L337.5 95.1L338.5 95.4L339.0 95.5L340.0 95.8L340.5 95.9L341.5 96.2L342.2 96.4L343.0 96.6L344.0 96.9L344.5 97.0L345.5 97.3L346.0 97.4L347.0 97.7L347.7 97.9L348.5 98.1L349.5 98.4L350.0 98.5L351.0 98.8L351.5 98.9L352.5 99.2L353.1 99.4L354.0 99.6L354.9 99.9L355.5 100.1L356.5 100.3L357.0 100.5L358.0 100.8L358.5 100.9L359.5 101.2L360.3 101.4L361.0 101.6L362.0 101.9L362.5 102.0L363.5 102.3L364.0 102.5L365.0 102.7L365.5 102.9L366.5 103.2L367.3 103.4L368.0 103.6L369.0 103.9L369.5 104.0L370.5 104.3L371.0 104.5L372.0 104.8L372.0 105.4L372.0 106.4L372.0 107.4L372.0 108.4L372.0 109.4L372.0 110.4L372.0 111.4L372.0 112.4L372.0 113.4L372.0 114.4L372.0 115.4L372.0 116.4L372.0 117.4L372.0 118.4L372.0 119.4L372.0 120.4L372.0 121.2L371.0 120.9L370.5 120.8L369.5 120.5L369.0 120.4L368.0 120.1L367.2 119.9L366.5 119.7L365.5 119.4L365.0 119.3L364.0 119.0L363.5 118.9L362.5 118.6L361.6 118.4L361.0 118.2L360.0 118.0L359.5 117.8L358.5 117.6L357.9 117.4L357.0 117.2L356.0 116.9L355.5 116.8L354.5 116.5L354.0 116.4L353.0 116.1L352.1 115.9L351.5 115.7L350.5 115.5L350.0 115.3L349.0 115.1L348.3 114.9L347.5 114.7L346.5 114.4L346.0 114.3L345.0 114.1L344.4 113.9L343.5 113.7L342.5 113.4L342.0 113.3L341.0 113.0L340.4 112.9L339.5 112.7L338.5 112.4L338.0 112.3L337.0 112.0L336.5 111.9L335.5 111.7L334.5 111.4L334.0 111.3L333.0 111.0L332.5 110.9L331.5 110.7L330.5 110.4L330.0 110.3L329.0 110.0L328.5 109.9L327.5 109.7L326.5 109.4L326.0 109.3L325.0 109.1L324.4 108.9L323.5 108.7L322.5 108.4L322.0 108.3L321.0 108.1L320.3 107.9L319.5 107.7L318.5 107.5L318.0 107.4L317.0 107.1L316.1 106.9L315.5 106.8L314.5 106.5L314.0 106.4L313.0 106.2L312.0 105.9L311.5 105.8L310.5 105.6L309.8 105.4L309.0 105.2L308.0 105.0L307.5 104.9L306.5 104.7L305.5 104.5L305.0 104.4L304.0 104.2L303.0 103.9L302.5 103.8L301.5 103.6L300.5 103.4L300.0 103.3L299.0 103.1L298.1 102.9L297.5 102.8L296.5 102.6L295.6 102.4L295.0 102.3L294.0 102.1L293.2 101.9L292.5 101.8L291.5 101.6L290.7 101.4L290.0 101.3L289.0 101.1L288.2 100.9L287.5 100.8L286.5 100.6L285.7 100.4L285.0 100.3L284.0 100.1L283.2 99.9L282.5 99.8L281.5 99.6L280.6 99.4L280.0 99.3L279.0 99.1L278.0 98.9L277.5 98.8L276.5 98.6L275.5 98.4L275.0 98.3L274.0 98.1L273.0 97.9L272.5 97.8L271.5 97.7L270.5 97.5L270.0 97.4L269.0 97.2L268.0 97.0L267.5 96.9L266.5 96.7L265.5 96.5L264.8 96.4L264.0 96.3L263.0 96.1L262.2 95.9L261.5 95.8L260.5 95.6L259.7 95.4L259.0 95.3L258.0 95.1L257.2 94.9L256.5 94.8L255.5 94.6L254.7 94.4L254.0 94.3L253.0 94.1L252.2 93.9L251.5 93.8L250.5 93.6L249.7 93.4L249.0 93.3L248.0 93.1L247.1 92.9L246.5 92.8L245.5 92.6L244.5 92.4L244.0 92.3L243.0 92.1L242.0 91.9L241.5 91.8L240.5 91.6L239.5 91.4L239.0 91.3L238.0 91.2L237.0 91.0L236.5 90.9L235.5 90.7L234.5 90.5L234.0 90.4L233.0 90.2L232.0 90.0L231.3 89.9L230.5 89.8L229.5 89.6L228.6 89.4L228.0 89.3L227.0 89.1L226.0 88.9L225.5 88.8L224.5 88.7L223.5 88.5L223.0 88.4L222.0 88.2L221.0 88.0L220.3 87.9L219.5 87.8L218.5 87.6L217.6 87.4L217.0 87.3L216.0 87.1L215.0 86.9L214.5 86.8L213.5 86.7L212.5 86.5L212.0 86.4L211.0 86.2L210.0 86.0L209.5 85.9L208.5 85.7L207.5 85.5L207.0 85.4L206.0 85.2L205.0 85.0L204.5 84.9L203.5 84.7L202.5 84.5L202.0 84.4L201.0 84.2L200.0 84.0L199.5 83.9L198.5 83.7L197.5 83.5L197.0 83.4L196.0 83.2L195.0 83.0L194.5 82.9L193.5 82.7L192.5 82.5L192.0 82.4L191.0 82.2L190.0 82.0L189.5 81.9L188.5 81.7L187.5 81.5L186.9 81.4L186.0 81.2L185.0 81.0L184.4 80.9L183.5 80.7L182.5 80.5L181.8 80.4L181.0 80.3L180.0 80.1L179.2 79.9L178.5 79.8L177.5 79.6L176.5 79.4L176.0 79.3L175.0 79.1L174.0 78.9L173.5 78.8L172.5 78.6L171.5 78.5L171.0 78.3L170.0 78.2L169.0 78.0L168.5 77.9L167.5 77.7L166.5 77.5L165.9 77.4L165.0 77.2L164.0 77.1L163.2 76.9L162.5 76.8L161.5 76.6L160.5 76.4L160.0 76.3L159.0 76.1L158.0 75.9L157.5 75.9L156.5 75.7L155.5 75.5L154.9 75.4L154.0 75.2L153.0 75.1L152.0 74.9L151.5 74.8L150.5 74.6L149.5 74.5L149.0 74.4L148.0 74.2L147.0 74.0L146.5 73.9L145.5 73.7L144.5 73.5L143.7 73.4L143.0 73.3L142.0 73.1L141.0 72.9L140.5 72.8L139.5 72.6L138.5 72.5L138.0 72.4L137.0 72.2L136.0 72.1L135.1 71.9L134.5 71.8L133.5 71.6L132.5 71.5L132.0 71.4L131.0 71.2L130.0 71.0L129.2 70.9L128.5 70.8L127.5 70.6L126.5 70.5L126.0 70.4L125.0 70.2L124.0 70.1L123.0 69.9L122.5 69.8L121.5 69.7L120.5 69.5L119.8 69.4L119.0 69.3L118.0 69.1L117.0 68.9L116.5 68.9L115.5 68.7L114.5 68.6L113.5 68.4L113.0 68.3L112.0 68.2L111.0 68.1L110.0 67.9L109.5 67.8L108.5 67.7L107.5 67.6L106.6 67.4L106.0 67.3L105.0 67.2L104.0 67.1L103.0 66.9L102.5 66.8L101.5 66.7L100.5 66.6L99.5 66.5L99.0 66.4L98.0 66.3L97.0 66.1L96.0 65.9L95.5 65.9L94.5 65.8L93.5 65.5L93.0 65.4L92.1 64.9L91.5 64.8L91.0 64.4L90.5 63.8L89.7 63.4L89.0 63.0L89.0 62.8L89.0 61.9L88.5 61.8L88.3 60.9L88.3 59.9L88.5 59.0L89.0 58.9L89.5 57.9L89.7 57.9L90.0 57.9L90.5 57.2L91.4 56.9L92.0 56.5L92.7 56.4Z" fill="#3777fe" fill-rule="evenodd" stroke="#3777fe" stroke-width="0.3"/>
<path d="M94.4 56.4L95.0 56.4L95.0 56.4L96.0 56.4L97.0 56.4L97.5 56.4L98.5 56.5L99.5 56.5L100.5 56.5L101.5 56.6L102.5 56.6L103.5 56.7L104.5 56.7L105.5 56.8L106.5 56.9L107.2 56.9L108.0 56.9L109.0 57.0L110.0 57.1L111.0 57.1L112.0 57.2L113.0 57.2L114.0 57.3L115.0 57.3L115.9 57.4L116.5 57.5L117.5 57.5L118.5 57.6L119.5 57.6L120.5 57.7L121.5 57.8L122.5 57.8L123.5 57.9L124.0 58.0L125.0 58.0L126.0 58.1L127.0 58.1L128.0 58.2L129.0 58.3L130.0 58.3L130.5 58.4L131.5 58.5L132.5 58.5L133.5 58.6L134.5 58.7L135.5 58.8L136.5 58.8L137.3 58.9L138.0 59.0L139.0 59.0L140.0 59.1L141.0 59.2L142.0 59.3L143.0 59.4L143.5 59.4L144.5 59.5L145.5 59.6L146.5 59.7L147.5 59.7L148.5 59.8L149.2 59.9L150.0 60.0L151.0 60.1L152.0 60.2L153.0 60.2L154.0 60.3L154.5 60.4L155.5 60.5L156.5 60.6L157.5 60.7L158.5 60.8L159.3 60.9L160.0 61.0L161.0 61.1L162.0 61.2L163.0 61.3L163.7 61.4L164.5 61.5L165.5 61.6L166.5 61.7L167.5 61.9L168.0 61.9L169.0 62.0L170.0 62.2L171.0 62.3L171.8 62.4L172.5 62.5L173.5 62.6L174.5 62.8L175.5 62.9L176.0 63.0L177.0 63.1L178.0 63.2L179.0 63.4L179.5 63.4L180.5 63.6L181.5 63.7L182.5 63.9L183.0 63.9L184.0 64.1L185.0 64.2L186.0 64.4L186.5 64.4L187.5 64.6L188.5 64.7L189.5 64.9L190.0 65.0L191.0 65.1L192.0 65.3L192.7 65.4L193.5 65.5L194.5 65.7L195.5 65.8L196.0 65.9L197.0 66.1L198.0 66.2L199.0 66.4L199.5 66.5L200.5 66.6L201.5 66.8L202.1 66.9L203.0 67.1L204.0 67.2L205.0 67.4L205.5 67.5L206.5 67.7L207.5 67.8L208.0 67.9L209.0 68.1L210.0 68.3L210.6 68.4L211.5 68.6L212.5 68.7L213.3 68.9L214.0 69.0L215.0 69.2L216.0 69.4L216.5 69.5L217.5 69.6L218.5 69.8L219.0 69.9L220.0 70.1L221.0 70.2L221.9 70.4L222.5 70.5L223.5 70.7L224.5 70.8L225.0 70.9L226.0 71.1L227.0 71.3L227.7 71.4L228.5 71.6L229.5 71.7L230.4 71.9L231.0 72.0L232.0 72.2L233.0 72.4L233.5 72.5L234.5 72.7L235.5 72.9L236.0 73.0L237.0 73.1L238.0 73.3L238.5 73.4L239.5 73.6L240.5 73.8L241.0 73.9L242.0 74.1L243.0 74.3L243.5 74.4L244.5 74.6L245.5 74.8L246.0 74.9L247.0 75.1L248.0 75.3L248.6 75.4L249.5 75.6L250.5 75.8L251.0 75.9L252.0 76.1L253.0 76.3L253.5 76.4L254.5 76.6L255.5 76.8L256.0 76.9L257.0 77.1L258.0 77.3L258.5 77.4L259.5 77.6L260.5 77.9L261.0 78.0L262.0 78.2L263.0 78.4L263.5 78.5L264.5 78.7L265.4 78.9L266.0 79.0L267.0 79.2L267.8 79.4L268.5 79.5L269.5 79.7L270.4 79.9L271.0 80.0L272.0 80.2L272.9 80.4L273.5 80.5L274.5 80.7L275.3 80.9L276.0 81.0L277.0 81.2L277.8 81.4L278.5 81.6L279.5 81.8L280.2 81.9L281.0 82.1L282.0 82.3L282.6 82.4L283.5 82.6L284.5 82.8L285.0 82.9L286.0 83.1L287.0 83.3L287.5 83.4L288.5 83.6L289.5 83.9L290.0 84.0L291.0 84.2L292.0 84.4L292.5 84.5L293.5 84.7L294.3 84.9L295.0 85.1L296.0 85.3L296.5 85.4L297.5 85.6L298.5 85.8L299.0 85.9L300.0 86.1L301.0 86.4L301.5 86.5L302.5 86.7L303.3 86.9L304.0 87.0L305.0 87.3L305.5 87.4L306.5 87.6L307.5 87.8L308.0 88.0L309.0 88.2L310.0 88.4L310.5 88.5L311.5 88.7L312.1 88.9L313.0 89.1L314.0 89.4L314.5 89.5L315.5 89.7L316.1 89.9L317.0 90.1L318.0 90.4L318.5 90.5L319.5 90.8L320.0 90.9L321.0 91.1L322.0 91.4L322.5 91.5L323.5 91.8L324.0 91.9L325.0 92.2L325.9 92.4L326.5 92.6L327.5 92.8L328.0 93.0L329.0 93.2L329.7 93.4L330.5 93.6L331.5 93.9L332.0 94.0L333.0 94.3L333.5 94.4L334.5 94.7L335.4 94.9L336.0 95.1L337.0 95.3L337.5 95.5L338.5 95.7L339.2 95.9L340.0 96.1L341.0 96.4L341.5 96.5L342.5 96.8L343.0 96.9L344.0 97.2L344.7 97.4L345.5 97.6L346.5 97.9L347.0 98.0L348.0 98.3L348.5 98.4L349.5 98.7L350.1 98.9L351.0 99.1L352.0 99.4L352.5 99.5L353.5 99.8L354.0 100.0L355.0 100.2L355.5 100.4L356.5 100.7L357.3 100.9L358.0 101.1L359.0 101.4L359.5 101.5L360.5 101.8L361.0 101.9L362.0 102.2L362.6 102.4L363.5 102.6L364.4 102.9L365.0 103.1L366.0 103.4L366.5 103.5L367.5 103.8L368.0 103.9L369.0 104.2L369.6 104.4L370.5 104.7L371.3 104.9L372.0 105.1L372.0 105.9L372.0 106.9L372.0 107.9L372.0 108.9L372.0 109.9L372.0 110.9L372.0 111.9L372.0 112.9L372.0 113.9L372.0 114.9L372.0 115.9L372.0 116.9L372.0 117.9L372.0 118.9L372.0 119.9L372.0 120.9L371.0 120.6L370.2 120.4L369.5 120.2L368.5 119.9L368.0 119.8L367.0 119.5L366.5 119.4L365.5 119.1L364.8 118.9L364.0 118.7L363.0 118.4L362.5 118.3L361.5 118.0L361.0 117.9L360.0 117.6L359.1 117.4L358.5 117.2L357.5 117.0L357.0 116.9L356.0 116.6L355.3 116.4L354.5 116.2L353.5 115.9L353.0 115.8L352.0 115.5L351.5 115.4L350.5 115.2L349.5 114.9L349.0 114.8L348.0 114.5L347.5 114.4L346.5 114.1L345.6 113.9L345.0 113.7L344.0 113.5L343.5 113.4L342.5 113.1L341.7 112.9L341.0 112.7L340.0 112.5L339.5 112.3L338.5 112.1L337.7 111.9L337.0 111.7L336.0 111.5L335.5 111.3L334.5 111.1L333.8 110.9L333.0 110.7L332.0 110.4L331.5 110.3L330.5 110.1L329.8 109.9L329.0 109.7L328.0 109.5L327.5 109.4L326.5 109.1L325.7 108.9L325.0 108.7L324.0 108.5L323.5 108.4L322.5 108.1L321.6 107.9L321.0 107.8L320.0 107.5L319.5 107.4L318.5 107.2L317.5 106.9L317.0 106.8L316.0 106.6L315.3 106.4L314.5 106.2L313.5 106.0L313.0 105.9L312.0 105.6L311.1 105.4L310.5 105.3L309.5 105.0L309.0 104.9L308.0 104.7L307.0 104.5L306.5 104.4L305.5 104.2L304.5 103.9L304.0 103.8L303.0 103.6L302.0 103.4L301.5 103.3L300.5 103.1L299.6 102.9L299.0 102.8L298.0 102.6L297.1 102.4L296.5 102.3L295.5 102.1L294.7 101.9L294.0 101.8L293.0 101.6L292.2 101.4L291.5 101.2L290.5 101.1L289.8 100.9L289.0 100.7L288.0 100.6L287.3 100.4L286.5 100.3L285.5 100.1L284.8 99.9L284.0 99.8L283.0 99.6L282.2 99.4L281.5 99.3L280.5 99.1L279.6 98.9L279.0 98.8L278.0 98.6L277.1 98.4L276.5 98.3L275.5 98.1L274.5 97.9L274.0 97.8L273.0 97.6L272.0 97.4L271.5 97.3L270.5 97.2L269.5 97.0L269.0 96.9L268.0 96.7L267.0 96.5L266.4 96.4L265.5 96.2L264.5 96.0L263.8 95.9L263.0 95.8L262.0 95.5L261.3 95.4L260.5 95.2L259.5 95.0L258.8 94.9L258.0 94.7L257.0 94.5L256.4 94.4L255.5 94.2L254.5 94.0L253.9 93.9L253.0 93.7L252.0 93.5L251.4 93.4L250.5 93.2L249.5 93.0L248.8 92.9L248.0 92.7L247.0 92.6L246.3 92.4L245.5 92.3L244.5 92.1L243.7 91.9L243.0 91.8L242.0 91.6L241.1 91.4L240.5 91.3L239.5 91.1L238.5 90.9L238.0 90.8L237.0 90.6L236.0 90.4L235.5 90.3L234.5 90.2L233.5 90.0L233.0 89.9L232.0 89.7L231.0 89.5L230.5 89.4L229.5 89.2L228.5 89.0L227.8 88.9L227.0 88.8L226.0 88.6L225.0 88.4L224.5 88.3L223.5 88.1L222.5 87.9L222.0 87.9L221.0 87.7L220.0 87.5L219.5 87.4L218.5 87.2L217.5 87.0L216.8 86.9L216.0 86.8L215.0 86.6L214.1 86.4L213.5 86.3L212.5 86.1L211.6 85.9L211.0 85.8L210.0 85.6L209.1 85.4L208.5 85.3L207.5 85.1L206.6 84.9L206.0 84.8L205.0 84.6L204.0 84.4L203.5 84.3L202.5 84.1L201.5 83.9L201.0 83.8L200.0 83.6L199.0 83.4L198.5 83.3L197.5 83.1L196.5 82.9L196.0 82.8L195.0 82.6L194.0 82.4L193.5 82.3L192.5 82.1L191.5 81.9L191.0 81.8L190.0 81.6L189.0 81.4L188.5 81.3L187.5 81.1L186.5 80.9L186.0 80.8L185.0 80.6L184.0 80.4L183.5 80.3L182.5 80.2L181.5 79.9L181.0 79.9L180.0 79.7L179.0 79.5L178.5 79.4L177.5 79.2L176.5 79.0L176.0 78.9L175.0 78.7L174.0 78.5L173.5 78.4L172.5 78.2L171.5 78.0L170.8 77.9L170.0 77.8L169.0 77.6L168.1 77.4L167.5 77.3L166.5 77.1L165.5 76.9L165.0 76.8L164.0 76.6L163.0 76.4L162.5 76.4L161.5 76.2L160.5 76.0L160.0 75.9L159.0 75.7L158.0 75.5L157.3 75.4L156.5 75.2L155.5 75.1L154.5 74.9L154.0 74.8L153.0 74.6L152.0 74.4L151.5 74.4L150.5 74.2L149.5 74.0L149.0 73.9L148.0 73.7L147.0 73.5L146.3 73.4L145.5 73.3L144.5 73.1L143.5 72.9L143.0 72.8L142.0 72.6L141.0 72.5L140.5 72.4L139.5 72.2L138.5 72.0L137.7 71.9L137.0 71.8L136.0 71.6L135.0 71.4L134.5 71.4L133.5 71.2L132.5 71.0L131.8 70.9L131.0 70.8L130.0 70.6L129.0 70.4L128.5 70.4L127.5 70.2L126.5 70.0L125.8 69.9L125.0 69.8L124.0 69.6L123.0 69.5L122.5 69.4L121.5 69.2L120.5 69.1L119.5 68.9L119.0 68.9L118.0 68.7L117.0 68.5L116.1 68.4L115.5 68.3L114.5 68.2L113.5 68.0L112.8 67.9L112.0 67.8L111.0 67.7L110.0 67.5L109.4 67.4L108.5 67.3L107.5 67.2L106.5 67.0L105.7 66.9L105.0 66.8L104.0 66.7L103.0 66.5L102.0 66.4L101.5 66.3L100.5 66.2L99.5 66.1L98.6 65.9L98.0 65.9L97.0 65.7L96.0 65.6L95.0 65.4L94.5 65.3L93.5 65.1L92.8 64.9L92.0 64.4L91.5 64.3L91.0 63.9L90.5 63.2L89.8 62.9L89.5 62.2L89.3 61.4L89.2 60.4L89.3 59.4L89.5 58.7L90.2 58.4L90.5 57.9L91.4 57.4L92.0 56.9L92.6 56.9L93.5 56.7L94.4 56.4Z" fill="#3f6dfe" fill-rule="evenodd" stroke="#3f6dfe" stroke-width="0.3"/>
<path d="M94.0 56.9L95.0 56.8L96.0 56.7L97.0 56.8L98.0 56.8L99.0 56.9L99.8 56.9L100.5 56.9L101.5 57.0L102.5 57.0L103.5 57.1L104.5 57.1L105.5 57.2L106.5 57.3L107.5 57.3L108.5 57.4L109.0 57.4L110.0 57.5L111.0 57.5L112.0 57.6L113.0 57.6L114.0 57.7L115.0 57.8L116.0 57.8L117.0 57.9L117.5 57.9L118.5 58.0L119.5 58.0L120.5 58.1L121.5 58.2L122.5 58.2L123.5 58.3L124.5 58.4L125.0 58.4L126.0 58.5L127.0 58.6L128.0 58.6L129.0 58.7L130.0 58.8L131.0 58.8L131.8 58.9L132.5 58.9L133.5 59.0L134.5 59.1L135.5 59.2L136.5 59.3L137.5 59.3L138.0 59.4L139.0 59.5L140.0 59.5L141.0 59.6L142.0 59.7L143.0 59.8L144.0 59.9L144.5 59.9L145.5 60.0L146.5 60.1L147.5 60.2L148.5 60.3L149.5 60.4L150.0 60.4L151.0 60.5L152.0 60.6L153.0 60.7L154.0 60.8L155.0 60.9L155.5 60.9L156.5 61.0L157.5 61.1L158.5 61.2L159.5 61.3L160.2 61.4L161.0 61.5L162.0 61.6L163.0 61.7L164.0 61.8L164.6 61.9L165.5 62.0L166.5 62.1L167.5 62.3L168.5 62.4L169.0 62.4L170.0 62.6L171.0 62.7L172.0 62.8L172.6 62.9L173.5 63.0L174.5 63.1L175.5 63.3L176.4 63.4L177.0 63.5L178.0 63.6L179.0 63.7L180.0 63.9L180.5 64.0L181.5 64.1L182.5 64.2L183.5 64.4L184.0 64.5L185.0 64.6L186.0 64.7L187.0 64.9L187.5 65.0L188.5 65.1L189.5 65.3L190.4 65.4L191.0 65.5L192.0 65.6L193.0 65.8L193.7 65.9L194.5 66.0L195.5 66.2L196.5 66.4L197.0 66.4L198.0 66.6L199.0 66.7L200.0 66.9L200.5 67.0L201.5 67.2L202.5 67.3L203.0 67.4L204.0 67.6L205.0 67.8L205.8 67.9L206.5 68.0L207.5 68.2L208.5 68.4L209.0 68.5L210.0 68.6L211.0 68.8L211.5 68.9L212.5 69.1L213.5 69.3L214.2 69.4L215.0 69.5L216.0 69.7L216.9 69.9L217.5 70.0L218.5 70.2L219.5 70.3L220.0 70.4L221.0 70.6L222.0 70.7L222.9 70.9L223.5 71.0L224.5 71.2L225.5 71.3L226.0 71.4L227.0 71.6L228.0 71.8L228.6 71.9L229.5 72.1L230.5 72.2L231.3 72.4L232.0 72.5L233.0 72.7L234.0 72.9L234.5 73.0L235.5 73.2L236.5 73.4L237.0 73.5L238.0 73.6L239.0 73.8L239.5 73.9L240.5 74.1L241.5 74.3L242.0 74.4L243.0 74.6L244.0 74.8L244.5 74.9L245.5 75.1L246.5 75.3L247.0 75.4L248.0 75.6L249.0 75.8L249.5 75.9L250.5 76.1L251.5 76.3L252.0 76.4L253.0 76.6L254.0 76.8L254.5 76.9L255.5 77.1L256.5 77.3L257.0 77.4L258.0 77.6L259.0 77.8L259.5 77.9L260.5 78.2L261.5 78.4L262.0 78.5L263.0 78.7L264.0 78.9L264.5 79.0L265.5 79.2L266.4 79.4L267.0 79.5L268.0 79.7L268.9 79.9L269.5 80.0L270.5 80.2L271.4 80.4L272.0 80.5L273.0 80.7L273.9 80.9L274.5 81.0L275.5 81.2L276.3 81.4L277.0 81.5L278.0 81.7L278.8 81.9L279.5 82.0L280.5 82.2L281.2 82.4L282.0 82.6L283.0 82.8L283.6 82.9L284.5 83.1L285.5 83.3L286.0 83.4L287.0 83.6L288.0 83.8L288.5 83.9L289.5 84.1L290.5 84.4L291.0 84.5L292.0 84.7L292.9 84.9L293.5 85.0L294.5 85.2L295.2 85.4L296.0 85.6L297.0 85.8L297.5 85.9L298.5 86.1L299.5 86.3L300.0 86.4L301.0 86.7L302.0 86.9L302.5 87.0L303.5 87.2L304.3 87.4L305.0 87.6L306.0 87.8L306.5 87.9L307.5 88.1L308.5 88.4L309.0 88.5L310.0 88.7L310.9 88.9L311.5 89.0L312.5 89.3L313.0 89.4L314.0 89.7L314.9 89.9L315.5 90.0L316.5 90.3L317.0 90.4L318.0 90.7L318.9 90.9L319.5 91.1L320.5 91.3L321.0 91.4L322.0 91.7L322.8 91.9L323.5 92.1L324.5 92.3L325.0 92.5L326.0 92.7L326.7 92.9L327.5 93.1L328.5 93.4L329.0 93.5L330.0 93.8L330.5 93.9L331.5 94.2L332.4 94.4L333.0 94.6L334.0 94.8L334.5 95.0L335.5 95.2L336.1 95.4L337.0 95.6L338.0 95.9L338.5 96.0L339.5 96.3L340.0 96.4L341.0 96.7L341.7 96.9L342.5 97.1L343.5 97.4L344.0 97.5L345.0 97.8L345.5 97.9L346.5 98.2L347.2 98.4L348.0 98.6L349.0 98.9L349.5 99.0L350.5 99.3L351.0 99.4L352.0 99.7L352.7 99.9L353.5 100.1L354.5 100.4L355.0 100.5L356.0 100.8L356.5 101.0L357.5 101.2L358.0 101.4L359.0 101.7L359.8 101.9L360.5 102.1L361.5 102.4L362.0 102.5L363.0 102.8L363.5 103.0L364.5 103.2L365.1 103.4L366.0 103.7L366.8 103.9L367.5 104.1L368.5 104.4L369.0 104.5L370.0 104.8L370.5 105.0L371.5 105.3L372.0 105.4L372.0 106.4L372.0 107.4L372.0 108.4L372.0 109.4L372.0 110.4L372.0 111.4L372.0 112.4L372.0 113.4L372.0 114.4L372.0 115.4L372.0 116.4L372.0 117.4L372.0 118.4L372.0 119.4L372.0 120.4L371.5 120.4L371.0 120.3L370.0 120.0L369.5 119.9L368.5 119.6L367.7 119.4L367.0 119.2L366.0 118.9L365.5 118.8L364.5 118.5L364.0 118.4L363.0 118.1L362.1 117.9L361.5 117.7L360.5 117.5L360.0 117.3L359.0 117.1L358.4 116.9L357.5 116.7L356.5 116.4L356.0 116.3L355.0 116.0L354.5 115.9L353.5 115.6L352.6 115.4L352.0 115.2L351.0 115.0L350.5 114.9L349.5 114.6L348.8 114.4L348.0 114.2L347.0 114.0L346.5 113.8L345.5 113.6L344.9 113.4L344.0 113.2L343.0 112.9L342.5 112.8L341.5 112.6L340.9 112.4L340.0 112.2L339.0 111.9L338.5 111.8L337.5 111.5L337.0 111.4L336.0 111.2L335.0 110.9L334.5 110.8L333.5 110.5L333.0 110.4L332.0 110.2L331.0 109.9L330.5 109.8L329.5 109.5L328.9 109.4L328.0 109.2L327.0 108.9L326.5 108.8L325.5 108.6L324.9 108.4L324.0 108.2L323.0 107.9L322.5 107.8L321.5 107.6L320.7 107.4L320.0 107.2L319.0 107.0L318.5 106.9L317.5 106.6L316.6 106.4L316.0 106.3L315.0 106.0L314.5 105.9L313.5 105.7L312.5 105.4L312.0 105.3L311.0 105.1L310.2 104.9L309.5 104.7L308.5 104.5L308.0 104.4L307.0 104.2L306.0 104.0L305.5 103.9L304.5 103.6L303.5 103.4L303.0 103.3L302.0 103.1L301.0 102.9L300.5 102.8L299.5 102.6L298.5 102.4L298.0 102.3L297.0 102.1L296.1 101.9L295.5 101.8L294.5 101.6L293.7 101.4L293.0 101.3L292.0 101.1L291.2 100.9L290.5 100.8L289.5 100.6L288.7 100.4L288.0 100.3L287.0 100.1L286.2 99.9L285.5 99.8L284.5 99.6L283.7 99.4L283.0 99.3L282.0 99.1L281.2 98.9L280.5 98.8L279.5 98.6L278.6 98.4L278.0 98.3L277.0 98.1L276.0 97.9L275.5 97.8L274.5 97.6L273.5 97.4L273.0 97.3L272.0 97.2L271.0 97.0L270.5 96.9L269.5 96.7L268.5 96.5L268.0 96.4L267.0 96.2L266.0 96.0L265.3 95.9L264.5 95.8L263.5 95.6L262.7 95.4L262.0 95.3L261.0 95.1L260.3 94.9L259.5 94.7L258.5 94.5L257.8 94.4L257.0 94.2L256.0 94.0L255.4 93.9L254.5 93.7L253.5 93.5L252.9 93.4L252.0 93.2L251.0 93.0L250.4 92.9L249.5 92.7L248.5 92.5L247.8 92.4L247.0 92.2L246.0 92.0L245.3 91.9L244.5 91.8L243.5 91.6L242.7 91.4L242.0 91.3L241.0 91.1L240.1 90.9L239.5 90.8L238.5 90.6L237.5 90.4L237.0 90.3L236.0 90.1L235.0 89.9L234.5 89.8L233.5 89.6L232.5 89.5L232.0 89.4L231.0 89.2L230.0 89.0L229.5 88.9L228.5 88.7L227.5 88.5L226.8 88.4L226.0 88.3L225.0 88.1L224.1 87.9L223.5 87.8L222.5 87.6L221.5 87.4L221.0 87.3L220.0 87.2L219.0 87.0L218.5 86.9L217.5 86.7L216.5 86.5L215.9 86.4L215.0 86.2L214.0 86.0L213.2 85.9L212.5 85.8L211.5 85.5L210.8 85.4L210.0 85.2L209.0 85.0L208.3 84.9L207.5 84.7L206.5 84.5L205.8 84.4L205.0 84.2L204.0 84.0L203.3 83.9L202.5 83.7L201.5 83.6L200.8 83.4L200.0 83.3L199.0 83.1L198.2 82.9L197.5 82.8L196.5 82.6L195.7 82.4L195.0 82.3L194.0 82.1L193.3 81.9L192.5 81.8L191.5 81.6L190.8 81.4L190.0 81.3L189.0 81.0L188.2 80.9L187.5 80.8L186.5 80.5L185.7 80.4L185.0 80.3L184.0 80.1L183.1 79.9L182.5 79.8L181.5 79.6L180.6 79.4L180.0 79.3L179.0 79.1L178.0 78.9L177.5 78.8L176.5 78.6L175.5 78.4L175.0 78.3L174.0 78.1L173.0 77.9L172.5 77.8L171.5 77.7L170.5 77.5L170.0 77.4L169.0 77.2L168.0 77.0L167.5 76.9L166.5 76.7L165.5 76.5L164.9 76.4L164.0 76.2L163.0 76.0L162.3 75.9L161.5 75.7L160.5 75.6L159.6 75.4L159.0 75.3L158.0 75.1L157.0 74.9L156.5 74.8L155.5 74.6L154.5 74.5L154.0 74.4L153.0 74.2L152.0 74.0L151.4 73.9L150.5 73.7L149.5 73.6L148.7 73.4L148.0 73.3L147.0 73.1L146.0 72.9L145.5 72.8L144.5 72.6L143.5 72.5L143.0 72.4L142.0 72.2L141.0 72.0L140.3 71.9L139.5 71.8L138.5 71.6L137.5 71.4L137.0 71.3L136.0 71.2L135.0 71.0L134.4 70.9L133.5 70.8L132.5 70.6L131.5 70.4L131.0 70.3L130.0 70.2L129.0 70.0L128.3 69.9L127.5 69.8L126.5 69.6L125.5 69.5L125.0 69.4L124.0 69.2L123.0 69.1L122.2 68.9L121.5 68.8L120.5 68.7L119.5 68.5L118.8 68.4L118.0 68.3L117.0 68.1L116.0 68.0L115.5 67.9L114.5 67.7L113.5 67.6L112.5 67.5L112.0 67.4L111.0 67.2L110.0 67.1L109.0 66.9L108.5 66.9L107.5 66.7L106.5 66.6L105.5 66.5L105.0 66.4L104.0 66.3L103.0 66.1L102.0 66.0L101.1 65.9L100.5 65.8L99.5 65.7L98.5 65.5L97.6 65.4L97.0 65.3L96.0 65.2L95.0 65.1L94.5 64.9L93.5 64.6L92.7 64.4L92.0 63.9L91.5 63.8L91.0 63.3L90.5 62.5L90.0 62.4L89.6 61.4L89.5 60.4L90.1 59.9L90.3 58.9L90.6 58.4L91.0 57.9L92.0 57.4L92.6 57.4L93.5 57.1L94.0 56.9Z" fill="#4564fd" fill-rule="evenodd" stroke="#4564fd" stroke-width="0.3"/>
<path d="M93.3 57.4L94.0 57.3L95.0 57.2L96.0 57.1L97.0 57.2L98.0 57.2L99.0 57.3L100.0 57.3L101.0 57.3L102.0 57.4L102.5 57.4L103.5 57.5L104.5 57.5L105.5 57.6L106.5 57.7L107.5 57.7L108.5 57.8L109.5 57.8L110.5 57.9L111.0 57.9L112.0 58.0L113.0 58.0L114.0 58.1L115.0 58.2L116.0 58.2L117.0 58.3L118.0 58.4L118.6 58.4L119.5 58.5L120.5 58.5L121.5 58.6L122.5 58.7L123.5 58.7L124.5 58.8L125.5 58.9L126.1 58.9L127.0 59.0L128.0 59.1L129.0 59.1L130.0 59.2L131.0 59.3L132.0 59.3L132.7 59.4L133.5 59.4L134.5 59.5L135.5 59.6L136.5 59.7L137.5 59.8L138.5 59.8L139.2 59.9L140.0 60.0L141.0 60.1L142.0 60.2L143.0 60.2L144.0 60.3L145.0 60.4L145.5 60.4L146.5 60.5L147.5 60.6L148.5 60.7L149.5 60.8L150.5 60.9L151.0 60.9L152.0 61.0L153.0 61.1L154.0 61.2L155.0 61.3L156.0 61.4L156.5 61.4L157.5 61.5L158.5 61.6L159.5 61.7L160.5 61.8L161.0 61.9L162.0 62.0L163.0 62.1L164.0 62.2L165.0 62.3L165.5 62.4L166.5 62.5L167.5 62.6L168.5 62.8L169.5 62.9L170.0 63.0L171.0 63.1L172.0 63.2L173.0 63.3L173.6 63.4L174.5 63.5L175.5 63.6L176.5 63.8L177.4 63.9L178.0 64.0L179.0 64.1L180.0 64.3L181.0 64.4L181.5 64.5L182.5 64.6L183.5 64.7L184.5 64.9L185.0 65.0L186.0 65.1L187.0 65.2L188.0 65.4L188.5 65.5L189.5 65.6L190.5 65.8L191.4 65.9L192.0 66.0L193.0 66.1L194.0 66.3L194.7 66.4L195.5 66.5L196.5 66.7L197.5 66.8L198.0 66.9L199.0 67.1L200.0 67.2L201.0 67.4L201.5 67.5L202.5 67.6L203.5 67.8L204.0 67.9L205.0 68.1L206.0 68.3L206.8 68.4L207.5 68.5L208.5 68.7L209.5 68.9L210.0 69.0L211.0 69.1L212.0 69.3L212.5 69.4L213.5 69.6L214.5 69.8L215.1 69.9L216.0 70.1L217.0 70.2L218.0 70.4L218.5 70.5L219.5 70.6L220.5 70.8L221.0 70.9L222.0 71.1L223.0 71.2L224.0 71.4L224.5 71.5L225.5 71.7L226.5 71.8L227.0 71.9L228.0 72.1L229.0 72.3L229.6 72.4L230.5 72.5L231.5 72.7L232.4 72.9L233.0 73.0L234.0 73.2L235.0 73.4L235.5 73.5L236.5 73.7L237.5 73.9L238.0 73.9L239.0 74.1L240.0 74.3L240.5 74.4L241.5 74.6L242.5 74.8L243.0 74.9L244.0 75.1L245.0 75.3L245.5 75.4L246.5 75.6L247.5 75.8L248.1 75.9L249.0 76.1L250.0 76.3L250.6 76.4L251.5 76.6L252.5 76.8L253.0 76.9L254.0 77.1L255.0 77.3L255.5 77.4L256.5 77.6L257.5 77.8L258.0 77.9L259.0 78.1L260.0 78.3L260.5 78.4L261.5 78.6L262.5 78.8L263.0 79.0L264.0 79.2L265.0 79.4L265.5 79.5L266.5 79.7L267.5 79.9L268.0 80.0L269.0 80.2L270.0 80.4L270.5 80.5L271.5 80.7L272.5 80.9L273.0 81.0L274.0 81.2L275.0 81.4L275.5 81.5L276.5 81.7L277.5 81.9L278.0 82.0L279.0 82.2L279.9 82.4L280.5 82.5L281.5 82.7L282.3 82.9L283.0 83.0L284.0 83.3L284.7 83.4L285.5 83.6L286.5 83.8L287.0 83.9L288.0 84.1L289.0 84.3L289.5 84.4L290.5 84.6L291.5 84.9L292.0 85.0L293.0 85.2L294.0 85.4L294.5 85.5L295.5 85.7L296.3 85.9L297.0 86.1L298.0 86.3L298.6 86.4L299.5 86.6L300.5 86.8L301.0 86.9L302.0 87.2L303.0 87.4L303.5 87.5L304.5 87.7L305.2 87.9L306.0 88.1L307.0 88.3L307.5 88.4L308.5 88.6L309.5 88.9L310.0 89.0L311.0 89.2L311.8 89.4L312.5 89.6L313.5 89.8L314.0 89.9L315.0 90.2L315.8 90.4L316.5 90.6L317.5 90.8L318.0 91.0L319.0 91.2L319.7 91.4L320.5 91.6L321.5 91.8L322.0 92.0L323.0 92.2L323.6 92.4L324.5 92.6L325.5 92.9L326.0 93.0L327.0 93.3L327.5 93.4L328.5 93.7L329.4 93.9L330.0 94.1L331.0 94.3L331.5 94.4L332.5 94.7L333.2 94.9L334.0 95.1L335.0 95.4L335.5 95.5L336.5 95.8L337.0 95.9L338.0 96.2L338.8 96.4L339.5 96.6L340.5 96.8L341.0 97.0L342.0 97.2L342.5 97.4L343.5 97.6L344.4 97.9L345.0 98.1L346.0 98.3L346.5 98.5L347.5 98.7L348.0 98.9L349.0 99.2L349.8 99.4L350.5 99.6L351.5 99.9L352.0 100.0L353.0 100.3L353.5 100.4L354.5 100.7L355.2 100.9L356.0 101.1L357.0 101.4L357.5 101.5L358.5 101.8L359.0 102.0L360.0 102.2L360.5 102.4L361.5 102.7L362.3 102.9L363.0 103.1L364.0 103.4L364.5 103.5L365.5 103.8L366.0 104.0L367.0 104.3L367.5 104.4L368.5 104.7L369.2 104.9L370.0 105.1L370.9 105.4L371.5 105.6L372.0 105.9L372.0 106.9L372.0 107.9L372.0 108.9L372.0 109.9L372.0 110.9L372.0 111.9L372.0 112.9L372.0 113.9L372.0 114.9L372.0 115.9L372.0 116.9L372.0 117.9L372.0 118.9L372.0 119.9L371.5 120.2L370.6 119.9L370.0 119.7L369.0 119.5L368.5 119.3L367.5 119.1L367.0 118.9L366.0 118.6L365.1 118.4L364.5 118.2L363.5 118.0L363.0 117.8L362.0 117.6L361.4 117.4L360.5 117.2L359.5 116.9L359.0 116.8L358.0 116.5L357.5 116.4L356.5 116.1L355.6 115.9L355.0 115.7L354.0 115.5L353.5 115.3L352.5 115.1L351.8 114.9L351.0 114.7L350.0 114.4L349.5 114.3L348.5 114.0L347.9 113.9L347.0 113.7L346.0 113.4L345.5 113.3L344.5 113.0L344.0 112.9L343.0 112.7L342.1 112.4L341.5 112.3L340.5 112.0L340.0 111.9L339.0 111.6L338.1 111.4L337.5 111.3L336.5 111.0L336.0 110.9L335.0 110.6L334.1 110.4L333.5 110.3L332.5 110.0L332.0 109.9L331.0 109.6L330.1 109.4L329.5 109.3L328.5 109.0L328.0 108.9L327.0 108.7L326.0 108.4L325.5 108.3L324.5 108.0L324.0 107.9L323.0 107.7L322.0 107.4L321.5 107.3L320.5 107.1L319.8 106.9L319.0 106.7L318.0 106.5L317.5 106.3L316.5 106.1L315.6 105.9L315.0 105.7L314.0 105.5L313.5 105.4L312.5 105.2L311.5 104.9L311.0 104.8L310.0 104.6L309.3 104.4L308.5 104.2L307.5 104.0L307.0 103.9L306.0 103.7L305.0 103.5L304.5 103.4L303.5 103.2L302.5 103.0L302.0 102.8L301.0 102.6L300.0 102.4L299.5 102.3L298.5 102.1L297.5 101.9L297.0 101.8L296.0 101.6L295.0 101.4L294.5 101.3L293.5 101.1L292.6 100.9L292.0 100.8L291.0 100.6L290.1 100.4L289.5 100.3L288.5 100.1L287.6 99.9L287.0 99.8L286.0 99.6L285.1 99.4L284.5 99.3L283.5 99.1L282.5 98.9L282.0 98.8L281.0 98.6L280.0 98.4L279.5 98.3L278.5 98.1L277.5 97.9L277.0 97.8L276.0 97.6L275.0 97.5L274.5 97.3L273.5 97.2L272.5 97.0L272.0 96.9L271.0 96.7L270.0 96.5L269.4 96.4L268.5 96.2L267.5 96.0L266.8 95.9L266.0 95.8L265.0 95.6L264.1 95.4L263.5 95.3L262.5 95.1L261.6 94.9L261.0 94.8L260.0 94.6L259.2 94.4L258.5 94.3L257.5 94.1L256.8 93.9L256.0 93.8L255.0 93.5L254.3 93.4L253.5 93.3L252.5 93.0L251.8 92.9L251.0 92.7L250.0 92.5L249.3 92.4L248.5 92.2L247.5 92.0L246.7 91.9L246.0 91.8L245.0 91.6L244.2 91.4L243.5 91.3L242.5 91.1L241.6 90.9L241.0 90.8L240.0 90.6L239.0 90.4L238.5 90.3L237.5 90.1L236.5 89.9L236.0 89.8L235.0 89.6L234.0 89.4L233.5 89.3L232.5 89.2L231.5 89.0L231.0 88.9L230.0 88.7L229.0 88.5L228.5 88.4L227.5 88.2L226.5 88.0L225.8 87.9L225.0 87.8L224.0 87.6L223.0 87.4L222.5 87.3L221.5 87.1L220.5 86.9L220.0 86.8L219.0 86.6L218.0 86.5L217.5 86.4L216.5 86.2L215.5 86.0L215.0 85.9L214.0 85.7L213.0 85.5L212.4 85.4L211.5 85.2L210.5 85.0L209.9 84.9L209.0 84.7L208.0 84.5L207.5 84.4L206.5 84.2L205.5 84.0L204.9 83.9L204.0 83.7L203.0 83.5L202.4 83.4L201.5 83.2L200.5 83.0L199.9 82.9L199.0 82.7L198.0 82.5L197.4 82.4L196.5 82.2L195.5 82.0L194.9 81.9L194.0 81.7L193.0 81.5L192.5 81.4L191.5 81.2L190.5 81.0L190.0 80.9L189.0 80.7L188.0 80.5L187.5 80.4L186.5 80.2L185.5 80.0L185.0 79.9L184.0 79.7L183.0 79.5L182.5 79.4L181.5 79.2L180.5 79.0L179.9 78.9L179.0 78.7L178.0 78.5L177.3 78.4L176.5 78.2L175.5 78.1L174.7 77.9L174.0 77.8L173.0 77.6L172.2 77.4L171.5 77.3L170.5 77.1L169.6 76.9L169.0 76.8L168.0 76.6L167.0 76.4L166.5 76.3L165.5 76.1L164.5 75.9L164.0 75.8L163.0 75.6L162.0 75.5L161.5 75.3L160.5 75.2L159.5 75.0L159.0 74.9L158.0 74.7L157.0 74.5L156.4 74.4L155.5 74.2L154.5 74.1L153.8 73.9L153.0 73.8L152.0 73.6L151.1 73.4L150.5 73.3L149.5 73.1L148.5 72.9L148.0 72.9L147.0 72.7L146.0 72.5L145.4 72.4L144.5 72.2L143.5 72.1L142.7 71.9L142.0 71.8L141.0 71.6L140.0 71.4L139.5 71.4L138.5 71.2L137.5 71.0L136.9 70.9L136.0 70.8L135.0 70.6L134.0 70.4L133.5 70.3L132.5 70.1L131.5 70.0L130.8 69.9L130.0 69.7L129.0 69.6L128.0 69.4L127.5 69.3L126.5 69.2L125.5 69.0L124.7 68.9L124.0 68.8L123.0 68.6L122.0 68.4L121.5 68.4L120.5 68.2L119.5 68.1L118.5 67.9L118.0 67.8L117.0 67.7L116.0 67.6L115.0 67.4L114.5 67.3L113.5 67.2L112.5 67.1L111.6 66.9L111.0 66.8L110.0 66.7L109.0 66.5L108.0 66.4L107.5 66.3L106.5 66.2L105.5 66.1L104.5 65.9L104.0 65.9L103.0 65.8L102.0 65.6L101.0 65.5L100.4 65.4L99.5 65.3L98.5 65.1L97.5 65.0L96.7 64.9L96.0 64.8L95.0 64.7L94.0 64.5L93.5 64.2L92.6 63.9L92.0 63.4L91.5 63.3L91.0 62.7L90.6 61.9L90.3 61.4L89.9 60.9L90.0 60.3L90.5 59.7L90.8 58.9L91.5 58.5L92.0 57.9L92.6 57.9L93.3 57.4Z" fill="#475bf9" fill-rule="evenodd" stroke="#475bf9" stroke-width="0.3"/>
<path d="M93.2 57.9L94.0 57.8L95.0 57.6L96.0 57.5L97.0 57.6L98.0 57.6L99.0 57.7L100.0 57.7L101.0 57.7L102.0 57.8L103.0 57.8L104.0 57.9L104.5 57.9L105.5 58.0L106.5 58.1L107.5 58.1L108.5 58.2L109.5 58.2L110.5 58.3L111.5 58.4L112.4 58.4L113.0 58.5L114.0 58.5L115.0 58.6L116.0 58.6L117.0 58.7L118.0 58.8L119.0 58.8L120.0 58.9L120.5 59.0L121.5 59.0L122.5 59.1L123.5 59.1L124.5 59.2L125.5 59.3L126.5 59.3L127.2 59.4L128.0 59.5L129.0 59.5L130.0 59.6L131.0 59.7L132.0 59.8L133.0 59.8L134.0 59.9L134.5 60.0L135.5 60.0L136.5 60.1L137.5 60.2L138.5 60.3L139.5 60.4L140.3 60.4L141.0 60.5L142.0 60.6L143.0 60.6L144.0 60.7L145.0 60.8L146.0 60.9L146.5 60.9L147.5 61.0L148.5 61.1L149.5 61.2L150.5 61.3L151.5 61.4L152.0 61.4L153.0 61.5L154.0 61.6L155.0 61.7L156.0 61.8L157.0 61.9L157.5 61.9L158.5 62.1L159.5 62.1L160.5 62.2L161.5 62.3L162.1 62.4L163.0 62.5L164.0 62.6L165.0 62.7L166.0 62.9L166.5 62.9L167.5 63.0L168.5 63.1L169.5 63.2L170.5 63.4L171.0 63.4L172.0 63.5L173.0 63.7L174.0 63.8L174.7 63.9L175.5 64.0L176.5 64.1L177.5 64.3L178.5 64.4L179.0 64.5L180.0 64.6L181.0 64.7L182.0 64.9L182.5 65.0L183.5 65.1L184.5 65.2L185.5 65.4L186.0 65.4L187.0 65.6L188.0 65.7L189.0 65.9L189.5 65.9L190.5 66.1L191.5 66.3L192.5 66.4L193.0 66.5L194.0 66.6L195.0 66.8L195.8 66.9L196.5 67.0L197.5 67.2L198.5 67.3L199.0 67.4L200.0 67.6L201.0 67.7L202.0 67.9L202.5 68.0L203.5 68.1L204.5 68.3L205.0 68.4L206.0 68.6L207.0 68.7L207.8 68.9L208.5 69.0L209.5 69.2L210.5 69.4L211.0 69.5L212.0 69.6L213.0 69.8L213.5 69.9L214.5 70.1L215.5 70.3L216.2 70.4L217.0 70.5L218.0 70.7L219.0 70.9L219.5 70.9L220.5 71.1L221.5 71.3L222.2 71.4L223.0 71.5L224.0 71.7L225.0 71.9L225.5 71.9L226.5 72.1L227.5 72.3L228.0 72.4L229.0 72.6L230.0 72.8L230.8 72.9L231.5 73.0L232.5 73.2L233.5 73.4L234.0 73.5L235.0 73.7L236.0 73.9L236.5 74.0L237.5 74.1L238.5 74.3L239.0 74.4L240.0 74.6L241.0 74.8L241.5 74.9L242.5 75.1L243.5 75.3L244.1 75.4L245.0 75.6L246.0 75.8L246.6 75.9L247.5 76.1L248.5 76.3L249.2 76.4L250.0 76.6L251.0 76.8L251.7 76.9L252.5 77.1L253.5 77.3L254.2 77.4L255.0 77.6L256.0 77.8L256.6 77.9L257.5 78.1L258.5 78.3L259.1 78.4L260.0 78.6L261.0 78.8L261.5 78.9L262.5 79.1L263.5 79.3L264.0 79.4L265.0 79.6L266.0 79.9L266.5 80.0L267.5 80.1L268.5 80.4L269.0 80.4L270.0 80.6L271.0 80.8L271.5 80.9L272.5 81.1L273.5 81.3L274.0 81.4L275.0 81.7L276.0 81.9L276.5 82.0L277.5 82.2L278.5 82.4L279.0 82.5L280.0 82.7L281.0 82.9L281.5 83.0L282.5 83.2L283.4 83.4L284.0 83.5L285.0 83.7L285.8 83.9L286.5 84.0L287.5 84.3L288.2 84.4L289.0 84.6L290.0 84.8L290.5 84.9L291.5 85.1L292.5 85.3L293.0 85.4L294.0 85.7L295.0 85.9L295.5 86.0L296.5 86.2L297.4 86.4L298.0 86.5L299.0 86.8L299.6 86.9L300.5 87.1L301.5 87.3L302.0 87.4L303.0 87.7L304.0 87.9L304.5 88.0L305.5 88.2L306.3 88.4L307.0 88.6L308.0 88.8L308.5 88.9L309.5 89.1L310.5 89.4L311.0 89.5L312.0 89.7L312.8 89.9L313.5 90.1L314.5 90.3L315.0 90.5L316.0 90.7L316.7 90.9L317.5 91.1L318.5 91.3L319.0 91.5L320.0 91.7L320.7 91.9L321.5 92.1L322.5 92.4L323.0 92.5L324.0 92.8L324.5 92.9L325.5 93.1L326.5 93.4L327.0 93.5L328.0 93.8L328.5 93.9L329.5 94.2L330.3 94.4L331.0 94.6L332.0 94.8L332.5 95.0L333.5 95.2L334.1 95.4L335.0 95.6L336.0 95.9L336.5 96.0L337.5 96.3L338.0 96.4L339.0 96.7L339.7 96.9L340.5 97.1L341.5 97.4L342.0 97.5L343.0 97.8L343.5 97.9L344.5 98.2L345.2 98.4L346.0 98.6L347.0 98.9L347.5 99.0L348.5 99.3L349.0 99.4L350.0 99.7L350.6 99.9L351.5 100.1L352.5 100.4L353.0 100.6L354.0 100.8L354.5 101.0L355.5 101.3L356.0 101.4L357.0 101.7L357.8 101.9L358.5 102.1L359.5 102.4L360.0 102.5L361.0 102.8L361.5 102.9L362.5 103.2L363.1 103.4L364.0 103.7L364.8 103.9L365.5 104.1L366.5 104.4L367.0 104.5L368.0 104.8L368.5 105.0L369.5 105.2L370.0 105.4L371.0 105.7L371.7 105.9L372.0 106.4L372.0 107.4L372.0 108.4L372.0 109.4L372.0 110.4L372.0 111.4L372.0 112.4L372.0 113.4L372.0 114.4L372.0 115.4L372.0 116.4L372.0 117.4L372.0 118.4L372.0 119.4L372.0 120.0L371.5 119.9L370.5 119.6L369.8 119.4L369.0 119.2L368.0 118.9L367.5 118.8L366.5 118.5L366.0 118.4L365.0 118.1L364.3 117.9L363.5 117.7L362.5 117.4L362.0 117.3L361.0 117.0L360.5 116.9L359.5 116.6L358.6 116.4L358.0 116.3L357.0 116.0L356.5 115.9L355.5 115.6L354.8 115.4L354.0 115.2L353.0 114.9L352.5 114.8L351.5 114.6L350.9 114.4L350.0 114.2L349.0 113.9L348.5 113.8L347.5 113.5L347.0 113.4L346.0 113.1L345.1 112.9L344.5 112.8L343.5 112.5L343.0 112.4L342.0 112.1L341.1 111.9L340.5 111.7L339.5 111.5L339.0 111.4L338.0 111.1L337.2 110.9L336.5 110.7L335.5 110.5L335.0 110.4L334.0 110.1L333.2 109.9L332.5 109.7L331.5 109.5L331.0 109.4L330.0 109.1L329.1 108.9L328.5 108.8L327.5 108.5L327.0 108.4L326.0 108.1L325.1 107.9L324.5 107.8L323.5 107.5L323.0 107.4L322.0 107.2L321.0 106.9L320.5 106.8L319.5 106.6L318.8 106.4L318.0 106.2L317.0 106.0L316.5 105.8L315.5 105.6L314.6 105.4L314.0 105.3L313.0 105.0L312.5 104.9L311.5 104.7L310.5 104.4L310.0 104.3L309.0 104.1L308.2 103.9L307.5 103.8L306.5 103.5L305.9 103.4L305.0 103.2L304.0 103.0L303.5 102.9L302.5 102.7L301.5 102.5L301.0 102.4L300.0 102.2L299.0 102.0L298.5 101.9L297.5 101.7L296.5 101.4L296.0 101.3L295.0 101.1L294.0 100.9L293.5 100.8L292.5 100.6L291.5 100.4L291.0 100.3L290.0 100.1L289.0 99.9L288.5 99.8L287.5 99.6L286.5 99.4L286.0 99.3L285.0 99.1L284.0 98.9L283.5 98.8L282.5 98.6L281.5 98.4L281.0 98.3L280.0 98.2L279.0 98.0L278.5 97.9L277.5 97.7L276.5 97.5L276.0 97.4L275.0 97.2L274.0 97.0L273.5 96.9L272.5 96.7L271.5 96.5L270.8 96.4L270.0 96.3L269.0 96.1L268.1 95.9L267.5 95.8L266.5 95.6L265.5 95.4L265.0 95.3L264.0 95.1L263.0 94.9L262.5 94.8L261.5 94.6L260.5 94.4L260.0 94.3L259.0 94.1L258.0 93.9L257.5 93.8L256.5 93.6L255.6 93.4L255.0 93.3L254.0 93.1L253.1 92.9L252.5 92.8L251.5 92.6L250.6 92.4L250.0 92.3L249.0 92.1L248.1 91.9L247.5 91.8L246.5 91.6L245.6 91.4L245.0 91.3L244.0 91.1L243.1 90.9L242.5 90.8L241.5 90.6L240.5 90.4L240.0 90.3L239.0 90.1L238.0 89.9L237.5 89.8L236.5 89.6L235.5 89.4L235.0 89.3L234.0 89.2L233.0 89.0L232.5 88.9L231.5 88.7L230.5 88.5L230.0 88.4L229.0 88.2L228.0 88.0L227.3 87.9L226.5 87.7L225.5 87.6L224.6 87.4L224.0 87.3L223.0 87.1L222.0 86.9L221.5 86.8L220.5 86.6L219.5 86.4L219.0 86.3L218.0 86.2L217.0 86.0L216.5 85.9L215.5 85.7L214.5 85.5L213.9 85.4L213.0 85.2L212.0 85.0L211.4 84.9L210.5 84.7L209.5 84.5L209.0 84.4L208.0 84.2L207.0 84.0L206.5 83.9L205.5 83.7L204.5 83.5L204.0 83.4L203.0 83.2L202.0 83.0L201.5 82.9L200.5 82.7L199.5 82.5L199.0 82.4L198.0 82.2L197.0 82.0L196.5 81.9L195.5 81.7L194.5 81.5L194.0 81.4L193.0 81.2L192.0 81.0L191.5 80.9L190.5 80.7L189.5 80.5L189.0 80.4L188.0 80.2L187.0 80.0L186.5 79.9L185.5 79.7L184.5 79.5L184.0 79.4L183.0 79.2L182.0 79.0L181.5 78.9L180.5 78.7L179.5 78.5L179.0 78.4L178.0 78.2L177.0 78.0L176.5 77.9L175.5 77.7L174.5 77.5L174.0 77.4L173.0 77.2L172.0 77.0L171.4 76.9L170.5 76.7L169.5 76.5L168.8 76.4L168.0 76.2L167.0 76.0L166.3 75.9L165.5 75.7L164.5 75.6L163.7 75.4L163.0 75.3L162.0 75.1L161.1 74.9L160.5 74.8L159.5 74.6L158.5 74.4L158.0 74.3L157.0 74.1L156.0 73.9L155.5 73.8L154.5 73.6L153.5 73.4L153.0 73.4L152.0 73.2L151.0 73.0L150.5 72.9L149.5 72.7L148.5 72.5L147.8 72.4L147.0 72.2L146.0 72.1L145.0 71.9L144.5 71.8L143.5 71.6L142.5 71.5L142.0 71.4L141.0 71.2L140.0 71.0L139.3 70.9L138.5 70.8L137.5 70.6L136.5 70.4L136.0 70.3L135.0 70.1L134.0 70.0L133.4 69.9L132.5 69.7L131.5 69.6L130.5 69.4L130.0 69.3L129.0 69.2L128.0 69.0L127.3 68.9L126.5 68.8L125.5 68.6L124.5 68.4L124.0 68.4L123.0 68.2L122.0 68.0L121.0 67.9L120.5 67.8L119.5 67.7L118.5 67.5L117.8 67.4L117.0 67.3L116.0 67.2L115.0 67.0L114.4 66.9L113.5 66.8L112.5 66.6L111.5 66.5L110.8 66.4L110.0 66.3L109.0 66.1L108.0 66.0L107.3 65.9L106.5 65.8L105.5 65.7L104.5 65.5L103.5 65.4L103.0 65.4L102.0 65.2L101.0 65.1L100.0 64.9L99.5 64.9L98.5 64.7L97.5 64.6L96.5 64.5L96.0 64.4L95.0 64.3L94.0 64.0L93.5 63.8L93.0 63.4L92.1 62.9L91.5 62.7L91.5 62.0L91.5 61.8L90.9 61.4L90.8 60.4L91.0 59.4L91.5 59.4L92.0 58.5L92.6 58.4L93.2 57.9Z" fill="#4852f4" fill-rule="evenodd" stroke="#4852f4" stroke-width="0.3"/>
<path d="M93.3 58.4L94.0 58.3L95.0 58.1L96.0 57.9L97.0 58.0L98.0 58.0L99.0 58.1L100.0 58.1L101.0 58.1L102.0 58.2L103.0 58.2L104.0 58.3L105.0 58.4L105.5 58.4L106.5 58.5L107.5 58.5L108.5 58.6L109.5 58.6L110.5 58.7L111.5 58.8L112.5 58.8L113.5 58.9L114.0 59.0L115.0 59.0L116.0 59.1L117.0 59.1L118.0 59.2L119.0 59.3L120.0 59.3L121.0 59.4L121.5 59.4L122.5 59.5L123.5 59.6L124.5 59.6L125.5 59.7L126.5 59.8L127.5 59.8L128.3 59.9L129.0 59.9L130.0 60.0L131.0 60.1L132.0 60.2L133.0 60.2L134.0 60.3L135.0 60.4L135.5 60.4L136.5 60.5L137.5 60.6L138.5 60.7L139.5 60.8L140.5 60.8L141.1 60.9L142.0 61.0L143.0 61.0L144.0 61.1L145.0 61.2L146.0 61.3L147.0 61.4L147.5 61.4L148.5 61.6L149.5 61.6L150.5 61.7L151.5 61.8L152.5 61.9L153.0 61.9L154.0 62.0L155.0 62.1L156.0 62.2L157.0 62.3L158.0 62.4L158.5 62.4L159.5 62.5L160.5 62.6L161.5 62.7L162.5 62.8L163.3 62.9L164.0 63.0L165.0 63.1L166.0 63.2L167.0 63.3L167.6 63.4L168.5 63.5L169.5 63.6L170.5 63.7L171.5 63.9L172.0 63.9L173.0 64.0L174.0 64.2L175.0 64.3L175.9 64.4L176.5 64.5L177.5 64.6L178.5 64.7L179.5 64.9L180.0 64.9L181.0 65.1L182.0 65.2L183.0 65.3L183.5 65.4L184.5 65.5L185.5 65.7L186.5 65.8L187.0 65.9L188.0 66.1L189.0 66.2L190.0 66.3L190.5 66.4L191.5 66.6L192.5 66.7L193.5 66.9L194.0 66.9L195.0 67.1L196.0 67.2L197.0 67.4L197.5 67.5L198.5 67.6L199.5 67.8L200.2 67.9L201.0 68.0L202.0 68.2L203.0 68.4L203.5 68.4L204.5 68.6L205.5 68.8L206.1 68.9L207.0 69.1L208.0 69.2L209.0 69.4L209.5 69.5L210.5 69.7L211.5 69.8L212.0 69.9L213.0 70.1L214.0 70.3L214.5 70.4L215.5 70.6L216.5 70.7L217.5 70.9L218.0 71.0L219.0 71.1L220.0 71.3L220.5 71.4L221.5 71.6L222.5 71.7L223.5 71.9L224.0 72.0L225.0 72.2L226.0 72.3L226.5 72.4L227.5 72.6L228.5 72.8L229.3 72.9L230.0 73.0L231.0 73.2L232.0 73.4L232.5 73.5L233.5 73.7L234.5 73.8L235.0 73.9L236.0 74.1L237.0 74.3L237.5 74.4L238.5 74.6L239.5 74.8L240.1 74.9L241.0 75.1L242.0 75.3L242.7 75.4L243.5 75.5L244.5 75.7L245.3 75.9L246.0 76.0L247.0 76.2L247.9 76.4L248.5 76.5L249.5 76.7L250.4 76.9L251.0 77.0L252.0 77.2L252.9 77.4L253.5 77.5L254.5 77.7L255.4 77.9L256.0 78.0L257.0 78.2L257.8 78.4L258.5 78.5L259.5 78.7L260.3 78.9L261.0 79.0L262.0 79.3L262.7 79.4L263.5 79.6L264.5 79.8L265.1 79.9L266.0 80.1L267.0 80.3L267.5 80.4L268.5 80.6L269.5 80.8L270.1 80.9L271.0 81.1L272.0 81.3L272.6 81.4L273.5 81.6L274.5 81.8L275.0 81.9L276.0 82.1L277.0 82.3L277.5 82.4L278.5 82.6L279.5 82.8L280.0 82.9L281.0 83.1L282.0 83.3L282.5 83.4L283.5 83.6L284.5 83.9L285.0 84.0L286.0 84.2L287.0 84.4L287.5 84.5L288.5 84.7L289.3 84.9L290.0 85.0L291.0 85.2L291.6 85.4L292.5 85.6L293.5 85.8L294.0 85.9L295.0 86.1L296.0 86.3L296.5 86.5L297.5 86.7L298.5 86.9L299.0 87.0L300.0 87.2L300.8 87.4L301.5 87.6L302.5 87.8L303.0 87.9L304.0 88.1L305.0 88.3L305.5 88.5L306.5 88.7L307.4 88.9L308.0 89.0L309.0 89.3L309.6 89.4L310.5 89.6L311.5 89.8L312.0 90.0L313.0 90.2L313.8 90.4L314.5 90.6L315.5 90.8L316.0 91.0L317.0 91.2L317.7 91.4L318.5 91.6L319.5 91.9L320.0 92.0L321.0 92.2L321.6 92.4L322.5 92.6L323.5 92.9L324.0 93.0L325.0 93.3L325.5 93.4L326.5 93.7L327.4 93.9L328.0 94.0L329.0 94.3L329.5 94.4L330.5 94.7L331.2 94.9L332.0 95.1L333.0 95.4L333.5 95.5L334.5 95.8L335.0 95.9L336.0 96.2L336.9 96.4L337.5 96.6L338.5 96.8L339.0 97.0L340.0 97.2L340.6 97.4L341.5 97.6L342.5 97.9L343.0 98.0L344.0 98.3L344.5 98.5L345.5 98.7L346.1 98.9L347.0 99.1L347.9 99.4L348.5 99.5L349.5 99.8L350.0 100.0L351.0 100.2L351.5 100.4L352.5 100.7L353.3 100.9L354.0 101.1L355.0 101.4L355.5 101.5L356.5 101.8L357.0 101.9L358.0 102.2L358.6 102.4L359.5 102.6L360.4 102.9L361.0 103.1L362.0 103.4L362.5 103.5L363.5 103.8L364.0 103.9L365.0 104.2L365.7 104.4L366.5 104.6L367.4 104.9L368.0 105.1L369.0 105.4L369.5 105.5L370.5 105.8L371.0 106.0L372.0 106.2L372.0 106.9L372.0 107.9L372.0 108.9L372.0 109.9L372.0 110.9L372.0 111.9L372.0 112.9L372.0 113.9L372.0 114.9L372.0 115.9L372.0 116.9L372.0 117.9L372.0 118.9L372.0 119.8L371.0 119.5L370.5 119.3L369.5 119.1L368.9 118.9L368.0 118.6L367.1 118.4L366.5 118.2L365.5 118.0L365.0 117.8L364.0 117.6L363.4 117.4L362.5 117.2L361.5 116.9L361.0 116.8L360.0 116.5L359.5 116.4L358.5 116.1L357.7 115.9L357.0 115.7L356.0 115.5L355.5 115.3L354.5 115.1L353.8 114.9L353.0 114.7L352.0 114.4L351.5 114.3L350.5 114.0L350.0 113.9L349.0 113.7L348.0 113.4L347.5 113.3L346.5 113.0L346.0 112.9L345.0 112.6L344.1 112.4L343.5 112.3L342.5 112.0L342.0 111.9L341.0 111.6L340.1 111.4L339.5 111.2L338.5 111.0L338.0 110.9L337.0 110.6L336.2 110.4L335.5 110.2L334.5 110.0L334.0 109.9L333.0 109.6L332.2 109.4L331.5 109.2L330.5 109.0L330.0 108.9L329.0 108.6L328.1 108.4L327.5 108.3L326.5 108.0L326.0 107.9L325.0 107.6L324.0 107.4L323.5 107.3L322.5 107.0L321.9 106.9L321.0 106.7L320.0 106.4L319.5 106.3L318.5 106.1L317.8 105.9L317.0 105.7L316.0 105.5L315.5 105.4L314.5 105.1L313.6 104.9L313.0 104.8L312.0 104.5L311.4 104.4L310.5 104.2L309.5 103.9L309.0 103.8L308.0 103.6L307.1 103.4L306.5 103.3L305.5 103.1L304.7 102.9L304.0 102.8L303.0 102.5L302.3 102.4L301.5 102.2L300.5 102.0L299.9 101.9L299.0 101.7L298.0 101.5L297.5 101.4L296.5 101.2L295.5 101.0L295.0 100.9L294.0 100.7L293.0 100.5L292.5 100.4L291.5 100.2L290.5 100.0L290.0 99.9L289.0 99.7L288.0 99.5L287.5 99.4L286.5 99.2L285.5 99.0L285.0 98.9L284.0 98.7L283.0 98.5L282.5 98.4L281.5 98.2L280.5 98.0L279.9 97.9L279.0 97.7L278.0 97.5L277.4 97.4L276.5 97.2L275.5 97.0L274.7 96.9L274.0 96.8L273.0 96.6L272.1 96.4L271.5 96.3L270.5 96.1L269.5 95.9L269.0 95.8L268.0 95.6L267.0 95.5L266.5 95.3L265.5 95.2L264.5 95.0L264.0 94.9L263.0 94.7L262.0 94.5L261.5 94.4L260.5 94.2L259.5 94.0L259.0 93.8L258.0 93.6L257.0 93.4L256.5 93.3L255.5 93.1L254.5 92.9L254.0 92.8L253.0 92.6L252.0 92.4L251.5 92.3L250.5 92.1L249.5 91.9L249.0 91.8L248.0 91.6L247.0 91.4L246.5 91.3L245.5 91.1L244.5 90.9L244.0 90.8L243.0 90.6L242.0 90.4L241.5 90.3L240.5 90.1L239.5 89.9L239.0 89.8L238.0 89.7L237.0 89.5L236.5 89.4L235.5 89.2L234.5 89.0L234.0 88.9L233.0 88.7L232.0 88.5L231.5 88.4L230.5 88.2L229.5 88.0L228.8 87.9L228.0 87.7L227.0 87.6L226.1 87.4L225.5 87.3L224.5 87.1L223.5 86.9L223.0 86.8L222.0 86.6L221.0 86.4L220.5 86.3L219.5 86.2L218.5 86.0L218.0 85.9L217.0 85.7L216.0 85.5L215.4 85.4L214.5 85.2L213.5 85.0L212.8 84.9L212.0 84.7L211.0 84.5L210.4 84.4L209.5 84.2L208.5 84.0L208.0 83.9L207.0 83.7L206.0 83.5L205.5 83.4L204.5 83.2L203.5 83.0L203.0 82.9L202.0 82.7L201.0 82.5L200.5 82.4L199.5 82.2L198.5 82.0L198.0 81.9L197.0 81.7L196.0 81.5L195.5 81.4L194.5 81.2L193.5 81.0L193.0 80.9L192.0 80.7L191.0 80.5L190.5 80.4L189.5 80.2L188.5 80.0L188.0 79.8L187.0 79.7L186.0 79.4L185.5 79.3L184.5 79.1L183.5 78.9L183.0 78.8L182.0 78.6L181.0 78.4L180.5 78.3L179.5 78.1L178.5 77.9L178.0 77.9L177.0 77.6L176.0 77.4L175.5 77.4L174.5 77.1L173.5 77.0L173.0 76.9L172.0 76.6L171.0 76.5L170.5 76.3L169.5 76.2L168.5 76.0L168.0 75.9L167.0 75.7L166.0 75.5L165.5 75.4L164.5 75.2L163.5 75.0L163.0 74.9L162.0 74.7L161.0 74.5L160.5 74.4L159.5 74.2L158.5 74.0L157.9 73.9L157.0 73.7L156.0 73.5L155.3 73.4L154.5 73.2L153.5 73.0L152.7 72.9L152.0 72.7L151.0 72.6L150.1 72.4L149.5 72.3L148.5 72.1L147.5 71.9L147.0 71.8L146.0 71.7L145.0 71.5L144.5 71.4L143.5 71.2L142.5 71.0L141.8 70.9L141.0 70.8L140.0 70.6L139.0 70.4L138.5 70.3L137.5 70.2L136.5 70.0L135.9 69.9L135.0 69.7L134.0 69.6L133.0 69.4L132.5 69.3L131.5 69.2L130.5 69.0L130.0 68.9L129.0 68.8L128.0 68.6L127.0 68.4L126.5 68.3L125.5 68.2L124.5 68.0L123.7 67.9L123.0 67.8L122.0 67.6L121.0 67.5L120.5 67.4L119.5 67.2L118.5 67.1L117.5 66.9L117.0 66.9L116.0 66.7L115.0 66.6L114.0 66.4L113.5 66.4L112.5 66.2L111.5 66.1L110.5 65.9L110.0 65.8L109.0 65.7L108.0 65.6L107.0 65.5L106.5 65.4L105.5 65.3L104.5 65.1L103.5 65.0L102.7 64.9L102.0 64.8L101.0 64.6L100.0 64.5L99.0 64.4L98.5 64.3L97.5 64.2L96.5 64.0L95.5 63.9L95.0 63.8L94.0 63.6L93.5 63.3L93.0 62.8L92.2 62.4L91.9 61.9L91.7 60.9L91.8 59.9L92.0 59.3L92.8 58.9L93.3 58.4Z" fill="#4849ed" fill-rule="evenodd" stroke="#4849ed" stroke-width="0.3"/>
<path d="M95.8 58.4L96.1 58.4L97.0 58.4L98.0 58.5L99.0 58.5L100.0 58.6L101.0 58.6L102.0 58.6L103.0 58.7L104.0 58.8L105.0 58.8L106.0 58.9L106.5 58.9L107.5 59.0L108.5 59.0L109.5 59.1L110.5 59.2L111.5 59.2L112.5 59.3L113.5 59.3L114.5 59.4L115.0 59.4L116.0 59.5L117.0 59.6L118.0 59.7L119.0 59.7L120.0 59.8L121.0 59.8L121.9 59.9L122.5 59.9L123.5 60.0L124.5 60.1L125.5 60.2L126.5 60.2L127.5 60.3L128.5 60.3L129.2 60.4L130.0 60.4L131.0 60.5L132.0 60.6L133.0 60.7L134.0 60.7L135.0 60.8L135.9 60.9L136.5 60.9L137.5 61.0L138.5 61.1L139.5 61.2L140.5 61.3L141.5 61.3L142.2 61.4L143.0 61.5L144.0 61.6L145.0 61.7L146.0 61.8L147.0 61.8L148.0 61.9L148.5 62.0L149.5 62.0L150.5 62.1L151.5 62.2L152.5 62.3L153.5 62.4L154.0 62.4L155.0 62.5L156.0 62.6L157.0 62.7L158.0 62.8L159.0 62.9L159.6 62.9L160.5 63.0L161.5 63.1L162.5 63.2L163.5 63.3L164.5 63.4L165.0 63.5L166.0 63.6L167.0 63.7L168.0 63.8L168.9 63.9L169.5 64.0L170.5 64.1L171.5 64.2L172.5 64.3L173.2 64.4L174.0 64.5L175.0 64.6L176.0 64.7L177.0 64.9L177.5 64.9L178.5 65.1L179.5 65.2L180.5 65.3L181.0 65.4L182.0 65.5L183.0 65.7L184.0 65.8L184.7 65.9L185.5 66.0L186.5 66.2L187.5 66.3L188.2 66.4L189.0 66.5L190.0 66.6L191.0 66.8L191.7 66.9L192.5 67.0L193.5 67.2L194.5 67.3L195.0 67.4L196.0 67.5L197.0 67.7L198.0 67.9L198.5 67.9L199.5 68.1L200.5 68.3L201.5 68.4L202.0 68.5L203.0 68.7L204.0 68.8L204.5 68.9L205.5 69.1L206.5 69.3L207.3 69.4L208.0 69.5L209.0 69.7L210.0 69.9L210.5 70.0L211.5 70.1L212.5 70.3L213.0 70.4L214.0 70.6L215.0 70.8L215.8 70.9L216.5 71.0L217.5 71.2L218.5 71.3L219.0 71.4L220.0 71.6L221.0 71.8L221.9 71.9L222.5 72.0L223.5 72.2L224.5 72.3L225.0 72.4L226.0 72.6L227.0 72.8L227.7 72.9L228.5 73.0L229.5 73.2L230.5 73.4L231.0 73.5L232.0 73.7L233.0 73.8L233.5 73.9L234.5 74.1L235.5 74.3L236.0 74.4L237.0 74.6L238.0 74.8L238.7 74.9L239.5 75.0L240.5 75.2L241.4 75.4L242.0 75.5L243.0 75.7L244.0 75.9L244.5 76.0L245.5 76.2L246.5 76.4L247.0 76.5L248.0 76.7L249.0 76.9L249.5 77.0L250.5 77.2L251.5 77.4L252.0 77.5L253.0 77.7L254.0 77.9L254.5 78.0L255.5 78.2L256.5 78.4L257.0 78.5L258.0 78.7L259.0 78.9L259.5 79.0L260.5 79.2L261.5 79.4L262.0 79.5L263.0 79.7L263.9 79.9L264.5 80.0L265.5 80.2L266.3 80.4L267.0 80.5L268.0 80.7L268.9 80.9L269.5 81.0L270.5 81.2L271.4 81.4L272.0 81.5L273.0 81.7L273.9 81.9L274.5 82.0L275.5 82.2L276.3 82.4L277.0 82.5L278.0 82.7L278.8 82.9L279.5 83.0L280.5 83.3L281.2 83.4L282.0 83.6L283.0 83.8L283.6 83.9L284.5 84.1L285.5 84.3L286.0 84.4L287.0 84.6L288.0 84.8L288.5 84.9L289.5 85.2L290.5 85.4L291.0 85.5L292.0 85.7L292.9 85.9L293.5 86.0L294.5 86.2L295.2 86.4L296.0 86.6L297.0 86.8L297.5 86.9L298.5 87.1L299.5 87.4L300.0 87.5L301.0 87.7L301.9 87.9L302.5 88.0L303.5 88.2L304.2 88.4L305.0 88.6L306.0 88.8L306.5 88.9L307.5 89.1L308.5 89.4L309.0 89.5L310.0 89.7L310.7 89.9L311.5 90.1L312.5 90.3L313.0 90.4L314.0 90.7L314.8 90.9L315.5 91.1L316.5 91.3L317.0 91.5L318.0 91.7L318.7 91.9L319.5 92.1L320.5 92.3L321.0 92.5L322.0 92.7L322.6 92.9L323.5 93.1L324.5 93.4L325.0 93.5L326.0 93.8L326.5 93.9L327.5 94.2L328.4 94.4L329.0 94.6L330.0 94.8L330.5 94.9L331.5 95.2L332.2 95.4L333.0 95.6L334.0 95.9L334.5 96.0L335.5 96.3L336.0 96.4L337.0 96.7L337.8 96.9L338.5 97.1L339.5 97.3L340.0 97.5L341.0 97.7L341.5 97.9L342.5 98.1L343.4 98.4L344.0 98.6L345.0 98.8L345.5 99.0L346.5 99.2L347.0 99.4L348.0 99.7L348.9 99.9L349.5 100.1L350.5 100.4L351.0 100.5L352.0 100.8L352.5 100.9L353.5 101.2L354.2 101.4L355.0 101.6L356.0 101.9L356.5 102.0L357.5 102.3L358.0 102.5L359.0 102.7L359.5 102.9L360.5 103.2L361.3 103.4L362.0 103.6L363.0 103.9L363.5 104.0L364.5 104.3L365.0 104.5L366.0 104.8L366.5 104.9L367.5 105.2L368.2 105.4L369.0 105.6L369.9 105.9L370.5 106.1L371.5 106.4L372.0 106.5L372.0 107.4L372.0 108.4L372.0 109.4L372.0 110.4L372.0 111.4L372.0 112.4L372.0 113.4L372.0 114.4L372.0 115.4L372.0 116.4L372.0 117.4L372.0 118.4L372.0 119.4L371.7 119.4L371.0 119.2L370.0 118.9L369.5 118.8L368.5 118.5L368.0 118.4L367.0 118.1L366.2 117.9L365.5 117.7L364.5 117.5L364.0 117.3L363.0 117.1L362.5 116.9L361.5 116.7L360.5 116.4L360.0 116.3L359.0 116.0L358.5 115.9L357.5 115.6L356.7 115.4L356.0 115.2L355.0 115.0L354.5 114.8L353.5 114.6L352.9 114.4L352.0 114.2L351.0 113.9L350.5 113.8L349.5 113.5L349.0 113.4L348.0 113.2L347.1 112.9L346.5 112.8L345.5 112.5L345.0 112.4L344.0 112.1L343.1 111.9L342.5 111.8L341.5 111.5L341.0 111.4L340.0 111.1L339.1 110.9L338.5 110.7L337.5 110.5L337.0 110.4L336.0 110.1L335.1 109.9L334.5 109.7L333.5 109.5L333.0 109.4L332.0 109.1L331.1 108.9L330.5 108.8L329.5 108.5L329.0 108.4L328.0 108.1L327.0 107.9L326.5 107.8L325.5 107.5L325.0 107.4L324.0 107.2L323.0 106.9L322.5 106.8L321.5 106.6L320.9 106.4L320.0 106.2L319.0 106.0L318.5 105.8L317.5 105.6L316.7 105.4L316.0 105.2L315.0 105.0L314.5 104.9L313.5 104.6L312.5 104.4L312.0 104.3L311.0 104.1L310.3 103.9L309.5 103.7L308.5 103.5L308.0 103.4L307.0 103.2L306.0 102.9L305.5 102.8L304.5 102.6L303.5 102.4L303.0 102.3L302.0 102.1L301.0 101.9L300.5 101.8L299.5 101.6L298.6 101.4L298.0 101.3L297.0 101.1L296.2 100.9L295.5 100.8L294.5 100.6L293.7 100.4L293.0 100.3L292.0 100.1L291.3 99.9L290.5 99.8L289.5 99.5L288.8 99.4L288.0 99.3L287.0 99.0L286.3 98.9L285.5 98.8L284.5 98.6L283.7 98.4L283.0 98.3L282.0 98.1L281.2 97.9L280.5 97.8L279.5 97.6L278.6 97.4L278.0 97.3L277.0 97.1L276.0 96.9L275.5 96.8L274.5 96.6L273.5 96.4L273.0 96.3L272.0 96.2L271.0 96.0L270.5 95.9L269.5 95.7L268.5 95.5L268.0 95.4L267.0 95.2L266.0 95.0L265.3 94.9L264.5 94.7L263.5 94.6L262.8 94.4L262.0 94.2L261.0 94.0L260.4 93.9L259.5 93.7L258.5 93.5L258.0 93.4L257.0 93.2L256.0 93.0L255.5 92.9L254.5 92.7L253.5 92.5L253.0 92.4L252.0 92.2L251.0 92.0L250.5 91.9L249.5 91.7L248.5 91.5L248.0 91.4L247.0 91.2L246.0 91.0L245.5 90.9L244.5 90.7L243.5 90.5L243.0 90.4L242.0 90.2L241.0 90.0L240.5 89.9L239.5 89.7L238.5 89.5L238.0 89.4L237.0 89.2L236.0 89.0L235.5 88.9L234.5 88.7L233.5 88.5L232.9 88.4L232.0 88.2L231.0 88.1L230.2 87.9L229.5 87.8L228.5 87.6L227.6 87.4L227.0 87.3L226.0 87.1L225.0 86.9L224.5 86.8L223.5 86.6L222.5 86.4L222.0 86.4L221.0 86.2L220.0 86.0L219.5 85.9L218.5 85.7L217.5 85.5L216.9 85.4L216.0 85.2L215.0 85.0L214.3 84.9L213.5 84.7L212.5 84.5L211.8 84.4L211.0 84.2L210.0 84.0L209.4 83.9L208.5 83.7L207.5 83.5L207.0 83.4L206.0 83.2L205.0 83.0L204.5 82.9L203.5 82.7L202.5 82.5L202.0 82.4L201.0 82.2L200.0 82.0L199.5 81.9L198.5 81.7L197.5 81.5L197.0 81.4L196.0 81.2L195.0 81.0L194.5 80.9L193.5 80.7L192.5 80.5L192.0 80.4L191.0 80.2L190.0 79.9L189.5 79.8L188.5 79.6L187.5 79.4L187.0 79.3L186.0 79.1L185.0 78.9L184.5 78.8L183.5 78.6L182.5 78.4L182.0 78.3L181.0 78.1L180.0 77.9L179.5 77.8L178.5 77.6L177.5 77.4L177.0 77.3L176.0 77.1L175.0 76.9L174.5 76.8L173.5 76.6L172.5 76.4L172.0 76.3L171.0 76.1L170.0 75.9L169.5 75.8L168.5 75.6L167.5 75.4L167.0 75.3L166.0 75.1L165.0 74.9L164.5 74.8L163.5 74.6L162.5 74.4L162.0 74.3L161.0 74.1L160.0 73.9L159.5 73.8L158.5 73.6L157.5 73.4L157.0 73.3L156.0 73.1L155.0 72.9L154.5 72.8L153.5 72.6L152.5 72.4L152.0 72.3L151.0 72.1L150.0 71.9L149.5 71.8L148.5 71.7L147.5 71.5L147.0 71.4L146.0 71.2L145.0 71.0L144.3 70.9L143.5 70.8L142.5 70.6L141.5 70.4L141.0 70.3L140.0 70.2L139.0 70.0L138.4 69.9L137.5 69.7L136.5 69.6L135.5 69.4L135.0 69.3L134.0 69.1L133.0 69.0L132.5 68.9L131.5 68.7L130.5 68.6L129.5 68.4L129.0 68.3L128.0 68.2L127.0 68.0L126.4 67.9L125.5 67.7L124.5 67.6L123.5 67.4L123.0 67.3L122.0 67.2L121.0 67.0L120.2 66.9L119.5 66.8L118.5 66.6L117.5 66.5L116.9 66.4L116.0 66.3L115.0 66.1L114.0 66.0L113.4 65.9L112.5 65.8L111.5 65.6L110.5 65.5L110.0 65.4L109.0 65.3L108.0 65.1L107.0 65.0L106.2 64.9L105.5 64.8L104.5 64.7L103.5 64.5L102.5 64.4L102.0 64.4L101.0 64.2L100.0 64.1L99.0 63.9L98.5 63.9L97.5 63.7L96.5 63.6L95.5 63.4L95.0 63.4L94.0 63.1L93.5 62.7L93.0 62.1L92.4 61.9L92.1 60.9L92.2 59.9L93.0 59.4L93.4 58.9L94.0 58.8L95.0 58.6L95.8 58.4Z" fill="#4740e4" fill-rule="evenodd" stroke="#4740e4" stroke-width="0.3"/>
<path d="M94.1 59.4L95.0 59.1L96.0 58.9L97.0 58.9L98.0 59.0L99.0 59.0L100.0 59.0L101.0 59.1L102.0 59.1L103.0 59.2L104.0 59.3L105.0 59.3L106.0 59.4L106.5 59.4L107.5 59.4L108.5 59.5L109.5 59.6L110.5 59.7L111.5 59.7L112.5 59.7L113.5 59.8L114.5 59.9L115.0 59.9L116.0 60.0L117.0 60.1L118.0 60.1L119.0 60.2L120.0 60.2L121.0 60.3L122.0 60.4L122.6 60.4L123.5 60.5L124.5 60.6L125.5 60.6L126.5 60.7L127.5 60.7L128.5 60.8L129.5 60.9L130.0 60.9L131.0 61.0L132.0 61.1L133.0 61.1L134.0 61.2L135.0 61.3L136.0 61.4L136.7 61.4L137.5 61.5L138.5 61.6L139.5 61.6L140.5 61.7L141.5 61.8L142.5 61.9L143.0 61.9L144.0 62.0L145.0 62.1L146.0 62.2L147.0 62.2L148.0 62.3L148.7 62.4L149.5 62.5L150.5 62.6L151.5 62.7L152.5 62.8L153.5 62.8L154.5 62.9L155.0 62.9L156.0 63.0L157.0 63.1L158.0 63.2L159.0 63.3L160.0 63.4L160.8 63.4L161.5 63.5L162.5 63.6L163.5 63.7L164.5 63.8L165.5 63.9L166.0 63.9L167.0 64.0L168.0 64.2L169.0 64.3L170.0 64.4L170.5 64.4L171.5 64.6L172.5 64.7L173.5 64.8L174.5 64.9L175.0 65.0L176.0 65.1L177.0 65.2L178.0 65.3L178.5 65.4L179.5 65.5L180.5 65.7L181.5 65.8L182.4 65.9L183.0 66.0L184.0 66.1L185.0 66.3L186.0 66.4L186.5 66.5L187.5 66.6L188.5 66.7L189.5 66.9L190.0 67.0L191.0 67.1L192.0 67.3L192.9 67.4L193.5 67.5L194.5 67.6L195.5 67.8L196.4 67.9L197.0 68.0L198.0 68.2L199.0 68.3L199.6 68.4L200.5 68.6L201.5 68.7L202.5 68.9L203.0 68.9L204.0 69.1L205.0 69.3L205.7 69.4L206.5 69.5L207.5 69.7L208.5 69.9L209.0 70.0L210.0 70.1L211.0 70.3L211.5 70.4L212.5 70.6L213.5 70.8L214.3 70.9L215.0 71.0L216.0 71.2L217.0 71.4L217.5 71.5L218.5 71.6L219.5 71.8L220.2 71.9L221.0 72.0L222.0 72.2L223.0 72.3L223.5 72.4L224.5 72.6L225.5 72.8L226.3 72.9L227.0 73.0L228.0 73.2L229.0 73.4L229.5 73.5L230.5 73.6L231.5 73.8L232.0 73.9L233.0 74.1L234.0 74.3L234.7 74.4L235.5 74.6L236.5 74.7L237.4 74.9L238.0 75.0L239.0 75.2L240.0 75.4L240.5 75.5L241.5 75.7L242.5 75.9L243.0 76.0L244.0 76.1L245.0 76.3L245.5 76.4L246.5 76.6L247.5 76.8L248.0 76.9L249.0 77.1L250.0 77.3L250.5 77.4L251.5 77.6L252.5 77.8L253.0 77.9L254.0 78.1L255.0 78.3L255.5 78.4L256.5 78.6L257.5 78.8L258.0 78.9L259.0 79.1L260.0 79.3L260.5 79.4L261.5 79.6L262.5 79.8L263.0 79.9L264.0 80.1L265.0 80.3L265.5 80.5L266.5 80.7L267.5 80.9L268.0 80.9L269.0 81.1L270.0 81.3L270.5 81.4L271.5 81.6L272.5 81.8L273.0 81.9L274.0 82.1L275.0 82.4L275.5 82.4L276.5 82.7L277.5 82.9L278.0 83.0L279.0 83.2L280.0 83.4L280.5 83.5L281.5 83.7L282.5 83.9L283.0 84.0L284.0 84.2L284.9 84.4L285.5 84.5L286.5 84.8L287.2 84.9L288.0 85.1L289.0 85.3L289.5 85.4L290.5 85.6L291.5 85.8L292.0 85.9L293.0 86.2L294.0 86.4L294.5 86.5L295.5 86.7L296.4 86.9L297.0 87.0L298.0 87.2L298.7 87.4L299.5 87.6L300.5 87.8L301.0 87.9L302.0 88.1L303.0 88.4L303.5 88.5L304.5 88.7L305.4 88.9L306.0 89.0L307.0 89.3L307.6 89.4L308.5 89.6L309.5 89.8L310.0 90.0L311.0 90.2L311.9 90.4L312.5 90.5L313.5 90.8L314.0 90.9L315.0 91.2L315.8 91.4L316.5 91.6L317.5 91.8L318.0 91.9L319.0 92.2L319.8 92.4L320.5 92.6L321.5 92.8L322.0 93.0L323.0 93.2L323.7 93.4L324.5 93.6L325.5 93.9L326.0 94.0L327.0 94.3L327.5 94.4L328.5 94.7L329.4 94.9L330.0 95.1L331.0 95.3L331.5 95.5L332.5 95.7L333.2 95.9L334.0 96.1L335.0 96.4L335.5 96.5L336.5 96.8L337.0 96.9L338.0 97.2L338.8 97.4L339.5 97.6L340.5 97.9L341.0 98.0L342.0 98.3L342.5 98.4L343.5 98.7L344.4 98.9L345.0 99.1L346.0 99.3L346.5 99.5L347.5 99.8L348.0 99.9L349.0 100.2L349.8 100.4L350.5 100.6L351.5 100.9L352.0 101.0L353.0 101.3L353.5 101.4L354.5 101.7L355.2 101.9L356.0 102.1L356.9 102.4L357.5 102.6L358.5 102.9L359.0 103.0L360.0 103.3L360.5 103.4L361.5 103.7L362.2 103.9L363.0 104.1L363.9 104.4L364.5 104.6L365.5 104.8L366.0 105.0L367.0 105.3L367.5 105.4L368.5 105.7L369.1 105.9L370.0 106.2L370.8 106.4L371.5 106.6L372.0 106.9L372.0 107.9L372.0 108.9L372.0 109.9L372.0 110.9L372.0 111.9L372.0 112.9L372.0 113.9L372.0 114.9L372.0 115.9L372.0 116.9L372.0 117.9L372.0 118.9L371.5 119.1L370.7 118.9L370.0 118.7L369.0 118.4L368.5 118.3L367.5 118.0L367.0 117.9L366.0 117.6L365.2 117.4L364.5 117.2L363.5 116.9L363.0 116.8L362.0 116.6L361.4 116.4L360.5 116.2L359.5 115.9L359.0 115.8L358.0 115.5L357.5 115.4L356.5 115.1L355.7 114.9L355.0 114.7L354.0 114.5L353.5 114.3L352.5 114.1L351.9 113.9L351.0 113.7L350.0 113.4L349.5 113.3L348.5 113.0L348.0 112.9L347.0 112.7L346.0 112.4L345.5 112.3L344.5 112.0L344.0 111.9L343.0 111.6L342.0 111.4L341.5 111.3L340.5 111.0L340.0 110.9L339.0 110.6L338.1 110.4L337.5 110.3L336.5 110.0L336.0 109.9L335.0 109.6L334.1 109.4L333.5 109.3L332.5 109.0L332.0 108.9L331.0 108.6L330.1 108.4L329.5 108.3L328.5 108.0L328.0 107.9L327.0 107.7L326.0 107.4L325.5 107.3L324.5 107.0L323.9 106.9L323.0 106.7L322.0 106.4L321.5 106.3L320.5 106.1L319.8 105.9L319.0 105.7L318.0 105.5L317.5 105.4L316.5 105.1L315.6 104.9L315.0 104.8L314.0 104.5L313.5 104.4L312.5 104.2L311.5 103.9L311.0 103.8L310.0 103.6L309.2 103.4L308.5 103.2L307.5 103.0L306.9 102.9L306.0 102.7L305.0 102.5L304.5 102.4L303.5 102.2L302.5 102.0L302.0 101.9L301.0 101.7L300.0 101.5L299.5 101.4L298.5 101.2L297.5 100.9L297.0 100.8L296.0 100.6L295.0 100.4L294.5 100.3L293.5 100.1L292.5 99.9L292.0 99.8L291.0 99.6L290.0 99.4L289.5 99.3L288.5 99.1L287.5 98.9L287.0 98.8L286.0 98.6L285.0 98.4L284.5 98.3L283.5 98.1L282.5 97.9L282.0 97.8L281.0 97.7L280.0 97.5L279.5 97.4L278.5 97.2L277.5 97.0L277.0 96.9L276.0 96.7L275.0 96.5L274.5 96.4L273.5 96.2L272.5 96.0L271.9 95.9L271.0 95.7L270.0 95.6L269.2 95.4L268.5 95.3L267.5 95.1L266.5 94.9L266.0 94.8L265.0 94.6L264.0 94.4L263.5 94.3L262.5 94.1L261.5 93.9L261.0 93.8L260.0 93.6L259.1 93.4L258.5 93.3L257.5 93.1L256.7 92.9L256.0 92.8L255.0 92.6L254.2 92.4L253.5 92.2L252.5 92.0L251.8 91.9L251.0 91.7L250.0 91.5L249.3 91.4L248.5 91.2L247.5 91.0L246.9 90.9L246.0 90.7L245.0 90.5L244.4 90.4L243.5 90.2L242.5 90.0L241.9 89.9L241.0 89.7L240.0 89.5L239.3 89.4L238.5 89.2L237.5 89.1L236.7 88.9L236.0 88.8L235.0 88.6L234.2 88.4L233.5 88.3L232.5 88.1L231.6 87.9L231.0 87.8L230.0 87.6L229.0 87.4L228.5 87.3L227.5 87.1L226.5 86.9L226.0 86.8L225.0 86.7L224.0 86.5L223.5 86.4L222.5 86.2L221.5 86.0L221.0 85.9L220.0 85.7L219.0 85.5L218.4 85.4L217.5 85.2L216.5 85.1L215.7 84.9L215.0 84.8L214.0 84.6L213.1 84.4L212.5 84.3L211.5 84.1L210.7 83.9L210.0 83.8L209.0 83.5L208.3 83.4L207.5 83.2L206.5 83.0L205.9 82.9L205.0 82.7L204.0 82.5L203.4 82.4L202.5 82.2L201.5 82.0L201.0 81.9L200.0 81.7L199.0 81.5L198.5 81.4L197.5 81.2L196.5 81.0L196.0 80.9L195.0 80.7L194.0 80.4L193.5 80.4L192.5 80.1L191.5 79.9L191.0 79.8L190.0 79.6L189.0 79.4L188.5 79.3L187.5 79.1L186.5 78.9L186.0 78.8L185.0 78.6L184.0 78.4L183.5 78.3L182.5 78.1L181.5 77.9L181.0 77.8L180.0 77.6L179.1 77.4L178.5 77.3L177.5 77.1L176.6 76.9L176.0 76.8L175.0 76.6L174.1 76.4L173.5 76.3L172.5 76.1L171.7 75.9L171.0 75.8L170.0 75.6L169.3 75.4L168.5 75.3L167.5 75.1L166.8 74.9L166.0 74.8L165.0 74.5L164.3 74.4L163.5 74.2L162.5 74.0L161.8 73.9L161.0 73.7L160.0 73.5L159.3 73.4L158.5 73.2L157.5 73.0L157.0 72.9L156.0 72.7L155.0 72.5L154.5 72.4L153.5 72.2L152.5 72.0L152.0 71.9L151.0 71.7L150.0 71.5L149.4 71.4L148.5 71.2L147.5 71.1L146.7 70.9L146.0 70.8L145.0 70.6L144.0 70.4L143.5 70.3L142.5 70.1L141.5 70.0L141.0 69.9L140.0 69.7L139.0 69.5L138.1 69.4L137.5 69.3L136.5 69.1L135.5 69.0L135.0 68.9L134.0 68.7L133.0 68.5L132.3 68.4L131.5 68.3L130.5 68.1L129.5 67.9L129.0 67.9L128.0 67.7L127.0 67.5L126.2 67.4L125.5 67.3L124.5 67.1L123.5 67.0L123.0 66.8L122.0 66.7L121.0 66.6L120.0 66.4L119.5 66.3L118.5 66.2L117.5 66.0L116.8 65.9L116.0 65.8L115.0 65.6L114.0 65.5L113.2 65.4L112.5 65.3L111.5 65.1L110.5 65.0L109.8 64.9L109.0 64.8L108.0 64.7L107.0 64.5L106.2 64.4L105.5 64.3L104.5 64.2L103.5 64.0L102.5 64.0L102.0 63.9L101.0 63.7L100.0 63.6L99.0 63.5L98.5 63.4L97.5 63.2L96.5 63.1L95.7 62.9L95.0 62.8L94.0 62.5L93.5 62.0L93.2 61.4L93.1 60.4L93.5 59.5L94.1 59.4Z" fill="#4538d8" fill-rule="evenodd" stroke="#4538d8" stroke-width="0.3"/>
<path d="M94.6 59.9L95.5 59.6L96.5 59.6L97.5 59.6L98.5 59.6L99.5 59.6L100.5 59.7L101.5 59.7L102.5 59.7L103.5 59.8L104.5 59.8L105.5 59.9L106.0 59.9L107.0 60.0L108.0 60.1L109.0 60.1L110.0 60.1L111.0 60.2L112.0 60.3L113.0 60.4L114.0 60.4L114.5 60.4L115.5 60.5L116.5 60.5L117.5 60.6L118.5 60.7L119.5 60.8L120.5 60.8L121.5 60.8L122.0 60.9L123.0 60.9L124.0 61.0L125.0 61.1L126.0 61.1L127.0 61.2L128.0 61.3L129.0 61.3L130.0 61.4L130.5 61.4L131.5 61.5L132.5 61.6L133.5 61.7L134.5 61.7L135.5 61.8L136.5 61.9L137.1 61.9L138.0 62.0L139.0 62.0L140.0 62.1L141.0 62.2L142.0 62.3L143.0 62.4L143.5 62.4L144.5 62.5L145.5 62.6L146.5 62.7L147.5 62.8L148.5 62.8L149.3 62.9L150.0 63.0L151.0 63.1L152.0 63.1L153.0 63.2L154.0 63.3L155.0 63.4L156.0 63.4L156.5 63.5L157.5 63.5L158.5 63.6L159.5 63.7L160.5 63.8L161.5 63.9L162.1 63.9L163.0 64.0L164.0 64.1L165.0 64.2L166.0 64.3L167.0 64.4L167.5 64.4L168.5 64.6L169.5 64.7L170.5 64.8L171.4 64.9L172.0 64.9L173.0 65.1L174.0 65.2L175.0 65.3L175.9 65.4L176.5 65.5L177.5 65.6L178.5 65.7L179.5 65.9L180.0 65.9L181.0 66.0L182.0 66.2L183.0 66.3L183.8 66.4L184.5 66.5L185.5 66.7L186.5 66.8L187.4 66.9L188.0 67.0L189.0 67.1L190.0 67.3L191.0 67.4L191.5 67.5L192.5 67.6L193.5 67.8L194.4 67.9L195.0 68.0L196.0 68.1L197.0 68.3L197.8 68.4L198.5 68.5L199.5 68.7L200.5 68.8L201.0 68.9L202.0 69.1L203.0 69.2L204.0 69.4L204.5 69.5L205.5 69.6L206.5 69.8L207.0 69.9L208.0 70.1L209.0 70.2L209.9 70.4L210.5 70.5L211.5 70.7L212.5 70.9L213.0 70.9L214.0 71.1L215.0 71.3L215.6 71.4L216.5 71.6L217.5 71.7L218.5 71.9L219.0 72.0L220.0 72.1L221.0 72.3L221.7 72.4L222.5 72.5L223.5 72.7L224.5 72.9L225.0 72.9L226.0 73.1L227.0 73.3L227.7 73.4L228.5 73.5L229.5 73.7L230.5 73.9L231.0 74.0L232.0 74.2L233.0 74.3L233.5 74.4L234.5 74.6L235.5 74.8L236.1 74.9L237.0 75.1L238.0 75.3L238.8 75.4L239.5 75.5L240.5 75.7L241.5 75.9L242.0 76.0L243.0 76.2L244.0 76.4L244.5 76.5L245.5 76.7L246.5 76.9L247.0 77.0L248.0 77.1L249.0 77.3L249.5 77.4L250.5 77.6L251.5 77.8L252.0 77.9L253.0 78.1L254.0 78.3L254.5 78.4L255.5 78.6L256.5 78.8L257.0 78.9L258.0 79.1L259.0 79.3L259.5 79.4L260.5 79.6L261.5 79.8L262.0 80.0L263.0 80.1L264.0 80.4L264.5 80.5L265.5 80.7L266.5 80.9L267.0 81.0L268.0 81.2L269.0 81.4L269.5 81.5L270.5 81.6L271.5 81.9L272.0 82.0L273.0 82.1L274.0 82.4L274.5 82.5L275.5 82.7L276.5 82.9L277.0 83.0L278.0 83.2L279.0 83.4L279.5 83.5L280.5 83.7L281.4 83.9L282.0 84.0L283.0 84.2L283.8 84.4L284.5 84.5L285.5 84.8L286.2 84.9L287.0 85.1L288.0 85.3L288.5 85.4L289.5 85.6L290.5 85.8L291.0 85.9L292.0 86.2L293.0 86.4L293.5 86.5L294.5 86.7L295.4 86.9L296.0 87.0L297.0 87.3L297.7 87.4L298.5 87.6L299.5 87.8L300.0 87.9L301.0 88.1L302.0 88.4L302.5 88.5L303.5 88.7L304.4 88.9L305.0 89.0L306.0 89.3L306.6 89.4L307.5 89.6L308.5 89.8L309.0 89.9L310.0 90.2L311.0 90.4L311.5 90.5L312.5 90.8L313.0 90.9L314.0 91.1L315.0 91.4L315.5 91.5L316.5 91.8L317.0 91.9L318.0 92.2L318.9 92.4L319.5 92.5L320.5 92.8L321.0 92.9L322.0 93.2L322.8 93.4L323.5 93.6L324.5 93.8L325.0 94.0L326.0 94.2L326.6 94.4L327.5 94.6L328.5 94.9L329.0 95.0L330.0 95.3L330.5 95.4L331.5 95.7L332.4 95.9L333.0 96.1L334.0 96.3L334.5 96.5L335.5 96.7L336.1 96.9L337.0 97.1L337.9 97.4L338.5 97.5L339.5 97.8L340.0 97.9L341.0 98.2L341.7 98.4L342.5 98.6L343.5 98.9L344.0 99.0L345.0 99.3L345.5 99.4L346.5 99.7L347.1 99.9L348.0 100.1L349.0 100.4L349.5 100.6L350.5 100.8L351.0 101.0L352.0 101.2L352.5 101.4L353.5 101.7L354.3 101.9L355.0 102.1L356.0 102.4L356.5 102.5L357.5 102.8L358.0 102.9L359.0 103.2L359.6 103.4L360.5 103.6L361.4 103.9L362.0 104.1L363.0 104.4L363.5 104.5L364.5 104.8L365.0 105.0L366.0 105.2L366.6 105.4L367.5 105.7L368.3 105.9L369.0 106.1L370.0 106.4L370.5 106.5L371.5 106.9L372.0 107.0L372.0 107.9L372.0 108.9L372.0 109.9L372.0 110.9L372.0 111.9L372.0 112.9L372.0 113.9L372.0 114.9L372.0 115.9L372.0 116.9L372.0 117.9L372.0 118.9L371.6 118.9L371.0 118.7L370.0 118.5L369.5 118.3L368.5 118.1L367.9 117.9L367.0 117.6L366.1 117.4L365.5 117.2L364.5 117.0L364.0 116.8L363.0 116.6L362.3 116.4L361.5 116.2L360.5 115.9L360.0 115.8L359.0 115.5L358.5 115.4L357.5 115.1L356.6 114.9L356.0 114.7L355.0 114.5L354.5 114.3L353.5 114.1L352.7 113.9L352.0 113.7L351.0 113.5L350.5 113.3L349.5 113.1L348.8 112.9L348.0 112.7L347.0 112.4L346.5 112.3L345.5 112.0L344.9 111.9L344.0 111.7L343.0 111.4L342.5 111.3L341.5 111.0L340.9 110.9L340.0 110.7L339.0 110.4L338.5 110.3L337.5 110.0L337.0 109.9L336.0 109.7L335.0 109.4L334.5 109.3L333.5 109.0L333.0 108.9L332.0 108.7L331.0 108.4L330.5 108.3L329.5 108.0L328.9 107.9L328.0 107.7L327.0 107.4L326.5 107.3L325.5 107.1L324.8 106.9L324.0 106.7L323.0 106.5L322.5 106.3L321.5 106.1L320.7 105.9L320.0 105.7L319.0 105.5L318.5 105.4L317.5 105.1L316.5 104.9L316.0 104.8L315.0 104.6L314.4 104.4L313.5 104.2L312.5 104.0L312.0 103.8L311.0 103.6L310.1 103.4L309.5 103.3L308.5 103.0L307.9 102.9L307.0 102.7L306.0 102.5L305.5 102.4L304.5 102.2L303.5 102.0L303.0 101.9L302.0 101.7L301.0 101.4L300.5 101.3L299.5 101.1L298.5 100.9L298.0 100.8L297.0 100.6L296.0 100.4L295.5 100.3L294.5 100.1L293.5 99.9L293.0 99.8L292.0 99.6L291.0 99.4L290.5 99.3L289.5 99.1L288.5 98.9L288.0 98.8L287.0 98.6L286.0 98.4L285.5 98.3L284.5 98.1L283.5 97.9L283.0 97.8L282.0 97.6L281.0 97.4L280.5 97.3L279.5 97.1L278.5 97.0L278.0 96.8L277.0 96.7L276.0 96.5L275.5 96.4L274.5 96.2L273.5 96.0L273.0 95.9L272.0 95.7L271.0 95.5L270.3 95.4L269.5 95.3L268.5 95.1L267.6 94.9L267.0 94.8L266.0 94.6L265.1 94.4L264.5 94.3L263.5 94.1L262.5 93.9L262.0 93.8L261.0 93.6L260.2 93.4L259.5 93.3L258.5 93.1L257.8 92.9L257.0 92.7L256.0 92.5L255.3 92.4L254.5 92.2L253.5 92.0L252.9 91.9L252.0 91.7L251.0 91.5L250.5 91.4L249.5 91.2L248.5 91.0L248.0 90.9L247.0 90.7L246.0 90.5L245.5 90.4L244.5 90.2L243.5 90.0L243.0 89.9L242.0 89.7L241.0 89.5L240.5 89.4L239.5 89.2L238.5 89.0L238.0 88.9L237.0 88.7L236.0 88.5L235.4 88.4L234.5 88.2L233.5 88.0L232.8 87.9L232.0 87.7L231.0 87.6L230.2 87.4L229.5 87.3L228.5 87.1L227.6 86.9L227.0 86.8L226.0 86.6L225.0 86.4L224.5 86.3L223.5 86.1L222.5 85.9L222.0 85.8L221.0 85.6L220.0 85.4L219.5 85.4L218.5 85.2L217.5 85.0L217.0 84.9L216.0 84.7L215.0 84.5L214.5 84.4L213.5 84.2L212.5 84.0L212.0 83.9L211.0 83.7L210.0 83.5L209.5 83.4L208.5 83.2L207.5 83.0L207.0 82.8L206.0 82.7L205.0 82.4L204.5 82.3L203.5 82.1L202.5 81.9L202.0 81.8L201.0 81.6L200.0 81.4L199.5 81.3L198.5 81.1L197.5 80.9L197.0 80.8L196.0 80.6L195.1 80.4L194.5 80.3L193.5 80.1L192.8 79.9L192.0 79.8L191.0 79.5L190.3 79.4L189.5 79.2L188.5 79.0L187.9 78.9L187.0 78.7L186.0 78.5L185.5 78.4L184.5 78.2L183.5 78.0L183.0 77.9L182.0 77.7L181.0 77.5L180.5 77.4L179.5 77.1L178.5 77.0L178.0 76.9L177.0 76.6L176.0 76.4L175.5 76.3L174.5 76.1L173.5 75.9L173.0 75.8L172.0 75.6L171.0 75.4L170.5 75.3L169.5 75.1L168.5 74.9L168.0 74.8L167.0 74.6L166.0 74.4L165.5 74.3L164.5 74.1L163.6 73.9L163.0 73.8L162.0 73.6L161.3 73.4L160.5 73.3L159.5 73.0L158.9 72.9L158.0 72.7L157.0 72.5L156.4 72.4L155.5 72.2L154.5 72.0L154.0 71.9L153.0 71.6L152.0 71.5L151.5 71.4L150.5 71.1L149.5 71.0L149.0 70.9L148.0 70.7L147.0 70.5L146.5 70.4L145.5 70.2L144.5 70.1L143.6 69.9L143.0 69.8L142.0 69.6L141.0 69.4L140.5 69.3L139.5 69.2L138.5 69.0L137.9 68.9L137.0 68.7L136.0 68.5L135.1 68.4L134.5 68.3L133.5 68.1L132.5 68.0L132.0 67.8L131.0 67.7L130.0 67.5L129.3 67.4L128.5 67.3L127.5 67.1L126.5 66.9L126.0 66.9L125.0 66.7L124.0 66.5L123.3 66.4L122.5 66.3L121.5 66.1L120.5 65.9L120.0 65.9L119.0 65.7L118.0 65.6L117.0 65.4L116.5 65.3L115.5 65.2L114.5 65.0L113.5 64.9L113.0 64.8L112.0 64.7L111.0 64.5L110.1 64.4L109.5 64.3L108.5 64.1L107.5 64.0L106.5 63.9L106.0 63.8L105.0 63.7L104.0 63.6L103.0 63.4L102.5 63.4L101.5 63.2L100.5 63.1L99.6 62.9L99.0 62.8L98.0 62.6L97.0 62.5L96.4 62.4L95.5 62.1L94.7 61.9L94.0 61.6L94.0 61.3L94.3 60.4L94.6 59.9Z" fill="#4331c7" fill-rule="evenodd" stroke="#4331c7" stroke-width="0.3"/>
<path d="M97.1 60.9L98.0 60.8L99.0 60.7L100.0 60.5L101.0 60.5L102.0 60.5L103.0 60.6L104.0 60.6L105.0 60.6L106.0 60.7L107.0 60.7L108.0 60.8L109.0 60.8L110.0 60.8L110.5 60.9L111.0 60.9L111.5 60.9L112.5 61.0L113.5 61.0L114.5 61.1L115.5 61.2L116.5 61.2L117.5 61.2L118.5 61.3L119.5 61.4L119.7 61.4L120.3 61.4L121.0 61.5L122.0 61.5L123.0 61.5L124.0 61.6L125.0 61.7L126.0 61.7L127.0 61.8L128.0 61.8L129.0 61.9L129.5 61.9L130.5 62.0L131.5 62.0L132.5 62.1L133.5 62.2L134.5 62.2L135.5 62.3L136.5 62.4L137.0 62.4L138.0 62.5L139.0 62.6L140.0 62.7L141.0 62.7L142.0 62.8L143.0 62.9L143.6 62.9L144.5 63.0L145.5 63.1L146.5 63.2L147.5 63.3L148.5 63.3L149.5 63.4L150.0 63.5L151.0 63.5L152.0 63.6L153.0 63.7L154.0 63.7L155.0 63.8L156.0 63.8L157.0 63.9L157.5 63.9L158.5 64.0L159.5 64.1L160.5 64.2L161.5 64.3L162.5 64.3L163.2 64.4L164.0 64.5L165.0 64.6L166.0 64.7L167.0 64.8L168.0 64.9L168.5 64.9L169.5 65.0L170.5 65.1L171.5 65.2L172.5 65.3L173.0 65.4L174.0 65.6L175.0 65.6L176.0 65.7L177.0 65.9L177.5 65.9L178.5 66.1L179.5 66.2L180.5 66.3L181.3 66.4L182.0 66.5L183.0 66.6L184.0 66.7L185.0 66.9L185.5 67.0L186.5 67.1L187.5 67.2L188.5 67.4L189.0 67.4L190.0 67.6L191.0 67.7L192.0 67.9L192.5 67.9L193.5 68.1L194.5 68.2L195.5 68.3L196.0 68.4L197.0 68.6L198.0 68.7L199.0 68.9L199.5 69.0L200.5 69.1L201.5 69.3L202.3 69.4L203.0 69.5L204.0 69.7L205.0 69.8L205.5 69.9L206.5 70.1L207.5 70.3L208.3 70.4L209.0 70.5L210.0 70.7L211.0 70.9L211.5 71.0L212.5 71.1L213.5 71.3L214.1 71.4L215.0 71.6L216.0 71.7L217.0 71.9L217.5 72.0L218.5 72.1L219.5 72.3L220.2 72.4L221.0 72.6L222.0 72.7L223.0 72.9L223.5 73.0L224.5 73.1L225.5 73.3L226.2 73.4L227.0 73.6L228.0 73.7L229.0 73.9L229.5 74.0L230.5 74.1L231.5 74.3L232.0 74.4L233.0 74.6L234.0 74.8L234.8 74.9L235.5 75.1L236.5 75.2L237.5 75.4L238.0 75.5L239.0 75.7L240.0 75.9L240.5 76.0L241.5 76.2L242.5 76.3L243.0 76.5L244.0 76.6L245.0 76.8L245.5 76.9L246.5 77.1L247.5 77.3L248.1 77.4L249.0 77.6L250.0 77.8L250.7 77.9L251.5 78.1L252.5 78.2L253.2 78.4L254.0 78.6L255.0 78.7L255.8 78.9L256.5 79.1L257.5 79.2L258.2 79.4L259.0 79.6L260.0 79.8L260.7 79.9L261.5 80.1L262.5 80.3L263.1 80.4L264.0 80.6L265.0 80.8L265.6 80.9L266.5 81.1L267.5 81.3L268.1 81.4L269.0 81.6L270.0 81.8L270.7 81.9L271.5 82.1L272.5 82.3L273.2 82.4L274.0 82.6L275.0 82.8L275.6 82.9L276.5 83.1L277.5 83.3L278.0 83.4L279.0 83.6L280.0 83.8L280.5 83.9L281.5 84.2L282.5 84.3L283.0 84.5L284.0 84.7L285.0 84.9L285.5 85.0L286.5 85.2L287.5 85.4L288.0 85.6L289.0 85.7L289.9 85.9L290.5 86.1L291.5 86.2L292.2 86.4L293.0 86.6L294.0 86.8L294.5 86.9L295.5 87.2L296.5 87.3L297.0 87.5L298.0 87.7L299.0 87.9L299.5 88.1L300.5 88.2L301.2 88.4L302.0 88.6L303.0 88.8L303.5 88.9L304.5 89.2L305.5 89.4L306.0 89.5L307.0 89.7L307.9 89.9L308.5 90.1L309.5 90.3L310.0 90.4L311.0 90.7L312.0 90.9L312.5 91.0L313.5 91.2L314.1 91.4L315.0 91.7L316.0 91.9L316.5 92.1L317.5 92.3L318.1 92.4L319.0 92.7L320.0 92.9L320.5 93.1L321.5 93.3L322.0 93.4L323.0 93.7L323.9 93.9L324.5 94.1L325.5 94.3L326.0 94.5L327.0 94.7L327.7 94.9L328.5 95.1L329.5 95.4L330.0 95.6L331.0 95.8L331.5 95.9L332.5 96.2L333.4 96.4L334.0 96.6L335.0 96.8L335.5 97.0L336.5 97.2L337.2 97.4L338.0 97.7L339.0 97.9L339.5 98.1L340.5 98.3L341.0 98.5L342.0 98.7L342.7 98.9L343.5 99.1L344.5 99.4L345.0 99.6L346.0 99.8L346.5 100.0L347.5 100.2L348.2 100.4L349.0 100.7L350.0 100.9L350.5 101.1L351.5 101.3L352.0 101.5L353.0 101.7L353.5 101.9L354.5 102.2L355.3 102.4L356.0 102.6L357.0 102.9L357.5 103.1L358.5 103.3L359.0 103.5L360.0 103.7L360.6 103.9L361.5 104.2L362.3 104.4L363.0 104.6L364.0 104.9L364.5 105.1L365.5 105.3L366.0 105.5L367.0 105.7L367.5 105.9L368.5 106.2L369.2 106.4L370.0 106.7L370.9 106.9L371.5 107.1L372.0 107.4L372.0 108.4L372.0 109.4L372.0 110.4L372.0 111.4L372.0 112.4L372.0 113.4L372.0 114.4L372.0 115.4L372.0 116.4L372.0 117.4L372.0 118.4L371.5 118.6L370.6 118.4L370.0 118.2L369.0 118.0L368.5 117.8L367.5 117.5L367.0 117.4L366.0 117.1L365.1 116.9L364.5 116.7L363.5 116.5L363.0 116.3L362.0 116.1L361.3 115.9L360.5 115.7L359.5 115.4L359.0 115.2L358.0 115.0L357.5 114.9L356.5 114.6L355.6 114.4L355.0 114.2L354.0 114.0L353.5 113.8L352.5 113.6L351.7 113.4L351.0 113.2L350.0 113.0L349.5 112.8L348.5 112.6L347.8 112.4L347.0 112.2L346.0 112.0L345.5 111.8L344.5 111.6L343.8 111.4L343.0 111.2L342.0 110.9L341.5 110.7L340.5 110.6L339.9 110.4L339.0 110.1L338.0 109.9L337.5 109.7L336.5 109.6L335.9 109.4L335.0 109.1L334.0 108.9L333.5 108.8L332.5 108.6L331.8 108.4L331.0 108.2L330.0 107.9L329.5 107.8L328.5 107.6L327.8 107.4L327.0 107.2L326.0 107.0L325.5 106.8L324.5 106.6L323.7 106.4L323.0 106.2L322.0 106.0L321.5 105.9L320.5 105.6L319.5 105.4L319.0 105.2L318.0 105.0L317.4 104.9L316.5 104.7L315.5 104.4L315.0 104.3L314.0 104.1L313.2 103.9L312.5 103.7L311.5 103.5L311.0 103.4L310.0 103.1L309.0 102.9L308.5 102.8L307.5 102.6L306.6 102.4L306.0 102.2L305.0 102.1L304.2 101.9L303.5 101.7L302.5 101.5L301.8 101.4L301.0 101.2L300.0 101.0L299.4 100.9L298.5 100.7L297.5 100.5L296.9 100.4L296.0 100.2L295.0 100.0L294.5 99.9L293.5 99.6L292.5 99.5L292.0 99.4L291.0 99.1L290.0 99.0L289.5 98.9L288.5 98.7L287.5 98.5L287.0 98.4L286.0 98.2L285.0 98.0L284.5 97.9L283.5 97.7L282.5 97.5L281.9 97.4L281.0 97.2L280.0 97.0L279.3 96.9L278.5 96.7L277.5 96.6L276.7 96.4L276.0 96.2L275.0 96.1L274.1 95.9L273.5 95.7L272.5 95.6L271.5 95.4L271.0 95.3L270.0 95.1L269.0 94.9L268.5 94.8L267.5 94.6L266.5 94.5L266.0 94.4L265.0 94.1L264.0 94.0L263.5 93.9L262.5 93.6L261.5 93.5L261.0 93.3L260.0 93.1L259.0 92.9L258.5 92.8L257.5 92.6L256.5 92.4L256.0 92.3L255.0 92.1L254.0 91.9L253.5 91.7L252.5 91.6L251.5 91.4L251.0 91.2L250.0 91.1L249.1 90.9L248.5 90.7L247.5 90.6L246.7 90.4L246.0 90.2L245.0 90.1L244.2 89.9L243.5 89.7L242.5 89.6L241.7 89.4L241.0 89.2L240.0 89.1L239.2 88.9L238.5 88.7L237.5 88.6L236.6 88.4L236.0 88.2L235.0 88.1L234.1 87.9L233.5 87.7L232.5 87.6L231.5 87.4L231.0 87.3L230.0 87.1L229.0 86.9L228.5 86.8L227.5 86.6L226.5 86.4L226.0 86.3L225.0 86.1L224.0 86.0L223.5 85.8L222.5 85.7L221.5 85.5L221.0 85.4L220.0 85.2L219.0 85.0L218.5 84.9L217.5 84.7L216.5 84.5L215.8 84.4L215.0 84.2L214.0 84.1L213.3 83.9L212.5 83.7L211.5 83.5L210.9 83.4L210.0 83.2L209.0 83.0L208.5 82.9L207.5 82.7L206.5 82.5L206.0 82.4L205.0 82.2L204.0 82.0L203.5 81.8L202.5 81.7L201.5 81.4L201.0 81.3L200.0 81.1L199.0 80.9L198.5 80.8L197.5 80.6L196.5 80.4L196.0 80.3L195.0 80.1L194.1 79.9L193.5 79.7L192.5 79.5L191.7 79.4L191.0 79.2L190.0 79.0L189.3 78.9L188.5 78.7L187.5 78.5L186.9 78.4L186.0 78.2L185.0 78.0L184.5 77.8L183.5 77.7L182.5 77.5L182.0 77.3L181.0 77.2L180.0 77.0L179.5 76.8L178.5 76.6L177.5 76.4L177.0 76.3L176.0 76.1L175.0 75.9L174.5 75.8L173.5 75.6L172.6 75.4L172.0 75.3L171.0 75.1L170.2 74.9L169.5 74.8L168.5 74.6L167.9 74.4L167.0 74.2L166.0 74.0L165.4 73.9L164.5 73.7L163.5 73.5L163.0 73.4L162.0 73.2L161.0 72.9L160.5 72.9L159.5 72.6L158.5 72.4L158.0 72.3L157.0 72.1L156.1 71.9L155.5 71.8L154.5 71.5L153.7 71.4L153.0 71.2L152.0 71.0L151.4 70.9L150.5 70.7L149.5 70.5L149.0 70.4L148.0 70.2L147.0 70.0L146.4 69.9L145.5 69.7L144.5 69.6L143.6 69.4L143.0 69.3L142.0 69.1L141.0 68.9L140.5 68.9L139.5 68.7L138.5 68.4L138.0 68.4L137.0 68.2L136.0 68.0L135.2 67.9L134.5 67.8L133.5 67.6L132.5 67.4L132.0 67.3L131.0 67.1L130.0 67.0L129.5 66.9L128.5 66.7L127.5 66.6L126.6 66.4L126.0 66.3L125.0 66.1L124.0 65.9L123.5 65.9L122.5 65.7L121.5 65.5L120.9 65.4L120.0 65.2L119.0 65.0L118.0 64.9L117.5 64.8L116.5 64.7L115.5 64.5L114.6 64.4L114.0 64.3L113.0 64.1L112.0 64.0L111.4 63.9L110.5 63.8L109.5 63.6L108.5 63.4L108.0 63.4L107.0 63.2L106.0 63.0L105.0 62.9L104.5 62.8L103.5 62.7L102.5 62.6L101.5 62.4L101.0 62.3L100.0 62.1L99.2 61.9L98.5 61.7L98.0 61.4L97.5 61.4L97.1 60.9Z" fill="#402bb6" fill-rule="evenodd" stroke="#402bb6" stroke-width="0.3"/>
<path d="M113.0 62.4L113.5 62.4L114.5 62.4L115.5 62.4L116.5 62.4L117.5 62.4L118.5 62.4L119.5 62.4L120.5 62.4L121.5 62.4L122.5 62.4L123.0 62.4L124.0 62.4L124.5 62.4L125.0 62.9L125.5 62.4L126.0 62.9L127.0 62.9L128.0 62.9L129.0 62.9L130.0 62.9L131.0 62.9L132.0 62.9L133.0 62.9L134.0 62.9L135.0 62.9L135.5 62.9L136.5 63.4L137.5 63.4L138.5 63.4L139.5 63.4L140.5 63.4L141.5 63.4L142.0 63.4L143.0 63.9L144.0 63.9L145.0 63.9L146.0 63.9L147.0 63.9L148.0 63.9L149.0 63.9L149.5 64.4L150.5 64.4L151.5 64.4L152.5 64.4L153.5 64.4L154.5 64.4L155.5 64.4L156.5 64.4L157.5 64.4L158.0 64.9L159.0 64.9L160.0 64.9L161.0 64.9L162.0 64.9L163.0 64.9L163.5 64.9L164.5 65.4L165.5 65.4L166.5 65.4L167.5 65.4L168.5 65.4L169.5 65.4L170.0 65.9L171.0 65.9L172.0 65.9L173.0 65.9L174.0 65.9L174.5 66.4L175.5 66.4L176.5 66.4L177.5 66.4L178.5 66.4L179.0 66.9L180.0 66.9L181.0 66.9L182.0 66.9L182.5 66.9L183.5 67.4L184.5 67.4L185.5 67.4L186.5 67.4L187.0 67.9L188.0 67.9L189.0 67.9L190.0 67.9L190.5 68.4L191.5 68.4L192.5 68.4L193.5 68.4L194.0 68.9L195.0 68.9L196.0 68.9L197.0 68.9L197.5 69.4L198.5 69.4L199.5 69.4L200.5 69.4L201.0 69.9L202.0 69.9L203.0 69.9L203.5 69.9L204.5 70.4L205.5 70.4L206.5 70.4L207.0 70.9L208.0 70.9L209.0 70.9L209.5 70.9L210.5 71.4L211.5 71.4L212.5 71.4L213.0 71.9L214.0 71.9L215.0 71.9L215.5 71.9L216.5 72.4L217.5 72.4L218.5 72.4L219.0 72.9L220.0 72.9L221.0 72.9L221.5 72.9L222.5 73.4L223.5 73.4L224.5 73.4L225.0 73.9L226.0 73.9L227.0 73.9L227.5 73.9L228.5 74.4L229.5 74.4L230.5 74.4L231.0 74.9L232.0 74.9L233.0 74.9L233.5 75.4L234.5 75.4L235.5 75.4L236.0 75.4L237.0 75.9L238.0 75.9L238.5 75.9L239.5 76.4L240.5 76.4L241.5 76.4L242.0 76.9L243.0 76.9L244.0 76.9L244.5 77.4L245.5 77.4L246.5 77.4L247.0 77.9L248.0 77.9L249.0 77.9L249.5 77.9L250.5 78.4L251.5 78.4L252.0 78.4L253.0 78.9L254.0 78.9L254.5 78.9L255.5 79.4L256.5 79.4L257.0 79.4L258.0 79.9L259.0 79.9L259.5 79.9L260.5 80.4L261.5 80.4L262.0 80.4L263.0 80.9L264.0 80.9L264.5 80.9L265.5 81.4L266.5 81.4L267.0 81.4L268.0 81.9L269.0 81.9L269.5 81.9L270.5 82.4L271.5 82.4L272.0 82.4L273.0 82.9L274.0 82.9L274.5 82.9L275.5 83.4L276.5 83.4L277.0 83.4L278.0 83.9L279.0 83.9L279.5 84.4L280.5 84.4L281.5 84.4L282.0 84.9L283.0 84.9L284.0 84.9L284.5 85.4L285.5 85.4L286.5 85.4L287.0 85.9L288.0 85.9L288.5 85.9L289.5 86.4L290.5 86.4L291.0 86.4L292.0 86.9L293.0 86.9L293.5 86.9L294.5 87.4L295.5 87.4L296.0 87.9L297.0 87.9L298.0 87.9L298.5 88.4L299.5 88.4L300.0 88.4L301.0 88.9L302.0 88.9L302.5 88.9L303.5 89.4L304.5 89.4L305.0 89.9L306.0 89.9L306.5 89.9L307.5 90.4L308.5 90.4L309.0 90.4L310.0 90.9L311.0 90.9L311.5 91.4L312.5 91.4L313.0 91.4L314.0 91.9L315.0 91.9L315.5 92.4L316.5 92.4L317.0 92.4L318.0 92.9L319.0 92.9L319.5 93.4L320.5 93.4L321.0 93.4L322.0 93.9L323.0 93.9L323.5 94.4L324.5 94.4L325.0 94.9L326.0 94.9L326.5 94.9L327.5 95.4L328.5 95.4L329.0 95.9L330.0 95.9L330.5 95.9L331.5 96.4L332.5 96.4L333.0 96.9L334.0 96.9L334.5 97.4L335.5 97.4L336.0 97.4L337.0 97.9L338.0 97.9L338.5 98.4L339.5 98.4L340.0 98.4L341.0 98.9L341.5 98.9L342.5 99.4L343.5 99.4L344.0 99.9L345.0 99.9L345.5 99.9L346.5 100.4L347.0 100.4L348.0 100.9L349.0 100.9L349.5 101.4L350.5 101.4L351.0 101.9L352.0 101.9L352.5 101.9L353.5 102.4L354.5 102.4L355.0 102.9L356.0 102.9L356.5 103.4L357.5 103.4L358.0 103.4L359.0 103.9L359.5 103.9L360.5 104.4L361.5 104.4L362.0 104.9L363.0 104.9L363.5 105.4L364.5 105.4L365.0 105.9L366.0 105.9L366.5 105.9L367.5 106.4L368.0 106.4L369.0 106.9L370.0 106.9L370.5 107.4L371.5 107.4L372.0 107.9L372.0 108.4L372.0 109.4L372.0 110.4L372.0 111.4L372.0 112.4L372.0 113.4L372.0 114.4L372.0 115.4L372.0 116.4L372.0 117.4L372.0 118.4L371.5 118.4L371.0 117.9L370.0 117.9L369.5 117.4L368.5 117.4L368.0 117.4L367.0 116.9L366.0 116.9L365.5 116.4L364.5 116.4L364.0 115.9L363.0 115.9L362.5 115.9L361.5 115.4L360.5 115.4L360.0 114.9L359.0 114.9L358.5 114.9L357.5 114.4L356.5 114.4L356.0 113.9L355.0 113.9L354.5 113.9L353.5 113.4L353.0 113.4L352.0 112.9L351.0 112.9L350.5 112.4L349.5 112.4L349.0 112.4L348.0 111.9L347.0 111.9L346.5 111.4L345.5 111.4L345.0 111.4L344.0 110.9L343.0 110.9L342.5 110.4L341.5 110.4L341.0 110.4L340.0 109.9L339.0 109.9L338.5 109.4L337.5 109.4L337.0 109.4L336.0 108.9L335.0 108.9L334.5 108.4L333.5 108.4L333.0 108.4L332.0 107.9L331.0 107.9L330.5 107.4L329.5 107.4L329.0 107.4L328.0 106.9L327.0 106.9L326.5 106.4L325.5 106.4L325.0 106.4L324.0 105.9L323.0 105.9L322.5 105.9L321.5 105.4L320.5 105.4L320.0 104.9L319.0 104.9L318.5 104.9L317.5 104.4L316.5 104.4L316.0 103.9L315.0 103.9L314.5 103.9L313.5 103.4L312.5 103.4L312.0 103.4L311.0 102.9L310.0 102.9L309.5 102.4L308.5 102.4L308.0 102.4L307.0 101.9L306.0 101.9L305.5 101.9L304.5 101.4L303.5 101.4L303.0 101.4L302.0 100.9L301.0 100.9L300.5 100.9L299.5 100.4L298.5 100.4L298.0 100.4L297.0 99.9L296.0 99.9L295.5 99.9L294.5 99.4L293.5 99.4L293.0 98.9L292.0 98.9L291.0 98.9L290.5 98.4L289.5 98.4L288.5 98.4L288.0 97.9L287.0 97.9L286.0 97.9L285.5 97.4L284.5 97.4L283.5 97.4L283.0 96.9L282.0 96.9L281.0 96.9L280.5 96.9L279.5 96.4L278.5 96.4L278.0 96.4L277.0 95.9L276.0 95.9L275.5 95.9L274.5 95.4L273.5 95.4L273.0 95.4L272.0 94.9L271.0 94.9L270.0 94.9L269.5 94.4L268.5 94.4L267.5 94.4L267.0 93.9L266.0 93.9L265.0 93.9L264.5 93.4L263.5 93.4L262.5 93.4L262.0 92.9L261.0 92.9L260.0 92.9L259.5 92.4L258.5 92.4L257.5 92.4L257.0 91.9L256.0 91.9L255.5 91.9L254.5 91.4L253.5 91.4L253.0 91.4L252.0 90.9L251.0 90.9L250.5 90.9L249.5 90.4L248.5 90.4L248.0 90.4L247.0 89.9L246.0 89.9L245.5 89.9L244.5 89.4L243.5 89.4L243.0 89.4L242.0 88.9L241.0 88.9L240.5 88.9L239.5 88.4L238.5 88.4L238.0 88.4L237.0 87.9L236.0 87.9L235.5 87.9L234.5 87.4L233.5 87.4L233.0 87.4L232.0 86.9L231.0 86.9L230.5 86.9L229.5 86.4L228.5 86.4L228.0 86.4L227.0 85.9L226.0 85.9L225.0 85.9L224.5 85.4L223.5 85.4L222.5 85.4L222.0 84.9L221.0 84.9L220.0 84.9L219.5 84.4L218.5 84.4L217.5 84.4L217.0 83.9L216.0 83.9L215.0 83.9L214.5 83.4L213.5 83.4L212.5 83.4L212.0 82.9L211.0 82.9L210.0 82.9L209.5 82.4L208.5 82.4L207.5 82.4L207.0 81.9L206.0 81.9L205.0 81.9L204.5 81.4L203.5 81.4L203.0 81.4L202.0 80.9L201.0 80.9L200.5 80.9L199.5 80.4L198.5 80.4L198.0 80.4L197.0 79.9L196.0 79.9L195.5 79.9L194.5 79.4L193.5 79.4L193.0 78.9L192.0 78.9L191.0 78.9L190.5 78.4L189.5 78.4L188.5 78.4L188.0 77.9L187.0 77.9L186.5 77.9L185.5 77.4L184.5 77.4L184.0 77.4L183.0 76.9L182.0 76.9L181.5 76.9L180.5 76.4L179.5 76.4L179.0 76.4L178.0 75.9L177.0 75.9L176.5 75.4L175.5 75.4L174.5 75.4L174.0 74.9L173.0 74.9L172.0 74.9L171.5 74.4L170.5 74.4L169.5 74.4L169.0 73.9L168.0 73.9L167.5 73.9L166.5 73.4L165.5 73.4L165.0 73.4L164.0 72.9L163.0 72.9L162.5 72.4L161.5 72.4L160.5 72.4L160.0 71.9L159.0 71.9L158.5 71.9L157.5 71.4L156.5 71.4L156.0 71.4L155.0 70.9L154.0 70.9L153.5 70.4L152.5 70.4L152.0 70.4L151.0 69.9L150.0 69.9L149.5 69.9L148.5 69.4L147.5 69.4L147.0 69.4L146.0 68.9L145.0 68.9L144.0 68.9L143.5 68.4L142.5 68.4L141.5 68.4L141.0 67.9L140.0 67.9L139.0 67.9L138.5 67.4L137.5 67.4L136.5 67.4L136.0 67.4L135.0 66.9L134.0 66.9L133.5 66.9L132.5 66.4L131.5 66.4L131.0 66.4L130.0 65.9L129.0 65.9L128.0 65.9L127.5 65.4L126.5 65.4L125.5 65.4L125.0 64.9L124.0 64.9L123.0 64.9L122.5 64.4L121.5 64.4L120.5 64.4L120.0 63.9L119.0 63.9L118.0 63.9L117.5 63.4L116.5 63.4L115.5 63.4L115.0 62.9L114.0 62.9L113.5 62.4L113.0 62.4Z" fill="#3e26a8" fill-rule="evenodd" stroke="#3e26a8" stroke-width="0.3"/>
</g></g>
<path d="M42.00 57.91C44.27 57.98 51.10 58.16 55.65 58.33C60.20 58.51 64.75 58.71 69.30 58.94C73.85 59.17 78.40 59.44 82.95 59.73C87.50 60.02 92.05 60.34 96.60 60.69C101.15 61.04 105.70 61.42 110.25 61.83C114.80 62.23 119.35 62.67 123.90 63.13C128.45 63.60 133.00 64.09 137.55 64.61C142.10 65.13 146.65 65.67 151.20 66.25C155.75 66.82 160.30 67.42 164.85 68.05C169.40 68.67 173.95 69.33 178.50 70.00C183.05 70.68 187.60 71.39 192.15 72.12C196.70 72.85 201.25 73.60 205.80 74.38C210.35 75.16 214.90 75.97 219.45 76.80C224.00 77.63 228.55 78.48 233.10 79.36C237.65 80.24 242.20 81.14 246.75 82.06C251.30 82.99 255.85 83.93 260.40 84.91C264.95 85.88 269.50 86.87 274.05 87.89C278.60 88.90 283.15 89.94 287.70 91.00C292.25 92.06 296.80 93.14 301.35 94.25C305.90 95.35 310.45 96.48 315.00 97.62C319.55 98.77 324.10 99.93 328.65 101.12C333.20 102.31 337.75 103.51 342.30 104.74C346.85 105.97 351.40 107.21 355.95 108.48C360.50 109.75 365.05 111.03 369.60 112.33C374.15 113.64 378.70 114.96 383.25 116.30C387.80 117.64 392.35 119.00 396.90 120.38C401.45 121.76 406.00 123.15 410.55 124.57C415.10 125.98 419.65 127.41 424.20 128.85C428.75 130.30 433.30 131.76 437.85 133.24C442.40 134.72 449.22 136.98 451.50 137.73" stroke="#d48488" stroke-opacity="0.52" stroke-width="1.2" stroke-dasharray="5.8 4.9" fill="none" clip-path="url(#cm)"/>
<path d="M120.4 14.4L105.2 82.8" stroke="#3380e6" stroke-width="1.1" fill="none"/>
<path d="M110.6 51.5L115.7 60.6L105.6 60.6Z" stroke="#3380e6" stroke-width="0.9" fill="none"/>
<path d="M225.8 41.3L190 79" stroke="#bf5aeb" stroke-width="1.1" fill="none"/>
<path d="M212.6 48.0L217.9 57.5L207.4 57.5Z" stroke="#bf5aeb" stroke-width="0.9" fill="none"/>
<path d="M268.60 14.40L267.10 148.30" stroke="#000" stroke-width="1" stroke-dasharray="1 1.15" fill="none"/>
<path d="M284.00 14.40L282.40 148.30" stroke="#000" stroke-width="1" stroke-dasharray="1 1.15" fill="none"/>
<path d="M362.30 14.40L361.00 148.30" stroke="#000" stroke-width="1" stroke-dasharray="1 1.15" fill="none"/>
<circle cx="268.30" cy="84.10" r="4.15" stroke="#e0162b" stroke-width="1.45" fill="none"/>
<circle cx="283.40" cy="87.40" r="4.15" stroke="#1414e6" stroke-width="1.45" fill="none"/>
<circle cx="361.40" cy="111.70" r="4.15" stroke="#1edc1e" stroke-width="1.45" fill="none"/>
<path d="M93.30 58.40l5.6 5.6M98.90 58.40l-5.6 5.6" stroke="#e0203c" stroke-opacity="0.72" stroke-width="1.25" fill="none"/>
<path d="M427.20 127.80l5.6 5.6M432.80 127.80l-5.6 5.6" stroke="#e0203c" stroke-opacity="0.72" stroke-width="1.25" fill="none"/>
<rect x="27.30" y="14.40" width="424.20" height="133.90" fill="none" stroke="#262626" stroke-width="0.7"/>
<path d="M48.51 148.30v-4M48.51 14.40v4M101.53 148.30v-4M101.53 14.40v4M154.56 148.30v-4M154.56 14.40v4M207.59 148.30v-4M207.59 14.40v4M260.61 148.30v-4M260.61 14.40v4M313.63 148.30v-4M313.63 14.40v4M366.66 148.30v-4M366.66 14.40v4M419.69 148.30v-4M419.69 14.40v4M27.30 114.83h4M451.50 114.83h-4M27.30 81.35h4M451.50 81.35h-4M27.30 47.88h4M451.50 47.88h-4" stroke="#262626" stroke-width="0.7" fill="none"/>
<text class="t" x="48.71" y="158.9" font-size="7.0" text-anchor="middle">-80</text>
<text class="t" x="101.73" y="158.9" font-size="7.0" text-anchor="middle">-75</text>
<text class="t" x="154.76" y="158.9" font-size="7.0" text-anchor="middle">-70</text>
<text class="t" x="207.78" y="158.9" font-size="7.0" text-anchor="middle">-65</text>
<text class="t" x="260.81" y="158.9" font-size="7.0" text-anchor="middle">-60</text>
<text class="t" x="313.83" y="158.9" font-size="7.0" text-anchor="middle">-55</text>
<text class="t" x="366.86" y="158.9" font-size="7.0" text-anchor="middle">-50</text>
<text class="t" x="419.88" y="158.9" font-size="7.0" text-anchor="middle">-45</text>
<text class="t" x="24.3" y="151.50" font-size="7.0" text-anchor="end">15</text>
<text class="t" x="24.3" y="118.03" font-size="7.0" text-anchor="end">20</text>
<text class="t" x="24.3" y="84.55" font-size="7.0" text-anchor="end">25</text>
<text class="t" x="24.3" y="51.08" font-size="7.0" text-anchor="end">30</text>
<text class="t" x="24.3" y="17.60" font-size="7.0" text-anchor="end">35</text>
<text class="b" x="433.5" y="158.4" font-size="7.7">Longitude (deg.)</text>
<text class="b" transform="translate(12.3 81.4) rotate(-90)" font-size="8.0" text-anchor="middle">Latitude (deg.)</text>
<text class="b" x="239.3" y="11" font-size="7.85" text-anchor="middle">Sim dTEC Map with Swarm &amp; COSMIC Tracks</text>
<text class="b" x="29.4" y="25.9" font-size="13.9">(a)</text>
<defs><linearGradient id="cb" x1="0" y1="1" x2="0" y2="0">
<stop offset="0.0000" stop-color="#3e26a8"/>
<stop offset="0.0159" stop-color="#402ab4"/>
<stop offset="0.0317" stop-color="#422ec0"/>
<stop offset="0.0476" stop-color="#4332cb"/>
<stop offset="0.0635" stop-color="#4537d5"/>
<stop offset="0.0794" stop-color="#463cde"/>
<stop offset="0.0952" stop-color="#4741e5"/>
<stop offset="0.1111" stop-color="#4747eb"/>
<stop offset="0.1270" stop-color="#484df0"/>
<stop offset="0.1429" stop-color="#4852f4"/>
<stop offset="0.1587" stop-color="#4758f8"/>
<stop offset="0.1746" stop-color="#465efb"/>
<stop offset="0.1905" stop-color="#4563fd"/>
<stop offset="0.2063" stop-color="#4269fe"/>
<stop offset="0.2222" stop-color="#3e6fff"/>
<stop offset="0.2381" stop-color="#3875fe"/>
<stop offset="0.2540" stop-color="#327cfc"/>
<stop offset="0.2698" stop-color="#2f81fa"/>
<stop offset="0.2857" stop-color="#2e87f7"/>
<stop offset="0.3016" stop-color="#2d8cf3"/>
<stop offset="0.3175" stop-color="#2b91ef"/>
<stop offset="0.3333" stop-color="#2797eb"/>
<stop offset="0.3492" stop-color="#259be8"/>
<stop offset="0.3651" stop-color="#23a0e5"/>
<stop offset="0.3810" stop-color="#20a5e3"/>
<stop offset="0.3968" stop-color="#1ca9df"/>
<stop offset="0.4127" stop-color="#18addb"/>
<stop offset="0.4286" stop-color="#12b1d6"/>
<stop offset="0.4444" stop-color="#08b5d0"/>
<stop offset="0.4603" stop-color="#01b8ca"/>
<stop offset="0.4762" stop-color="#02bac3"/>
<stop offset="0.4921" stop-color="#0bbdbd"/>
<stop offset="0.5079" stop-color="#19bfb6"/>
<stop offset="0.5238" stop-color="#24c1ae"/>
<stop offset="0.5397" stop-color="#2cc4a7"/>
<stop offset="0.5556" stop-color="#31c69f"/>
<stop offset="0.5714" stop-color="#37c897"/>
<stop offset="0.5873" stop-color="#3fca8e"/>
<stop offset="0.6032" stop-color="#4acb84"/>
<stop offset="0.6190" stop-color="#57cc7a"/>
<stop offset="0.6349" stop-color="#64cd6f"/>
<stop offset="0.6508" stop-color="#72cd64"/>
<stop offset="0.6667" stop-color="#81cc59"/>
<stop offset="0.6825" stop-color="#8fcb4e"/>
<stop offset="0.6984" stop-color="#9dc943"/>
<stop offset="0.7143" stop-color="#abc739"/>
<stop offset="0.7302" stop-color="#b9c431"/>
<stop offset="0.7460" stop-color="#c5c22a"/>
<stop offset="0.7619" stop-color="#d1bf27"/>
<stop offset="0.7778" stop-color="#dcbd29"/>
<stop offset="0.7937" stop-color="#e6bb2d"/>
<stop offset="0.8095" stop-color="#f0ba36"/>
<stop offset="0.8254" stop-color="#f8ba3d"/>
<stop offset="0.8413" stop-color="#febe3c"/>
<stop offset="0.8571" stop-color="#fec338"/>
<stop offset="0.8730" stop-color="#fec934"/>
<stop offset="0.8889" stop-color="#fccf30"/>
<stop offset="0.9048" stop-color="#fad62d"/>
<stop offset="0.9206" stop-color="#f7dc2a"/>
<stop offset="0.9365" stop-color="#f5e327"/>
<stop offset="0.9524" stop-color="#f5e924"/>
<stop offset="0.9683" stop-color="#f6ef20"/>
<stop offset="0.9841" stop-color="#f7f51b"/>
<stop offset="1.0000" stop-color="#f9fb15"/>
</linearGradient></defs>
<rect x="457.00" y="14.40" width="11.50" height="133.90" fill="url(#cb)" stroke="#262626" stroke-width="0.7"/>
<text class="b" x="471.4" y="151.20" font-size="6.1">-10</text>
<path d="M468.50 114.83h-2.2M457.00 114.83h2.2" stroke="#262626" stroke-width="0.6"/>
<text class="b" x="471.4" y="117.73" font-size="6.1">-5</text>
<path d="M468.50 81.35h-2.2M457.00 81.35h2.2" stroke="#262626" stroke-width="0.6"/>
<text class="b" x="471.4" y="84.25" font-size="6.1">0</text>
<path d="M468.50 47.88h-2.2M457.00 47.88h2.2" stroke="#262626" stroke-width="0.6"/>
<text class="b" x="471.4" y="50.77" font-size="6.1">5</text>
<text class="b" x="471.4" y="17.30" font-size="6.1">10</text>
<text class="b" transform="translate(490.3 81.6) rotate(-90)" font-size="6.6" text-anchor="middle">Sim dTEC(TECU)</text>
<defs><clipPath id="cpb"><rect x="29.40" y="184.70" width="70.30" height="98.70"/></clipPath></defs>
<path d="M43.46 184.70V283.40M57.52 184.70V283.40M71.58 184.70V283.40M85.64 184.70V283.40M29.40 263.66H99.70M29.40 243.92H99.70M29.40 224.18H99.70M29.40 204.44H99.70" stroke="#dfdfdf" stroke-width="0.6" fill="none"/>
<g clip-path="url(#cpb)">
<path d="M29.40 236.70C29.83 236.82 31.12 237.05 32.00 237.40C32.88 237.75 33.83 238.23 34.70 238.80C35.57 239.37 36.38 240.00 37.20 240.80C38.02 241.60 38.80 242.50 39.60 243.60C40.40 244.70 41.20 246.05 42.00 247.40C42.80 248.75 43.58 250.28 44.40 251.70C45.22 253.12 46.08 254.55 46.90 255.90C47.72 257.25 48.50 258.62 49.30 259.80C50.10 260.98 50.90 262.05 51.70 263.00C52.50 263.95 53.35 264.85 54.10 265.50C54.85 266.15 55.52 266.58 56.20 266.90C56.88 267.22 57.47 267.40 58.20 267.40C58.93 267.40 59.78 267.22 60.60 266.90C61.42 266.58 62.28 266.25 63.10 265.50C63.92 264.75 64.70 263.62 65.50 262.40C66.30 261.18 67.15 259.50 67.90 258.20C68.65 256.90 69.32 255.82 70.00 254.60C70.68 253.38 71.27 252.17 72.00 250.90C72.73 249.63 73.60 248.22 74.40 247.00C75.20 245.78 76.00 244.55 76.80 243.60C77.60 242.65 78.38 241.97 79.20 241.30C80.02 240.63 80.73 240.17 81.70 239.60C82.67 239.03 83.92 238.38 85.00 237.90C86.08 237.42 86.70 237.08 88.20 236.70C89.70 236.32 92.08 235.88 94.00 235.60C95.92 235.32 98.75 235.10 99.70 235.00" stroke="#000" stroke-width="1.2" stroke-dasharray="4.6 3.4" fill="none"/>
<path d="M29.40 197.00C29.97 197.33 31.65 198.32 32.80 199.00C33.95 199.68 35.17 200.42 36.30 201.10C37.43 201.78 38.52 202.40 39.60 203.10C40.68 203.80 41.82 204.50 42.80 205.30C43.78 206.10 44.63 206.98 45.50 207.90C46.37 208.82 47.25 209.85 48.00 210.80C48.75 211.75 49.40 212.63 50.00 213.60C50.60 214.57 51.10 215.52 51.60 216.60C52.10 217.68 52.57 219.03 53.00 220.10C53.43 221.17 53.85 222.08 54.20 223.00C54.55 223.92 54.78 224.63 55.10 225.60C55.42 226.57 55.72 227.50 56.10 228.80C56.48 230.10 56.98 232.03 57.40 233.40C57.82 234.77 58.20 235.95 58.60 237.00C59.00 238.05 59.40 239.03 59.80 239.70C60.20 240.37 60.60 240.73 61.00 241.00C61.40 241.27 61.80 241.32 62.20 241.30C62.60 241.28 62.98 241.20 63.40 240.90C63.82 240.60 64.28 240.22 64.70 239.50C65.12 238.78 65.50 237.80 65.90 236.60C66.30 235.40 66.77 233.63 67.10 232.30C67.43 230.97 67.63 229.88 67.90 228.60C68.17 227.32 68.43 225.90 68.70 224.60C68.97 223.30 69.18 221.93 69.50 220.80C69.82 219.67 70.18 218.67 70.60 217.80C71.02 216.93 71.52 216.20 72.00 215.60C72.48 215.00 72.97 214.60 73.50 214.20C74.03 213.80 74.65 213.47 75.20 213.20C75.75 212.93 76.27 212.73 76.80 212.60C77.33 212.47 77.62 212.37 78.40 212.40C79.18 212.43 80.42 212.62 81.50 212.80C82.58 212.98 83.65 213.20 84.90 213.50C86.15 213.80 87.65 214.18 89.00 214.60C90.35 215.02 91.75 215.53 93.00 216.00C94.25 216.47 95.38 216.92 96.50 217.40C97.62 217.88 99.17 218.65 99.70 218.90" stroke="#e6141e" stroke-width="1.25" fill="none" stroke-linejoin="round"/>
<circle cx="62.2" cy="242.6" r="2.5" stroke="#e6141e" stroke-width="0.9" fill="none"/>
</g>
<path d="M58.50 195.50H79.30" stroke="#e6141e" stroke-width="1.25" fill="none"/>
<path d="M58.50 203.40H79.30" stroke="#000" stroke-width="1.1" stroke-dasharray="4.2 4.1" fill="none"/>
<text class="b" x="81.70" y="197.55" font-size="5.7">SwA</text>
<text class="b" x="81.70" y="205.45" font-size="5.7">Sim</text>
<rect x="29.40" y="184.70" width="70.30" height="98.70" fill="none" stroke="#262626" stroke-width="0.7"/>
<text class="t" x="29.40" y="291.8" font-size="6.30" text-anchor="middle">20</text>
<text class="t" x="43.46" y="291.8" font-size="6.30" text-anchor="middle">22</text>
<text class="t" x="57.52" y="291.8" font-size="6.30" text-anchor="middle">24</text>
<text class="t" x="71.58" y="291.8" font-size="6.30" text-anchor="middle">26</text>
<text class="t" x="85.64" y="291.8" font-size="6.30" text-anchor="middle">28</text>
<text class="t" x="99.70" y="291.8" font-size="6.30" text-anchor="middle">30</text>
<text class="t" x="28.00" y="286.60" font-size="6.30" text-anchor="end">0</text>
<text class="t" x="28.00" y="266.86" font-size="6.30" text-anchor="end">1</text>
<text class="t" x="28.00" y="247.12" font-size="6.30" text-anchor="end">2</text>
<text class="t" x="28.00" y="227.38" font-size="6.30" text-anchor="end">3</text>
<text class="t" x="28.00" y="207.64" font-size="6.30" text-anchor="end">4</text>
<text class="t" x="28.00" y="187.90" font-size="6.30" text-anchor="end">5</text>
<path d="M43.46 283.40v-1.6M43.46 184.70v1.6M57.52 283.40v-1.6M57.52 184.70v1.6M71.58 283.40v-1.6M71.58 184.70v1.6M85.64 283.40v-1.6M85.64 184.70v1.6M29.40 263.66h1.6M99.70 263.66h-1.6M29.40 243.92h1.6M99.70 243.92h-1.6M29.40 224.18h1.6M99.70 224.18h-1.6M29.40 204.44h1.6M99.70 204.44h-1.6" stroke="#262626" stroke-width="0.6" fill="none"/>
<text class="b" x="64.55" y="300.1" font-size="6.7" text-anchor="middle">Latitude (deg.)</text>
<text class="b" x="65.30" y="176.1" font-size="6.7" text-anchor="middle">Swarm A (469.9 km)</text>
<text class="b" x="30.30" y="194.40" font-size="9.8">(b)</text>
<text x="30.20" y="183.3" font-size="6.8">×10<tspan dy="-2.7" font-size="5">5</tspan></text>
<text class="b" transform="translate(18.50 234.3) rotate(-90)" font-size="7.0" text-anchor="middle">n<tspan dy="1.9" font-size="5.3">e</tspan><tspan dy="-1.9"> (10</tspan><tspan dy="-2.6" font-size="5.3">5</tspan><tspan dy="2.6"> cm</tspan><tspan dy="-2.6" font-size="5.3">-3</tspan><tspan dy="2.6">)</tspan></text>
<defs><clipPath id="cpc"><rect x="126.10" y="184.70" width="69.80" height="98.70"/></clipPath></defs>
<path d="M140.06 184.70V283.40M154.02 184.70V283.40M167.98 184.70V283.40M181.94 184.70V283.40M126.10 263.66H195.90M126.10 243.92H195.90M126.10 224.18H195.90M126.10 204.44H195.90" stroke="#dfdfdf" stroke-width="0.6" fill="none"/>
<g clip-path="url(#cpc)">
<path d="M126.10 238.10C126.68 238.55 128.43 239.80 129.60 240.80C130.77 241.80 132.02 242.77 133.10 244.10C134.18 245.43 135.10 247.13 136.10 248.80C137.10 250.47 138.08 252.40 139.10 254.10C140.12 255.80 141.18 257.48 142.20 259.00C143.22 260.52 144.15 261.97 145.20 263.20C146.25 264.43 147.45 265.62 148.50 266.40C149.55 267.18 150.72 267.70 151.50 267.90C152.28 268.10 152.55 267.92 153.20 267.60C153.85 267.28 154.57 266.90 155.40 266.00C156.23 265.10 157.23 263.63 158.20 262.20C159.17 260.77 160.20 259.08 161.20 257.40C162.20 255.72 163.27 253.70 164.20 252.10C165.13 250.50 165.95 249.13 166.80 247.80C167.65 246.47 168.40 245.25 169.30 244.10C170.20 242.95 171.20 241.83 172.20 240.90C173.20 239.97 174.17 239.15 175.30 238.50C176.43 237.85 177.67 237.40 179.00 237.00C180.33 236.60 181.55 236.38 183.30 236.10C185.05 235.82 187.40 235.53 189.50 235.30C191.60 235.07 194.83 234.80 195.90 234.70" stroke="#000" stroke-width="1.2" stroke-dasharray="4.6 3.4" fill="none"/>
<path d="M126.10 197.10C126.85 197.50 129.12 198.68 130.60 199.50C132.08 200.32 133.77 201.25 135.00 202.00C136.23 202.75 137.13 203.37 138.00 204.00C138.87 204.63 139.50 205.10 140.20 205.80C140.90 206.50 141.57 207.32 142.20 208.20C142.83 209.08 143.43 210.07 144.00 211.10C144.57 212.13 145.10 213.23 145.60 214.40C146.10 215.57 146.53 216.87 147.00 218.10C147.47 219.33 147.97 220.62 148.40 221.80C148.83 222.98 149.27 224.03 149.60 225.20C149.93 226.37 150.13 227.67 150.40 228.80C150.67 229.93 150.90 231.00 151.20 232.00C151.50 233.00 151.87 234.03 152.20 234.80C152.53 235.57 152.77 236.12 153.20 236.60C153.63 237.08 154.33 237.67 154.80 237.70C155.27 237.73 155.67 237.25 156.00 236.80C156.33 236.35 156.47 235.83 156.80 235.00C157.13 234.17 157.63 232.90 158.00 231.80C158.37 230.70 158.72 229.53 159.00 228.40C159.28 227.27 159.43 226.10 159.70 225.00C159.97 223.90 160.28 222.78 160.60 221.80C160.92 220.82 161.20 220.07 161.60 219.10C162.00 218.13 162.50 216.92 163.00 216.00C163.50 215.08 164.07 214.23 164.60 213.60C165.13 212.97 165.62 212.57 166.20 212.20C166.78 211.83 167.37 211.58 168.10 211.40C168.83 211.22 169.75 211.13 170.60 211.10C171.45 211.07 172.27 211.08 173.20 211.20C174.13 211.32 175.20 211.57 176.20 211.80C177.20 212.03 177.73 212.10 179.20 212.60C180.67 213.10 183.12 214.08 185.00 214.80C186.88 215.52 188.68 216.17 190.50 216.90C192.32 217.63 195.00 218.82 195.90 219.20" stroke="#1414e6" stroke-width="1.25" fill="none" stroke-linejoin="round"/>
<circle cx="154.8" cy="238.8" r="2.5" stroke="#1414e6" stroke-width="0.9" fill="none"/>
</g>
<path d="M155.20 195.50H175.80" stroke="#1414e6" stroke-width="1.25" fill="none"/>
<path d="M155.20 203.40H175.80" stroke="#000" stroke-width="1.1" stroke-dasharray="4.2 4.1" fill="none"/>
<text class="b" x="178.30" y="197.55" font-size="5.7">SwC</text>
<text class="b" x="178.30" y="205.45" font-size="5.7">Sim</text>
<rect x="126.10" y="184.70" width="69.80" height="98.70" fill="none" stroke="#262626" stroke-width="0.7"/>
<text class="t" x="126.10" y="291.8" font-size="6.30" text-anchor="middle">20</text>
<text class="t" x="140.06" y="291.8" font-size="6.30" text-anchor="middle">22</text>
<text class="t" x="154.02" y="291.8" font-size="6.30" text-anchor="middle">24</text>
<text class="t" x="167.98" y="291.8" font-size="6.30" text-anchor="middle">26</text>
<text class="t" x="181.94" y="291.8" font-size="6.30" text-anchor="middle">28</text>
<text class="t" x="195.90" y="291.8" font-size="6.30" text-anchor="middle">30</text>
<text class="t" x="124.70" y="286.60" font-size="6.30" text-anchor="end">0</text>
<text class="t" x="124.70" y="266.86" font-size="6.30" text-anchor="end">1</text>
<text class="t" x="124.70" y="247.12" font-size="6.30" text-anchor="end">2</text>
<text class="t" x="124.70" y="227.38" font-size="6.30" text-anchor="end">3</text>
<text class="t" x="124.70" y="207.64" font-size="6.30" text-anchor="end">4</text>
<text class="t" x="124.70" y="187.90" font-size="6.30" text-anchor="end">5</text>
<path d="M140.06 283.40v-1.6M140.06 184.70v1.6M154.02 283.40v-1.6M154.02 184.70v1.6M167.98 283.40v-1.6M167.98 184.70v1.6M181.94 283.40v-1.6M181.94 184.70v1.6M126.10 263.66h1.6M195.90 263.66h-1.6M126.10 243.92h1.6M195.90 243.92h-1.6M126.10 224.18h1.6M195.90 224.18h-1.6M126.10 204.44h1.6M195.90 204.44h-1.6" stroke="#262626" stroke-width="0.6" fill="none"/>
<text class="b" x="161.00" y="300.1" font-size="6.7" text-anchor="middle">Latitude (deg.)</text>
<text class="b" x="158.90" y="176.1" font-size="6.7" text-anchor="middle">Swarm C (469.9 km)</text>
<text class="b" x="127.00" y="194.40" font-size="9.8">(c)</text>
<text x="126.90" y="183.3" font-size="6.8">×10<tspan dy="-2.7" font-size="5">5</tspan></text>
<text class="b" transform="translate(114.80 234.3) rotate(-90)" font-size="7.0" text-anchor="middle">n<tspan dy="1.9" font-size="5.3">e</tspan><tspan dy="-1.9"> (10</tspan><tspan dy="-2.6" font-size="5.3">5</tspan><tspan dy="2.6"> cm</tspan><tspan dy="-2.6" font-size="5.3">-3</tspan><tspan dy="2.6">)</tspan></text>
<defs><clipPath id="cpd"><rect x="219.50" y="184.70" width="72.90" height="98.70"/></clipPath></defs>
<path d="M226.79 184.70V283.40M241.37 184.70V283.40M255.95 184.70V283.40M270.53 184.70V283.40M285.11 184.70V283.40M219.50 263.66H292.40M219.50 243.92H292.40M219.50 224.18H292.40M219.50 204.44H292.40" stroke="#dfdfdf" stroke-width="0.6" fill="none"/>
<g clip-path="url(#cpd)">
<path d="M219.50 245.70C219.72 246.15 220.37 247.50 220.80 248.40C221.23 249.30 221.57 250.00 222.10 251.10C222.63 252.20 223.33 253.83 224.00 255.00C224.67 256.17 225.27 257.20 226.10 258.10C226.93 259.00 228.00 259.88 229.00 260.40C230.00 260.92 231.07 261.17 232.10 261.20C233.13 261.23 234.18 260.95 235.20 260.60C236.22 260.25 237.03 259.87 238.20 259.10C239.37 258.33 240.87 257.00 242.20 256.00C243.53 255.00 244.87 253.93 246.20 253.10C247.53 252.27 248.87 251.57 250.20 251.00C251.53 250.43 252.73 250.08 254.20 249.70C255.67 249.32 257.32 248.97 259.00 248.70C260.68 248.43 262.47 248.23 264.30 248.10C266.13 247.97 268.00 247.92 270.00 247.90C272.00 247.88 274.13 247.97 276.30 248.00C278.47 248.03 280.32 248.08 283.00 248.10C285.68 248.12 290.83 248.10 292.40 248.10" stroke="#000" stroke-width="1.2" stroke-dasharray="4.6 3.4" fill="none"/>
<path d="M219.50 214.20C219.88 214.53 221.03 215.53 221.80 216.20C222.57 216.87 223.23 217.43 224.10 218.20C224.97 218.97 226.00 220.03 227.00 220.80C228.00 221.57 229.02 222.47 230.10 222.80C231.18 223.13 232.33 222.85 233.50 222.80C234.67 222.75 236.05 222.53 237.10 222.50C238.15 222.47 238.95 222.50 239.80 222.60C240.65 222.70 241.17 222.87 242.20 223.10C243.23 223.33 244.67 223.68 246.00 224.00C247.33 224.32 248.50 224.63 250.20 225.00C251.90 225.37 254.07 225.70 256.20 226.20C258.33 226.70 260.65 227.37 263.00 228.00C265.35 228.63 267.97 229.42 270.30 230.00C272.63 230.58 274.67 230.97 277.00 231.50C279.33 232.03 282.38 232.72 284.30 233.20C286.22 233.68 287.15 233.97 288.50 234.40C289.85 234.83 291.75 235.57 292.40 235.80" stroke="#28e628" stroke-width="1.4" fill="none" stroke-linejoin="round"/>
<circle cx="230.1" cy="222.9" r="2" stroke="#28e628" stroke-width="0.8" fill="none"/>
</g>
<path d="M251.20 195.50H271.40" stroke="#28e628" stroke-width="1.25" fill="none"/>
<path d="M251.20 203.40H271.40" stroke="#000" stroke-width="1.1" stroke-dasharray="4.2 4.1" fill="none"/>
<text class="b" x="274.30" y="197.55" font-size="5.7">SwB</text>
<text class="b" x="274.30" y="205.45" font-size="5.7">Sim</text>
<rect x="219.50" y="184.70" width="72.90" height="98.70" fill="none" stroke="#262626" stroke-width="0.7"/>
<text class="t" x="226.79" y="291.8" font-size="6.30" text-anchor="middle">20</text>
<text class="t" x="241.37" y="291.8" font-size="6.30" text-anchor="middle">22</text>
<text class="t" x="255.95" y="291.8" font-size="6.30" text-anchor="middle">24</text>
<text class="t" x="270.53" y="291.8" font-size="6.30" text-anchor="middle">26</text>
<text class="t" x="285.11" y="291.8" font-size="6.30" text-anchor="middle">28</text>
<text class="t" x="218.10" y="286.60" font-size="6.30" text-anchor="end">0</text>
<text class="t" x="218.10" y="266.86" font-size="6.30" text-anchor="end">1</text>
<text class="t" x="218.10" y="247.12" font-size="6.30" text-anchor="end">2</text>
<text class="t" x="218.10" y="227.38" font-size="6.30" text-anchor="end">3</text>
<text class="t" x="218.10" y="207.64" font-size="6.30" text-anchor="end">4</text>
<text class="t" x="218.10" y="187.90" font-size="6.30" text-anchor="end">5</text>
<path d="M226.79 283.40v-1.6M226.79 184.70v1.6M241.37 283.40v-1.6M241.37 184.70v1.6M255.95 283.40v-1.6M255.95 184.70v1.6M270.53 283.40v-1.6M270.53 184.70v1.6M285.11 283.40v-1.6M285.11 184.70v1.6M219.50 263.66h1.6M292.40 263.66h-1.6M219.50 243.92h1.6M292.40 243.92h-1.6M219.50 224.18h1.6M292.40 224.18h-1.6M219.50 204.44h1.6M292.40 204.44h-1.6" stroke="#262626" stroke-width="0.6" fill="none"/>
<text class="b" x="255.95" y="300.1" font-size="6.7" text-anchor="middle">Latitude (deg.)</text>
<text class="b" x="257.20" y="176.1" font-size="6.7" text-anchor="middle">Swarm B (518.5 km)</text>
<text class="b" x="220.40" y="194.40" font-size="9.8">(d)</text>
<text x="220.30" y="183.3" font-size="6.8">×10<tspan dy="-2.7" font-size="5">5</tspan></text>
<text class="b" transform="translate(208.40 234.3) rotate(-90)" font-size="7.0" text-anchor="middle">n<tspan dy="1.9" font-size="5.3">e</tspan><tspan dy="-1.9"> (10</tspan><tspan dy="-2.6" font-size="5.3">5</tspan><tspan dy="2.6"> cm</tspan><tspan dy="-2.6" font-size="5.3">-3</tspan><tspan dy="2.6">)</tspan></text>
<defs><clipPath id="cpe"><rect x="321.70" y="185.70" width="68.80" height="97.70"/></clipPath></defs>
<path d="M344.63 185.70V283.40M367.57 185.70V283.40M321.70 275.69H390.50M321.70 262.83H390.50M321.70 249.98H390.50M321.70 237.12H390.50M321.70 224.27H390.50M321.70 211.41H390.50M321.70 198.56H390.50" stroke="#dfdfdf" stroke-width="0.6" fill="none"/>
<g clip-path="url(#cpe)">
<path d="M349.60 236.50C349.43 237.25 349.00 239.40 348.60 241.00C348.20 242.60 347.67 244.43 347.20 246.10C346.73 247.77 346.30 249.33 345.80 251.00C345.30 252.67 344.72 254.50 344.20 256.10C343.68 257.70 343.20 259.08 342.70 260.60C342.20 262.12 341.70 263.67 341.20 265.20C340.70 266.73 340.20 268.30 339.70 269.80C339.20 271.30 338.63 272.73 338.20 274.20C337.77 275.67 337.43 277.07 337.10 278.60C336.77 280.13 336.35 282.60 336.20 283.40" stroke="#a8a8a8" stroke-width="0.95" stroke-dasharray="4.2 3" fill="none"/>
<path d="M321.70 211.20C321.97 211.73 322.73 213.40 323.30 214.40C323.87 215.40 324.42 216.23 325.10 217.20C325.78 218.17 326.57 219.20 327.40 220.20C328.23 221.20 328.97 222.20 330.10 223.20C331.23 224.20 332.75 225.30 334.20 226.20C335.65 227.10 337.30 227.80 338.80 228.60C340.30 229.40 342.00 230.27 343.20 231.00C344.40 231.73 345.27 232.30 346.00 233.00C346.73 233.70 347.37 234.43 347.60 235.20C347.83 235.97 347.63 236.78 347.40 237.60C347.17 238.42 346.87 239.17 346.20 240.10C345.53 241.03 344.40 242.20 343.40 243.20C342.40 244.20 341.27 245.10 340.20 246.10C339.13 247.10 338.00 248.20 337.00 249.20C336.00 250.20 334.97 251.12 334.20 252.10C333.43 253.08 332.92 254.10 332.40 255.10C331.88 256.10 331.45 257.02 331.10 258.10C330.75 259.18 330.47 260.42 330.30 261.60C330.13 262.78 330.08 264.00 330.10 265.20C330.12 266.40 330.23 267.63 330.40 268.80C330.57 269.97 330.80 270.97 331.10 272.20C331.40 273.43 331.85 274.87 332.20 276.20C332.55 277.53 332.95 279.00 333.20 280.20C333.45 281.40 333.62 282.87 333.70 283.40" stroke="#000" stroke-width="1.2" stroke-dasharray="4.4 3.2" fill="none"/>
<path d="M373.6 241.4C374.8 247 376.3 254 377.6 261" stroke="#8ec0ee" stroke-width="0.6" stroke-dasharray="2.6 1.6" fill="none"/>
<path d="M334.90 184.70C335.13 185.58 335.80 188.27 336.30 190.00C336.80 191.73 337.33 193.40 337.90 195.10C338.47 196.80 339.03 198.52 339.70 200.20C340.37 201.88 341.07 203.50 341.90 205.20C342.73 206.90 343.70 208.73 344.70 210.40C345.70 212.07 346.87 213.78 347.90 215.20C348.93 216.62 349.90 217.73 350.90 218.90C351.90 220.07 352.73 221.08 353.90 222.20C355.07 223.32 356.61 224.47 357.90 225.60C359.19 226.73 360.50 227.93 361.65 229.00C362.80 230.07 363.69 230.98 364.80 232.00C365.91 233.02 367.27 234.12 368.30 235.10C369.33 236.08 370.23 236.95 371.00 237.90C371.77 238.85 372.63 239.95 372.90 240.80C373.17 241.65 372.87 242.35 372.60 243.00C372.33 243.65 372.00 244.07 371.30 244.70C370.60 245.33 369.40 246.13 368.40 246.80C367.40 247.47 366.12 248.10 365.30 248.70C364.48 249.30 363.90 249.83 363.50 250.40C363.10 250.97 362.93 251.55 362.90 252.10C362.87 252.65 363.07 253.20 363.30 253.70C363.53 254.20 363.65 254.43 364.30 255.10C364.95 255.77 366.20 256.85 367.20 257.70C368.20 258.55 369.17 259.28 370.30 260.20C371.43 261.12 372.83 262.27 374.00 263.20C375.17 264.13 376.43 264.93 377.30 265.80C378.17 266.67 378.70 267.50 379.20 268.40C379.70 269.30 380.03 270.30 380.30 271.20C380.57 272.10 380.73 272.97 380.80 273.80C380.87 274.63 380.80 275.20 380.70 276.20C380.60 277.20 380.43 278.60 380.20 279.80C379.97 281.00 379.45 282.80 379.30 283.40" stroke="#3380e6" stroke-width="1.25" fill="none" stroke-linejoin="round"/>
<path d="M363.6 250.0L366.8 245.2L370.0 250.0Z" stroke="#3380e6" stroke-width="0.9" fill="none"/>
<text class="b" x="321.4" y="241.9" font-size="7.3">40min</text>
<text class="b" x="345.2" y="271.4" font-size="7.1" style="fill:#a9a9a9">0min</text>
</g>
<path d="M343.20 193.10H363.40" stroke="#3380e6" stroke-width="1.25" fill="none"/>
<path d="M343.20 201.10H363.40" stroke="#000" stroke-width="1.1" stroke-dasharray="4.2 4.1" fill="none"/>
<text class="b" x="365.70" y="195.15" font-size="5.7">C01-G11</text>
<text class="b" x="365.70" y="203.15" font-size="5.7">Sim-TEC</text>
<rect x="321.70" y="185.70" width="68.80" height="97.70" fill="none" stroke="#262626" stroke-width="0.7"/>
<text class="t" x="321.70" y="291.8" font-size="5.55" text-anchor="middle">0</text>
<text class="t" x="344.63" y="291.8" font-size="5.55" text-anchor="middle">100</text>
<text class="t" x="367.57" y="291.8" font-size="5.55" text-anchor="middle">200</text>
<text class="t" x="390.50" y="291.8" font-size="5.55" text-anchor="middle">300</text>
<text class="t" x="319.50" y="278.14" font-size="5.55" text-anchor="end">150</text>
<text class="t" x="319.50" y="265.28" font-size="5.55" text-anchor="end">200</text>
<text class="t" x="319.50" y="252.43" font-size="5.55" text-anchor="end">250</text>
<text class="t" x="319.50" y="239.57" font-size="5.55" text-anchor="end">300</text>
<text class="t" x="319.50" y="226.72" font-size="5.55" text-anchor="end">350</text>
<text class="t" x="319.50" y="213.86" font-size="5.55" text-anchor="end">400</text>
<text class="t" x="319.50" y="201.01" font-size="5.55" text-anchor="end">450</text>
<text class="t" x="319.50" y="188.15" font-size="5.55" text-anchor="end">500</text>
<path d="M344.63 283.40v-1.6M344.63 185.70v1.6M367.57 283.40v-1.6M367.57 185.70v1.6M321.70 275.69h1.6M390.50 275.69h-1.6M321.70 262.83h1.6M390.50 262.83h-1.6M321.70 249.98h1.6M390.50 249.98h-1.6M321.70 237.12h1.6M390.50 237.12h-1.6M321.70 224.27h1.6M390.50 224.27h-1.6M321.70 211.41h1.6M390.50 211.41h-1.6M321.70 198.56h1.6M390.50 198.56h-1.6" stroke="#262626" stroke-width="0.6" fill="none"/>
<text class="b" x="356.10" y="300.1" font-size="6.7" text-anchor="middle">TEC (TECU)</text>
<text class="b" x="356.10" y="174.8" font-size="6.7" text-anchor="middle">COSMIC G11</text>
<text class="b" x="356.10" y="182.5" font-size="6.7" text-anchor="middle">TEC Profile</text>
<text class="b" x="322.65" y="195.90" font-size="9.8">(e)</text>
<text class="b" transform="translate(306.90 234.3) rotate(-90)" font-size="6.85" text-anchor="middle">Altitude (km)</text>
<defs><clipPath id="cpf"><rect x="416.70" y="185.70" width="69.70" height="97.70"/></clipPath></defs>
<path d="M439.70 185.70V283.40M462.71 185.70V283.40M485.71 185.70V283.40M416.70 275.69H486.40M416.70 262.83H486.40M416.70 249.98H486.40M416.70 237.12H486.40M416.70 224.27H486.40M416.70 211.41H486.40M416.70 198.56H486.40" stroke="#dfdfdf" stroke-width="0.6" fill="none"/>
<g clip-path="url(#cpf)">
<path d="M427.10 200.10C427.58 201.05 429.00 203.95 430.00 205.80C431.00 207.65 432.17 209.70 433.10 211.20C434.03 212.70 434.75 213.63 435.60 214.80C436.45 215.97 437.43 217.13 438.20 218.20C438.97 219.27 439.53 220.20 440.20 221.20C440.87 222.20 441.60 223.30 442.20 224.20C442.80 225.10 443.30 225.80 443.80 226.60C444.30 227.40 444.73 227.93 445.20 229.00C445.67 230.07 446.20 231.65 446.60 233.00C447.00 234.35 447.42 235.83 447.60 237.10C447.78 238.37 447.77 239.43 447.70 240.60C447.63 241.77 447.58 242.83 447.20 244.10C446.82 245.37 446.07 246.87 445.40 248.20C444.73 249.53 444.07 250.77 443.20 252.10C442.33 253.43 441.22 254.85 440.20 256.20C439.18 257.55 438.20 258.87 437.10 260.20C436.00 261.53 434.77 262.87 433.60 264.20C432.43 265.53 431.20 266.93 430.10 268.20C429.00 269.47 428.00 270.63 427.00 271.80C426.00 272.97 424.83 274.20 424.10 275.20C423.37 276.20 423.00 276.97 422.60 277.80C422.20 278.63 421.83 279.53 421.70 280.20C421.57 280.87 421.73 281.27 421.80 281.80C421.87 282.33 422.05 283.13 422.10 283.40" stroke="#a8a8a8" stroke-width="0.95" stroke-dasharray="4.4 4.2" fill="none"/>
<path d="M425.10 200.10C425.35 200.78 426.10 202.85 426.60 204.20C427.10 205.55 427.67 206.80 428.10 208.20C428.53 209.60 428.87 211.10 429.20 212.60C429.53 214.10 429.83 215.77 430.10 217.20C430.37 218.63 430.60 219.87 430.80 221.20C431.00 222.53 431.07 223.63 431.30 225.20C431.53 226.77 431.90 228.78 432.20 230.60C432.50 232.42 432.78 234.37 433.10 236.10C433.42 237.83 433.77 239.33 434.10 241.00C434.43 242.67 434.83 244.63 435.10 246.10C435.37 247.57 435.53 248.58 435.70 249.80C435.87 251.02 436.03 252.80 436.10 253.40" stroke="#000" stroke-width="1.2" stroke-dasharray="4.2 4.2" fill="none"/>
<path d="M450.8 213.4L455.4 221.4L460.6 227.8L465.2 233.2L469.6 238.4" stroke="#d08af0" stroke-width="0.65" stroke-dasharray="2.8 1.6" fill="none"/>
<path d="M432.10 184.70C432.77 186.05 434.75 190.23 436.10 192.80C437.45 195.37 438.85 197.70 440.20 200.10C441.55 202.50 442.87 204.85 444.20 207.20C445.53 209.55 446.93 212.10 448.20 214.20C449.47 216.30 450.63 217.97 451.80 219.80C452.97 221.63 454.20 223.87 455.20 225.20C456.20 226.53 456.97 227.00 457.80 227.80C458.63 228.60 459.03 228.88 460.20 230.00C461.37 231.12 463.28 232.98 464.80 234.50C466.32 236.02 467.78 237.42 469.30 239.10C470.82 240.78 472.40 242.77 473.90 244.60C475.40 246.43 477.12 248.52 478.30 250.10C479.48 251.68 480.17 252.77 481.00 254.10C481.83 255.43 482.68 256.97 483.30 258.10C483.92 259.23 484.37 259.98 484.70 260.90C485.03 261.82 485.23 262.68 485.30 263.60C485.37 264.52 485.27 265.47 485.10 266.40C484.93 267.33 484.65 268.13 484.30 269.20C483.95 270.27 483.50 271.63 483.00 272.80C482.50 273.97 481.90 275.03 481.30 276.20C480.70 277.37 480.07 278.60 479.40 279.80C478.73 281.00 477.65 282.80 477.30 283.40" stroke="#bf5aeb" stroke-width="1.25" fill="none" stroke-linejoin="round"/>
<path d="M447.3 218.8L450.0 213.9L452.7 218.8Z" stroke="#bf5aeb" stroke-width="0.8" fill="none"/>
<text class="b" x="417.6" y="258.6" font-size="7.3">40min</text>
<text class="b" x="447.6" y="254.3" font-size="7.1" style="fill:#a9a9a9">0min</text>
</g>
<path d="M440.20 193.10H460.30" stroke="#bf5aeb" stroke-width="1.25" fill="none"/>
<path d="M440.20 201.10H460.30" stroke="#000" stroke-width="1.1" stroke-dasharray="4.2 4.1" fill="none"/>
<text class="b" x="463.00" y="195.15" font-size="5.7">C01-G01</text>
<text class="b" x="463.00" y="203.15" font-size="5.7">Sim-TEC</text>
<rect x="416.70" y="185.70" width="69.70" height="97.70" fill="none" stroke="#262626" stroke-width="0.7"/>
<text class="t" x="416.70" y="291.8" font-size="5.55" text-anchor="middle">0</text>
<text class="t" x="439.70" y="291.8" font-size="5.55" text-anchor="middle">100</text>
<text class="t" x="462.71" y="291.8" font-size="5.55" text-anchor="middle">200</text>
<text class="t" x="485.71" y="291.8" font-size="5.55" text-anchor="middle">300</text>
<text class="t" x="414.50" y="278.14" font-size="5.55" text-anchor="end">150</text>
<text class="t" x="414.50" y="265.28" font-size="5.55" text-anchor="end">200</text>
<text class="t" x="414.50" y="252.43" font-size="5.55" text-anchor="end">250</text>
<text class="t" x="414.50" y="239.57" font-size="5.55" text-anchor="end">300</text>
<text class="t" x="414.50" y="226.72" font-size="5.55" text-anchor="end">350</text>
<text class="t" x="414.50" y="213.86" font-size="5.55" text-anchor="end">400</text>
<text class="t" x="414.50" y="201.01" font-size="5.55" text-anchor="end">450</text>
<text class="t" x="414.50" y="188.15" font-size="5.55" text-anchor="end">500</text>
<path d="M439.70 283.40v-1.6M439.70 185.70v1.6M462.71 283.40v-1.6M462.71 185.70v1.6M485.71 283.40v-1.6M485.71 185.70v1.6M416.70 275.69h1.6M486.40 275.69h-1.6M416.70 262.83h1.6M486.40 262.83h-1.6M416.70 249.98h1.6M486.40 249.98h-1.6M416.70 237.12h1.6M486.40 237.12h-1.6M416.70 224.27h1.6M486.40 224.27h-1.6M416.70 211.41h1.6M486.40 211.41h-1.6M416.70 198.56h1.6M486.40 198.56h-1.6" stroke="#262626" stroke-width="0.6" fill="none"/>
<text class="b" x="451.55" y="300.1" font-size="6.7" text-anchor="middle">TEC (TECU)</text>
<text class="b" x="451.55" y="174.8" font-size="6.7" text-anchor="middle">COSMIC G01</text>
<text class="b" x="451.55" y="182.5" font-size="6.7" text-anchor="middle">TEC Profile</text>
<text class="b" x="417.65" y="195.90" font-size="9.8">(f)</text>
<text class="b" transform="translate(401.90 234.3) rotate(-90)" font-size="6.85" text-anchor="middle">Altitude (km)</text>
</svg>
</body></html>
